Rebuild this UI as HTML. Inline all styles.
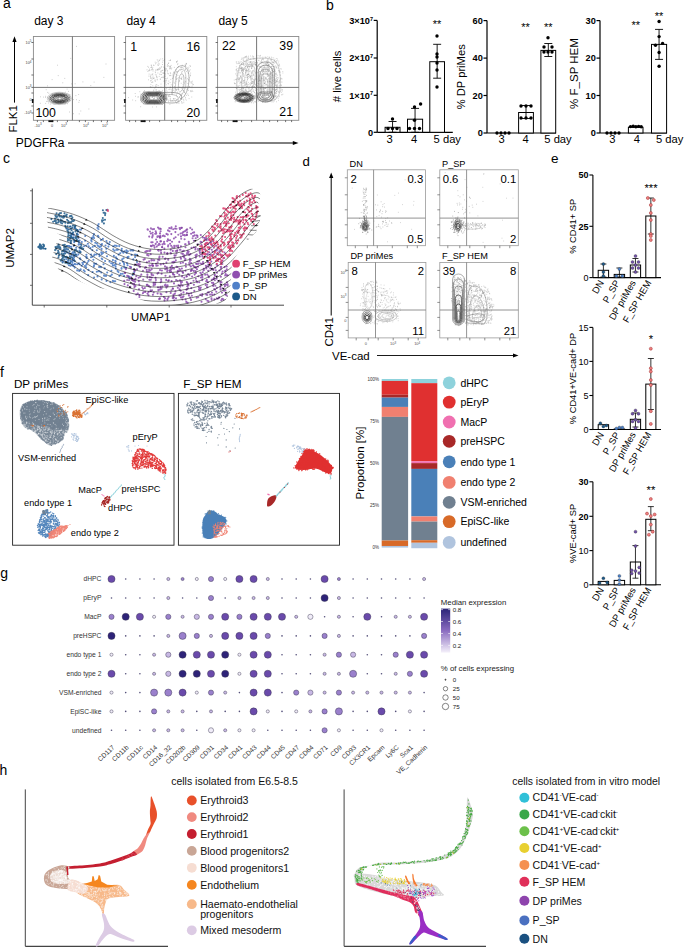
<!DOCTYPE html>
<html><head><meta charset="utf-8"><style>
html,body{margin:0;padding:0;background:#fff;}
svg{display:block;font-family:"Liberation Sans",sans-serif;}
</style></head><body>
<svg width="685" height="947" viewBox="0 0 685 947" font-family="Liberation Sans, sans-serif">
<rect width="685" height="947" fill="#fff"/>
<text x="3" y="8" font-size="14" text-anchor="start" fill="#000">a</text>
<text x="34.199999999999996" y="24.5" font-size="12" text-anchor="start" fill="#000">day 3</text>
<clipPath id="ca0"><rect x="33.4" y="36.5" width="81.2" height="83.8"/></clipPath>
<text x="126.39999999999999" y="24.5" font-size="12" text-anchor="start" fill="#000">day 4</text>
<clipPath id="ca1"><rect x="125.6" y="36.5" width="81.2" height="83.8"/></clipPath>
<text x="218.4" y="24.5" font-size="12" text-anchor="start" fill="#000">day 5</text>
<clipPath id="ca2"><rect x="217.6" y="36.5" width="81.2" height="83.8"/></clipPath>
<g clip-path="url(#ca0)">
<path d="M57.7 100.3h0M57.9 97.4h0M53.0 97.8h0M67.3 100.0h0M66.8 99.4h0M62.3 99.1h0M47.8 101.5h0M63.0 100.2h0M47.7 92.4h0M53.3 96.9h0M61.6 98.3h0M63.1 96.3h0M61.7 99.9h0M54.9 104.5h0M63.4 102.7h0M55.2 95.9h0M57.1 98.1h0M63.9 99.4h0M56.4 95.2h0M55.9 102.8h0M53.8 99.4h0M62.5 93.3h0M59.8 103.1h0M45.4 97.4h0M58.8 95.6h0M63.0 98.3h0M49.2 101.4h0M64.2 101.8h0M69.6 99.8h0M60.3 94.0h0M63.8 96.4h0M56.3 94.1h0M52.7 96.6h0M68.5 91.4h0M49.3 99.3h0M69.6 100.5h0M46.2 89.7h0M62.0 95.9h0M51.7 101.9h0M67.2 99.1h0M61.2 100.0h0M70.7 100.7h0M63.1 100.4h0M48.5 103.0h0M66.2 100.4h0M45.7 96.3h0M65.4 92.2h0M58.2 102.1h0M50.3 104.1h0M63.4 98.0h0M61.8 100.8h0M60.3 102.5h0M54.9 97.0h0M66.8 98.6h0M53.3 101.8h0M69.8 96.9h0M49.8 98.0h0M58.5 97.5h0M69.3 94.9h0M68.3 94.1h0M54.0 100.7h0M67.4 101.5h0M61.9 99.0h0M60.6 100.5h0M58.3 99.5h0M63.5 98.5h0M64.8 100.5h0M73.6 99.6h0M56.5 97.2h0M59.4 101.7h0M57.1 99.9h0M72.4 89.5h0M51.6 99.4h0M62.3 99.3h0M56.5 100.8h0M61.5 96.7h0M76.5 99.7h0M55.6 98.2h0M57.9 98.3h0M40.4 96.8h0M66.6 94.4h0M59.0 101.8h0M65.5 103.7h0M47.6 97.3h0M57.1 100.7h0M67.1 89.1h0M67.1 93.4h0M64.3 93.3h0M60.7 102.7h0M58.5 99.2h0M65.1 99.0h0M58.9 103.9h0M66.8 97.5h0M78.7 94.5h0M65.9 97.6h0M60.4 101.0h0M61.1 100.7h0M48.8 93.2h0M63.8 95.1h0M52.3 93.4h0M68.4 101.1h0M69.8 95.2h0M59.5 94.5h0M64.9 104.1h0M53.3 104.0h0M66.4 97.9h0M45.7 103.4h0M58.8 96.4h0M62.3 99.9h0M70.0 94.9h0M67.5 103.7h0M69.7 97.9h0M54.3 102.1h0M60.3 98.9h0M69.5 97.6h0M43.4 97.1h0M46.5 101.4h0M61.7 96.4h0M59.4 101.4h0M60.1 103.1h0" stroke="#888" stroke-width="0.6" stroke-linecap="round" opacity="0.8" fill="none"/>
<path d="M58.2 75.6h0M49.2 111.4h0M64.8 78.4h0M80.8 111.0h0M69.4 112.0h0M75.1 83.8h0M76.6 46.4h0M70.8 58.4h0M40.3 103.3h0M52.1 79.6h0M90.8 85.6h0M62.8 82.8h0M78.9 102.3h0M47.4 85.9h0M57.4 65.2h0M94.1 82.1h0M79.3 100.5h0M103.9 77.4h0M82.9 81.9h0M75.9 95.6h0M71.7 83.9h0M73.5 113.7h0M88.9 109.0h0M106.0 64.0h0M79.2 113.9h0" stroke="#999" stroke-width="0.6" stroke-linecap="round" opacity="1.0" fill="none"/>
<ellipse cx="59.3" cy="98.4" rx="12" ry="6.2" fill="none" stroke="#aaa" stroke-width="0.6"/>
<ellipse cx="59.37" cy="98.4" rx="10.6" ry="5.3" fill="none" stroke="#666" stroke-width="0.7"/>
<ellipse cx="59.44" cy="98.4" rx="9.2" ry="4.5" fill="none" stroke="#333" stroke-width="0.8"/>
<ellipse cx="59.51" cy="98.4" rx="7.8" ry="3.8" fill="none" stroke="#222" stroke-width="0.8"/>
<ellipse cx="59.58" cy="98.4" rx="6.4" ry="3.1" fill="none" stroke="#222" stroke-width="0.8"/>
<ellipse cx="59.65" cy="98.4" rx="5" ry="2.4" fill="none" stroke="#333" stroke-width="0.8"/>
<ellipse cx="59.724999999999994" cy="98.4" rx="3.5" ry="1.7" fill="none" stroke="#555" stroke-width="0.7"/>
<ellipse cx="59.8" cy="98.4" rx="2" ry="1" fill="none" stroke="#777" stroke-width="0.6"/>
</g>
<g clip-path="url(#ca1)">
<path d="M186.3 64.3h0M151.8 78.3h0M149.5 69.1h0M183.6 99.3h0M153.4 90.9h0M177.7 64.6h0M165.1 80.4h0M153.8 77.9h0M170.7 73.6h0M155.4 72.7h0M172.6 78.3h0M175.9 81.6h0M183.8 102.7h0M151.0 70.2h0M159.0 64.0h0M166.3 99.9h0M185.3 69.9h0M173.4 90.2h0M179.0 77.6h0M176.5 94.9h0M167.8 73.6h0M172.5 100.6h0M158.9 63.9h0M171.3 69.0h0M151.3 65.4h0M148.4 67.3h0M161.0 72.0h0M182.5 71.3h0M170.0 66.2h0M162.7 58.8h0M181.2 83.3h0M155.1 79.8h0M185.3 77.9h0M169.8 96.4h0M164.9 81.3h0M179.0 103.2h0M162.4 96.3h0M179.9 87.3h0M165.4 74.0h0M158.3 65.5h0M187.8 88.8h0M159.5 69.1h0M160.1 79.1h0M153.6 78.5h0M192.7 83.2h0M160.9 74.4h0M168.8 81.1h0M155.6 81.2h0M150.3 76.4h0M160.6 68.7h0M174.1 82.3h0M182.0 88.2h0M180.4 98.4h0M164.7 73.0h0M180.8 87.6h0M188.8 86.9h0M181.2 95.4h0M152.7 82.1h0M170.2 96.4h0M184.6 96.0h0M174.0 99.1h0M178.8 89.9h0M152.4 74.6h0M172.8 86.9h0M176.1 89.3h0M184.3 92.4h0M170.1 82.6h0M177.6 61.0h0M181.4 69.6h0M149.6 70.2h0M181.0 67.4h0M181.5 102.9h0M169.7 75.6h0M169.0 89.5h0M182.8 86.4h0M176.9 61.6h0M153.1 69.7h0M181.7 72.0h0M148.9 70.4h0M178.3 89.8h0M178.4 71.4h0M170.8 79.4h0M168.4 63.5h0M188.9 67.2h0M167.6 70.4h0M156.1 84.7h0M152.8 82.1h0M185.4 81.4h0M188.6 90.4h0M167.6 71.9h0M152.8 73.8h0M161.2 96.7h0M186.3 63.5h0M190.5 90.8h0M189.3 71.3h0M163.9 76.1h0M163.3 77.7h0M159.2 60.2h0M158.0 70.2h0M170.5 66.7h0M188.4 95.4h0M176.3 100.0h0M191.2 83.3h0M181.2 78.7h0M182.1 87.6h0M159.7 60.3h0M168.7 73.8h0M160.3 92.0h0M177.5 71.8h0M172.8 76.1h0M154.0 65.4h0M169.9 68.1h0M167.6 64.4h0M155.2 62.2h0M162.4 62.2h0M157.5 69.9h0M173.3 98.8h0M182.0 77.0h0M165.9 82.1h0M164.1 73.6h0M149.0 70.8h0M170.2 87.0h0M187.4 67.9h0M159.0 69.4h0M165.2 78.5h0M191.8 97.0h0M189.0 79.8h0M164.8 100.6h0M185.6 97.4h0M151.2 65.1h0M171.1 89.4h0M191.2 91.2h0M177.1 93.2h0M168.0 83.4h0M177.0 72.0h0M152.1 69.6h0M176.5 90.1h0M171.2 84.8h0M164.6 68.3h0M160.5 79.2h0M192.0 87.7h0M188.4 79.9h0M157.3 69.4h0M192.1 90.4h0M160.8 59.0h0M169.9 89.0h0M166.2 69.8h0M178.0 100.6h0M162.2 77.3h0M178.8 67.1h0M184.3 92.0h0M170.2 67.4h0M185.4 68.6h0M156.6 93.0h0M169.8 66.6h0M156.7 77.2h0M177.9 101.6h0M153.0 76.1h0M148.9 76.1h0M189.1 98.6h0M190.7 73.1h0M177.9 75.4h0M163.9 73.3h0M159.4 74.2h0M163.1 95.8h0M185.5 77.9h0M148.4 79.8h0M163.9 100.3h0M155.3 74.8h0M165.7 95.3h0M190.2 69.8h0M181.9 99.3h0M162.3 70.5h0M192.0 86.4h0M158.6 91.0h0M161.2 70.7h0M190.0 87.2h0M157.2 79.9h0M164.6 69.5h0M166.6 80.7h0M190.5 66.4h0M184.5 92.0h0M185.5 93.5h0M175.1 73.1h0M161.3 74.6h0M155.5 92.6h0M157.9 61.0h0M158.7 61.9h0M150.6 80.9h0M180.1 78.6h0M157.2 77.2h0M175.8 89.0h0M181.9 97.0h0M177.9 63.6h0M186.4 71.5h0M173.2 75.2h0M181.4 67.2h0M157.9 69.3h0M173.8 73.0h0M170.4 68.6h0M184.8 88.1h0M168.8 95.7h0M186.3 100.1h0M147.9 71.5h0M151.7 66.7h0M192.7 84.8h0M190.6 75.1h0M187.6 78.7h0M158.5 93.8h0M174.6 86.5h0M156.4 75.0h0M152.8 67.4h0M158.2 85.6h0M177.3 67.4h0M178.6 66.5h0M161.0 67.4h0M184.2 83.2h0M165.0 83.3h0M176.7 62.2h0M153.9 90.0h0M165.7 71.0h0M161.0 84.1h0M163.1 77.2h0M163.5 67.1h0M180.9 67.4h0M166.3 95.7h0M165.5 98.6h0M168.1 65.5h0M176.8 99.9h0M150.3 86.6h0M163.8 81.2h0M153.0 71.0h0M171.0 100.6h0M151.2 80.6h0M155.5 63.8h0M169.2 60.5h0M190.5 75.8h0M189.4 86.5h0M185.6 65.4h0M183.7 68.2h0M165.4 96.9h0M185.8 66.4h0M156.5 76.4h0M170.9 75.6h0M151.9 69.4h0M180.8 99.3h0M186.2 63.4h0M174.8 83.3h0M176.1 72.1h0M166.2 84.8h0M166.4 88.3h0M167.4 78.2h0M169.5 68.8h0M182.7 93.9h0M168.0 66.3h0M168.7 62.9h0M152.2 77.8h0M150.4 78.3h0M170.5 59.9h0M176.5 61.8h0M181.2 93.8h0M170.6 60.5h0M170.2 75.4h0M181.1 95.5h0M190.0 65.6h0M183.8 100.8h0M149.1 74.1h0M182.3 65.3h0M189.0 70.6h0M185.2 64.6h0M170.1 100.3h0M156.0 70.1h0M170.3 72.7h0M147.8 66.4h0M178.6 99.2h0M151.5 82.4h0M176.5 74.5h0M187.9 83.5h0M173.8 98.6h0M176.2 76.1h0M184.3 70.2h0M193.5 84.6h0M163.3 93.2h0M167.2 66.1h0M185.4 69.7h0M176.7 103.3h0M174.1 88.5h0M175.6 77.9h0M170.6 99.2h0M152.3 68.5h0M151.1 74.4h0M156.8 84.8h0M174.3 67.4h0M175.9 79.8h0M157.7 64.9h0M150.6 87.4h0M187.8 94.0h0M165.3 70.2h0M173.0 74.1h0M177.0 78.4h0M191.0 91.7h0M165.5 68.9h0M155.6 86.0h0M170.3 87.5h0M185.0 66.0h0M160.9 71.8h0M183.6 90.9h0M181.8 79.4h0M181.6 78.8h0M156.8 62.8h0M157.2 59.8h0M162.1 92.5h0M179.4 96.9h0M180.2 70.2h0M172.6 78.1h0M183.8 82.1h0M158.7 87.5h0M158.5 68.9h0M181.7 101.5h0M181.8 73.0h0M188.2 73.1h0M176.3 89.9h0M177.9 103.0h0M168.5 96.6h0M179.5 97.4h0M167.0 91.3h0M173.4 72.2h0M156.2 86.6h0M162.6 64.5h0M179.2 87.2h0M179.5 91.9h0M163.4 95.6h0M185.3 99.0h0M151.1 67.5h0M186.7 95.4h0M176.4 96.0h0M176.3 71.2h0M182.4 67.4h0M161.3 77.5h0M147.0 69.8h0M159.6 90.9h0M163.7 72.8h0M192.3 81.2h0M186.9 86.4h0M166.9 93.6h0M162.6 90.4h0M171.8 68.0h0M185.4 65.8h0M182.6 103.0h0M169.6 94.7h0M154.9 80.8h0M162.7 96.3h0M159.6 67.9h0M179.6 80.9h0M151.3 87.3h0M179.5 94.2h0M176.1 74.4h0M165.3 76.2h0M155.9 70.1h0M189.3 81.1h0M164.2 98.7h0M157.2 79.2h0M171.5 92.7h0M182.1 87.7h0M162.7 73.0h0M177.8 92.1h0M154.1 78.2h0M183.1 84.6h0M152.1 79.3h0M188.5 68.9h0M155.2 71.9h0M179.8 96.8h0M153.4 65.2h0M157.9 73.0h0M171.1 65.4h0M161.7 66.7h0M192.8 91.5h0M150.9 75.7h0M181.2 78.0h0M155.4 87.3h0M151.1 67.5h0M164.6 59.6h0M165.2 94.4h0M179.3 81.0h0M176.4 79.3h0M152.8 85.8h0M165.4 92.1h0M189.6 77.8h0M173.6 92.5h0M166.2 68.5h0M180.7 98.5h0M183.2 90.2h0M186.9 89.3h0M176.8 78.9h0M161.0 86.9h0M150.7 77.3h0M183.6 90.8h0M176.2 69.5h0M166.3 78.9h0M175.8 76.8h0M178.4 100.8h0M154.8 88.1h0M183.4 75.9h0M191.1 81.9h0M150.9 84.4h0M172.0 91.0h0M170.6 87.4h0M185.8 82.0h0M156.1 89.5h0M164.8 93.1h0M163.1 60.6h0M159.2 76.4h0M166.2 90.1h0M162.9 70.2h0M156.8 92.1h0M191.1 82.2h0M156.5 94.9h0M164.8 67.8h0M184.9 87.2h0M168.5 83.9h0" stroke="#888" stroke-width="0.6" stroke-linecap="round" opacity="0.8" fill="none"/>
<path d="M156.5 106.9h0M145.2 102.0h0M159.9 92.1h0M145.6 98.6h0M148.6 97.5h0M157.2 95.2h0M157.2 95.8h0M148.1 99.9h0M147.8 99.0h0M167.4 98.1h0M151.7 100.6h0M149.7 101.8h0M141.5 100.2h0M148.4 95.2h0M168.9 95.0h0M168.8 100.3h0M166.1 94.6h0M163.8 103.1h0M152.0 97.5h0M175.1 98.6h0M149.2 95.8h0M157.0 99.2h0M154.6 104.0h0M150.0 99.7h0M166.1 94.5h0M162.3 104.4h0M140.8 94.2h0M143.7 91.5h0M157.1 91.5h0M157.5 103.1h0M138.5 96.9h0M135.7 100.7h0M146.4 97.1h0M153.5 99.9h0M149.9 98.1h0M148.1 98.4h0M142.4 98.2h0M135.6 96.3h0M170.2 98.3h0M141.7 98.9h0M144.2 92.2h0M146.4 100.6h0M156.5 97.7h0M144.7 94.2h0M165.1 98.9h0M144.4 90.6h0M140.7 106.7h0M142.7 97.7h0M154.9 97.4h0M150.5 93.2h0M143.5 103.9h0M146.2 101.0h0M137.8 97.0h0M155.3 101.6h0M142.9 100.1h0M156.5 95.4h0M157.3 94.9h0M145.8 97.9h0M128.6 97.6h0M144.0 92.9h0M149.2 100.7h0M149.4 102.4h0M142.6 93.4h0M167.0 99.4h0M161.5 95.1h0M160.2 98.9h0M158.8 98.1h0M163.9 95.7h0M144.3 92.8h0M163.4 95.4h0M143.6 94.7h0M149.0 93.6h0M150.4 95.8h0M148.0 94.6h0M153.3 96.4h0M154.0 98.9h0M156.1 90.3h0M148.2 95.2h0M160.0 92.5h0M146.6 97.0h0M150.0 101.5h0M149.0 101.4h0M139.8 91.7h0M164.0 99.5h0M157.4 98.4h0M157.4 93.7h0M161.5 96.1h0M161.9 98.3h0M135.2 93.5h0M163.1 97.5h0M149.4 98.8h0M149.2 96.1h0M153.9 98.5h0M166.7 98.2h0M169.9 104.3h0M168.4 101.7h0M154.2 98.5h0M151.7 95.4h0M152.4 95.8h0M167.8 99.9h0M149.0 91.3h0M152.5 96.5h0M143.2 94.0h0M132.7 100.0h0M152.4 107.0h0M152.7 97.5h0M166.0 98.5h0M154.5 96.7h0M147.6 103.2h0M162.0 104.0h0M149.9 98.1h0M145.1 101.4h0M140.5 100.0h0M162.9 102.9h0M144.5 101.8h0M146.6 95.4h0M141.1 102.0h0M167.8 95.9h0M146.2 96.8h0M175.6 101.5h0" stroke="#777" stroke-width="0.6" stroke-linecap="round" opacity="0.7" fill="none"/>
<rect x="140.5" y="91.7" width="26.0" height="12.6" rx="5.984999999999999" fill="none" stroke="#777" stroke-width="0.6"/>
<rect x="141.9" y="92.5" width="23.19999999999999" height="11.0" rx="5.225" fill="none" stroke="#444" stroke-width="0.7"/>
<rect x="143.3" y="93.3" width="20.399999999999977" height="9.4" rx="4.465" fill="none" stroke="#222" stroke-width="0.8"/>
<rect x="144.7" y="94.1" width="17.600000000000023" height="7.8" rx="3.7049999999999996" fill="none" stroke="#222" stroke-width="0.8"/>
<rect x="146.1" y="94.8" width="14.800000000000011" height="6.4" rx="3.04" fill="none" stroke="#333" stroke-width="0.8"/>
<rect x="147.5" y="95.5" width="12.0" height="5.0" rx="2.375" fill="none" stroke="#444" stroke-width="0.7"/>
<rect x="149.0" y="96.2" width="9.0" height="3.6" rx="1.71" fill="none" stroke="#666" stroke-width="0.6"/>
<path d="M160 93 C170 92 178 92 181 95 C183 99 180 103 172 103 C166 103 161 102 158 101" fill="none" stroke="#777" stroke-width="0.6"/>
<path d="M160 95 C168 94 176 94 178 97 C179 100 176 101 170 101" fill="none" stroke="#999" stroke-width="0.6"/>
<path d="M172 95 C173 85 172 72 178 67 C184 63 189 68 189 78 C189 88 186 96 181 99" fill="none" stroke="#888" stroke-width="0.6"/>
<path d="M175 93 C176 84 175 74 179 70 C184 67 186 72 186 80 C186 88 184 93 180 96" fill="none" stroke="#aaa" stroke-width="0.6"/>
<path d="M178 90 C179 84 178 77 181 74 C184 73 184 78 184 83 C184 88 182 91 180 92" fill="none" stroke="#999" stroke-width="0.6"/>
</g>
<g clip-path="url(#ca2)">
<path d="M268.5 94.7h0M250.3 84.1h0M281.9 94.9h0M263.5 69.8h0M255.0 97.6h0M252.5 87.9h0M263.5 98.0h0M273.6 68.6h0M254.7 83.2h0M274.0 97.6h0M236.1 95.0h0M273.8 96.6h0M262.0 68.1h0M275.7 93.7h0M267.5 98.9h0M251.0 59.1h0M261.1 93.3h0M243.8 91.0h0M279.7 66.2h0M263.7 87.5h0M256.8 64.9h0M246.5 91.1h0M272.8 77.1h0M238.3 93.7h0M271.8 66.2h0M262.4 98.1h0M277.4 80.0h0M257.4 83.3h0M243.3 64.2h0M242.9 88.7h0M251.8 82.1h0M253.7 79.8h0M282.9 73.0h0M239.2 85.4h0M272.6 62.5h0M263.3 71.6h0M259.5 56.0h0M276.4 78.3h0M261.8 67.6h0M272.2 75.4h0M280.4 91.8h0M274.1 101.2h0M246.4 56.8h0M243.8 63.7h0M261.3 96.8h0M256.5 100.5h0M263.3 74.1h0M239.9 101.0h0M246.6 82.1h0M265.4 100.9h0M266.8 73.9h0M256.0 62.7h0M244.9 56.9h0M246.5 71.9h0M278.2 98.4h0M272.5 89.1h0M265.7 102.3h0M236.7 62.0h0M271.0 100.1h0M267.2 69.3h0M263.0 91.4h0M239.2 70.5h0M246.6 61.0h0M257.6 63.1h0M245.7 61.9h0M269.1 64.4h0M244.8 99.8h0M276.5 97.7h0M240.8 76.5h0M238.8 99.6h0M275.3 85.2h0M256.2 71.3h0M274.3 77.9h0M264.8 61.9h0M244.9 57.7h0M269.0 81.6h0M241.1 96.8h0M247.1 74.8h0M241.6 68.0h0M275.1 71.1h0M242.2 78.6h0M249.6 98.4h0M236.8 98.0h0M266.7 65.1h0M257.4 68.7h0M246.6 64.7h0M251.8 102.6h0M238.8 68.9h0M269.6 69.1h0M273.5 71.4h0M274.8 80.3h0M243.1 75.9h0M278.7 65.5h0M262.0 61.6h0M242.8 92.0h0M268.9 64.4h0M263.8 78.8h0M247.4 64.9h0M264.0 89.0h0M273.8 83.0h0M243.9 58.2h0M269.9 74.6h0M269.4 57.7h0M273.7 71.1h0M275.3 96.5h0M258.2 55.7h0M278.6 77.9h0M276.7 67.8h0M243.1 94.9h0M252.0 62.8h0M252.2 83.6h0M234.2 80.0h0M255.8 79.8h0M239.9 89.3h0M274.0 96.5h0M249.7 89.1h0M252.7 91.1h0M237.0 96.9h0M280.7 78.8h0M259.2 80.5h0M260.3 56.0h0M242.9 59.9h0M246.3 94.2h0M268.2 64.4h0M234.9 83.8h0M262.2 80.1h0M268.4 59.9h0M276.6 89.4h0M258.2 79.0h0M247.7 60.9h0M253.9 61.6h0M263.0 96.3h0M241.2 82.5h0M270.6 62.9h0M274.5 100.0h0M253.0 75.2h0M275.1 80.2h0M253.4 100.2h0M272.1 71.3h0M245.8 71.1h0M255.3 102.1h0M273.4 98.8h0M273.9 95.7h0M236.6 79.8h0M246.2 75.3h0M265.0 72.5h0M260.0 58.3h0M255.2 79.2h0M281.5 92.3h0M279.9 85.4h0M273.7 97.4h0M265.4 67.8h0M267.2 68.1h0M260.6 99.4h0M264.4 67.0h0M259.5 75.8h0M280.6 68.8h0M249.0 86.1h0M239.9 83.5h0M280.8 79.7h0M247.2 77.4h0M260.2 62.1h0M240.1 61.3h0M248.4 74.5h0M248.1 66.7h0M238.3 81.2h0M275.1 84.3h0M261.9 86.2h0M243.9 89.1h0M256.6 81.3h0M264.0 77.5h0M249.2 66.6h0M244.9 79.6h0M252.8 83.1h0M276.2 66.4h0M261.3 78.6h0M248.0 102.4h0M248.5 92.1h0M241.8 58.2h0M276.7 76.1h0M237.0 73.6h0M255.6 90.3h0M239.4 65.8h0M281.0 90.5h0M241.6 71.2h0M251.3 87.4h0M264.2 95.8h0M274.2 79.9h0M270.2 90.7h0M271.2 77.8h0M272.5 89.0h0M278.8 61.1h0M271.5 83.1h0M258.4 101.2h0M262.0 75.1h0M272.4 96.9h0M263.8 73.2h0M256.2 77.0h0M269.4 69.1h0M253.1 81.7h0M252.8 70.5h0M272.6 95.8h0M258.5 76.3h0M243.0 69.6h0M241.1 82.6h0M262.5 59.2h0M279.1 70.5h0M275.3 95.2h0M254.9 98.7h0M261.7 78.9h0M279.1 92.1h0M259.4 79.8h0M267.6 73.7h0M251.5 83.5h0M251.2 100.5h0M267.1 80.2h0M238.8 73.0h0M253.6 81.9h0M262.1 97.2h0M281.3 78.4h0M255.6 85.0h0M282.8 71.5h0M260.0 94.2h0M242.4 70.3h0M281.9 94.6h0M259.1 60.3h0M277.8 88.1h0M277.5 75.2h0M241.7 68.9h0M259.1 79.2h0M243.2 63.8h0M264.9 84.0h0M251.3 102.7h0M265.2 57.0h0M254.2 92.8h0M249.0 88.2h0M275.3 83.1h0M266.7 64.4h0M258.4 81.6h0M247.0 86.0h0M262.1 74.7h0M240.0 62.5h0M271.2 60.1h0M238.9 63.2h0M259.6 94.5h0M264.0 93.7h0M271.8 70.5h0M269.1 72.0h0M242.3 67.8h0M238.9 98.4h0M262.5 71.7h0M256.0 73.5h0M236.7 97.7h0M262.6 101.1h0M255.5 84.8h0M246.2 57.1h0M279.6 96.0h0M249.4 98.1h0M274.0 69.6h0M263.5 101.1h0M258.3 100.6h0M245.9 73.7h0M269.2 65.6h0M249.1 97.0h0M257.7 93.1h0M245.9 63.3h0M251.6 64.0h0M281.6 69.0h0M261.5 60.5h0M260.2 73.5h0M253.8 58.1h0M240.0 94.6h0M251.2 66.8h0M243.4 68.6h0M245.6 56.7h0M266.5 71.4h0M241.6 88.9h0M238.5 67.9h0M274.9 61.1h0M255.7 95.1h0M273.4 62.6h0M251.3 89.7h0M252.5 101.0h0M244.2 100.6h0M258.7 65.9h0M256.2 61.3h0M268.6 67.5h0M278.1 83.2h0M252.0 66.8h0M263.8 65.2h0M276.7 60.9h0M259.1 81.0h0M247.3 92.0h0M252.9 86.6h0M261.8 69.9h0M253.1 59.1h0M242.7 95.8h0M249.7 86.8h0M239.3 82.0h0M251.7 79.0h0M248.6 58.2h0M249.3 65.9h0M240.2 89.4h0M247.8 74.4h0M278.5 92.2h0M277.3 96.3h0M240.5 68.3h0M235.4 87.6h0M266.5 71.9h0M254.2 86.6h0M268.3 66.9h0M275.5 71.9h0M264.8 63.7h0M239.6 98.8h0M270.0 89.2h0M241.9 64.5h0M248.9 73.3h0M235.9 69.9h0M265.3 63.6h0M275.1 82.4h0M269.1 67.2h0M255.3 87.8h0M274.9 92.3h0M248.0 57.1h0M275.9 84.2h0M236.3 66.7h0M239.4 93.0h0M244.3 98.9h0M270.7 59.1h0M268.0 73.9h0M270.6 94.8h0M247.8 59.3h0M280.4 75.4h0M279.6 88.2h0M270.2 94.8h0M264.8 76.7h0M236.7 88.5h0M255.0 79.6h0M271.3 57.1h0M268.4 93.7h0M246.8 81.2h0M281.5 85.6h0M260.7 67.0h0M236.9 72.2h0M254.2 64.7h0M249.2 61.6h0M268.6 87.2h0M245.7 66.6h0M259.3 76.4h0M279.9 71.9h0M248.7 97.5h0M241.0 82.0h0M250.3 94.1h0M260.9 91.5h0M242.3 87.0h0M263.3 77.1h0M271.5 94.9h0M239.6 68.9h0M251.7 64.9h0M237.0 68.5h0M243.7 88.7h0M256.0 60.4h0M249.9 77.5h0M251.8 63.1h0M282.6 91.0h0M238.1 89.4h0M282.0 82.1h0M239.3 78.5h0M255.3 64.1h0M260.6 55.4h0M279.1 85.9h0M264.8 99.9h0M266.0 67.1h0M246.1 61.7h0M235.4 92.2h0M275.1 69.2h0M243.1 85.6h0M275.4 99.5h0M242.3 92.7h0M274.7 90.6h0M250.0 63.9h0M274.4 70.4h0M252.1 81.5h0M252.1 94.9h0M245.7 57.0h0M261.8 85.2h0M274.2 88.9h0M278.4 100.4h0M258.2 79.0h0M241.7 69.4h0M262.5 58.9h0M267.7 62.9h0M255.7 101.6h0M255.5 64.2h0M275.2 96.1h0M272.6 75.4h0M247.9 86.8h0M259.2 75.2h0M250.6 76.1h0M266.6 94.7h0M278.3 62.9h0M248.5 76.3h0M261.6 71.7h0M243.6 59.1h0M249.9 77.1h0M276.4 101.8h0M281.1 84.8h0M273.7 57.9h0M267.1 84.2h0M248.6 82.4h0M280.7 78.1h0M265.7 69.4h0M250.8 97.5h0M267.3 76.5h0M238.2 86.7h0M252.2 82.9h0M254.4 80.4h0M261.7 74.0h0M239.6 63.7h0M277.6 81.3h0M239.5 96.4h0M246.4 59.6h0M260.0 67.1h0M258.0 81.6h0M245.1 82.5h0M239.5 79.6h0M262.8 58.9h0M254.0 58.5h0M255.5 96.4h0M261.0 89.3h0M271.1 60.5h0M282.5 89.6h0M239.0 94.9h0M253.2 63.2h0M281.0 82.0h0M272.0 61.6h0M272.0 57.8h0M245.6 72.9h0M234.7 83.5h0M244.4 69.4h0M268.7 75.4h0M277.5 84.8h0M276.7 82.0h0M279.0 96.8h0M242.2 90.8h0M250.7 91.7h0M267.3 94.6h0M240.0 72.9h0M270.1 100.5h0M269.4 57.1h0M263.6 59.8h0M260.9 93.5h0M239.5 99.4h0M267.1 67.2h0M243.5 76.4h0M275.1 82.9h0M239.4 93.4h0M243.1 81.6h0M248.2 88.0h0M252.7 61.9h0M276.9 80.8h0M267.8 93.8h0M250.8 62.2h0M258.6 96.9h0M242.9 94.3h0M267.3 73.8h0M257.3 62.6h0M275.4 73.9h0M276.8 84.3h0M237.7 70.8h0M244.6 97.9h0M262.9 57.1h0M242.3 72.3h0M256.9 82.7h0M253.0 72.0h0M234.3 82.8h0M250.4 56.0h0M256.5 102.3h0M236.2 62.0h0M266.9 68.1h0M247.4 79.0h0M246.8 82.3h0M259.9 100.9h0M261.5 92.0h0M276.7 92.2h0M265.0 85.5h0M251.8 68.5h0M273.0 96.9h0M280.0 87.7h0M248.9 91.6h0M270.2 79.4h0M265.1 71.8h0M261.0 74.5h0M237.0 71.2h0M249.8 102.4h0M257.6 72.6h0M245.9 66.3h0M251.1 61.5h0M256.2 76.4h0M261.9 69.5h0M242.3 58.2h0M248.8 69.8h0M269.6 81.5h0M279.9 71.3h0M279.1 83.0h0M237.9 63.6h0M262.4 102.4h0M251.5 92.2h0M255.0 96.7h0M237.3 78.3h0M278.1 68.2h0M246.6 56.1h0M242.1 67.9h0M268.5 65.5h0M253.6 64.6h0M263.5 96.5h0M265.8 64.4h0M270.0 101.2h0M263.5 58.8h0M273.7 97.0h0M250.7 61.6h0M243.2 80.8h0M276.9 85.7h0M279.2 65.2h0M250.0 91.0h0M265.8 74.5h0M267.3 71.2h0M236.8 74.9h0M236.2 85.1h0M250.4 78.7h0M263.3 67.3h0M256.7 55.7h0M279.3 82.1h0M264.1 89.8h0M250.1 59.5h0M241.7 61.8h0M271.6 59.3h0M273.9 75.3h0M260.4 83.2h0M261.2 86.6h0M263.5 70.9h0M270.3 67.4h0M268.9 91.6h0M272.0 69.8h0M271.9 101.9h0M256.2 68.4h0M259.6 100.2h0M257.3 86.5h0M271.9 72.4h0M271.1 59.3h0M236.9 79.1h0M261.2 63.7h0M280.0 72.5h0M241.3 63.5h0M270.1 99.2h0M272.1 66.6h0M282.1 78.9h0M265.2 71.5h0M273.2 77.1h0M249.9 98.4h0M239.3 90.2h0M237.2 86.0h0M253.7 96.5h0M236.9 82.1h0M254.1 99.1h0M280.3 85.1h0M245.0 67.1h0M246.9 75.8h0M245.3 64.8h0M271.2 85.9h0M248.6 102.7h0M244.6 82.3h0M241.7 96.4h0M276.6 67.8h0M270.8 94.5h0M247.8 70.9h0M257.8 97.8h0M241.9 87.8h0M263.3 76.7h0M262.4 97.4h0M244.3 97.4h0M251.7 92.4h0M276.3 63.8h0M248.6 56.2h0M241.4 90.3h0M238.8 63.1h0M267.5 59.3h0M250.6 99.1h0M269.1 97.3h0M245.5 93.0h0M267.8 56.8h0M258.7 66.1h0M255.1 60.0h0M249.5 97.2h0M239.9 78.4h0M240.7 75.6h0M242.8 87.9h0M241.2 90.4h0M258.5 60.4h0M251.3 78.8h0M279.0 71.8h0M244.5 101.4h0M277.3 90.1h0M247.4 63.5h0M247.0 58.3h0M236.1 79.4h0M254.0 81.7h0M267.7 86.3h0M260.7 81.3h0M267.8 102.2h0M276.8 89.5h0M253.6 70.3h0M254.5 101.7h0M253.0 73.5h0M254.1 61.9h0M263.8 99.5h0M246.5 84.3h0M252.5 66.6h0M243.7 60.6h0M275.3 92.6h0M268.0 70.6h0M265.7 81.3h0M249.5 101.6h0M275.8 79.5h0M245.5 85.2h0M270.4 73.2h0M268.9 73.9h0M259.8 84.4h0M267.2 70.5h0M264.8 81.1h0M244.9 84.4h0M247.0 98.6h0M257.2 89.6h0M259.6 77.9h0M244.8 61.8h0M279.4 80.4h0M259.7 80.3h0M273.9 66.5h0M242.4 94.5h0M256.6 85.7h0M274.5 97.9h0M252.7 94.9h0M274.1 60.9h0M241.5 67.1h0M239.0 72.1h0M273.4 80.0h0M256.2 59.2h0M253.4 102.9h0M268.1 76.6h0M257.4 93.3h0M271.2 62.2h0M267.3 72.6h0M259.5 66.4h0M252.2 71.3h0M252.7 55.9h0M243.8 82.4h0M236.8 63.6h0M269.2 68.2h0M249.9 66.6h0M274.9 59.4h0M265.2 96.2h0M243.9 75.3h0M272.8 84.7h0M252.2 57.1h0M255.7 72.6h0M268.9 69.2h0M254.0 86.1h0M273.7 71.9h0M252.9 82.8h0M279.3 64.2h0M281.6 89.2h0M252.2 86.9h0M250.1 58.4h0M271.0 73.2h0M259.8 78.8h0M278.2 91.3h0M235.3 83.5h0M256.7 77.2h0M275.1 74.9h0M257.2 97.7h0M255.6 78.6h0M259.1 94.6h0M266.8 90.5h0M253.7 56.9h0M267.3 81.6h0M271.7 92.0h0M239.8 65.6h0M237.8 94.2h0M270.9 82.1h0M236.7 87.7h0M268.8 78.2h0M236.7 88.2h0M254.5 83.0h0M282.9 94.2h0M276.7 62.0h0M250.4 79.9h0M247.5 67.6h0M249.3 67.2h0M276.1 81.7h0M259.0 75.2h0M236.5 69.6h0M276.5 93.5h0M276.0 67.3h0M243.9 57.5h0M260.3 72.9h0M256.7 78.5h0M262.6 72.6h0M273.3 64.6h0M279.0 81.7h0M236.5 70.1h0M260.1 74.6h0M261.7 70.5h0M247.4 93.2h0M248.3 89.1h0M273.3 83.4h0M256.3 99.9h0M255.8 97.1h0M236.8 75.8h0M265.3 57.4h0M276.3 58.5h0M263.2 63.6h0M279.2 81.9h0M273.2 78.9h0M267.0 87.4h0M248.4 65.1h0M275.1 62.0h0M279.0 64.9h0M272.4 100.6h0M254.3 86.6h0M246.6 98.5h0M267.6 62.4h0M236.8 88.4h0M236.0 95.1h0M248.4 66.2h0M262.5 70.3h0M261.5 62.4h0M278.7 70.6h0M275.2 62.3h0M273.2 102.0h0M253.2 56.6h0M252.6 85.8h0M244.9 81.2h0M238.6 77.3h0M269.7 75.6h0M267.3 60.5h0M274.6 60.9h0M280.0 80.3h0M248.2 71.7h0M270.8 78.8h0M257.8 96.5h0M263.3 81.0h0M238.3 61.7h0M247.3 97.9h0M275.4 65.9h0M263.3 101.4h0M250.9 100.3h0M266.2 57.4h0M250.3 76.6h0M246.1 90.6h0M242.8 92.8h0M248.6 58.3h0M261.4 59.6h0M261.0 92.8h0M263.2 77.1h0M235.7 79.6h0M238.8 86.0h0M240.5 82.7h0M251.3 73.0h0M266.5 62.9h0M242.3 100.2h0M250.2 95.4h0M276.8 78.1h0M241.3 59.5h0M277.1 60.6h0M258.3 80.7h0M239.8 77.5h0M242.0 80.7h0M258.8 72.6h0M243.7 74.4h0M244.0 61.1h0M245.8 96.8h0M258.6 97.7h0M257.9 93.0h0M262.0 88.1h0M245.2 91.0h0M241.5 67.7h0M235.5 73.9h0M259.4 69.0h0M277.6 59.0h0M262.3 66.2h0M263.2 92.6h0M268.8 58.0h0M246.0 83.8h0M264.3 88.2h0M273.9 71.4h0M273.7 77.2h0M280.1 74.8h0M253.9 59.2h0M246.0 90.2h0M267.3 62.3h0" stroke="#999" stroke-width="0.6" stroke-linecap="round" opacity="0.8" fill="none"/>
<path d="M251.8 65.6h0M245.9 68.8h0M251.2 99.0h0M257.2 79.9h0M269.2 96.3h0M268.1 85.5h0M246.0 85.0h0M271.8 91.5h0M241.7 88.7h0M252.0 66.5h0M276.6 86.9h0M267.8 65.4h0M271.1 97.5h0M274.2 89.8h0M271.3 92.1h0M261.6 77.4h0M271.0 91.4h0M272.8 72.0h0M276.4 81.3h0M276.7 91.5h0M248.1 93.5h0M247.3 67.9h0M256.3 69.5h0M257.7 96.3h0M265.4 88.4h0M253.7 91.4h0M269.7 87.3h0M275.7 93.0h0M254.2 63.5h0M264.1 93.5h0M251.6 83.8h0M271.5 91.7h0M238.2 79.6h0M270.5 76.7h0M262.2 78.3h0M251.4 68.5h0M252.1 93.8h0M262.8 71.7h0M241.5 70.8h0M266.0 77.7h0M264.4 92.3h0M242.8 87.3h0M239.7 92.9h0M245.4 70.9h0M276.3 74.5h0M247.0 95.6h0M262.4 95.8h0M253.8 80.0h0M276.2 80.3h0M271.2 66.5h0M245.0 97.8h0M256.2 92.4h0M248.0 74.1h0M242.0 82.1h0M272.5 80.6h0M253.1 97.1h0M273.8 86.7h0M241.0 85.0h0M255.8 98.3h0M252.5 86.4h0M263.3 75.0h0M258.9 87.1h0M274.3 79.9h0M252.5 99.0h0M240.3 93.4h0M265.3 82.3h0M255.9 90.0h0M273.6 89.2h0M268.0 61.4h0M251.0 65.5h0M276.1 95.7h0M243.8 83.5h0M261.1 61.9h0M253.7 89.9h0M263.7 71.2h0M268.5 71.6h0M259.8 76.8h0M277.1 86.0h0M270.2 87.1h0M253.2 98.5h0M266.4 87.6h0M249.1 66.5h0M261.0 93.0h0M269.7 73.9h0M243.6 80.6h0M273.1 66.5h0M267.5 66.8h0M250.5 62.1h0M249.9 75.3h0M245.5 72.4h0M250.8 77.5h0M242.3 70.4h0M253.8 75.4h0M246.2 96.4h0M256.0 93.5h0M263.5 91.1h0M250.6 66.1h0M268.3 78.8h0M260.3 86.8h0M268.1 71.0h0M252.5 96.7h0M259.2 71.5h0M263.2 70.4h0M268.9 61.7h0M271.1 82.7h0M252.1 97.6h0M248.6 69.7h0M240.8 81.9h0M268.1 87.1h0M254.5 92.3h0M242.5 72.3h0M263.8 98.7h0M263.4 87.7h0M269.0 75.8h0M275.6 89.7h0M251.7 75.7h0M270.2 74.0h0M245.4 94.9h0M259.3 80.8h0M264.8 96.1h0M243.3 73.5h0M240.6 76.5h0M258.1 94.1h0M264.7 83.1h0M254.1 82.9h0M249.0 93.8h0M269.5 93.5h0M244.0 86.9h0M268.2 80.0h0M273.9 96.0h0M267.7 92.8h0M264.0 95.1h0M243.3 88.2h0M266.2 84.5h0M249.0 62.7h0M262.1 93.0h0M248.9 68.5h0M247.0 63.8h0M265.0 99.0h0M270.1 74.4h0M266.0 62.9h0M271.5 73.0h0M243.6 71.0h0M240.4 77.8h0M260.2 92.3h0M239.6 93.1h0M242.4 69.0h0M263.2 73.6h0M251.2 82.7h0M246.7 91.7h0M246.4 93.6h0M270.3 81.5h0M239.2 91.1h0M239.1 80.2h0M255.0 62.5h0M263.2 89.0h0M261.4 76.0h0M258.5 83.6h0M247.1 94.7h0M276.5 73.2h0M257.1 65.3h0M256.2 87.3h0M266.3 78.2h0M251.7 67.6h0M254.1 71.3h0M245.8 89.4h0M258.6 77.5h0M245.9 88.1h0M245.9 70.6h0M260.4 88.0h0M276.9 89.9h0M275.9 96.8h0M266.9 88.8h0M240.5 68.2h0M266.9 85.2h0M248.6 74.2h0M244.5 85.3h0M239.8 67.0h0M252.2 96.0h0M270.2 78.2h0M242.1 64.3h0M244.2 91.1h0M256.9 99.6h0M274.5 91.8h0M257.0 92.9h0M243.1 64.4h0M260.5 80.3h0M246.4 70.1h0M266.4 97.8h0M277.2 77.5h0M267.3 75.4h0M270.5 93.7h0M246.6 83.4h0M271.2 91.4h0M256.5 61.7h0M273.6 81.4h0M240.8 72.9h0M263.0 95.4h0M257.4 85.6h0M246.2 69.7h0M274.2 75.3h0M242.2 83.6h0M243.0 68.0h0M256.3 83.4h0M263.5 88.3h0M255.6 62.7h0M267.0 62.2h0M256.8 76.0h0M264.9 88.5h0M247.6 86.0h0M265.7 78.9h0M243.7 96.4h0M262.0 62.5h0M247.5 99.5h0M247.1 75.7h0M269.5 93.0h0M263.4 89.7h0M247.6 97.2h0M246.8 86.9h0M275.2 85.5h0M274.8 70.5h0M268.3 64.2h0M276.9 88.4h0M245.5 92.3h0M244.5 80.5h0M242.2 91.5h0M273.6 96.7h0M260.2 92.9h0M258.1 84.8h0M261.8 92.0h0M259.8 71.6h0M271.2 92.5h0M256.3 64.9h0M264.0 68.3h0M255.2 64.4h0M277.1 81.8h0M252.1 63.8h0M267.2 94.0h0M271.9 64.1h0M252.7 72.1h0M268.5 65.9h0M262.3 99.1h0M241.0 64.5h0M265.7 84.0h0M258.8 78.2h0M254.3 84.4h0M263.9 96.7h0M267.3 91.9h0M274.5 93.5h0M266.7 61.2h0M265.2 94.0h0M255.2 95.1h0M245.2 97.7h0M255.7 88.3h0M248.1 72.0h0M251.9 73.0h0M241.8 77.7h0M277.2 86.2h0M275.3 90.5h0M271.5 99.8h0M268.1 71.0h0M248.0 76.5h0M273.5 96.8h0M251.1 90.8h0M269.0 95.6h0M269.8 81.3h0M242.2 93.0h0M250.5 85.1h0M252.7 81.5h0M259.2 86.0h0M259.5 97.5h0M254.3 96.6h0M265.6 98.7h0M241.6 68.5h0M249.5 96.3h0M266.6 99.6h0M245.1 77.5h0M265.5 87.6h0M267.8 90.1h0M247.9 70.3h0M239.1 87.6h0M246.4 70.4h0M276.6 85.7h0M261.6 86.2h0M261.9 87.8h0M250.2 62.6h0M252.5 65.7h0M242.5 79.7h0M276.8 87.5h0M248.9 90.8h0M245.1 64.0h0M250.1 76.4h0M265.6 77.8h0M267.1 63.8h0M275.3 73.7h0M271.2 69.1h0M272.2 92.1h0M264.8 71.1h0M274.2 66.3h0M264.4 83.5h0M264.4 67.2h0M243.7 63.9h0M264.1 82.8h0M246.9 62.6h0M243.2 98.5h0M252.5 88.9h0M243.5 91.5h0M248.1 74.6h0M258.9 64.5h0M247.9 91.8h0M249.4 75.2h0M268.6 69.0h0M245.8 68.8h0M253.4 74.6h0M263.7 78.9h0M272.8 62.0h0M264.5 93.5h0M255.5 64.6h0M256.4 88.5h0M241.7 64.7h0M257.2 67.0h0M247.2 77.6h0M252.4 78.8h0M275.5 82.2h0M240.9 68.9h0M267.8 82.5h0M272.8 98.5h0M272.3 64.4h0M275.7 81.0h0M247.6 66.8h0M272.6 68.5h0M241.3 70.6h0M275.0 78.4h0M267.3 63.0h0M256.1 72.7h0M246.2 86.5h0M252.4 64.8h0M277.4 79.3h0M264.1 80.6h0M239.0 78.8h0M267.6 81.5h0M247.4 80.0h0M262.2 86.0h0M243.8 92.1h0M275.8 89.6h0M272.3 74.7h0M274.1 67.3h0M247.1 83.9h0M274.1 63.3h0M255.6 65.6h0M245.7 90.0h0M261.3 97.6h0M254.1 87.2h0M247.3 79.1h0M258.5 97.9h0M257.7 99.7h0M262.8 68.7h0M271.4 68.1h0M247.1 98.4h0M250.9 76.3h0M251.7 86.7h0M238.9 75.0h0M244.5 93.1h0M248.3 78.2h0M260.5 88.5h0M243.5 69.6h0M242.8 98.4h0M244.0 65.5h0M258.9 83.3h0M273.5 62.3h0M247.4 66.7h0M261.4 78.1h0M254.4 95.5h0M264.5 94.4h0M275.7 76.3h0M240.1 96.6h0M249.6 71.6h0M254.8 81.2h0M272.0 92.3h0M264.1 80.5h0M242.7 69.7h0M264.3 83.5h0M270.0 96.0h0M241.0 95.9h0M260.8 67.3h0M265.7 70.2h0M247.5 74.7h0M259.0 87.1h0M240.9 89.7h0M263.0 78.9h0M264.9 92.0h0M238.4 79.0h0M265.1 88.4h0M263.9 67.2h0M276.3 91.4h0M247.3 77.2h0M254.4 98.5h0M274.0 69.3h0M267.4 74.4h0M264.5 90.7h0" stroke="#777" stroke-width="0.6" stroke-linecap="round" opacity="0.7" fill="none"/>
<path d="M238 98 C236 88 236 70 242 63 C250 57 266 57 274 60 C280 64 281 78 280 90 C279 99 274 102 262 102" fill="none" stroke="#aaa" stroke-width="0.6"/>
<path d="M242 90 C241 80 242 70 246 66 C250 63 254 64 255 70 C256 78 254 86 251 90 C249 92 245 93 242 90 Z" fill="none" stroke="#aaa" stroke-width="0.6"/>
<path d="M245 84 C244 78 245 72 248 70 C251 69 252 73 252 78 C252 83 249 86 245 84 Z" fill="none" stroke="#bbb" stroke-width="0.5"/>
<rect x="256.5" y="62.0" width="18" height="40" rx="8.181818181818182" fill="none" stroke="#888" stroke-width="0.7"/>
<rect x="258.25" y="65.25" width="14.5" height="35" rx="6.59090909090909" fill="none" stroke="#777" stroke-width="0.7"/>
<rect x="260.0" y="69.15" width="11" height="29" rx="5.0" fill="none" stroke="#888" stroke-width="0.7"/>
<rect x="261.5" y="73.7" width="8" height="22" rx="3.6363636363636362" fill="none" stroke="#999" stroke-width="0.6"/>
<rect x="263.0" y="78.9" width="5" height="14" rx="2.2727272727272725" fill="none" stroke="#aaa" stroke-width="0.6"/>
<rect x="257.5" y="92.0" width="16" height="9" rx="4.5" fill="none" stroke="#666" stroke-width="0.7"/>
<rect x="259.5" y="93.5" width="12" height="6" rx="3.0" fill="none" stroke="#777" stroke-width="0.6"/>
<rect x="262.0" y="94.75" width="7" height="3.5" rx="1.75" fill="none" stroke="#888" stroke-width="0.6"/>
<path d="M246.5 98.7h0M244.9 99.3h0M246.6 97.8h0M239.7 98.8h0M249.8 98.9h0M250.1 96.4h0M239.2 100.3h0M241.1 98.0h0M243.1 97.5h0M242.7 96.3h0M235.2 101.8h0M245.0 93.2h0M239.5 95.0h0M240.4 91.7h0M246.8 101.2h0M242.8 99.2h0M246.9 94.7h0M250.0 93.7h0M241.2 96.7h0M250.2 97.8h0M243.4 95.7h0M244.4 97.6h0M247.6 100.6h0M247.6 97.5h0M243.3 101.1h0M245.0 97.5h0M252.8 101.0h0M246.8 97.3h0M240.9 99.9h0M241.8 99.7h0M240.2 97.7h0M246.0 97.8h0M245.1 98.4h0M238.5 95.0h0M243.3 101.6h0M243.4 95.4h0M240.8 97.6h0M249.8 96.2h0M246.7 97.9h0M242.3 95.4h0M243.3 95.9h0M246.6 93.5h0M249.5 99.2h0M246.8 100.9h0M246.9 93.7h0M244.3 98.5h0M240.7 95.0h0M246.1 98.6h0M241.9 97.0h0M241.5 96.2h0M243.7 99.9h0M236.1 96.7h0M251.9 98.2h0M244.8 99.4h0M239.1 94.8h0M235.9 94.2h0M245.2 99.4h0M242.0 96.0h0M246.0 98.9h0M245.3 93.2h0M241.3 91.8h0M245.2 95.6h0M240.8 100.9h0M250.4 98.6h0M245.3 97.9h0M241.1 97.4h0M253.3 95.5h0M240.8 97.9h0M248.3 99.4h0M239.3 97.2h0" stroke="#666" stroke-width="0.6" stroke-linecap="round" opacity="0.8" fill="none"/>
<ellipse cx="244" cy="97.6" rx="10" ry="5" fill="none" stroke="#666" stroke-width="0.7"/>
<ellipse cx="244" cy="97.6" rx="8.8" ry="4.3" fill="none" stroke="#333" stroke-width="0.8"/>
<ellipse cx="244" cy="97.6" rx="7.6" ry="3.7" fill="none" stroke="#222" stroke-width="0.8"/>
<ellipse cx="244" cy="97.6" rx="6.4" ry="3.1" fill="none" stroke="#222" stroke-width="0.8"/>
<ellipse cx="244" cy="97.6" rx="5.2" ry="2.5" fill="none" stroke="#333" stroke-width="0.8"/>
<ellipse cx="244" cy="97.6" rx="3.9" ry="1.9" fill="none" stroke="#555" stroke-width="0.7"/>
</g>
<rect x="33.4" y="36.5" width="81.2" height="83.8" fill="none" stroke="#8a8a8a" stroke-width="0.9"/>
<line x1="72.4" y1="36.5" x2="72.4" y2="120.3" stroke="#666" stroke-width="0.9"/>
<line x1="33.4" y1="87.4" x2="114.6" y2="87.4" stroke="#666" stroke-width="0.9"/>
<line x1="31.4" y1="42.5" x2="33.4" y2="42.5" stroke="#333" stroke-width="0.7"/>
<line x1="31.4" y1="59" x2="33.4" y2="59" stroke="#333" stroke-width="0.7"/>
<line x1="31.4" y1="75" x2="33.4" y2="75" stroke="#333" stroke-width="0.7"/>
<line x1="31.4" y1="87.4" x2="33.4" y2="87.4" stroke="#333" stroke-width="0.7"/>
<line x1="31.4" y1="93" x2="33.4" y2="93" stroke="#333" stroke-width="0.7"/>
<line x1="31.4" y1="100" x2="33.4" y2="100" stroke="#333" stroke-width="0.7"/>
<line x1="31.4" y1="106" x2="33.4" y2="106" stroke="#333" stroke-width="0.7"/>
<line x1="31.4" y1="113" x2="33.4" y2="113" stroke="#333" stroke-width="0.7"/>
<rect x="31.9" y="99" width="1.5" height="4" fill="#111"/>
<line x1="37.4" y1="120.3" x2="37.4" y2="122.1" stroke="#333" stroke-width="0.7"/>
<line x1="43.4" y1="120.3" x2="43.4" y2="122.1" stroke="#333" stroke-width="0.7"/>
<line x1="52.4" y1="120.3" x2="52.4" y2="122.1" stroke="#333" stroke-width="0.7"/>
<line x1="57.4" y1="120.3" x2="57.4" y2="122.1" stroke="#333" stroke-width="0.7"/>
<line x1="67.4" y1="120.3" x2="67.4" y2="122.1" stroke="#333" stroke-width="0.7"/>
<line x1="79.4" y1="120.3" x2="79.4" y2="122.1" stroke="#333" stroke-width="0.7"/>
<line x1="85.4" y1="120.3" x2="85.4" y2="122.1" stroke="#333" stroke-width="0.7"/>
<line x1="93.4" y1="120.3" x2="93.4" y2="122.1" stroke="#333" stroke-width="0.7"/>
<line x1="101.4" y1="120.3" x2="101.4" y2="122.1" stroke="#333" stroke-width="0.7"/>
<line x1="107.4" y1="120.3" x2="107.4" y2="122.1" stroke="#333" stroke-width="0.7"/>
<rect x="48.4" y="120.3" width="5" height="1.8" fill="#111"/>
<rect x="125.6" y="36.5" width="81.2" height="83.8" fill="none" stroke="#8a8a8a" stroke-width="0.9"/>
<line x1="164.7" y1="36.5" x2="164.7" y2="120.3" stroke="#666" stroke-width="0.9"/>
<line x1="125.6" y1="87.4" x2="206.8" y2="87.4" stroke="#666" stroke-width="0.9"/>
<line x1="123.6" y1="42.5" x2="125.6" y2="42.5" stroke="#333" stroke-width="0.7"/>
<line x1="123.6" y1="59" x2="125.6" y2="59" stroke="#333" stroke-width="0.7"/>
<line x1="123.6" y1="75" x2="125.6" y2="75" stroke="#333" stroke-width="0.7"/>
<line x1="123.6" y1="87.4" x2="125.6" y2="87.4" stroke="#333" stroke-width="0.7"/>
<line x1="123.6" y1="93" x2="125.6" y2="93" stroke="#333" stroke-width="0.7"/>
<line x1="123.6" y1="100" x2="125.6" y2="100" stroke="#333" stroke-width="0.7"/>
<line x1="123.6" y1="106" x2="125.6" y2="106" stroke="#333" stroke-width="0.7"/>
<line x1="123.6" y1="113" x2="125.6" y2="113" stroke="#333" stroke-width="0.7"/>
<rect x="124.1" y="99" width="1.5" height="4" fill="#111"/>
<line x1="129.6" y1="120.3" x2="129.6" y2="122.1" stroke="#333" stroke-width="0.7"/>
<line x1="135.6" y1="120.3" x2="135.6" y2="122.1" stroke="#333" stroke-width="0.7"/>
<line x1="144.6" y1="120.3" x2="144.6" y2="122.1" stroke="#333" stroke-width="0.7"/>
<line x1="149.6" y1="120.3" x2="149.6" y2="122.1" stroke="#333" stroke-width="0.7"/>
<line x1="159.6" y1="120.3" x2="159.6" y2="122.1" stroke="#333" stroke-width="0.7"/>
<line x1="171.6" y1="120.3" x2="171.6" y2="122.1" stroke="#333" stroke-width="0.7"/>
<line x1="177.6" y1="120.3" x2="177.6" y2="122.1" stroke="#333" stroke-width="0.7"/>
<line x1="185.6" y1="120.3" x2="185.6" y2="122.1" stroke="#333" stroke-width="0.7"/>
<line x1="193.6" y1="120.3" x2="193.6" y2="122.1" stroke="#333" stroke-width="0.7"/>
<line x1="199.6" y1="120.3" x2="199.6" y2="122.1" stroke="#333" stroke-width="0.7"/>
<rect x="140.6" y="120.3" width="5" height="1.8" fill="#111"/>
<rect x="217.6" y="36.5" width="81.2" height="83.8" fill="none" stroke="#8a8a8a" stroke-width="0.9"/>
<line x1="256.6" y1="36.5" x2="256.6" y2="120.3" stroke="#666" stroke-width="0.9"/>
<line x1="217.6" y1="87.4" x2="298.8" y2="87.4" stroke="#666" stroke-width="0.9"/>
<line x1="215.6" y1="42.5" x2="217.6" y2="42.5" stroke="#333" stroke-width="0.7"/>
<line x1="215.6" y1="59" x2="217.6" y2="59" stroke="#333" stroke-width="0.7"/>
<line x1="215.6" y1="75" x2="217.6" y2="75" stroke="#333" stroke-width="0.7"/>
<line x1="215.6" y1="87.4" x2="217.6" y2="87.4" stroke="#333" stroke-width="0.7"/>
<line x1="215.6" y1="93" x2="217.6" y2="93" stroke="#333" stroke-width="0.7"/>
<line x1="215.6" y1="100" x2="217.6" y2="100" stroke="#333" stroke-width="0.7"/>
<line x1="215.6" y1="106" x2="217.6" y2="106" stroke="#333" stroke-width="0.7"/>
<line x1="215.6" y1="113" x2="217.6" y2="113" stroke="#333" stroke-width="0.7"/>
<rect x="216.1" y="99" width="1.5" height="4" fill="#111"/>
<line x1="221.6" y1="120.3" x2="221.6" y2="122.1" stroke="#333" stroke-width="0.7"/>
<line x1="227.6" y1="120.3" x2="227.6" y2="122.1" stroke="#333" stroke-width="0.7"/>
<line x1="236.6" y1="120.3" x2="236.6" y2="122.1" stroke="#333" stroke-width="0.7"/>
<line x1="241.6" y1="120.3" x2="241.6" y2="122.1" stroke="#333" stroke-width="0.7"/>
<line x1="251.6" y1="120.3" x2="251.6" y2="122.1" stroke="#333" stroke-width="0.7"/>
<line x1="263.6" y1="120.3" x2="263.6" y2="122.1" stroke="#333" stroke-width="0.7"/>
<line x1="269.6" y1="120.3" x2="269.6" y2="122.1" stroke="#333" stroke-width="0.7"/>
<line x1="277.6" y1="120.3" x2="277.6" y2="122.1" stroke="#333" stroke-width="0.7"/>
<line x1="285.6" y1="120.3" x2="285.6" y2="122.1" stroke="#333" stroke-width="0.7"/>
<line x1="291.6" y1="120.3" x2="291.6" y2="122.1" stroke="#333" stroke-width="0.7"/>
<rect x="232.6" y="120.3" width="5" height="1.8" fill="#111"/>
<text x="31.5" y="43.8" font-size="3.8" text-anchor="end" fill="#444">10<tspan dy="-1.5" font-size="3">5</tspan></text>
<text x="31.5" y="64.3" font-size="3.8" text-anchor="end" fill="#444">10<tspan dy="-1.5" font-size="3">4</tspan></text>
<text x="31.5" y="88.7" font-size="3.8" text-anchor="end" fill="#444">10<tspan dy="-1.5" font-size="3">3</tspan></text>
<text x="31.5" y="101.3" font-size="3.8" text-anchor="end" fill="#444">0</text>
<text x="31.5" y="114.3" font-size="3.8" text-anchor="end" fill="#444">-10<tspan dy="-1.5" font-size="3">3</tspan></text>
<text x="38" y="126.5" font-size="3.8" text-anchor="middle" fill="#444">-10<tspan dy="-1.5" font-size="3">3</tspan></text>
<text x="52" y="126.5" font-size="3.8" text-anchor="middle" fill="#444">0</text>
<text x="64" y="126.5" font-size="3.8" text-anchor="middle" fill="#444">10<tspan dy="-1.5" font-size="3">3</tspan></text>
<text x="86" y="126.5" font-size="3.8" text-anchor="middle" fill="#444">10<tspan dy="-1.5" font-size="3">4</tspan></text>
<text x="105" y="126.5" font-size="3.8" text-anchor="middle" fill="#444">10<tspan dy="-1.5" font-size="3">5</tspan></text>
<text x="35.4" y="116.9" font-size="12.3" text-anchor="start" fill="#000">100</text>
<text x="130.2" y="50.8" font-size="12.3" text-anchor="start" fill="#000">1</text>
<text x="200.2" y="50.8" font-size="12.3" text-anchor="end" fill="#000">16</text>
<text x="200.2" y="116.7" font-size="12.3" text-anchor="end" fill="#000">20</text>
<text x="222" y="50.3" font-size="12.3" text-anchor="start" fill="#000">22</text>
<text x="293" y="50.3" font-size="12.3" text-anchor="end" fill="#000">39</text>
<text x="293" y="115.5" font-size="12.3" text-anchor="end" fill="#000">21</text>
<text x="16.6" y="132.6" font-size="11.5" text-anchor="start" fill="#000" transform="rotate(-90 16.6 132.6)">FLK1</text>
<line x1="14.5" y1="102.6" x2="14.5" y2="40" stroke="#000" stroke-width="1"/>
<path d="M14.5 36.3 L12.4 42 L16.6 42 Z" fill="#000"/>
<text x="15.8" y="147.1" font-size="12" text-anchor="start" fill="#000">PDGFRa</text>
<line x1="68" y1="143" x2="294" y2="143" stroke="#000" stroke-width="1"/>
<path d="M298.5 143 L292.8 140.9 L292.8 145.1 Z" fill="#000"/>
<text x="326" y="10.3" font-size="14" text-anchor="start" fill="#000">b</text>
<line x1="377.2" y1="20.4" x2="377.2" y2="132.3" stroke="#000" stroke-width="1.2"/>
<line x1="377.2" y1="132.3" x2="452.8" y2="132.3" stroke="#000" stroke-width="1.2"/>
<line x1="373.7" y1="20.4" x2="377.2" y2="20.4" stroke="#000" stroke-width="1.2"/>
<text x="373.0" y="23.7" font-size="9.2" text-anchor="end" fill="#000" font-weight="bold">3×10<tspan dy="-3.2" font-size="5.5">7</tspan></text>
<line x1="373.7" y1="58" x2="377.2" y2="58" stroke="#000" stroke-width="1.2"/>
<text x="373.0" y="61.3" font-size="9.2" text-anchor="end" fill="#000" font-weight="bold">2×10<tspan dy="-3.2" font-size="5.5">7</tspan></text>
<line x1="373.7" y1="95.3" x2="377.2" y2="95.3" stroke="#000" stroke-width="1.2"/>
<text x="373.0" y="98.6" font-size="9.2" text-anchor="end" fill="#000" font-weight="bold">1×10<tspan dy="-3.2" font-size="5.5">7</tspan></text>
<line x1="373.7" y1="132.3" x2="377.2" y2="132.3" stroke="#000" stroke-width="1.2"/>
<text x="373.0" y="135.60000000000002" font-size="9.2" text-anchor="end" fill="#000" font-weight="bold">0</text>
<rect x="385.1" y="127.3" width="14.899999999999977" height="5.000000000000014" fill="#fff" stroke="#000" stroke-width="1"/>
<line x1="392.55" y1="121.5" x2="392.55" y2="132.3" stroke="#000" stroke-width="0.9"/>
<line x1="388.55" y1="121.5" x2="396.55" y2="121.5" stroke="#000" stroke-width="0.9"/>
<line x1="388.55" y1="132.3" x2="396.55" y2="132.3" stroke="#000" stroke-width="0.9"/>
<circle cx="388.0" cy="128.5" r="1.7" fill="#000" stroke="none" stroke-width="0.5"/>
<circle cx="392.5" cy="128.5" r="1.7" fill="#000" stroke="none" stroke-width="0.5"/>
<circle cx="397.0" cy="128.5" r="1.7" fill="#000" stroke="none" stroke-width="0.5"/>
<circle cx="392.5" cy="119.0" r="1.7" fill="#000" stroke="none" stroke-width="0.5"/>
<rect x="407.5" y="119.2" width="15.100000000000023" height="13.100000000000009" fill="#fff" stroke="#000" stroke-width="1"/>
<line x1="415.05" y1="108.4" x2="415.05" y2="132.3" stroke="#000" stroke-width="0.9"/>
<line x1="411.05" y1="108.4" x2="419.05" y2="108.4" stroke="#000" stroke-width="0.9"/>
<line x1="411.05" y1="132.3" x2="419.05" y2="132.3" stroke="#000" stroke-width="0.9"/>
<circle cx="409.5" cy="128.5" r="1.7" fill="#000" stroke="none" stroke-width="0.5"/>
<circle cx="414.5" cy="128.5" r="1.7" fill="#000" stroke="none" stroke-width="0.5"/>
<circle cx="419.5" cy="128.5" r="1.7" fill="#000" stroke="none" stroke-width="0.5"/>
<circle cx="414.5" cy="120.3" r="1.7" fill="#000" stroke="none" stroke-width="0.5"/>
<circle cx="414.5" cy="107.0" r="1.7" fill="#000" stroke="none" stroke-width="0.5"/>
<circle cx="420.6" cy="104.0" r="1.7" fill="#000" stroke="none" stroke-width="0.5"/>
<rect x="429.8" y="61.7" width="14.699999999999989" height="70.60000000000001" fill="#fff" stroke="#000" stroke-width="1"/>
<line x1="437.15" y1="44.3" x2="437.15" y2="78.2" stroke="#000" stroke-width="0.9"/>
<line x1="433.15" y1="44.3" x2="441.15" y2="44.3" stroke="#000" stroke-width="0.9"/>
<line x1="433.15" y1="78.2" x2="441.15" y2="78.2" stroke="#000" stroke-width="0.9"/>
<circle cx="437.0" cy="36.0" r="1.7" fill="#000" stroke="none" stroke-width="0.5"/>
<circle cx="437.0" cy="54.0" r="1.7" fill="#000" stroke="none" stroke-width="0.5"/>
<circle cx="437.0" cy="57.0" r="1.7" fill="#000" stroke="none" stroke-width="0.5"/>
<circle cx="437.0" cy="63.0" r="1.7" fill="#000" stroke="none" stroke-width="0.5"/>
<circle cx="437.0" cy="70.0" r="1.7" fill="#000" stroke="none" stroke-width="0.5"/>
<circle cx="437.0" cy="87.0" r="1.7" fill="#000" stroke="none" stroke-width="0.5"/>
<text x="341.5" y="76.35000000000001" font-size="11.2" text-anchor="middle" fill="#000" transform="rotate(-90 341.5 76.35000000000001)"># live cells</text>
<text x="437" y="28" font-size="11" text-anchor="middle" fill="#000">**</text>
<text x="389.5" y="143.3" font-size="11.2" text-anchor="middle" fill="#000">3</text>
<text x="414" y="143.3" font-size="11.2" text-anchor="middle" fill="#000">4</text>
<text x="433.6" y="143.3" font-size="11.2" text-anchor="start" fill="#000">5 day</text>
<line x1="487" y1="20.6" x2="487" y2="133" stroke="#000" stroke-width="1.2"/>
<line x1="487" y1="133" x2="556" y2="133" stroke="#000" stroke-width="1.2"/>
<line x1="483.5" y1="20.6" x2="487" y2="20.6" stroke="#000" stroke-width="1.2"/>
<text x="482.8" y="23.900000000000002" font-size="9.2" text-anchor="end" fill="#000" font-weight="bold">60</text>
<line x1="483.5" y1="58.1" x2="487" y2="58.1" stroke="#000" stroke-width="1.2"/>
<text x="482.8" y="61.4" font-size="9.2" text-anchor="end" fill="#000" font-weight="bold">40</text>
<line x1="483.5" y1="95.5" x2="487" y2="95.5" stroke="#000" stroke-width="1.2"/>
<text x="482.8" y="98.8" font-size="9.2" text-anchor="end" fill="#000" font-weight="bold">20</text>
<line x1="483.5" y1="133" x2="487" y2="133" stroke="#000" stroke-width="1.2"/>
<text x="482.8" y="136.3" font-size="9.2" text-anchor="end" fill="#000" font-weight="bold">0</text>
<rect x="493" y="133" width="15" height="0" fill="#fff" stroke="#000" stroke-width="1"/>
<circle cx="497.0" cy="133.0" r="1.7" fill="#000" stroke="none" stroke-width="0.5"/>
<circle cx="501.0" cy="133.0" r="1.7" fill="#000" stroke="none" stroke-width="0.5"/>
<circle cx="505.0" cy="133.0" r="1.7" fill="#000" stroke="none" stroke-width="0.5"/>
<circle cx="509.0" cy="133.0" r="1.7" fill="#000" stroke="none" stroke-width="0.5"/>
<rect x="518.6" y="112.5" width="14.799999999999955" height="20.5" fill="#fff" stroke="#000" stroke-width="1"/>
<line x1="526.0" y1="105.5" x2="526.0" y2="118.5" stroke="#000" stroke-width="0.9"/>
<line x1="522.0" y1="105.5" x2="530.0" y2="105.5" stroke="#000" stroke-width="0.9"/>
<line x1="522.0" y1="118.5" x2="530.0" y2="118.5" stroke="#000" stroke-width="0.9"/>
<circle cx="521.0" cy="106.0" r="1.7" fill="#000" stroke="none" stroke-width="0.5"/>
<circle cx="526.0" cy="106.0" r="1.7" fill="#000" stroke="none" stroke-width="0.5"/>
<circle cx="531.0" cy="106.0" r="1.7" fill="#000" stroke="none" stroke-width="0.5"/>
<circle cx="521.0" cy="118.0" r="1.7" fill="#000" stroke="none" stroke-width="0.5"/>
<circle cx="526.0" cy="118.0" r="1.7" fill="#000" stroke="none" stroke-width="0.5"/>
<circle cx="531.0" cy="118.0" r="1.7" fill="#000" stroke="none" stroke-width="0.5"/>
<rect x="540.9" y="50.4" width="14.800000000000068" height="82.6" fill="#fff" stroke="#000" stroke-width="1"/>
<line x1="548.3" y1="43.5" x2="548.3" y2="56.5" stroke="#000" stroke-width="0.9"/>
<line x1="544.3" y1="43.5" x2="552.3" y2="43.5" stroke="#000" stroke-width="0.9"/>
<line x1="544.3" y1="56.5" x2="552.3" y2="56.5" stroke="#000" stroke-width="0.9"/>
<circle cx="548.0" cy="37.8" r="1.7" fill="#000" stroke="none" stroke-width="0.5"/>
<circle cx="544.0" cy="47.0" r="1.7" fill="#000" stroke="none" stroke-width="0.5"/>
<circle cx="552.0" cy="47.0" r="1.7" fill="#000" stroke="none" stroke-width="0.5"/>
<circle cx="544.0" cy="52.0" r="1.7" fill="#000" stroke="none" stroke-width="0.5"/>
<circle cx="548.0" cy="52.0" r="1.7" fill="#000" stroke="none" stroke-width="0.5"/>
<circle cx="552.0" cy="52.0" r="1.7" fill="#000" stroke="none" stroke-width="0.5"/>
<text x="465" y="76.8" font-size="11.2" text-anchor="middle" fill="#000" transform="rotate(-90 465 76.8)">% DP priMes</text>
<text x="525.5" y="31" font-size="11" text-anchor="middle" fill="#000">**</text>
<text x="548.3" y="31" font-size="11" text-anchor="middle" fill="#000">**</text>
<text x="501.5" y="143.3" font-size="11.2" text-anchor="middle" fill="#000">3</text>
<text x="525.5" y="143.3" font-size="11.2" text-anchor="middle" fill="#000">4</text>
<text x="544.3" y="143.3" font-size="11.2" text-anchor="start" fill="#000">5 day</text>
<line x1="600" y1="20.6" x2="600" y2="133" stroke="#000" stroke-width="1.2"/>
<line x1="600" y1="133" x2="667" y2="133" stroke="#000" stroke-width="1.2"/>
<line x1="596.5" y1="20.6" x2="600" y2="20.6" stroke="#000" stroke-width="1.2"/>
<text x="595.8" y="23.900000000000002" font-size="9.2" text-anchor="end" fill="#000" font-weight="bold">30</text>
<line x1="596.5" y1="58.1" x2="600" y2="58.1" stroke="#000" stroke-width="1.2"/>
<text x="595.8" y="61.4" font-size="9.2" text-anchor="end" fill="#000" font-weight="bold">20</text>
<line x1="596.5" y1="95.5" x2="600" y2="95.5" stroke="#000" stroke-width="1.2"/>
<text x="595.8" y="98.8" font-size="9.2" text-anchor="end" fill="#000" font-weight="bold">10</text>
<line x1="596.5" y1="133" x2="600" y2="133" stroke="#000" stroke-width="1.2"/>
<text x="595.8" y="136.3" font-size="9.2" text-anchor="end" fill="#000" font-weight="bold">0</text>
<rect x="605" y="133" width="15" height="0" fill="#fff" stroke="#000" stroke-width="1"/>
<circle cx="607.0" cy="133.0" r="1.7" fill="#000" stroke="none" stroke-width="0.5"/>
<circle cx="611.0" cy="133.0" r="1.7" fill="#000" stroke="none" stroke-width="0.5"/>
<circle cx="615.0" cy="133.0" r="1.7" fill="#000" stroke="none" stroke-width="0.5"/>
<circle cx="619.0" cy="133.0" r="1.7" fill="#000" stroke="none" stroke-width="0.5"/>
<rect x="628.4" y="127.3" width="14.600000000000023" height="5.700000000000003" fill="#fff" stroke="#000" stroke-width="1"/>
<circle cx="630.5" cy="126.6" r="1.7" fill="#000" stroke="none" stroke-width="0.5"/>
<circle cx="633.2" cy="126.3" r="1.7" fill="#000" stroke="none" stroke-width="0.5"/>
<circle cx="635.9" cy="126.7" r="1.7" fill="#000" stroke="none" stroke-width="0.5"/>
<circle cx="638.6" cy="126.4" r="1.7" fill="#000" stroke="none" stroke-width="0.5"/>
<circle cx="641.2" cy="126.7" r="1.7" fill="#000" stroke="none" stroke-width="0.5"/>
<rect x="651.5" y="44.4" width="15.100000000000023" height="88.6" fill="#fff" stroke="#000" stroke-width="1"/>
<line x1="659.05" y1="29.4" x2="659.05" y2="59.4" stroke="#000" stroke-width="0.9"/>
<line x1="655.05" y1="29.4" x2="663.05" y2="29.4" stroke="#000" stroke-width="0.9"/>
<line x1="655.05" y1="59.4" x2="663.05" y2="59.4" stroke="#000" stroke-width="0.9"/>
<circle cx="659.1" cy="21.5" r="1.7" fill="#000" stroke="none" stroke-width="0.5"/>
<circle cx="659.1" cy="36.6" r="1.7" fill="#000" stroke="none" stroke-width="0.5"/>
<circle cx="655.5" cy="45.3" r="1.7" fill="#000" stroke="none" stroke-width="0.5"/>
<circle cx="662.6" cy="43.4" r="1.7" fill="#000" stroke="none" stroke-width="0.5"/>
<circle cx="659.1" cy="52.5" r="1.7" fill="#000" stroke="none" stroke-width="0.5"/>
<circle cx="659.1" cy="66.3" r="1.7" fill="#000" stroke="none" stroke-width="0.5"/>
<text x="578" y="73.5" font-size="11.5" text-anchor="middle" fill="#000" transform="rotate(-90 578 73.5)">% F_SP HEM</text>
<text x="635.7" y="29" font-size="11" text-anchor="middle" fill="#000">**</text>
<text x="659" y="19.5" font-size="11" text-anchor="middle" fill="#000">**</text>
<text x="612.3" y="143.3" font-size="11.2" text-anchor="middle" fill="#000">3</text>
<text x="636.9" y="143.3" font-size="11.2" text-anchor="middle" fill="#000">4</text>
<text x="656" y="143.3" font-size="11.2" text-anchor="start" fill="#000">5 day</text>
<text x="3" y="163.3" font-size="14" text-anchor="start" fill="#000">c</text>
<line x1="32.3" y1="188.5" x2="32.3" y2="305.2" stroke="#333" stroke-width="0.9"/>
<line x1="32.3" y1="305.2" x2="284" y2="305.2" stroke="#333" stroke-width="0.9"/>
<line x1="30" y1="190.8" x2="32.3" y2="190.8" stroke="#333" stroke-width="0.7"/>
<line x1="30" y1="223.3" x2="32.3" y2="223.3" stroke="#333" stroke-width="0.7"/>
<line x1="30" y1="254.4" x2="32.3" y2="254.4" stroke="#333" stroke-width="0.7"/>
<line x1="30" y1="285.3" x2="32.3" y2="285.3" stroke="#333" stroke-width="0.7"/>
<line x1="44.2" y1="305.2" x2="44.2" y2="307.5" stroke="#333" stroke-width="0.7"/>
<line x1="106.8" y1="305.2" x2="106.8" y2="307.5" stroke="#333" stroke-width="0.7"/>
<line x1="169.2" y1="305.2" x2="169.2" y2="307.5" stroke="#333" stroke-width="0.7"/>
<line x1="231" y1="305.2" x2="231" y2="307.5" stroke="#333" stroke-width="0.7"/>
<text x="13.9" y="248" font-size="11.5" text-anchor="middle" fill="#000" transform="rotate(-90 13.9 248)">UMAP2</text>
<text x="131" y="321" font-size="11.4" text-anchor="start" fill="#000">UMAP1</text>
<clipPath id="cclip"><path d="M46 208 L75 208 L100 224 L120 236 L140 246 L145 224 L165 220 L195 222 L203 228 L218 206 L232 193 L248 188 L258 190 L263 200 L262 214 L256 232 L244 244 L232 262 L230 292 L224 303 L190 306 L150 303 L120 292 L90 286 L60 272 L52 258 L56 244 L62 236 L48 228 Z"/></clipPath>
<path d="M40.1 244.8h0M40.6 245.8h0M41.9 247.1h0M39.3 246.6h0M39.9 245.6h0M39.7 247.9h0M39.9 244.2h0M39.3 247.6h0M43.9 245.1h0M39.9 246.1h0M38.3 247.0h0M40.4 246.9h0M44.0 246.1h0M41.7 247.6h0M39.5 245.7h0M42.9 247.5h0M40.7 245.0h0M41.9 247.2h0M43.9 248.5h0M41.8 246.9h0M40.6 245.8h0M41.0 246.8h0M41.5 248.0h0M41.0 245.8h0M41.8 248.6h0M39.2 247.1h0M41.4 247.2h0M41.3 246.4h0M40.3 248.8h0M43.2 244.6h0" stroke="#1d5a8a" stroke-width="2.1" stroke-linecap="round" opacity="0.9" fill="none"/>
<path d="M45.5 248.8h0" stroke="#1d5a8a" stroke-width="2.1" stroke-linecap="round" opacity="1.0" fill="none"/>
<path d="M62.1 223.5h0M65.3 215.5h0M61.9 220.6h0M53.1 221.8h0M58.8 215.0h0M56.8 217.6h0M71.4 215.9h0M54.7 220.9h0M58.9 214.3h0M60.8 221.9h0M71.6 218.9h0M65.4 222.8h0M71.3 221.8h0M57.0 216.4h0M59.7 216.2h0M59.8 213.3h0M56.1 222.9h0M60.6 219.6h0M72.2 221.1h0M56.5 223.0h0M68.3 221.1h0M66.6 216.6h0M63.7 216.0h0M70.6 216.1h0M71.2 222.2h0M73.5 220.9h0M67.1 219.8h0M63.9 217.5h0M58.8 221.4h0M69.7 222.4h0M55.7 216.1h0M56.6 213.2h0M61.8 216.8h0M58.1 219.6h0M72.4 217.6h0M72.5 220.8h0M58.1 222.5h0M64.5 213.3h0M64.9 222.0h0M63.2 217.8h0M60.7 222.6h0M66.8 214.5h0M59.4 216.4h0M74.0 220.4h0M51.4 219.1h0M61.1 220.6h0M61.0 213.1h0M63.3 221.8h0M69.8 216.3h0M55.9 220.9h0M61.1 216.6h0M67.9 223.2h0M55.4 215.6h0M58.6 220.8h0M55.1 218.6h0" stroke="#1d5a8a" stroke-width="2.1" stroke-linecap="round" opacity="0.85" fill="none"/>
<path d="M65.5 257.0h0M74.1 254.6h0M71.0 261.2h0M62.6 262.4h0M65.6 261.9h0M65.7 262.6h0M66.8 246.0h0M68.3 259.9h0M63.9 255.6h0M60.4 248.8h0M63.8 253.8h0M64.8 244.9h0M55.1 250.1h0M70.1 258.7h0M60.0 248.4h0M65.9 246.7h0M67.7 262.0h0M59.2 255.3h0M70.1 258.7h0M70.0 257.9h0M60.7 260.6h0M74.8 252.3h0M71.7 257.2h0M58.0 252.7h0M62.1 259.1h0M60.1 247.2h0M58.4 251.6h0M68.0 249.4h0M58.4 247.6h0M56.8 247.1h0M61.6 253.6h0M58.9 253.1h0M65.2 262.8h0M64.9 247.2h0M67.4 246.0h0M58.6 244.5h0M69.7 263.3h0M63.5 250.4h0M63.9 250.4h0M69.5 251.2h0M72.8 258.3h0M62.4 256.2h0M74.3 251.4h0M64.1 249.3h0M66.6 256.9h0M70.4 262.9h0M58.1 250.7h0M72.9 259.6h0M67.4 257.2h0M66.5 251.5h0M58.8 245.4h0M73.8 259.8h0M55.6 249.8h0M65.1 253.4h0M62.6 261.8h0M62.3 254.2h0M74.5 256.4h0M65.0 250.0h0M63.1 255.8h0M71.5 248.5h0M62.8 251.1h0M62.6 262.2h0M66.3 248.8h0M62.0 260.3h0M58.4 257.5h0M55.5 247.1h0M58.1 247.8h0M56.2 248.5h0M70.4 258.1h0M66.6 262.4h0M64.1 247.1h0M70.7 261.0h0M63.1 245.0h0M73.3 258.8h0M67.5 263.5h0M69.9 256.2h0M57.4 246.4h0M58.8 255.8h0M69.1 263.4h0M64.1 251.2h0M60.3 247.9h0M69.8 246.7h0M58.8 246.2h0M62.4 258.5h0M56.2 254.1h0M64.2 259.6h0M67.1 252.5h0M73.5 255.6h0M62.1 251.3h0M74.8 261.0h0M74.2 254.8h0M58.0 246.7h0M63.0 257.5h0M71.5 253.8h0M63.7 257.1h0" stroke="#1d5a8a" stroke-width="2.1" stroke-linecap="round" opacity="0.85" fill="none"/>
<path d="M105.0 219.8h0M103.9 223.4h0M105.3 213.4h0M103.6 212.7h0M103.2 220.2h0M102.8 218.0h0M102.1 221.8h0M104.4 212.8h0M107.5 209.8h0M102.0 220.3h0M105.1 215.1h0M107.5 209.9h0M106.4 210.1h0M102.9 210.3h0" stroke="#1d5a8a" stroke-width="2.1" stroke-linecap="round" opacity="0.85" fill="none"/>
<path d="M107.5 210.0h0M108.0 211.0h0" stroke="#e04070" stroke-width="1.8" stroke-linecap="round" opacity="1.0" fill="none"/>
<path d="M98.7 224.0h0M97.9 225.3h0M98.5 226.6h0M97.5 227.9h0M98.5 229.2h0" stroke="#5080c8" stroke-width="2.1" stroke-linecap="round" opacity="0.8" fill="none"/>
<path d="M101.0 267.3h0M78.9 263.3h0M84.0 246.2h0M107.2 272.5h0M121.9 251.4h0M73.4 264.8h0M104.7 268.4h0M72.4 262.2h0M91.7 238.9h0M129.3 277.6h0M64.7 251.9h0M99.1 267.1h0M71.5 235.2h0M101.5 244.2h0M99.4 271.2h0M110.4 282.3h0M122.9 261.8h0M104.1 275.3h0M134.2 272.3h0M115.9 268.7h0M80.3 251.8h0M116.0 257.2h0M94.0 234.1h0M72.8 252.2h0M101.0 240.1h0M91.0 257.2h0M122.2 259.4h0M92.4 256.8h0M78.2 231.4h0M84.5 261.8h0M106.5 280.9h0M116.2 245.7h0M137.0 262.0h0M104.9 275.8h0M114.9 245.6h0M109.8 242.0h0M78.3 254.4h0M114.9 265.1h0M115.6 266.8h0M86.7 258.1h0M133.3 259.4h0M78.0 234.8h0M131.6 254.9h0M94.0 265.8h0M73.7 245.9h0M114.3 281.2h0M111.2 263.2h0M74.7 267.6h0M105.5 245.5h0M73.2 233.5h0M73.8 259.3h0M101.7 258.5h0M106.3 248.8h0M66.6 249.4h0M80.7 269.4h0M81.1 229.6h0M99.7 247.3h0M88.5 269.9h0M79.6 264.2h0M127.9 251.2h0M101.7 279.4h0M67.5 228.9h0M113.3 249.4h0M86.4 254.7h0M74.2 242.3h0M117.8 249.7h0M75.1 226.7h0M102.0 244.1h0M118.6 254.6h0M75.3 264.2h0M96.2 263.7h0M93.5 235.9h0M68.9 265.2h0M83.0 264.2h0M79.6 248.0h0M116.4 249.8h0M74.3 228.2h0M101.7 253.3h0M77.3 264.2h0M101.2 272.5h0M126.3 252.4h0M73.2 253.0h0M72.0 265.1h0M117.1 258.7h0M118.5 272.1h0M70.9 243.3h0M66.2 259.0h0M116.9 246.0h0M119.4 275.9h0M130.9 267.0h0M71.1 246.8h0M124.1 275.9h0M112.9 280.9h0M103.0 253.0h0M88.7 246.4h0M102.3 259.3h0M79.6 240.6h0M101.7 254.2h0M95.1 263.8h0M76.6 255.9h0M83.8 270.2h0M117.6 270.9h0M102.9 238.9h0M135.1 254.6h0M91.6 241.4h0M93.8 266.5h0M126.7 253.0h0M97.7 245.5h0M86.2 245.6h0M121.6 268.0h0M78.4 238.0h0M124.0 263.3h0M115.4 262.1h0M103.5 264.2h0M80.1 244.2h0M120.2 253.3h0M91.2 240.2h0M100.5 266.7h0M132.7 274.9h0M130.5 250.4h0M95.3 242.8h0M74.5 240.9h0M88.2 275.1h0M77.2 270.4h0M133.3 250.4h0M93.4 259.7h0M92.8 246.8h0M115.7 261.5h0M115.3 260.7h0M85.2 236.0h0M129.6 278.6h0M80.4 259.2h0M107.4 243.3h0M112.9 260.1h0M78.8 242.7h0M94.9 245.8h0M108.4 246.6h0M123.3 252.7h0M92.0 237.7h0M111.4 270.7h0M128.5 256.9h0M92.6 272.0h0M121.5 250.4h0M98.5 236.8h0M69.2 246.1h0M96.2 254.5h0M84.9 266.1h0M75.4 254.6h0M101.0 246.3h0M88.5 260.9h0M106.5 241.0h0M113.9 255.9h0M87.9 243.7h0M90.5 248.1h0M74.8 263.7h0M114.5 250.8h0M94.1 238.0h0M124.4 251.4h0M115.9 264.5h0M101.3 252.3h0M77.6 234.4h0M113.0 265.6h0M82.4 262.7h0M72.8 260.8h0M75.6 254.6h0M86.8 257.0h0M72.6 253.0h0M86.4 264.7h0M105.1 261.0h0M123.6 258.3h0M79.6 250.6h0M127.6 258.0h0M127.0 263.2h0M70.4 260.7h0M132.3 250.4h0M127.6 265.3h0M104.1 275.7h0M67.7 261.4h0M71.5 233.6h0M85.1 240.7h0M96.8 271.7h0M126.0 267.9h0M80.0 229.5h0M135.1 257.1h0M110.4 275.7h0M73.3 266.0h0M98.7 271.2h0M98.0 235.8h0M120.8 273.9h0M81.6 265.7h0M93.3 237.4h0M91.1 254.6h0M121.5 268.7h0M78.6 244.8h0M119.8 263.5h0M94.1 255.5h0M99.3 254.4h0M83.8 262.1h0M100.1 246.6h0M127.6 257.1h0M109.5 261.6h0M124.1 264.7h0M126.4 250.2h0M115.2 281.2h0M76.9 230.0h0M94.5 254.6h0M73.8 237.3h0M73.8 235.0h0M99.5 256.3h0M96.7 254.2h0M107.0 256.3h0M79.2 270.9h0M86.2 267.6h0M80.0 258.4h0M113.2 246.3h0M112.8 265.5h0M74.1 257.0h0M128.3 276.2h0M68.8 253.4h0M81.8 242.0h0M98.5 246.3h0M124.3 267.4h0M71.0 237.4h0M70.5 265.8h0M121.8 248.7h0M136.9 254.7h0M96.8 250.2h0M122.7 273.8h0M94.1 277.5h0M94.2 263.7h0M106.2 251.7h0M106.0 275.9h0M68.3 246.1h0M63.0 261.6h0M111.9 274.6h0M85.7 266.8h0M112.8 263.4h0M96.9 243.5h0M109.2 244.2h0M72.1 264.2h0M84.7 271.4h0M86.2 256.8h0M119.2 246.1h0M76.2 247.7h0M101.6 248.9h0M71.7 255.4h0M92.3 250.1h0M87.4 262.8h0M70.7 226.5h0M97.5 276.4h0" stroke="#5080c8" stroke-width="2.1" stroke-linecap="round" opacity="0.9" fill="none"/>
<path d="M76.2 229.5h0M70.8 242.8h0M73.0 232.3h0M73.4 238.2h0M70.0 226.5h0M66.4 228.4h0M65.3 225.8h0M70.7 229.0h0M67.9 240.8h0M70.5 236.0h0M73.4 238.4h0M68.4 233.9h0M68.5 235.7h0M68.8 229.5h0M74.3 225.7h0M76.8 233.9h0M67.7 226.3h0M72.1 234.1h0M75.5 231.5h0M70.6 241.9h0M77.0 236.2h0M74.4 240.2h0M72.9 225.6h0M68.1 236.3h0M75.4 225.9h0M74.6 226.1h0M71.6 237.0h0M70.3 232.5h0M70.0 237.9h0M75.8 237.0h0M70.4 235.4h0M72.2 227.8h0M71.4 240.8h0M67.9 238.9h0M68.3 239.7h0M71.6 230.2h0M69.9 240.0h0M74.7 227.4h0M67.4 230.7h0M65.6 227.1h0M75.5 228.5h0M77.6 230.6h0M77.6 230.1h0M68.3 231.9h0M77.8 231.5h0" stroke="#1d5a8a" stroke-width="2.1" stroke-linecap="round" opacity="0.85" fill="none"/>
<path d="M74.7 241.1h0M72.3 238.0h0M80.5 247.6h0M78.0 240.9h0M80.5 252.2h0M80.3 247.0h0M78.5 241.3h0M76.8 239.8h0M80.5 247.5h0M81.4 248.6h0M81.7 247.3h0M75.9 254.6h0M76.5 238.0h0M76.0 250.1h0M83.2 248.9h0M81.3 244.9h0M77.5 251.2h0M75.8 238.2h0M79.4 252.2h0M75.0 249.7h0" stroke="#1d5a8a" stroke-width="2.1" stroke-linecap="round" opacity="0.85" fill="none"/>
<path d="M138.3 264.0h0M159.1 299.1h0M207.3 274.6h0M171.5 227.4h0M174.5 257.7h0M224.2 257.9h0M213.2 286.0h0M185.6 244.3h0M156.0 263.8h0M165.5 275.7h0M177.1 250.9h0M187.7 302.7h0M145.3 251.8h0M211.8 279.7h0M225.4 290.4h0M185.5 270.7h0M151.5 273.8h0M130.9 267.8h0M163.4 263.9h0M166.5 233.9h0M200.8 287.6h0M186.8 234.9h0M186.9 293.1h0M227.6 284.4h0M193.8 247.3h0M220.6 289.6h0M184.6 255.2h0M155.1 284.6h0M188.7 251.5h0M181.0 297.5h0M183.5 296.3h0M182.0 282.0h0M225.7 274.0h0M174.2 274.8h0M180.0 280.3h0M157.6 293.5h0M130.3 286.9h0M127.2 275.9h0M208.0 244.3h0M164.0 243.4h0M198.0 266.7h0M187.6 251.1h0M185.6 299.5h0M205.8 299.3h0M150.0 265.7h0M164.5 252.6h0M208.4 239.5h0M182.6 285.6h0M152.4 264.0h0M212.3 256.6h0M181.5 297.5h0M155.9 280.0h0M184.9 235.4h0M208.2 265.1h0M139.0 289.2h0M210.2 242.7h0M222.7 288.4h0M215.1 289.6h0M134.2 285.0h0M205.2 274.8h0M158.4 290.2h0M220.7 250.1h0M195.8 278.7h0M213.1 269.6h0M152.9 245.4h0M181.0 236.4h0M214.3 294.5h0M149.4 279.7h0M194.7 235.4h0M205.7 285.0h0M156.2 233.6h0M153.6 285.4h0M173.0 288.8h0M160.6 293.7h0M194.1 232.4h0M149.9 277.1h0M215.7 257.5h0M171.2 228.4h0M159.8 244.6h0M206.8 281.0h0M206.4 266.9h0M197.4 235.8h0M164.4 248.6h0M153.6 282.9h0M146.5 251.1h0M153.7 292.5h0M191.0 263.0h0M163.9 297.0h0M222.6 260.6h0M183.5 292.4h0M150.9 245.9h0M134.8 264.7h0M204.7 238.1h0M174.5 255.4h0M212.1 294.7h0M163.5 235.5h0M190.8 283.0h0M220.9 276.8h0M156.3 265.7h0M154.2 260.3h0M173.2 296.2h0M219.1 297.3h0M174.2 300.3h0M191.2 293.2h0M210.0 254.8h0M211.0 242.5h0M203.0 262.1h0M167.2 241.1h0M208.0 282.3h0M147.2 254.9h0M167.5 270.4h0M217.5 298.8h0M190.5 254.1h0M178.5 270.9h0M167.4 253.0h0M167.9 239.2h0M222.6 271.5h0M181.0 258.8h0M150.3 250.3h0M175.8 260.4h0M226.8 269.4h0M206.2 294.5h0M148.8 286.1h0M170.4 267.4h0M180.0 229.3h0M131.0 277.4h0M196.4 255.3h0M220.5 289.1h0M155.7 231.2h0M182.1 276.4h0M147.6 229.4h0M175.1 228.6h0M201.4 274.2h0M153.3 260.3h0M143.1 288.8h0M171.6 281.1h0M160.5 288.1h0M186.6 276.4h0M165.2 269.3h0M194.6 267.0h0M191.1 233.7h0M159.1 243.8h0M170.7 292.9h0M206.2 281.3h0M155.7 243.9h0M198.0 249.0h0M199.9 252.9h0M203.9 270.1h0M164.8 285.3h0M157.1 242.0h0M206.3 268.4h0M203.3 263.7h0M127.8 285.4h0M146.9 262.3h0M193.9 284.8h0M190.8 260.1h0M200.9 277.5h0M145.6 267.2h0M186.8 282.1h0M160.0 233.4h0M160.6 282.2h0M184.6 239.3h0M200.8 235.0h0M202.9 237.4h0M178.1 246.8h0M216.8 298.3h0M153.8 283.7h0M197.0 269.2h0M158.7 250.7h0M144.8 259.1h0M211.8 249.8h0M152.6 242.3h0M150.3 270.5h0M170.8 249.5h0M179.2 285.6h0M200.0 252.5h0M220.4 286.9h0M183.0 262.6h0M158.6 236.3h0M217.0 272.8h0M197.6 244.3h0M180.2 290.2h0M160.8 264.4h0M193.9 240.8h0M189.8 258.7h0M152.8 235.1h0M139.6 266.7h0M142.3 287.2h0M134.1 274.0h0M146.8 284.9h0M173.4 297.8h0M159.5 256.6h0M224.5 252.5h0M225.5 294.6h0M145.0 268.0h0M213.1 285.6h0M202.7 272.3h0M134.7 286.3h0M199.9 250.4h0M195.9 257.6h0M222.0 255.6h0M208.3 262.3h0M209.3 249.2h0M181.2 227.9h0M175.4 232.1h0M214.2 278.2h0M223.4 299.7h0M132.7 280.2h0M200.4 272.7h0M170.0 271.8h0M209.5 247.2h0M152.4 229.2h0M201.7 242.2h0M139.4 295.1h0M193.8 270.9h0M168.0 230.4h0M224.1 290.8h0M197.0 264.0h0M175.6 237.2h0M177.8 287.8h0M137.8 293.5h0M168.1 246.5h0M149.1 261.4h0M192.0 269.9h0M217.5 265.4h0M158.5 250.1h0M174.9 293.7h0M197.2 282.2h0M203.6 249.2h0M200.6 241.9h0M182.3 271.8h0M205.4 238.9h0M160.1 289.5h0M208.5 301.3h0M135.2 281.7h0M202.3 275.9h0M205.9 265.7h0M183.0 296.9h0M192.1 276.5h0M185.8 264.0h0M203.5 270.1h0M168.2 259.3h0M182.9 253.9h0M165.1 258.9h0M199.8 256.4h0M171.1 271.6h0M162.5 244.4h0M172.8 250.9h0M211.8 244.6h0M150.8 279.8h0M207.7 262.2h0M164.7 244.0h0M207.8 292.5h0M186.3 301.9h0M199.1 261.4h0M208.9 277.3h0M173.7 294.7h0M221.9 273.5h0M134.5 271.3h0M168.2 245.2h0M221.5 282.2h0M160.0 270.1h0M158.1 259.8h0M209.4 240.0h0M199.6 251.5h0M223.2 299.3h0M158.4 272.7h0M189.4 275.1h0M160.0 228.6h0M137.0 269.2h0M188.9 295.4h0M178.1 245.6h0M185.5 247.2h0M206.1 238.0h0M151.5 259.8h0M146.4 251.6h0M165.5 284.5h0M166.4 262.6h0M165.6 285.6h0M218.8 258.8h0M226.7 266.5h0M195.6 255.4h0M152.5 236.4h0M217.0 253.7h0M197.4 261.5h0M179.3 241.9h0M195.6 267.8h0M124.2 280.7h0M169.5 231.3h0M151.3 242.3h0M210.4 268.4h0M158.3 245.1h0M154.6 247.6h0M160.4 286.9h0M206.8 279.8h0M216.9 276.4h0M179.5 289.3h0M185.5 259.1h0M203.1 252.3h0M150.9 291.3h0M136.3 276.3h0M161.4 294.4h0M155.2 233.8h0M144.9 288.0h0M226.8 275.5h0M195.6 247.7h0M152.6 232.7h0M188.3 252.9h0M143.6 259.6h0M141.3 274.5h0M193.0 265.3h0M142.9 293.3h0M149.4 265.6h0M174.0 268.6h0M200.3 294.8h0M173.2 229.2h0M157.4 237.0h0M187.2 286.2h0M213.4 279.1h0M135.4 278.9h0M207.4 257.5h0M140.3 276.7h0M157.5 236.3h0M181.9 268.5h0M166.4 287.6h0M222.0 292.6h0M220.7 284.9h0M180.3 286.6h0M184.1 235.1h0M150.8 233.5h0M215.9 250.8h0M166.8 267.4h0M134.6 280.3h0M207.5 287.3h0M216.5 250.4h0M139.3 284.6h0M196.8 254.6h0M160.0 237.8h0M211.3 261.5h0M209.3 252.2h0M157.7 265.5h0M202.3 294.0h0M161.1 279.4h0M166.4 292.3h0M203.8 268.8h0M162.1 247.1h0M216.9 287.7h0M156.0 232.5h0M179.5 268.7h0M180.6 257.6h0M182.5 232.9h0M138.6 277.8h0M191.3 288.1h0M196.7 297.7h0M148.9 286.0h0M140.0 266.9h0M204.9 238.0h0M179.4 295.4h0M202.5 256.6h0M174.3 247.4h0M224.9 286.3h0M195.4 249.4h0M200.8 263.5h0M207.8 254.0h0M216.6 278.7h0M171.3 269.3h0M208.5 266.7h0M218.2 281.0h0M175.4 291.4h0M199.0 289.4h0M192.1 229.5h0M183.8 250.8h0M151.4 260.5h0M212.0 269.0h0M170.7 249.7h0M187.3 252.7h0M200.3 289.6h0M160.3 235.7h0M211.6 299.8h0M129.9 266.7h0M155.6 277.9h0M182.9 272.0h0M155.5 282.6h0M196.4 281.0h0M173.5 261.7h0M154.0 229.1h0M172.9 273.4h0M143.5 292.2h0M216.3 291.7h0M209.7 263.6h0M201.5 301.8h0M161.1 252.9h0M186.8 234.6h0M212.6 252.0h0M219.4 251.4h0M156.1 239.5h0M225.4 271.4h0M181.0 282.4h0M151.7 269.2h0M161.9 270.5h0M222.1 298.9h0M216.1 245.8h0M167.7 298.7h0M150.7 254.3h0M185.1 244.2h0M198.4 276.2h0M131.5 279.6h0M160.6 237.1h0M208.0 261.3h0M207.4 300.7h0M221.3 267.0h0M152.9 265.9h0M227.0 282.2h0M194.3 290.9h0M166.9 269.0h0M213.1 241.3h0M180.4 270.3h0M139.4 297.0h0M170.1 240.3h0M167.2 271.5h0M133.7 280.9h0M208.8 292.3h0M124.5 284.1h0M186.9 254.1h0M148.9 271.3h0M131.9 279.5h0M158.1 250.3h0M173.9 238.5h0M166.2 279.9h0M158.0 287.3h0M189.9 260.9h0M202.4 277.6h0M162.9 235.9h0M188.2 284.4h0M173.6 262.4h0M196.0 272.9h0M168.4 240.3h0M172.7 268.3h0M182.5 251.3h0M147.4 274.5h0M201.5 245.1h0M165.1 298.3h0M169.8 276.2h0M174.0 283.4h0M190.2 297.6h0M169.3 228.1h0M179.2 274.7h0M145.2 291.9h0M167.4 299.9h0M161.6 273.7h0M180.9 246.3h0M150.2 250.7h0M216.6 264.5h0M188.0 288.3h0M135.5 286.0h0M165.0 266.4h0M168.2 259.8h0M220.4 282.7h0M197.5 236.9h0M194.7 274.6h0M156.8 246.6h0M220.7 267.0h0M160.6 231.2h0M226.7 295.5h0M167.8 234.6h0M200.2 288.3h0M206.9 287.0h0M133.7 290.9h0M211.1 265.7h0M148.6 292.0h0M167.6 285.4h0M208.2 270.7h0M227.6 285.6h0M221.3 300.2h0M132.6 283.8h0M147.8 251.0h0M176.1 280.0h0M178.6 285.1h0M159.3 257.8h0M202.2 280.1h0M217.2 249.8h0M213.1 282.8h0M184.2 257.4h0M183.5 231.9h0M199.3 282.3h0M188.7 241.9h0M199.8 289.6h0M189.0 243.5h0M183.3 256.4h0M152.2 237.4h0M214.8 274.7h0M151.7 265.2h0M180.7 263.1h0M219.5 270.5h0M190.9 271.1h0M206.5 254.2h0M193.1 236.1h0M164.1 241.8h0M149.6 251.0h0M167.5 253.7h0M158.0 227.5h0M211.9 282.8h0M175.8 226.2h0M148.5 295.3h0M172.0 241.8h0M210.1 294.6h0M136.8 264.6h0M182.9 235.0h0M157.5 273.6h0M194.7 274.4h0M189.1 255.1h0M211.9 292.6h0M204.8 239.2h0M160.4 241.4h0M214.3 289.1h0M211.4 255.4h0M184.3 277.8h0M148.5 255.4h0M134.5 287.3h0M153.2 275.3h0M190.9 266.4h0M213.6 283.9h0M146.0 267.2h0M160.8 294.3h0M192.9 232.8h0M147.0 271.6h0M179.6 228.1h0M133.9 269.6h0M187.1 232.2h0M205.1 244.5h0M185.9 266.8h0M159.7 298.9h0M165.5 258.6h0M180.7 290.7h0M227.7 285.3h0M180.6 281.2h0M191.0 299.9h0M225.9 284.5h0M146.7 269.8h0M170.1 243.8h0M206.1 243.0h0M198.5 263.7h0M168.8 280.4h0M151.7 277.5h0M176.0 298.4h0M170.9 253.5h0M179.9 249.7h0M170.6 252.8h0M176.5 266.8h0M164.8 236.3h0M125.9 269.1h0M160.9 250.6h0M202.0 264.0h0M162.7 256.8h0M164.5 300.4h0M170.1 270.3h0M225.2 275.4h0M186.4 289.8h0M159.1 228.8h0M224.6 267.1h0M185.1 231.1h0M202.2 254.8h0M191.5 247.8h0M220.4 254.4h0M152.9 294.8h0M167.5 286.3h0M198.8 287.1h0M136.3 294.5h0M161.5 288.7h0M173.5 294.6h0M174.2 245.9h0M139.8 264.2h0M215.8 270.2h0M174.4 262.1h0M220.8 281.7h0M177.4 272.9h0M214.4 299.4h0M186.4 229.9h0M149.2 236.6h0M177.8 270.9h0M172.3 262.2h0M138.8 281.3h0M180.4 249.8h0M211.5 298.3h0M171.2 245.8h0M202.1 295.7h0M138.6 265.0h0M225.6 294.4h0M171.3 234.1h0M171.9 265.9h0M206.5 240.3h0M125.2 273.0h0M134.0 283.8h0M168.5 297.3h0M147.5 293.6h0M147.9 229.7h0M161.3 281.2h0M180.6 233.5h0M184.9 260.3h0M158.4 289.9h0" stroke="#9050b0" stroke-width="2.1" stroke-linecap="round" opacity="0.88" fill="none"/>
<path d="M196.6 235.3h0M151.7 275.0h0M207.2 284.7h0M186.9 235.1h0M188.1 274.1h0M151.5 246.3h0M207.3 295.0h0M183.0 272.9h0M124.6 272.7h0M188.4 285.4h0M178.3 234.8h0M147.4 276.3h0M150.3 287.3h0M181.4 253.5h0M225.2 270.7h0M149.1 269.5h0M213.8 254.4h0M169.6 270.5h0M227.7 275.2h0M143.0 270.8h0M157.7 262.4h0M177.3 250.2h0M186.9 289.2h0M173.1 274.5h0M154.3 245.7h0M177.6 267.0h0M147.5 284.9h0M176.5 253.4h0M150.6 290.4h0M218.7 298.2h0M150.0 231.5h0M190.3 227.9h0M213.9 278.3h0M159.4 260.0h0M195.7 238.3h0M162.3 286.6h0M195.5 271.1h0M150.9 228.4h0M191.2 270.1h0M221.0 268.7h0M220.4 262.1h0M178.3 247.7h0M172.7 298.1h0M161.1 241.2h0M189.5 265.2h0M173.9 297.4h0M127.2 280.0h0M186.7 276.2h0M176.5 228.8h0M171.4 290.3h0M187.2 229.4h0M181.2 238.7h0M198.2 297.2h0M214.8 275.7h0M172.7 288.4h0M159.8 237.1h0M214.9 280.3h0M182.5 299.5h0M188.9 293.5h0M135.0 270.3h0M139.7 261.7h0M128.9 276.6h0M191.9 295.7h0M215.2 267.8h0M222.3 263.9h0M132.5 280.2h0M180.6 295.5h0M175.7 251.1h0M193.5 280.7h0M172.3 247.2h0M168.1 281.0h0M174.8 276.7h0M205.0 249.5h0M215.3 285.8h0M129.0 280.2h0M189.2 263.1h0M193.8 266.2h0M143.2 279.6h0M213.4 269.8h0M177.7 280.7h0M175.7 255.6h0M182.0 227.7h0M160.9 229.0h0M192.6 238.2h0M213.8 247.8h0M208.5 276.1h0M187.5 283.1h0M152.1 290.2h0M181.0 284.3h0M212.2 245.6h0M167.1 253.8h0M196.0 263.7h0M181.3 293.7h0M196.1 267.2h0M176.2 245.9h0M147.4 277.6h0M159.8 298.2h0M153.0 265.6h0M224.5 284.7h0M162.2 247.3h0" stroke="#7a3a9a" stroke-width="2.1" stroke-linecap="round" opacity="0.7" fill="none"/>
<path d="M255.0 195.9h0M238.1 220.8h0M225.1 237.0h0M252.8 216.2h0M238.2 240.5h0M253.0 218.9h0M211.5 239.0h0M243.6 203.7h0M239.5 205.2h0M220.0 216.1h0M222.9 255.3h0M231.4 238.7h0M226.0 226.1h0M256.5 212.5h0M231.0 227.4h0M229.9 251.1h0M255.2 202.2h0M252.2 195.3h0M238.3 202.8h0M215.4 223.2h0M244.6 224.2h0M224.7 221.8h0M230.7 212.8h0M256.2 206.1h0M220.7 245.4h0M221.5 260.6h0M217.7 224.0h0M218.7 231.5h0M216.6 241.6h0M224.3 244.4h0M217.2 225.8h0M232.9 245.2h0M238.5 223.8h0M210.8 241.0h0M220.1 259.2h0M240.2 234.8h0M214.8 252.0h0M239.9 223.7h0M235.9 240.6h0M221.5 262.0h0M222.0 239.3h0M205.2 249.3h0M251.0 219.6h0M221.9 230.0h0M207.6 242.8h0M236.3 237.9h0M225.7 223.4h0M208.6 232.6h0M251.7 213.8h0M234.0 212.5h0M249.0 207.5h0M238.2 233.1h0M228.7 230.7h0M248.3 207.0h0M247.3 209.2h0M204.8 244.4h0M223.1 233.2h0M224.8 229.4h0M234.2 217.7h0M222.3 236.6h0M232.6 206.8h0M202.0 246.4h0M209.6 233.8h0M209.7 240.4h0M238.9 230.6h0M228.8 255.5h0M202.5 253.8h0M228.1 208.0h0M234.3 208.2h0M241.4 204.9h0M240.7 237.7h0M217.4 242.5h0M223.4 258.2h0M235.4 211.4h0M256.0 217.0h0M226.8 221.2h0M249.7 198.5h0M252.0 208.7h0M207.9 247.8h0M240.0 222.4h0M235.2 232.9h0M231.8 226.2h0M224.3 243.1h0M206.6 243.2h0M232.0 218.2h0M251.1 205.6h0M228.3 255.5h0M230.3 245.8h0M226.5 214.4h0M251.2 221.0h0M224.8 208.5h0M228.5 244.3h0M221.3 241.0h0M256.8 213.3h0M230.2 204.9h0M218.1 258.9h0M226.2 209.3h0M235.3 200.3h0M230.7 239.9h0M218.3 247.1h0M235.8 205.5h0M210.9 244.1h0M247.8 196.6h0M224.6 212.9h0M227.6 256.6h0M233.0 247.1h0M245.1 212.5h0M236.5 219.8h0M228.0 231.3h0M239.4 204.5h0M249.5 203.9h0M218.5 254.8h0M256.4 206.9h0M202.1 248.4h0M209.5 247.7h0M227.8 217.6h0M243.6 228.5h0M210.1 259.9h0M231.1 204.6h0M211.6 237.4h0M219.1 248.8h0M205.2 254.7h0M230.0 238.8h0M214.1 243.5h0M224.0 245.4h0M234.5 202.4h0M217.7 247.6h0M232.2 244.9h0M219.4 227.3h0M228.1 247.4h0M215.3 235.6h0M213.7 258.2h0M221.5 257.1h0M243.4 211.9h0M229.2 241.6h0M217.1 259.3h0M236.7 197.4h0M218.0 244.6h0M204.2 253.9h0M214.7 251.3h0M240.5 226.5h0M233.8 246.4h0M239.6 221.6h0M229.4 229.6h0M230.1 234.4h0M212.1 226.6h0M248.6 194.4h0M251.2 211.0h0M255.0 219.5h0M232.1 242.4h0M248.6 210.5h0M211.3 244.6h0M218.8 231.0h0M204.5 253.6h0M240.7 217.2h0M243.7 233.7h0M207.9 257.8h0M207.6 247.4h0M246.9 215.3h0M236.4 220.6h0M257.6 211.2h0M256.4 214.9h0M224.9 215.4h0M240.7 205.5h0M229.9 254.9h0M206.3 236.3h0M239.7 196.6h0M228.2 211.9h0M235.9 221.4h0M226.9 231.8h0M214.7 229.2h0M227.9 242.4h0M202.5 251.5h0M217.7 252.7h0M256.3 208.4h0M238.1 202.8h0M213.7 227.3h0M212.5 256.5h0M237.2 243.1h0M236.7 196.5h0M230.4 235.7h0M229.0 247.9h0M231.5 212.6h0M230.5 207.8h0M212.3 229.6h0M234.4 234.9h0M227.1 229.7h0M230.4 250.0h0M240.1 200.8h0M220.9 228.3h0M243.3 219.5h0M209.4 238.6h0M247.6 222.7h0M220.7 226.3h0M238.5 222.4h0M214.6 242.8h0M251.8 213.7h0M215.6 243.5h0M238.5 232.6h0M208.5 235.8h0M244.2 205.3h0M232.5 198.0h0M216.9 263.8h0M222.5 251.6h0M205.8 250.4h0M232.1 251.1h0M205.8 245.5h0M229.9 248.5h0M212.5 255.0h0M241.5 203.5h0M242.8 194.9h0M227.5 211.0h0M240.3 206.6h0M221.3 230.4h0M238.3 230.2h0M245.4 228.3h0M224.4 216.8h0M223.3 208.4h0M218.4 247.3h0M249.9 201.3h0M230.4 247.1h0M246.1 220.7h0M209.9 263.1h0M235.9 240.3h0M233.7 221.9h0M244.4 201.9h0M235.2 206.0h0M205.4 244.2h0M215.0 228.0h0M253.7 198.6h0M245.7 193.0h0M236.9 231.5h0M246.9 200.6h0M224.7 244.3h0M207.8 251.8h0M231.0 230.9h0M239.9 222.0h0M221.1 264.3h0M241.7 236.7h0M215.1 224.3h0M231.1 220.0h0M233.3 198.7h0M223.5 229.4h0M243.4 220.2h0M242.0 206.8h0M220.8 246.6h0M226.4 255.3h0M202.1 249.8h0M230.9 236.9h0M240.6 205.3h0M214.9 252.7h0M226.0 223.0h0M210.2 258.6h0M221.4 256.8h0M226.5 210.0h0M233.3 215.1h0M248.9 195.2h0M237.6 217.1h0M224.8 232.1h0M221.1 262.8h0M233.3 206.6h0M246.6 227.9h0M236.8 243.4h0M232.4 201.7h0M235.8 208.9h0M212.8 239.1h0M242.2 235.1h0M228.7 223.2h0M230.9 216.8h0M246.9 228.4h0M229.5 254.4h0M244.4 230.4h0M209.9 256.9h0M246.7 216.9h0M250.0 199.6h0M214.3 246.4h0M233.9 201.7h0M257.7 207.3h0M237.1 236.0h0M230.6 249.3h0M231.2 215.3h0M208.2 247.3h0M225.5 254.1h0M234.2 236.1h0M254.4 196.7h0M235.2 208.5h0M204.6 247.0h0M233.0 211.6h0M215.5 256.8h0M248.2 224.3h0M226.6 224.0h0M221.1 249.6h0M252.2 214.1h0M242.0 207.9h0M245.8 216.4h0M218.9 248.3h0M249.8 202.4h0M253.8 224.1h0M216.2 220.0h0M231.2 231.0h0M241.0 221.3h0M250.6 193.3h0M232.7 230.7h0M213.4 230.9h0M204.1 240.5h0M230.0 231.8h0M254.0 200.6h0M248.5 215.6h0M223.1 230.8h0M246.2 196.3h0M231.8 234.0h0M242.4 217.3h0M222.5 242.4h0M253.3 219.3h0M231.0 227.8h0M249.5 212.0h0M216.9 221.0h0M238.5 203.4h0M243.1 222.5h0M233.7 198.7h0M238.3 204.9h0M228.6 212.0h0M233.3 242.9h0M230.6 247.5h0M236.7 198.2h0M238.7 227.8h0M220.7 254.9h0M213.6 240.1h0M226.3 225.6h0M229.4 219.6h0M213.6 243.2h0M237.0 196.0h0M216.0 260.9h0M234.1 219.6h0M216.8 241.9h0M252.2 197.3h0M225.5 218.9h0M237.9 201.8h0M252.2 202.4h0M209.8 258.7h0M201.3 246.5h0M246.9 215.8h0M200.2 246.2h0M221.6 216.3h0M226.1 215.0h0M227.7 255.3h0M223.6 223.2h0M231.1 218.3h0M218.1 261.0h0M239.7 228.1h0M205.4 253.5h0M244.9 227.4h0M229.2 227.2h0M228.6 246.5h0M243.4 216.8h0M245.8 219.8h0M239.7 219.9h0M245.9 220.2h0M220.7 224.1h0M203.8 258.0h0" stroke="#e04070" stroke-width="2.1" stroke-linecap="round" opacity="0.9" fill="none"/>
<g clip-path="url(#cclip)">
<path d="M48.0 208.0C50.3 208.5 57.0 209.7 62.0 211.0C67.0 212.3 72.5 213.8 78.0 216.0C83.5 218.2 89.3 220.8 95.0 224.0C100.7 227.2 106.2 231.7 112.0 235.0C117.8 238.3 123.7 241.7 130.0 244.0C136.3 246.3 143.3 248.2 150.0 249.0C156.7 249.8 163.7 249.7 170.0 249.0C176.3 248.3 182.5 247.2 188.0 245.0C193.5 242.8 198.3 239.8 203.0 236.0C207.7 232.2 211.8 226.8 216.0 222.0C220.2 217.2 224.2 211.3 228.0 207.0C231.8 202.7 235.5 198.8 239.0 196.0C242.5 193.2 246.0 191.3 249.0 190.0C252.0 188.7 254.7 188.0 257.0 188.0C259.3 188.0 262.0 189.7 263.0 190.0" fill="none" stroke="#000" stroke-width="0.55" opacity="0.9"/>
<path d="M47.0 212.6C49.3 213.1 55.9 214.2 60.8 215.5C65.7 216.8 71.0 218.3 76.3 220.4C81.6 222.5 87.1 225.0 92.7 228.1C98.3 231.2 103.7 235.7 109.7 239.1C115.6 242.5 121.8 246.0 128.4 248.4C135.0 250.8 142.4 252.8 149.4 253.7C156.4 254.5 163.8 254.4 170.5 253.7C177.2 253.0 183.8 251.7 189.7 249.4C195.6 247.0 201.0 243.7 206.0 239.6C211.0 235.6 215.3 230.0 219.6 225.1C223.8 220.1 227.8 214.4 231.5 210.1C235.3 205.9 238.7 202.3 242.0 199.7C245.2 197.0 248.4 195.5 250.9 194.3C253.4 193.1 255.2 192.7 257.0 192.7C258.8 192.7 260.8 194.2 261.5 194.5" fill="none" stroke="#000" stroke-width="0.55" opacity="0.9"/>
<path d="M46.0 217.2C48.3 217.7 54.8 218.8 59.6 220.1C64.3 221.3 69.4 222.7 74.6 224.7C79.7 226.8 85.0 229.1 90.4 232.2C95.9 235.3 101.3 239.7 107.3 243.2C113.4 246.6 119.8 250.3 126.8 252.8C133.7 255.3 141.5 257.4 148.8 258.3C156.2 259.2 163.9 259.1 171.0 258.3C178.1 257.6 185.1 256.3 191.4 253.7C197.8 251.2 203.7 247.5 209.0 243.3C214.2 239.0 218.8 233.1 223.1 228.1C227.5 223.1 231.4 217.4 235.0 213.2C238.7 209.1 242.0 205.7 244.9 203.3C247.9 200.9 250.8 199.6 252.8 198.6C254.8 197.6 255.8 197.3 257.0 197.4C258.2 197.5 259.5 198.7 260.0 198.9" fill="none" stroke="#000" stroke-width="0.55" opacity="0.9"/>
<path d="M45.0 221.8C47.3 222.3 53.7 223.4 58.4 224.6C63.0 225.8 67.9 227.2 72.8 229.1C77.8 231.1 82.8 233.3 88.1 236.3C93.5 239.3 98.8 243.8 105.0 247.2C111.2 250.7 117.9 254.6 125.1 257.2C132.3 259.9 140.5 262.0 148.3 263.0C156.0 264.0 164.0 263.8 171.5 263.0C179.0 262.2 186.4 260.8 193.2 258.1C199.9 255.4 206.4 251.4 211.9 246.9C217.5 242.4 222.2 236.3 226.7 231.2C231.1 226.1 235.0 220.4 238.6 216.3C242.1 212.3 245.2 209.2 247.9 207.0C250.6 204.7 253.2 203.7 254.7 202.9C256.2 202.1 256.4 202.0 257.0 202.1C257.6 202.2 258.3 203.2 258.5 203.4" fill="none" stroke="#000" stroke-width="0.55" opacity="0.9"/>
<path d="M44.1 226.4C46.2 226.8 52.6 228.0 57.2 229.2C61.7 230.4 66.3 231.6 71.1 233.5C75.9 235.4 80.6 237.4 85.8 240.4C91.1 243.4 96.4 247.8 102.7 251.3C109.0 254.9 116.0 258.9 123.5 261.6C131.0 264.4 139.6 266.6 147.7 267.7C155.7 268.7 164.1 268.6 172.0 267.7C179.8 266.8 187.7 265.4 194.9 262.5C202.1 259.6 209.0 255.2 214.9 250.5C220.8 245.8 225.7 239.5 230.2 234.3C234.8 229.1 238.6 223.4 242.1 219.5C245.5 215.5 248.4 212.7 250.8 210.6C253.3 208.6 255.6 207.8 256.6 207.2C257.7 206.5 256.9 206.7 257.0 206.8C257.1 206.9 257.0 207.7 257.1 207.8" fill="none" stroke="#000" stroke-width="0.55" opacity="0.9"/>
<path d="M43.1 231.0C45.2 231.4 51.6 232.6 55.9 233.7C60.3 234.9 64.8 236.1 69.4 237.9C74.0 239.7 78.4 241.6 83.5 244.5C88.7 247.4 94.0 251.8 100.3 255.4C106.7 259.0 114.1 263.2 121.9 266.1C129.7 268.9 138.7 271.3 147.1 272.3C155.5 273.4 164.2 273.3 172.5 272.4C180.7 271.5 189.0 269.9 196.6 266.9C204.2 263.8 211.7 259.1 217.9 254.2C224.1 249.2 229.2 242.6 233.8 237.3C238.4 232.1 242.3 226.4 245.6 222.6C248.9 218.7 251.6 216.1 253.8 214.3C255.9 212.4 258.0 211.9 258.5 211.5C259.1 211.0 257.5 211.4 257.0 211.5C256.5 211.6 255.8 212.2 255.6 212.3" fill="none" stroke="#000" stroke-width="0.55" opacity="0.9"/>
<path d="M42.1 235.6C44.2 236.0 50.5 237.1 54.7 238.2C59.0 239.4 63.2 240.5 67.7 242.2C72.1 244.0 76.2 245.7 81.2 248.6C86.3 251.5 91.5 255.8 98.0 259.5C104.5 263.1 112.2 267.5 120.3 270.5C128.3 273.4 137.7 275.9 146.5 277.0C155.3 278.1 164.3 278.0 173.0 277.0C181.6 276.1 190.3 274.4 198.3 271.2C206.3 268.0 214.4 262.9 220.9 257.8C227.4 252.7 232.7 245.8 237.4 240.4C242.1 235.1 245.9 229.4 249.1 225.7C252.4 221.9 254.9 219.6 256.7 217.9C258.6 216.3 260.4 216.1 260.5 215.8C260.5 215.5 258.1 216.0 257.0 216.2C255.9 216.4 254.6 216.7 254.1 216.8" fill="none" stroke="#000" stroke-width="0.55" opacity="0.9"/>
<path d="M41.1 240.2C43.2 240.6 49.4 241.7 53.5 242.8C57.7 243.9 61.7 245.0 65.9 246.6C70.2 248.3 74.0 249.9 79.0 252.7C83.9 255.5 89.1 259.9 95.7 263.6C102.3 267.3 110.3 271.9 118.6 274.9C127.0 277.9 136.8 280.5 145.9 281.6C155.1 282.8 164.4 282.7 173.4 281.7C182.5 280.7 191.7 279.0 200.1 275.6C208.5 272.2 217.1 266.8 223.9 261.4C230.7 256.1 236.1 248.9 240.9 243.5C245.7 238.0 249.5 232.5 252.6 228.8C255.8 225.1 258.1 223.0 259.7 221.6C261.3 220.1 262.8 220.2 262.4 220.1C261.9 220.0 258.6 220.7 257.0 220.9C255.4 221.1 253.3 221.2 252.6 221.2" fill="none" stroke="#000" stroke-width="0.55" opacity="0.9"/>
<path d="M40.1 244.8C42.2 245.2 48.3 246.3 52.3 247.3C56.3 248.4 60.2 249.4 64.2 251.0C68.3 252.6 71.8 254.0 76.7 256.8C81.5 259.6 86.6 263.9 93.3 267.6C100.1 271.4 108.3 276.2 117.0 279.3C125.7 282.4 135.8 285.1 145.3 286.3C154.8 287.5 164.5 287.4 173.9 286.4C183.3 285.3 193.0 283.5 201.8 280.0C210.6 276.4 219.7 270.6 226.9 265.1C234.0 259.5 239.6 252.1 244.5 246.6C249.4 241.0 253.1 235.5 256.2 231.9C259.2 228.4 261.3 226.5 262.7 225.2C264.0 224.0 265.2 224.3 264.3 224.4C263.3 224.4 259.2 225.4 257.0 225.6C254.8 225.8 252.1 225.7 251.1 225.7" fill="none" stroke="#000" stroke-width="0.55" opacity="0.9"/>
<path d="M39.1 249.4C41.1 249.8 47.2 250.9 51.1 251.9C55.0 252.9 58.6 253.8 62.5 255.4C66.4 256.9 69.6 258.2 74.4 260.9C79.1 263.7 84.2 267.9 91.0 271.7C97.8 275.5 106.4 280.5 115.4 283.7C124.3 286.9 134.9 289.7 144.8 291.0C154.6 292.2 164.6 292.2 174.4 291.1C184.2 290.0 194.3 288.1 203.5 284.4C212.7 280.6 222.4 274.5 229.8 268.7C237.3 262.9 243.1 255.2 248.0 249.6C253.0 244.0 256.8 238.5 259.7 235.0C262.6 231.6 264.5 229.9 265.6 228.9C266.7 227.8 267.6 228.4 266.2 228.7C264.7 228.9 259.8 230.1 257.0 230.3C254.2 230.5 250.9 230.2 249.6 230.1" fill="none" stroke="#000" stroke-width="0.55" opacity="0.9"/>
<path d="M38.2 254.0C40.1 254.4 46.1 255.5 49.9 256.4C53.7 257.4 57.1 258.3 60.8 259.7C64.5 261.2 67.4 262.3 72.1 265.0C76.7 267.7 81.7 272.0 88.7 275.8C95.6 279.7 104.5 284.8 113.8 288.1C123.0 291.4 134.0 294.4 144.2 295.6C154.4 296.9 164.7 296.9 174.9 295.7C185.1 294.6 195.6 292.6 205.2 288.7C214.9 284.8 225.1 278.3 232.8 272.3C240.6 266.3 246.5 258.4 251.6 252.7C256.7 247.0 260.4 241.5 263.2 238.1C266.0 234.8 267.8 233.4 268.6 232.5C269.4 231.7 270.0 232.5 268.1 232.9C266.2 233.4 260.3 234.7 257.0 235.0C253.7 235.3 249.6 234.7 248.1 234.6" fill="none" stroke="#000" stroke-width="0.55" opacity="0.9"/>
<path d="M37.2 258.6C39.1 259.0 45.0 260.0 48.7 261.0C52.3 261.9 55.5 262.7 59.1 264.1C62.6 265.5 65.2 266.5 69.8 269.1C74.3 271.8 79.3 276.0 86.3 279.9C93.4 283.8 102.6 289.1 112.1 292.5C121.7 295.9 133.0 299.0 143.6 300.3C154.1 301.6 164.9 301.6 175.4 300.4C186.0 299.2 196.9 297.2 206.9 293.1C217.0 289.0 227.8 282.2 235.8 275.9C243.9 269.7 250.0 261.5 255.2 255.8C260.3 250.0 264.0 244.5 266.7 241.3C269.5 238.0 271.0 236.9 271.5 236.2C272.1 235.5 272.4 236.7 270.0 237.2C267.6 237.8 260.9 239.4 257.0 239.7C253.1 240.0 248.4 239.2 246.7 239.0" fill="none" stroke="#000" stroke-width="0.55" opacity="0.9"/>
<path d="M36.2 263.1C38.1 263.5 43.9 264.6 47.5 265.5C51.0 266.4 54.0 267.2 57.3 268.5C60.7 269.8 63.0 270.7 67.5 273.2C71.9 275.8 76.8 280.0 84.0 284.0C91.2 287.9 100.7 293.4 110.5 296.9C120.3 300.4 132.1 303.6 143.0 305.0C153.9 306.3 165.0 306.3 175.9 305.1C186.8 303.8 198.2 301.7 208.7 297.5C219.2 293.2 230.5 286.0 238.8 279.6C247.1 273.1 253.5 264.7 258.7 258.8C264.0 253.0 267.6 247.5 270.2 244.4C272.9 241.2 274.2 240.3 274.5 239.8C274.8 239.4 274.8 240.8 271.9 241.5C269.0 242.3 261.5 244.1 257.0 244.4C252.5 244.7 247.1 243.7 245.2 243.5" fill="none" stroke="#000" stroke-width="0.55" opacity="0.9"/>
<path d="M35.2 267.7C37.0 268.1 42.9 269.2 46.3 270.0C49.7 270.9 52.4 271.6 55.6 272.8C58.8 274.1 60.8 274.8 65.2 277.3C69.5 279.9 74.4 284.1 81.7 288.0C89.0 292.0 98.8 297.7 108.9 301.3C119.0 304.9 131.2 308.2 142.4 309.6C153.7 311.0 165.1 311.1 176.4 309.8C187.7 308.5 199.5 306.3 210.4 301.8C221.3 297.4 233.1 289.9 241.8 283.2C250.4 276.6 256.9 267.8 262.3 261.9C267.6 255.9 271.2 250.6 273.8 247.5C276.3 244.4 277.4 243.8 277.4 243.5C277.5 243.2 277.2 244.9 273.8 245.8C270.4 246.8 262.0 248.7 257.0 249.1C252.0 249.5 245.9 248.2 243.7 248.0" fill="none" stroke="#000" stroke-width="0.55" opacity="0.9"/>
<path d="M34.2 272.3C36.0 272.7 41.8 273.8 45.0 274.6C48.3 275.4 50.9 276.1 53.9 277.2C56.9 278.4 58.7 279.0 62.9 281.4C67.1 283.9 72.0 288.1 79.4 292.1C86.7 296.2 96.8 302.0 107.3 305.7C117.7 309.4 130.2 312.8 141.8 314.3C153.4 315.7 165.2 315.8 176.9 314.4C188.6 313.1 200.8 310.8 212.1 306.2C223.4 301.6 235.8 293.7 244.8 286.8C253.7 280.0 260.4 271.0 265.8 265.0C271.3 258.9 274.9 253.6 277.3 250.6C279.7 247.6 280.7 247.2 280.4 247.1C280.1 247.1 279.6 249.0 275.7 250.1C271.8 251.2 262.6 253.4 257.0 253.8C251.4 254.2 244.7 252.7 242.2 252.4" fill="none" stroke="#000" stroke-width="0.55" opacity="0.9"/>
<path d="M33.2 276.9C35.0 277.3 40.7 278.3 43.8 279.1C47.0 279.9 49.4 280.5 52.2 281.6C55.0 282.7 56.5 283.1 60.6 285.5C64.8 288.0 69.5 292.1 77.0 296.2C84.5 300.3 94.9 306.4 105.6 310.2C116.3 313.9 129.3 317.5 141.3 319.0C153.2 320.4 165.3 320.5 177.4 319.1C189.5 317.7 202.1 315.4 213.8 310.6C225.6 305.8 238.5 297.6 247.7 290.5C257.0 283.4 263.9 274.2 269.4 268.0C274.9 261.9 278.5 256.6 280.8 253.7C283.1 250.8 283.9 250.7 283.4 250.8C282.8 250.9 282.0 253.1 277.6 254.4C273.2 255.7 263.2 258.1 257.0 258.5C250.8 258.9 243.4 257.2 240.7 256.9" fill="none" stroke="#000" stroke-width="0.55" opacity="0.9"/>
<path d="M32.2 281.5C34.0 281.9 39.6 282.9 42.6 283.7C45.7 284.4 47.8 285.0 50.4 286.0C53.1 287.0 54.3 287.3 58.3 289.6C62.4 292.0 67.1 296.1 74.7 300.3C82.3 304.4 93.0 310.7 104.0 314.6C115.0 318.5 128.4 322.1 140.7 323.6C153.0 325.2 165.4 325.2 177.9 323.8C190.4 322.3 203.4 319.9 215.6 315.0C227.7 310.0 241.2 301.4 250.7 294.1C260.3 286.8 267.4 277.3 273.0 271.1C278.6 264.9 282.1 259.6 284.3 256.8C286.6 254.1 287.1 254.1 286.3 254.4C285.5 254.8 284.4 257.3 279.5 258.7C274.7 260.2 263.7 262.8 257.0 263.2C250.3 263.6 242.2 261.7 239.2 261.3" fill="none" stroke="#000" stroke-width="0.55" opacity="0.9"/>
<path d="M31.3 286.1C33.0 286.5 38.5 287.5 41.4 288.2C44.3 288.9 46.3 289.4 48.7 290.3C51.1 291.3 52.1 291.4 56.0 293.7C60.0 296.1 64.6 300.2 72.4 304.4C80.1 308.6 91.1 315.0 102.4 319.0C113.7 323.0 127.4 326.7 140.1 328.3C152.8 329.9 165.5 330.0 178.4 328.5C191.2 327.0 204.7 324.5 217.3 319.3C229.8 314.2 243.8 305.3 253.7 297.7C263.6 290.2 270.8 280.5 276.5 274.2C282.2 267.9 285.7 262.6 287.8 259.9C290.0 257.3 290.3 257.6 289.3 258.1C288.2 258.6 286.8 261.4 281.5 263.0C276.1 264.6 264.3 267.4 257.0 267.9C249.7 268.4 240.9 266.1 237.7 265.8" fill="none" stroke="#000" stroke-width="0.55" opacity="0.9"/>
<path d="M87.9 220.0L85.5 219.0L85.5 221.0Z" fill="#111" transform="rotate(25 86.5 220.0)"/>
<path d="M141.4 246.5L139.0 245.5L139.0 247.5Z" fill="#111" transform="rotate(14 140.0 246.5)"/>
<path d="M196.9 240.5L194.5 239.5L194.5 241.5Z" fill="#111" transform="rotate(-31 195.5 240.5)"/>
<path d="M234.9 201.5L232.5 200.5L232.5 202.5Z" fill="#111" transform="rotate(-45 233.5 201.5)"/>
<path d="M85.9 224.2L83.5 223.2L83.5 225.2Z" fill="#111" transform="rotate(25 84.5 224.2)"/>
<path d="M140.3 251.0L137.9 250.0L137.9 252.0Z" fill="#111" transform="rotate(14 138.9 251.0)"/>
<path d="M199.3 244.5L196.9 243.5L196.9 245.5Z" fill="#111" transform="rotate(-31 197.9 244.5)"/>
<path d="M238.1 204.9L235.7 203.9L235.7 205.9Z" fill="#111" transform="rotate(-45 236.7 204.9)"/>
<path d="M83.9 228.5L81.5 227.5L81.5 229.5Z" fill="#111" transform="rotate(25 82.5 228.5)"/>
<path d="M139.2 255.6L136.8 254.6L136.8 256.6Z" fill="#111" transform="rotate(14 137.8 255.6)"/>
<path d="M201.6 248.5L199.2 247.5L199.2 249.5Z" fill="#111" transform="rotate(-31 200.2 248.5)"/>
<path d="M241.4 208.3L239.0 207.3L239.0 209.3Z" fill="#111" transform="rotate(-45 240.0 208.3)"/>
<path d="M81.9 232.7L79.5 231.7L79.5 233.7Z" fill="#111" transform="rotate(25 80.5 232.7)"/>
<path d="M138.1 260.1L135.7 259.1L135.7 261.1Z" fill="#111" transform="rotate(14 136.7 260.1)"/>
<path d="M204.0 252.5L201.6 251.5L201.6 253.5Z" fill="#111" transform="rotate(-31 202.6 252.5)"/>
<path d="M244.6 211.7L242.2 210.7L242.2 212.7Z" fill="#111" transform="rotate(-45 243.2 211.7)"/>
<path d="M79.9 237.0L77.5 236.0L77.5 238.0Z" fill="#111" transform="rotate(25 78.5 237.0)"/>
<path d="M137.0 264.6L134.6 263.6L134.6 265.6Z" fill="#111" transform="rotate(14 135.6 264.6)"/>
<path d="M206.3 256.5L203.9 255.5L203.9 257.5Z" fill="#111" transform="rotate(-31 204.9 256.5)"/>
<path d="M247.9 215.0L245.5 214.0L245.5 216.0Z" fill="#111" transform="rotate(-45 246.5 215.0)"/>
<path d="M77.9 241.2L75.5 240.2L75.5 242.2Z" fill="#111" transform="rotate(25 76.5 241.2)"/>
<path d="M135.9 269.2L133.5 268.2L133.5 270.2Z" fill="#111" transform="rotate(14 134.5 269.2)"/>
<path d="M208.7 260.5L206.3 259.5L206.3 261.5Z" fill="#111" transform="rotate(-31 207.3 260.5)"/>
<path d="M251.1 218.4L248.7 217.4L248.7 219.4Z" fill="#111" transform="rotate(-45 249.7 218.4)"/>
<path d="M75.9 245.4L73.5 244.4L73.5 246.4Z" fill="#111" transform="rotate(25 74.5 245.4)"/>
<path d="M134.8 273.7L132.4 272.7L132.4 274.7Z" fill="#111" transform="rotate(14 133.4 273.7)"/>
<path d="M211.0 264.5L208.6 263.5L208.6 265.5Z" fill="#111" transform="rotate(-31 209.6 264.5)"/>
<path d="M254.3 221.8L251.9 220.8L251.9 222.8Z" fill="#111" transform="rotate(-46 252.9 221.8)"/>
<path d="M73.8 249.7L71.4 248.7L71.4 250.7Z" fill="#111" transform="rotate(25 72.4 249.7)"/>
<path d="M133.7 278.3L131.3 277.3L131.3 279.3Z" fill="#111" transform="rotate(14 132.3 278.3)"/>
<path d="M213.4 268.5L211.0 267.5L211.0 269.5Z" fill="#111" transform="rotate(-31 212.0 268.5)"/>
<path d="M257.6 225.2L255.2 224.2L255.2 226.2Z" fill="#111" transform="rotate(-46 256.2 225.2)"/>
<path d="M71.8 253.9L69.4 252.9L69.4 254.9Z" fill="#111" transform="rotate(25 70.4 253.9)"/>
<path d="M132.6 282.8L130.2 281.8L130.2 283.8Z" fill="#111" transform="rotate(14 131.2 282.8)"/>
<path d="M215.7 272.5L213.3 271.5L213.3 273.5Z" fill="#111" transform="rotate(-31 214.3 272.5)"/>
<path d="M260.8 228.6L258.4 227.6L258.4 229.6Z" fill="#111" transform="rotate(-46 259.4 228.6)"/>
<path d="M69.8 258.1L67.4 257.1L67.4 259.1Z" fill="#111" transform="rotate(25 68.4 258.1)"/>
<path d="M131.5 287.3L129.1 286.3L129.1 288.3Z" fill="#111" transform="rotate(14 130.1 287.3)"/>
<path d="M218.1 276.5L215.7 275.5L215.7 277.5Z" fill="#111" transform="rotate(-31 216.7 276.5)"/>
<path d="M264.0 232.0L261.6 231.0L261.6 233.0Z" fill="#111" transform="rotate(-46 262.6 232.0)"/>
<path d="M67.8 262.4L65.4 261.4L65.4 263.4Z" fill="#111" transform="rotate(25 66.4 262.4)"/>
<path d="M130.4 291.9L128.0 290.9L128.0 292.9Z" fill="#111" transform="rotate(14 129.0 291.9)"/>
<path d="M220.4 280.5L218.0 279.5L218.0 281.5Z" fill="#111" transform="rotate(-31 219.0 280.5)"/>
<path d="M267.3 235.3L264.9 234.3L264.9 236.3Z" fill="#111" transform="rotate(-46 265.9 235.3)"/>
<path d="M65.8 266.6L63.4 265.6L63.4 267.6Z" fill="#111" transform="rotate(25 64.4 266.6)"/>
<path d="M129.3 296.4L126.9 295.4L126.9 297.4Z" fill="#111" transform="rotate(14 127.9 296.4)"/>
<path d="M222.8 284.5L220.4 283.5L220.4 285.5Z" fill="#111" transform="rotate(-31 221.4 284.5)"/>
<path d="M270.5 238.7L268.1 237.7L268.1 239.7Z" fill="#111" transform="rotate(-47 269.1 238.7)"/>
<path d="M63.8 270.9L61.4 269.9L61.4 271.9Z" fill="#111" transform="rotate(25 62.4 270.9)"/>
<path d="M128.2 300.9L125.8 299.9L125.8 301.9Z" fill="#111" transform="rotate(14 126.8 300.9)"/>
<path d="M225.1 288.5L222.7 287.5L222.7 289.5Z" fill="#111" transform="rotate(-31 223.7 288.5)"/>
<path d="M273.8 242.1L271.4 241.1L271.4 243.1Z" fill="#111" transform="rotate(-47 272.4 242.1)"/>
<path d="M61.8 275.1L59.4 274.1L59.4 276.1Z" fill="#111" transform="rotate(25 60.4 275.1)"/>
<path d="M127.0 305.5L124.6 304.5L124.6 306.5Z" fill="#111" transform="rotate(14 125.6 305.5)"/>
<path d="M227.5 292.5L225.1 291.5L225.1 293.5Z" fill="#111" transform="rotate(-31 226.1 292.5)"/>
<path d="M277.0 245.5L274.6 244.5L274.6 246.5Z" fill="#111" transform="rotate(-47 275.6 245.5)"/>
<path d="M59.8 279.3L57.4 278.3L57.4 280.3Z" fill="#111" transform="rotate(25 58.4 279.3)"/>
<path d="M125.9 310.0L123.5 309.0L123.5 311.0Z" fill="#111" transform="rotate(14 124.5 310.0)"/>
<path d="M229.8 296.5L227.4 295.5L227.4 297.5Z" fill="#111" transform="rotate(-31 228.4 296.5)"/>
<path d="M280.2 248.9L277.8 247.9L277.8 249.9Z" fill="#111" transform="rotate(-48 278.8 248.9)"/>
<path d="M57.8 283.6L55.4 282.6L55.4 284.6Z" fill="#111" transform="rotate(25 56.4 283.6)"/>
<path d="M124.8 314.6L122.4 313.6L122.4 315.6Z" fill="#111" transform="rotate(14 123.4 314.6)"/>
<path d="M232.2 300.5L229.8 299.5L229.8 301.5Z" fill="#111" transform="rotate(-31 230.8 300.5)"/>
<path d="M283.5 252.3L281.1 251.3L281.1 253.3Z" fill="#111" transform="rotate(-49 282.1 252.3)"/>
<path d="M55.8 287.8L53.4 286.8L53.4 288.8Z" fill="#111" transform="rotate(25 54.4 287.8)"/>
<path d="M123.7 319.1L121.3 318.1L121.3 320.1Z" fill="#111" transform="rotate(14 122.3 319.1)"/>
<path d="M234.5 304.5L232.1 303.5L232.1 305.5Z" fill="#111" transform="rotate(-31 233.1 304.5)"/>
<path d="M286.7 255.6L284.3 254.6L284.3 256.6Z" fill="#111" transform="rotate(-50 285.3 255.6)"/>
<path d="M53.8 292.0L51.4 291.0L51.4 293.0Z" fill="#111" transform="rotate(25 52.4 292.0)"/>
<path d="M122.6 323.6L120.2 322.6L120.2 324.6Z" fill="#111" transform="rotate(14 121.2 323.6)"/>
<path d="M236.9 308.5L234.5 307.5L234.5 309.5Z" fill="#111" transform="rotate(-31 235.5 308.5)"/>
<path d="M290.0 259.0L287.6 258.0L287.6 260.0Z" fill="#111" transform="rotate(-52 288.6 259.0)"/>
</g>
<circle cx="236.1" cy="263.7" r="3.9" fill="#e04070" stroke="none" stroke-width="0.5"/>
<text x="242.8" y="267.2" font-size="9.6" text-anchor="start" fill="#000">F_SP HEM</text>
<circle cx="236.1" cy="274.6" r="3.9" fill="#9050b0" stroke="none" stroke-width="0.5"/>
<text x="242.8" y="278.1" font-size="9.6" text-anchor="start" fill="#000">DP priMes</text>
<circle cx="236.1" cy="285.7" r="3.9" fill="#5080c8" stroke="none" stroke-width="0.5"/>
<text x="242.8" y="289.2" font-size="9.6" text-anchor="start" fill="#000">P_SP</text>
<circle cx="236.1" cy="296.4" r="3.9" fill="#1d5a8a" stroke="none" stroke-width="0.5"/>
<text x="242.8" y="299.9" font-size="9.6" text-anchor="start" fill="#000">DN</text>
<text x="302.6" y="166" font-size="13.2" text-anchor="start" fill="#000">d</text>
<text x="349.5" y="166.5" font-size="9.2" text-anchor="start" fill="#000">DN</text>
<g clip-path="url(#clip347169)">
<path d="M361.2 212.6h0M363.2 212.4h0M365.0 192.0h0M363.7 217.1h0M366.4 195.4h0M363.7 205.0h0M363.9 204.6h0M364.9 203.6h0M366.7 221.2h0M364.8 218.9h0M365.9 201.0h0M366.9 208.3h0M363.2 198.2h0M364.2 211.0h0M363.6 204.8h0M366.5 209.9h0M366.0 188.2h0M365.0 218.5h0M363.3 216.2h0M364.7 218.3h0M362.3 201.3h0M367.3 212.7h0M365.6 202.3h0M364.0 200.5h0M364.3 216.8h0M366.0 190.1h0M367.1 207.0h0M364.9 209.8h0M364.4 217.7h0M366.9 201.0h0M364.2 196.5h0M365.0 217.0h0M364.2 209.8h0M364.0 194.3h0M366.1 207.6h0M365.0 194.3h0M364.0 196.9h0M364.7 213.2h0M363.7 213.5h0M366.5 200.8h0M367.3 206.8h0M365.5 207.7h0M364.4 218.8h0M363.6 188.3h0M366.6 201.8h0M364.7 218.8h0M366.3 188.3h0M364.0 209.2h0M363.7 216.2h0M365.8 192.5h0M365.6 196.5h0M364.1 189.3h0M365.7 206.0h0M365.6 220.0h0M365.5 200.7h0M365.9 209.8h0M363.9 193.1h0M366.4 189.5h0M363.3 192.6h0M364.1 189.6h0M364.8 219.5h0M364.6 211.5h0M365.7 189.9h0M366.0 191.0h0M363.5 218.9h0M367.0 213.6h0M364.0 205.4h0M363.8 210.3h0M363.8 216.5h0M365.0 198.2h0" stroke="#777" stroke-width="0.6" stroke-linecap="round" opacity="0.8" fill="none"/>
<path d="M362.2 228.9h0M367.0 225.3h0M363.0 227.4h0M365.5 229.2h0M365.3 223.8h0M363.2 226.4h0M361.7 223.2h0M366.9 228.7h0M366.2 230.7h0M364.3 223.8h0M365.2 229.0h0M362.8 232.5h0M367.7 221.6h0M363.1 228.4h0M365.7 229.7h0M365.9 225.5h0M363.9 227.4h0M366.0 223.5h0M364.3 226.1h0M364.0 222.1h0M366.1 220.7h0M364.9 223.3h0M365.0 230.7h0M369.9 228.5h0M364.5 222.0h0M364.4 227.1h0M361.4 224.0h0M365.7 227.1h0M364.0 222.4h0M365.6 222.5h0M369.4 225.2h0M363.8 229.9h0M362.9 224.0h0M366.4 221.0h0M365.7 223.6h0M362.2 225.9h0M364.7 225.7h0M365.9 222.5h0M367.3 231.8h0M361.6 224.0h0M364.8 221.1h0M365.6 225.4h0M364.3 227.8h0M364.0 224.1h0M366.2 226.3h0M366.3 229.9h0M362.6 227.1h0M367.7 226.3h0M365.0 227.5h0M366.2 226.7h0M363.9 227.2h0M363.7 226.5h0M364.6 218.9h0M364.6 227.2h0M365.9 225.7h0M362.8 221.2h0M360.4 226.8h0M367.1 230.5h0M368.9 221.9h0M366.4 223.0h0M360.7 225.5h0M363.8 227.8h0M366.5 226.5h0M368.2 232.2h0M364.3 229.0h0M368.3 225.1h0M364.0 226.7h0M363.8 228.2h0M367.2 224.8h0M366.7 225.5h0M369.5 228.2h0M368.5 228.8h0M363.5 224.4h0M366.2 222.8h0M367.8 225.5h0M369.8 223.2h0M362.6 229.8h0M364.6 220.9h0M368.3 226.8h0M365.1 223.7h0M365.7 226.7h0M364.0 225.5h0M366.3 223.0h0M368.6 225.8h0M363.7 227.0h0M362.3 228.1h0M368.0 220.4h0M364.8 226.7h0M363.3 221.4h0M362.6 221.0h0M366.2 221.5h0M365.5 224.4h0M368.1 224.3h0M366.1 227.2h0M363.8 223.7h0M366.6 224.9h0M362.4 226.4h0M366.7 224.9h0M367.7 222.5h0M360.2 222.4h0M367.7 222.1h0M364.4 225.7h0M365.6 231.0h0M367.3 229.4h0M363.8 228.8h0M366.9 220.0h0M365.0 222.2h0M358.8 223.7h0M367.7 223.9h0M369.2 229.6h0M366.1 226.5h0M364.2 224.1h0M365.1 220.7h0M367.4 232.6h0M368.2 225.9h0M368.9 225.3h0M361.0 227.1h0M368.1 224.0h0M366.8 227.7h0M364.4 222.8h0M366.2 229.3h0M366.6 229.1h0M367.9 229.3h0M366.2 234.0h0M367.4 229.1h0M364.1 224.2h0M363.1 222.8h0M363.9 224.5h0M360.9 227.0h0M363.8 224.2h0M362.7 232.2h0M367.4 227.3h0M362.7 225.7h0M366.0 226.0h0M366.3 222.8h0M364.4 229.7h0M365.9 226.5h0M366.8 220.8h0M365.6 228.9h0M366.7 227.4h0M361.4 225.2h0M360.7 225.7h0M367.8 226.0h0M366.1 226.5h0M364.5 224.4h0M365.6 225.3h0M371.8 230.0h0M362.7 228.5h0M364.1 225.0h0M363.9 228.9h0M364.7 219.9h0M364.5 223.9h0M360.2 227.9h0M365.9 228.9h0M359.6 218.4h0M368.3 226.9h0M362.4 227.0h0M365.5 224.7h0M363.4 224.2h0M365.1 220.5h0" stroke="#555" stroke-width="0.6" stroke-linecap="round" opacity="0.8" fill="none"/>
<path d="M382.9 204.6h0M389.5 221.0h0M385.7 222.4h0M388.1 224.2h0M380.1 227.1h0M381.0 228.7h0M391.8 223.5h0M382.0 213.7h0M386.2 224.2h0M382.9 227.0h0M379.1 215.6h0M377.8 205.1h0M385.8 218.6h0M382.5 223.9h0M385.4 220.5h0M376.6 209.9h0M375.4 204.8h0M386.3 211.3h0M387.8 226.1h0M380.3 209.8h0M384.9 225.4h0M376.9 226.7h0M387.7 217.8h0M382.7 211.4h0M382.7 221.5h0M383.4 221.4h0M378.7 224.4h0M382.7 206.7h0M391.7 222.5h0M379.9 212.1h0M382.9 221.3h0M380.4 210.7h0M384.6 207.1h0M383.2 222.4h0M381.6 217.1h0M379.4 211.6h0M385.6 210.9h0M378.5 226.2h0M376.2 227.2h0M376.8 216.6h0M385.4 212.3h0M386.9 226.5h0M381.1 201.8h0M378.8 226.4h0M386.4 222.6h0" stroke="#999" stroke-width="0.6" stroke-linecap="round" opacity="1.0" fill="none"/>
<ellipse cx="365" cy="226" rx="3.2" ry="5.2" fill="none" stroke="#888" stroke-width="0.6"/>
<ellipse cx="365" cy="226.5" rx="2.4" ry="3.8" fill="none" stroke="#555" stroke-width="0.7"/>
<ellipse cx="365" cy="227" rx="1.5" ry="2.4" fill="none" stroke="#444" stroke-width="0.7"/>
<ellipse cx="365.5" cy="218" rx="1.2" ry="3" fill="none" stroke="#666" stroke-width="0.5"/>
<path d="M377.3 195.0h0M398.3 212.3h0M413.9 183.4h0M374.0 221.1h0M413.5 205.1h0M405.1 179.8h0M394.8 195.4h0M398.5 193.1h0M363.1 191.1h0M400.6 222.6h0M413.9 201.4h0M354.6 229.4h0M367.9 223.0h0M384.2 203.5h0M352.2 188.1h0M402.4 204.6h0M411.7 229.3h0M387.4 241.8h0" stroke="#aaa" stroke-width="0.6" stroke-linecap="round" opacity="1.0" fill="none"/>
</g>
<clipPath id="clip347169"><rect x="347.3" y="169.8" width="78.1" height="75.9"/></clipPath>
<rect x="347.3" y="169.8" width="78.1" height="75.9" fill="none" stroke="#999" stroke-width="0.8"/>
<line x1="373.6" y1="169.8" x2="373.6" y2="245.70000000000002" stroke="#777" stroke-width="0.8"/>
<line x1="347.3" y1="218.1" x2="425.4" y2="218.1" stroke="#777" stroke-width="0.8"/>
<line x1="344.8" y1="177.8" x2="347.3" y2="177.8" stroke="#444" stroke-width="0.6"/>
<line x1="344.8" y1="194.8" x2="347.3" y2="194.8" stroke="#444" stroke-width="0.6"/>
<line x1="344.8" y1="209.8" x2="347.3" y2="209.8" stroke="#444" stroke-width="0.6"/>
<line x1="344.8" y1="224.8" x2="347.3" y2="224.8" stroke="#444" stroke-width="0.6"/>
<line x1="344.8" y1="237.8" x2="347.3" y2="237.8" stroke="#444" stroke-width="0.6"/>
<line x1="355.3" y1="245.70000000000002" x2="355.3" y2="248.20000000000002" stroke="#444" stroke-width="0.6"/>
<line x1="367.3" y1="245.70000000000002" x2="367.3" y2="248.20000000000002" stroke="#444" stroke-width="0.6"/>
<line x1="377.3" y1="245.70000000000002" x2="377.3" y2="248.20000000000002" stroke="#444" stroke-width="0.6"/>
<line x1="392.3" y1="245.70000000000002" x2="392.3" y2="248.20000000000002" stroke="#444" stroke-width="0.6"/>
<line x1="407.3" y1="245.70000000000002" x2="407.3" y2="248.20000000000002" stroke="#444" stroke-width="0.6"/>
<line x1="417.3" y1="245.70000000000002" x2="417.3" y2="248.20000000000002" stroke="#444" stroke-width="0.6"/>
<text x="350.6" y="182.8" font-size="11.3" text-anchor="start" fill="#000">2</text>
<text x="423.3" y="182.8" font-size="11.3" text-anchor="end" fill="#000">0.3</text>
<text x="423.3" y="243" font-size="11.3" text-anchor="end" fill="#000">0.5</text>
<text x="442.0" y="166.5" font-size="9.2" text-anchor="start" fill="#000">P_SP</text>
<g clip-path="url(#clip439169)">
<path d="M460.8 225.1h0M457.1 224.7h0M459.1 223.3h0M456.1 223.5h0M455.7 228.0h0M457.6 227.4h0M456.0 220.1h0M464.6 230.2h0M459.6 226.8h0M457.5 228.7h0M452.0 225.5h0M460.9 228.1h0M456.5 222.8h0M456.1 228.4h0M461.7 220.5h0M456.9 225.2h0M454.8 230.7h0M455.4 226.6h0M457.5 224.1h0M455.5 220.1h0M460.2 227.7h0M459.3 222.5h0M455.5 224.3h0M455.4 223.7h0M454.4 232.5h0M454.4 211.4h0M456.4 228.9h0M454.3 231.0h0M455.2 229.5h0M459.6 229.5h0M457.2 233.8h0M453.4 232.4h0M455.7 223.5h0M451.9 222.1h0M456.2 218.0h0M454.4 222.7h0M461.4 230.8h0M455.4 220.5h0M456.4 231.4h0M455.6 224.4h0M462.8 224.6h0M455.7 218.1h0M457.1 221.3h0M463.8 222.6h0M456.6 221.2h0M457.1 225.0h0M462.0 220.2h0M455.4 222.5h0M458.2 224.2h0M456.3 226.8h0M456.0 222.7h0M453.3 219.7h0M456.8 226.1h0M463.3 225.6h0M455.0 225.9h0M459.3 225.3h0M464.0 225.0h0M460.4 226.0h0M454.4 225.9h0M458.7 230.7h0M452.8 216.1h0M460.0 226.9h0M459.8 227.0h0M458.2 226.0h0M458.8 222.0h0M457.8 217.7h0M458.2 224.1h0M453.3 221.0h0M455.4 221.0h0M453.4 228.4h0M455.5 224.2h0M454.8 225.1h0M459.6 230.5h0M460.1 220.0h0M460.8 225.3h0M458.2 222.9h0M453.8 224.8h0M455.5 224.2h0M462.3 225.7h0M459.9 229.7h0M453.6 224.0h0M463.8 232.0h0M457.9 216.9h0M459.8 230.9h0M454.9 229.3h0M457.1 221.1h0M460.8 223.6h0M453.7 226.3h0M461.5 231.9h0M455.1 232.3h0M458.9 226.6h0M456.2 223.4h0M456.3 226.0h0M457.3 218.5h0M457.4 223.0h0M461.5 226.5h0M461.9 228.1h0M451.8 222.3h0M459.7 219.7h0M459.6 220.8h0M457.7 226.4h0M456.8 219.3h0M455.7 221.5h0M452.0 227.5h0M456.9 226.5h0M462.5 223.0h0M464.5 217.9h0M456.5 225.9h0M454.8 225.2h0M454.3 229.6h0M458.0 235.6h0M458.5 228.2h0M459.0 222.4h0M457.6 221.8h0M455.3 227.4h0M458.1 232.4h0M463.9 221.7h0M458.3 225.8h0M453.7 227.4h0M451.2 222.0h0M462.2 224.5h0M457.8 229.0h0M460.6 226.6h0M458.0 221.5h0M459.4 229.6h0M461.2 221.5h0M460.3 227.7h0M458.7 232.2h0M455.4 227.1h0M459.7 222.7h0M450.6 228.6h0M456.8 229.7h0M456.5 222.1h0M456.0 222.0h0M459.7 220.5h0M457.5 219.8h0M457.1 221.2h0M459.6 228.0h0M457.8 225.6h0M458.4 220.2h0M453.7 225.8h0M459.3 225.8h0M457.8 223.9h0M460.3 221.5h0M463.4 223.4h0M455.8 227.0h0M453.6 227.8h0M453.7 226.5h0M462.6 224.6h0M453.4 224.4h0M454.3 225.2h0M452.3 229.5h0M461.6 224.6h0M456.8 224.3h0M452.1 221.3h0M458.2 231.9h0M457.9 231.3h0M457.2 230.3h0M458.1 224.0h0M459.8 220.9h0M458.1 228.4h0M453.7 222.8h0M458.5 226.4h0M458.5 230.6h0M454.1 228.9h0M457.6 221.2h0M456.7 223.8h0M454.9 221.3h0M458.4 230.9h0M462.8 233.2h0" stroke="#555" stroke-width="0.6" stroke-linecap="round" opacity="0.8" fill="none"/>
<path d="M475.7 229.4h0M478.7 223.7h0M480.3 226.9h0M471.5 227.5h0M481.0 227.4h0M467.5 229.7h0M484.7 225.5h0M470.6 223.5h0M468.1 225.9h0M465.6 223.9h0M477.3 225.3h0M479.8 224.1h0M474.0 223.7h0M462.4 228.9h0M471.2 224.4h0M485.4 225.0h0M475.5 223.1h0M472.3 229.0h0M482.6 228.5h0M484.9 223.8h0M463.3 223.0h0M478.3 226.4h0M471.2 227.7h0M467.5 226.9h0M472.4 223.1h0M481.4 223.5h0M482.0 228.1h0M472.9 225.6h0M467.1 223.1h0M479.4 225.0h0M476.1 224.9h0M468.7 223.3h0M481.1 225.5h0M465.8 229.0h0M465.9 223.8h0M465.9 226.5h0M485.1 227.6h0M482.8 225.4h0M472.9 222.8h0M468.6 229.0h0M469.1 229.2h0M465.5 225.4h0M482.8 224.5h0M475.3 226.4h0M467.3 224.1h0M477.8 223.4h0M481.7 229.0h0M472.5 223.0h0M476.3 224.4h0M464.6 227.7h0M476.0 224.2h0M468.2 227.8h0M484.9 224.8h0M476.6 223.8h0M473.6 226.6h0M469.6 226.8h0M465.0 225.3h0M465.7 226.4h0M476.8 227.0h0M484.1 226.9h0M481.3 222.9h0M476.8 228.6h0M475.8 225.5h0M466.0 225.8h0M479.8 228.4h0M484.3 226.1h0M485.6 225.0h0M462.5 225.4h0M475.5 228.2h0M480.1 223.5h0" stroke="#888" stroke-width="0.6" stroke-linecap="round" opacity="0.8" fill="none"/>
<path d="M476.4 204.2h0M459.3 203.0h0M459.6 204.9h0M472.2 205.1h0M457.1 203.4h0M464.4 199.9h0M465.5 212.1h0M462.8 207.3h0M469.6 197.1h0M463.2 194.8h0M472.8 207.3h0M470.3 198.4h0M469.2 206.4h0M458.1 195.6h0M466.2 210.8h0M463.4 213.9h0M458.2 212.6h0M457.4 205.0h0M462.6 209.3h0M465.4 209.3h0M469.8 212.9h0M466.4 201.2h0M460.0 196.9h0M469.7 197.5h0M464.8 212.7h0" stroke="#999" stroke-width="0.6" stroke-linecap="round" opacity="1.0" fill="none"/>
<ellipse cx="458" cy="225" rx="3.8" ry="6" fill="none" stroke="#888" stroke-width="0.6"/>
<ellipse cx="458" cy="225.5" rx="2.8" ry="4.4" fill="none" stroke="#555" stroke-width="0.7"/>
<ellipse cx="458" cy="226" rx="1.8" ry="2.8" fill="none" stroke="#333" stroke-width="0.7"/>
<ellipse cx="472" cy="227" rx="9" ry="2.2" fill="none" stroke="#aaa" stroke-width="0.5"/>
<path d="M502.4 220.2h0M465.0 179.6h0M457.8 190.7h0M458.4 212.5h0M467.0 187.3h0M506.4 198.2h0M445.2 172.7h0M483.6 174.1h0M484.0 173.8h0M477.9 215.9h0M482.8 187.3h0M503.7 241.0h0M502.0 238.2h0M513.0 198.1h0M483.0 201.4h0M500.1 183.9h0M460.9 204.0h0M483.1 242.4h0" stroke="#aaa" stroke-width="0.6" stroke-linecap="round" opacity="1.0" fill="none"/>
</g>
<clipPath id="clip439169"><rect x="439.8" y="169.8" width="78.5" height="75.9"/></clipPath>
<rect x="439.8" y="169.8" width="78.5" height="75.9" fill="none" stroke="#999" stroke-width="0.8"/>
<line x1="466.6" y1="169.8" x2="466.6" y2="245.70000000000002" stroke="#777" stroke-width="0.8"/>
<line x1="439.8" y1="218.1" x2="518.3" y2="218.1" stroke="#777" stroke-width="0.8"/>
<line x1="437.3" y1="177.8" x2="439.8" y2="177.8" stroke="#444" stroke-width="0.6"/>
<line x1="437.3" y1="194.8" x2="439.8" y2="194.8" stroke="#444" stroke-width="0.6"/>
<line x1="437.3" y1="209.8" x2="439.8" y2="209.8" stroke="#444" stroke-width="0.6"/>
<line x1="437.3" y1="224.8" x2="439.8" y2="224.8" stroke="#444" stroke-width="0.6"/>
<line x1="437.3" y1="237.8" x2="439.8" y2="237.8" stroke="#444" stroke-width="0.6"/>
<line x1="447.8" y1="245.70000000000002" x2="447.8" y2="248.20000000000002" stroke="#444" stroke-width="0.6"/>
<line x1="459.8" y1="245.70000000000002" x2="459.8" y2="248.20000000000002" stroke="#444" stroke-width="0.6"/>
<line x1="469.8" y1="245.70000000000002" x2="469.8" y2="248.20000000000002" stroke="#444" stroke-width="0.6"/>
<line x1="484.8" y1="245.70000000000002" x2="484.8" y2="248.20000000000002" stroke="#444" stroke-width="0.6"/>
<line x1="499.8" y1="245.70000000000002" x2="499.8" y2="248.20000000000002" stroke="#444" stroke-width="0.6"/>
<line x1="509.8" y1="245.70000000000002" x2="509.8" y2="248.20000000000002" stroke="#444" stroke-width="0.6"/>
<text x="442.7" y="182.8" font-size="11.3" text-anchor="start" fill="#000">0.6</text>
<text x="516.3" y="182.8" font-size="11.3" text-anchor="end" fill="#000">0.1</text>
<text x="516.3" y="243" font-size="11.3" text-anchor="end" fill="#000">2</text>
<text x="350.4" y="259.09999999999997" font-size="9.2" text-anchor="start" fill="#000">DP priMes</text>
<g clip-path="url(#clip348262)">
<path d="M376.3 319.5h0M364.0 303.3h0M385.2 317.8h0M373.7 307.3h0M383.7 295.2h0M387.3 312.9h0M388.6 310.4h0M376.2 312.2h0M374.8 290.5h0M364.2 304.9h0M367.1 292.7h0M372.5 296.7h0M377.5 323.9h0M382.1 304.7h0M376.8 304.6h0M394.2 303.5h0M381.5 295.8h0M367.8 289.6h0M363.8 292.8h0M361.7 298.7h0M384.1 285.2h0M391.7 300.3h0M386.2 299.4h0M393.4 310.6h0M365.1 304.7h0M371.1 313.6h0M375.6 290.1h0M365.0 291.3h0M377.2 299.5h0M388.6 315.2h0M363.5 289.7h0M386.1 320.2h0M364.2 292.1h0M397.4 306.4h0M376.8 283.2h0M362.4 289.8h0M381.1 316.8h0M377.4 307.4h0M390.9 310.5h0M378.2 295.2h0M386.3 300.7h0M399.0 303.8h0M384.6 310.0h0M380.3 302.2h0M387.9 307.0h0M394.2 304.9h0M372.8 288.0h0M377.5 299.2h0M378.2 291.5h0M380.2 305.8h0M364.3 309.6h0M389.8 288.8h0M370.4 281.7h0M379.8 310.4h0M377.3 306.5h0M362.3 302.8h0M398.8 311.8h0M378.7 291.7h0M365.5 309.1h0M392.1 297.7h0M363.6 292.5h0M389.7 314.7h0M376.8 319.9h0M376.4 281.1h0M368.6 320.1h0M372.0 297.8h0M398.7 303.9h0M371.1 281.4h0M384.0 322.0h0M390.2 318.6h0M396.7 309.9h0M362.4 294.0h0M384.4 298.7h0M369.1 283.0h0M396.4 310.0h0M372.6 301.2h0M386.4 290.5h0M398.0 316.0h0M381.3 294.5h0M374.8 322.9h0M398.1 302.0h0M387.7 320.9h0M378.1 321.3h0M393.5 292.8h0M375.1 311.1h0M366.9 291.5h0M368.1 284.8h0M394.5 302.7h0M391.3 310.9h0M378.5 303.4h0M365.4 290.9h0M374.4 296.1h0M387.7 290.9h0M370.0 319.4h0M392.8 321.9h0M380.5 317.5h0M380.3 306.5h0M391.1 310.0h0M378.8 305.7h0M382.2 295.6h0M363.6 313.4h0M392.4 299.6h0M392.3 317.2h0M389.0 316.4h0M392.7 313.2h0M364.1 306.4h0M363.7 312.9h0M374.2 296.9h0M371.5 316.4h0M386.9 293.4h0M393.7 307.2h0M392.2 307.7h0M379.5 306.6h0M383.8 292.8h0M372.9 315.9h0M388.8 302.7h0M376.6 311.7h0M387.3 322.4h0M391.4 297.3h0M371.7 282.0h0M392.8 299.3h0M376.6 282.4h0M380.8 320.4h0M371.6 313.5h0M391.9 309.7h0M385.0 291.2h0M388.3 306.3h0M400.6 303.2h0M374.9 320.8h0M386.2 295.4h0M367.9 319.8h0M379.5 316.1h0M369.0 301.2h0M370.0 316.1h0M385.1 297.7h0M376.1 289.5h0M368.8 311.1h0M373.1 284.7h0M376.2 300.4h0M376.9 323.7h0M390.3 300.6h0M376.7 290.1h0M366.4 301.3h0M380.0 287.8h0M385.3 295.5h0M388.0 315.2h0M377.0 297.2h0M363.3 289.5h0M386.1 316.3h0M365.8 323.9h0M382.6 310.3h0M373.8 296.5h0M390.3 301.8h0M378.4 305.3h0M364.9 301.2h0M372.4 287.5h0M382.0 311.6h0M382.1 302.5h0M388.1 299.0h0M360.3 305.6h0M389.2 297.2h0M376.8 295.4h0M370.2 315.6h0M383.7 300.7h0M365.5 313.0h0M398.2 320.7h0M371.0 284.9h0M363.7 319.1h0M381.6 300.3h0M369.5 311.8h0M376.2 300.9h0M373.1 290.2h0M372.7 292.3h0M367.9 319.3h0M375.9 305.2h0M394.1 310.5h0M366.6 322.9h0M373.8 317.4h0M375.9 311.4h0M382.9 322.7h0M393.2 317.6h0M381.0 299.8h0M363.0 308.6h0M370.3 314.7h0M372.9 322.5h0M371.6 293.0h0M378.9 319.9h0M394.0 297.3h0M362.7 296.7h0M367.8 282.5h0M363.6 283.6h0M372.0 306.0h0M387.6 292.9h0M381.6 295.0h0M383.3 288.5h0M378.7 291.9h0M386.9 315.1h0M379.1 304.7h0M374.8 293.0h0M362.3 313.6h0M373.6 306.9h0M371.2 312.3h0M380.8 294.0h0M364.1 320.8h0M363.5 297.9h0M384.6 307.2h0M363.7 302.8h0M391.5 315.5h0M390.9 310.6h0M365.4 298.4h0M383.7 292.0h0M366.8 322.9h0M386.0 313.0h0M385.5 305.4h0M375.9 289.9h0M385.1 297.7h0M371.3 321.3h0M390.3 299.3h0M375.7 313.0h0M366.2 312.5h0M369.5 316.3h0M366.7 321.1h0M393.6 306.1h0M370.4 311.0h0M377.4 286.4h0M395.7 312.3h0M370.2 299.2h0M388.7 296.7h0M370.8 303.7h0M370.6 301.7h0M365.8 289.3h0M365.7 302.5h0M375.4 320.4h0M397.8 303.1h0M381.6 288.2h0M380.5 314.2h0M382.4 320.7h0M365.6 313.2h0M385.2 319.7h0M374.1 300.8h0M375.6 318.1h0M387.2 302.0h0M377.4 290.7h0M376.2 286.2h0M395.3 315.9h0M400.6 310.3h0M366.8 299.0h0M374.4 286.7h0M367.2 292.4h0M396.4 299.4h0M367.3 284.6h0M382.0 295.7h0M381.0 284.9h0M374.9 302.7h0M363.5 302.6h0M395.3 306.5h0M365.4 308.4h0M363.5 286.4h0M360.4 303.9h0M367.5 292.5h0M365.1 320.3h0M366.1 310.3h0M393.9 300.2h0M384.5 295.0h0M394.4 310.9h0M363.3 311.7h0M365.9 301.6h0M367.7 301.8h0M387.5 313.0h0M373.7 282.5h0M378.9 321.2h0M383.2 307.9h0M392.2 308.7h0M391.0 316.3h0M366.0 291.9h0M389.9 306.1h0M396.2 314.8h0M373.9 287.7h0M380.8 292.4h0M376.8 309.4h0M386.6 307.8h0M389.6 320.8h0M385.7 309.1h0M397.3 313.6h0M395.6 297.4h0M368.8 299.9h0M395.3 314.0h0M365.5 289.1h0M368.7 313.5h0M370.5 320.0h0M377.3 288.7h0M377.4 286.3h0M377.5 297.0h0M361.6 290.0h0M377.7 319.3h0M398.1 318.6h0M390.5 305.5h0M381.5 312.2h0M367.6 320.4h0M391.7 299.9h0M376.4 306.0h0M395.6 309.6h0M387.9 320.0h0M397.1 311.4h0M395.3 308.5h0M383.2 288.7h0M372.8 290.8h0M374.3 323.8h0M365.3 306.2h0M371.5 314.0h0M362.8 310.5h0M370.8 323.1h0M373.8 310.1h0M386.6 321.1h0M391.2 297.1h0M368.4 320.1h0M387.9 295.7h0M363.0 309.2h0M362.5 290.8h0M362.0 287.7h0M391.4 292.0h0M393.6 313.1h0M387.0 307.2h0M365.9 317.3h0M398.8 303.9h0M367.9 283.9h0M370.7 323.7h0M373.3 292.6h0M393.2 315.1h0M372.9 281.3h0M397.8 316.4h0M400.1 308.8h0M397.4 306.9h0M369.0 315.7h0M362.9 306.2h0M365.8 315.3h0M379.0 315.2h0M368.1 296.4h0M393.3 295.0h0M386.3 291.5h0M390.4 292.8h0M377.7 312.5h0M367.3 289.5h0M392.2 310.3h0M390.1 316.3h0M369.8 302.3h0M385.2 291.7h0M378.6 310.8h0M369.3 309.9h0M376.8 282.2h0M364.4 309.4h0M394.5 310.6h0M396.2 310.0h0M392.7 317.7h0M385.0 303.9h0M366.8 290.6h0M363.6 285.0h0M376.5 293.2h0M383.6 317.3h0M371.3 320.2h0M384.8 288.9h0M362.7 289.9h0M396.3 318.9h0M396.0 296.9h0M374.5 311.5h0M382.3 294.8h0M366.3 285.2h0M389.9 320.8h0M361.6 290.0h0M382.0 292.0h0M380.5 302.6h0M371.1 285.3h0M377.6 316.5h0M365.8 304.2h0M394.0 305.7h0M374.6 321.8h0M372.6 301.8h0M378.9 317.8h0M386.0 304.8h0M381.6 320.1h0" stroke="#888" stroke-width="0.6" stroke-linecap="round" opacity="0.7" fill="none"/>
<ellipse cx="367" cy="317" rx="5" ry="6.5" fill="none" stroke="#777" stroke-width="0.6"/>
<ellipse cx="367" cy="317" rx="3.8" ry="5" fill="none" stroke="#555" stroke-width="0.7"/>
<ellipse cx="367" cy="317.3" rx="2.7" ry="3.6" fill="none" stroke="#333" stroke-width="0.8"/>
<ellipse cx="367" cy="317.5" rx="1.6" ry="2.2" fill="none" stroke="#222" stroke-width="0.8"/>
<ellipse cx="368.5" cy="296" rx="4.5" ry="13" fill="none" stroke="#bbb" stroke-width="0.5"/>
<ellipse cx="369" cy="300" rx="3" ry="8" fill="none" stroke="#ccc" stroke-width="0.5"/>
<ellipse cx="386" cy="316" rx="11" ry="5.5" fill="none" stroke="#aaa" stroke-width="0.6"/>
<ellipse cx="386" cy="316" rx="8" ry="4" fill="none" stroke="#999" stroke-width="0.6"/>
<ellipse cx="387" cy="316" rx="5" ry="2.5" fill="none" stroke="#aaa" stroke-width="0.5"/>
</g>
<clipPath id="clip348262"><rect x="348.2" y="262.4" width="77.7" height="75.5"/></clipPath>
<rect x="348.2" y="262.4" width="77.7" height="75.5" fill="none" stroke="#999" stroke-width="0.8"/>
<line x1="375.5" y1="262.4" x2="375.5" y2="337.9" stroke="#777" stroke-width="0.8"/>
<line x1="348.2" y1="310" x2="425.9" y2="310" stroke="#777" stroke-width="0.8"/>
<line x1="345.7" y1="270.4" x2="348.2" y2="270.4" stroke="#444" stroke-width="0.6"/>
<line x1="345.7" y1="287.4" x2="348.2" y2="287.4" stroke="#444" stroke-width="0.6"/>
<line x1="345.7" y1="302.4" x2="348.2" y2="302.4" stroke="#444" stroke-width="0.6"/>
<line x1="345.7" y1="317.4" x2="348.2" y2="317.4" stroke="#444" stroke-width="0.6"/>
<line x1="345.7" y1="330.4" x2="348.2" y2="330.4" stroke="#444" stroke-width="0.6"/>
<line x1="356.2" y1="337.9" x2="356.2" y2="340.4" stroke="#444" stroke-width="0.6"/>
<line x1="368.2" y1="337.9" x2="368.2" y2="340.4" stroke="#444" stroke-width="0.6"/>
<line x1="378.2" y1="337.9" x2="378.2" y2="340.4" stroke="#444" stroke-width="0.6"/>
<line x1="393.2" y1="337.9" x2="393.2" y2="340.4" stroke="#444" stroke-width="0.6"/>
<line x1="408.2" y1="337.9" x2="408.2" y2="340.4" stroke="#444" stroke-width="0.6"/>
<line x1="418.2" y1="337.9" x2="418.2" y2="340.4" stroke="#444" stroke-width="0.6"/>
<text x="351.4" y="275.3" font-size="11.3" text-anchor="start" fill="#000">8</text>
<text x="424" y="275.3" font-size="11.3" text-anchor="end" fill="#000">2</text>
<text x="424" y="335" font-size="11.3" text-anchor="end" fill="#000">11</text>
<text x="442.0" y="259.09999999999997" font-size="9.2" text-anchor="start" fill="#000">F_SP HEM</text>
<g clip-path="url(#clip439262)">
<path d="M466.2 281.7h0M458.6 287.4h0M455.1 324.8h0M474.9 315.7h0M470.5 301.6h0M460.7 320.4h0M469.1 295.7h0M482.9 319.3h0M469.2 317.1h0M469.3 285.3h0M471.6 290.6h0M462.1 314.4h0M466.0 306.9h0M464.0 280.8h0M484.6 314.5h0M481.3 306.1h0M458.5 300.6h0M486.8 315.0h0M476.4 307.2h0M458.3 277.8h0M461.9 295.4h0M481.1 310.5h0M488.3 322.4h0M462.7 287.7h0M456.3 291.8h0M455.4 324.0h0M475.7 300.0h0M461.5 314.3h0M459.8 288.8h0M456.9 302.3h0M463.2 304.1h0M481.7 286.5h0M456.7 301.3h0M468.2 297.8h0M466.8 283.4h0M456.3 312.1h0M478.3 310.1h0M478.5 301.2h0M459.5 321.6h0M473.9 298.4h0M462.2 294.2h0M476.8 288.9h0M461.1 290.5h0M468.0 307.8h0M468.5 318.9h0M457.7 318.6h0M469.8 315.4h0M468.0 288.1h0M489.5 307.5h0M482.1 301.6h0M481.6 323.8h0M482.9 324.4h0M466.0 290.2h0M489.0 317.5h0M489.2 297.2h0M468.8 323.3h0M459.7 283.5h0M458.4 290.4h0M469.0 294.5h0M465.7 300.9h0M453.3 299.6h0M489.9 308.3h0M491.7 318.9h0M453.6 304.4h0M487.2 291.9h0M456.7 313.7h0M474.2 298.9h0M456.5 303.2h0M475.7 311.2h0M486.7 291.4h0M468.9 292.5h0M485.7 297.5h0M454.1 299.2h0M453.2 294.4h0M456.9 321.0h0M474.3 323.7h0M480.7 294.8h0M453.2 282.5h0M485.1 308.8h0M463.8 283.3h0M478.5 322.4h0M474.0 285.6h0M458.8 311.3h0M461.2 282.3h0M460.0 286.5h0M469.0 287.1h0M479.5 287.2h0M462.5 296.4h0M458.3 277.6h0M471.6 320.3h0M477.4 290.6h0M468.3 296.8h0M457.7 282.3h0M459.9 291.9h0M455.4 306.4h0M459.6 301.0h0M480.8 300.4h0M482.9 314.8h0M470.2 285.8h0M452.8 310.3h0M466.8 289.8h0M454.6 284.2h0M489.3 299.1h0M487.4 318.1h0M461.7 286.5h0M476.7 322.8h0M471.0 296.7h0M492.2 319.0h0M490.9 311.1h0M460.6 277.5h0M474.3 320.0h0M458.7 288.9h0M466.2 299.6h0M486.4 316.0h0M489.6 293.5h0M461.0 301.2h0M491.2 306.3h0M472.8 321.8h0M475.5 315.5h0M485.7 297.6h0M480.6 310.3h0M469.9 301.5h0M485.8 320.0h0M480.1 303.1h0M471.1 288.1h0M485.5 311.2h0M457.1 305.2h0M484.3 292.5h0M454.4 304.9h0M477.4 296.9h0M462.6 292.7h0M461.0 316.5h0M467.4 311.4h0M474.6 286.7h0M463.0 309.2h0M488.1 321.8h0M457.6 288.2h0M455.3 284.7h0M467.6 311.6h0M490.4 305.1h0M457.3 294.2h0M457.2 289.3h0M475.7 300.6h0M458.4 289.1h0M489.5 307.2h0M476.9 291.4h0M463.9 313.8h0M492.1 307.4h0M453.1 276.7h0M469.1 308.2h0M480.0 289.7h0M480.3 321.6h0M471.1 295.2h0M480.5 319.5h0M480.5 322.3h0M484.6 323.8h0M461.8 309.3h0M460.0 281.0h0M465.7 323.2h0M463.7 290.8h0M483.6 293.0h0M465.4 287.3h0M487.9 297.8h0M487.6 299.9h0M467.0 292.3h0M453.0 298.2h0M470.0 317.5h0M457.6 278.3h0M459.8 279.3h0M482.8 311.3h0M481.2 315.5h0M458.7 279.0h0M454.0 284.5h0M469.8 282.6h0M454.9 299.7h0M474.3 318.2h0M454.1 303.2h0M458.1 291.9h0M492.7 308.1h0M479.7 305.9h0M459.7 309.9h0M487.1 292.5h0M459.7 308.4h0M459.5 300.5h0M459.8 300.8h0M469.4 285.3h0M458.2 305.0h0M491.7 299.0h0M475.0 310.7h0M465.3 284.0h0M490.4 305.9h0M456.7 281.2h0M466.6 296.2h0M479.3 322.8h0M469.5 304.5h0M468.7 294.5h0M462.0 311.9h0M485.4 310.0h0M470.0 296.0h0M459.1 287.4h0M493.9 305.0h0M468.4 302.3h0M472.2 290.0h0M469.0 296.9h0M489.6 320.4h0M463.4 298.2h0M460.5 323.6h0M456.9 299.6h0M451.5 298.5h0M457.5 300.5h0M471.4 290.5h0M453.3 291.5h0M466.0 280.3h0M476.8 286.2h0M473.9 311.2h0M451.6 300.4h0M478.4 320.6h0M480.7 317.7h0M479.5 286.4h0M486.0 313.5h0M471.9 322.2h0M466.4 302.7h0M460.4 296.8h0M456.2 322.5h0M472.8 318.6h0M462.7 298.6h0M461.6 305.1h0M481.4 304.2h0M476.1 290.8h0M458.2 309.0h0M461.6 323.1h0M470.6 304.1h0M478.8 306.5h0M488.8 320.8h0M464.6 320.5h0M464.6 309.9h0M457.8 307.5h0M479.6 294.8h0M483.1 308.1h0M451.7 298.5h0M455.3 307.4h0M491.2 304.3h0M477.6 288.4h0M457.6 291.6h0M452.5 285.3h0M472.3 294.9h0M459.9 301.7h0M480.5 291.0h0M459.9 281.4h0M466.6 294.3h0M485.3 287.2h0M465.6 313.0h0M464.6 289.5h0M470.8 285.7h0M484.8 320.1h0M481.6 295.4h0M487.1 322.8h0M458.9 309.1h0M458.4 325.3h0M485.2 295.9h0M482.9 290.0h0M453.7 301.2h0M454.2 298.3h0M487.7 304.4h0M462.4 285.8h0M475.0 301.0h0M471.0 297.8h0M467.2 284.5h0M467.5 302.7h0M459.3 291.3h0M473.7 322.9h0M471.8 292.7h0M452.5 301.4h0M465.8 280.9h0M471.4 306.4h0M466.1 312.5h0M453.1 301.8h0M477.0 303.4h0M460.9 292.6h0M481.9 295.2h0M473.7 286.7h0M478.0 299.4h0M491.5 310.8h0M471.1 288.6h0M481.3 296.4h0M464.9 281.0h0M477.0 311.2h0M459.8 307.5h0M456.6 320.2h0M490.9 307.2h0M462.2 303.7h0M483.9 292.6h0M478.9 305.7h0M490.1 314.6h0M479.8 302.8h0M489.3 305.7h0M480.6 290.8h0M455.6 303.4h0M460.6 324.5h0M460.5 320.7h0M465.3 284.8h0M475.8 291.4h0M493.7 306.5h0M455.3 290.8h0M455.8 300.2h0M473.7 291.1h0M479.9 297.7h0M486.3 309.6h0M462.1 317.3h0M452.3 287.0h0M474.0 317.9h0M481.1 315.5h0M467.5 320.4h0M484.0 300.4h0M463.1 283.1h0M454.3 302.6h0M473.6 284.6h0M464.0 309.1h0M457.5 301.7h0M456.8 320.0h0M460.1 322.5h0M463.1 309.8h0M457.0 280.4h0M466.0 322.8h0M484.9 291.6h0M474.4 294.9h0M478.5 306.7h0M456.5 299.3h0M489.6 303.5h0M478.4 298.4h0M460.4 284.5h0M454.9 277.8h0M481.0 317.4h0M460.0 318.3h0M467.4 318.6h0M461.2 290.2h0M473.6 286.4h0M462.1 312.1h0M479.1 292.9h0M471.2 304.9h0M476.5 321.8h0M475.4 324.0h0M471.5 297.8h0M452.2 291.5h0M469.9 280.9h0M462.5 320.1h0M476.3 299.8h0M453.3 290.2h0M474.0 296.7h0M477.4 306.2h0M459.2 303.9h0M491.2 320.4h0M477.5 301.6h0M483.2 298.1h0M481.4 294.0h0M474.9 312.4h0M476.2 305.7h0M467.5 292.9h0M479.2 297.7h0M470.0 294.3h0M463.5 306.9h0M478.9 302.1h0M478.4 308.8h0M466.6 301.6h0M478.1 322.3h0M479.3 308.3h0M466.1 315.5h0M456.6 320.1h0M472.1 298.1h0M480.8 302.7h0M453.7 305.3h0M460.7 286.6h0M463.6 293.6h0M460.7 287.9h0M456.8 324.8h0M482.6 293.3h0M455.7 324.8h0M488.4 303.1h0M475.8 287.2h0M489.0 292.0h0M485.7 311.4h0M491.1 304.3h0M466.5 288.4h0M461.1 280.3h0M463.9 291.2h0M472.6 300.9h0M457.8 310.4h0M459.9 312.9h0M458.3 319.8h0M464.4 279.8h0M457.5 285.4h0M456.7 291.0h0M467.9 313.4h0M454.2 279.5h0M488.4 291.7h0M458.5 284.4h0M468.1 311.3h0M470.9 285.4h0M464.5 292.3h0M461.8 315.5h0M454.9 294.7h0M492.4 306.4h0M479.0 284.8h0M459.7 318.0h0M454.3 305.4h0M455.1 317.9h0M487.3 289.6h0M457.2 301.2h0M467.3 283.4h0M454.5 302.3h0M463.9 321.5h0M489.9 312.0h0M473.0 308.0h0M465.3 298.9h0M474.6 296.5h0M470.1 318.5h0M487.9 290.6h0M454.2 286.4h0M472.5 314.0h0M482.6 321.7h0M484.5 290.2h0M453.4 299.6h0M465.2 319.4h0M489.9 302.4h0M484.3 312.1h0M473.4 297.5h0M492.0 315.7h0M457.4 314.2h0M474.7 291.4h0M456.5 304.6h0M459.3 303.2h0M471.9 292.1h0M456.1 288.6h0M491.5 317.8h0M491.9 300.4h0M469.4 304.7h0M480.8 307.3h0M459.8 298.6h0M469.2 284.1h0M481.4 324.5h0M474.3 295.4h0M473.1 282.4h0M482.8 310.2h0M455.5 294.3h0M456.3 310.7h0M453.8 317.6h0M459.3 302.0h0M481.6 322.9h0M481.8 296.9h0M458.2 298.6h0M481.1 302.7h0M488.9 299.2h0M461.7 318.4h0M455.7 310.1h0M458.2 318.4h0M457.8 321.8h0M457.3 322.3h0M453.3 308.6h0M474.0 305.4h0M485.8 287.8h0M471.3 286.1h0M488.8 303.6h0M483.2 311.8h0M458.2 317.3h0M454.0 280.2h0M460.4 314.0h0M484.0 310.4h0M466.9 322.8h0M457.5 286.6h0M470.0 288.3h0M482.6 317.6h0M483.0 291.5h0M475.9 291.1h0M474.6 302.1h0M457.6 318.1h0M485.9 314.7h0M454.9 286.9h0M483.2 316.2h0M477.6 322.6h0M469.3 286.6h0M471.4 290.4h0M467.4 314.9h0M464.9 311.4h0M473.0 319.2h0M478.8 318.4h0M452.7 296.7h0M459.5 313.6h0M463.6 308.9h0M477.4 291.8h0M461.9 307.9h0M478.2 285.9h0M490.9 323.3h0M475.5 302.0h0M474.0 323.1h0M459.7 302.4h0M469.2 316.3h0M490.7 306.6h0M454.5 302.3h0M456.5 302.4h0M486.2 309.3h0M471.1 283.1h0M491.0 319.4h0M480.1 295.5h0M468.1 294.3h0M462.8 282.2h0M479.0 301.4h0M469.5 313.3h0M472.6 283.3h0M462.5 303.5h0M479.7 307.3h0M483.1 293.2h0M484.0 304.7h0M461.9 281.4h0M477.9 318.2h0M491.9 316.6h0M486.4 305.1h0M461.6 290.1h0M488.0 288.9h0M471.8 303.0h0M459.6 315.6h0M458.0 325.3h0M458.1 315.8h0M476.2 319.5h0M484.1 311.5h0M463.6 298.7h0M473.6 303.3h0M487.7 301.7h0M455.2 300.6h0M459.1 297.0h0M481.9 313.4h0M457.9 289.7h0M492.6 307.0h0M459.0 306.1h0M461.7 278.8h0M457.0 309.6h0M453.5 275.8h0M457.5 277.4h0M468.5 291.4h0M459.3 316.6h0M455.5 307.2h0M457.2 308.3h0M456.6 285.0h0M470.4 308.7h0M456.0 309.1h0M480.4 304.8h0M467.6 316.8h0M453.7 302.9h0M474.4 321.8h0M484.5 287.2h0M467.5 305.4h0M457.0 282.8h0M457.0 303.7h0M491.6 314.2h0M476.4 289.5h0M480.0 316.1h0M459.9 286.7h0M468.7 305.5h0M489.3 305.1h0M462.5 312.0h0M457.5 280.5h0M475.9 298.7h0M474.8 284.6h0M460.0 304.8h0M468.4 300.5h0M490.3 298.8h0M459.5 284.6h0M467.5 283.1h0M464.1 278.6h0M466.9 315.0h0M474.5 320.6h0M477.5 307.8h0M469.4 317.6h0M470.3 282.1h0M460.6 315.7h0M453.5 284.2h0M478.0 309.8h0M471.0 308.3h0M469.1 305.1h0M452.7 296.0h0M492.9 304.3h0M465.7 306.8h0M468.9 316.9h0M479.7 290.2h0M466.2 316.0h0M466.6 321.6h0M471.9 319.2h0M456.5 295.6h0M489.3 299.8h0M471.0 324.5h0M467.6 290.6h0M456.9 321.9h0M485.5 301.9h0M482.4 317.6h0M478.9 319.5h0M471.4 296.8h0M478.7 284.7h0M460.7 309.7h0M479.6 300.7h0M452.6 283.2h0M464.1 310.3h0M456.7 294.0h0M477.7 313.5h0M459.2 303.5h0M477.1 303.2h0M476.7 294.5h0M461.2 309.0h0M488.6 309.8h0M479.3 323.8h0M461.9 304.3h0M486.6 308.3h0M467.9 325.1h0M470.5 302.7h0M476.7 318.3h0M470.6 320.8h0M481.3 295.5h0M477.4 290.3h0M453.2 299.7h0M453.0 290.2h0M459.5 283.5h0M466.2 298.0h0M457.1 316.1h0M457.8 302.5h0M462.7 308.0h0M456.0 300.2h0M459.3 278.7h0M486.9 309.2h0M461.4 320.9h0M458.4 299.9h0M482.4 305.7h0M453.8 277.4h0M458.9 323.2h0M453.1 307.4h0M459.5 320.5h0M490.5 314.9h0M484.4 314.7h0M486.8 294.4h0M480.9 297.7h0M470.5 311.1h0M476.2 306.5h0M462.1 310.9h0M490.4 307.1h0M483.6 307.4h0M457.3 288.0h0M476.0 313.5h0M469.0 310.4h0M465.4 291.1h0M458.3 296.1h0M482.4 292.7h0M467.3 316.7h0M479.7 297.5h0M479.4 309.7h0M465.1 284.9h0M479.1 304.0h0M453.0 283.3h0M473.6 295.2h0M463.7 313.3h0M461.0 286.3h0M465.1 287.0h0M457.9 288.0h0M472.5 316.4h0M484.0 307.5h0M461.9 290.5h0M485.2 323.2h0M490.4 318.3h0M487.4 299.1h0M453.4 287.0h0M457.0 280.9h0M456.8 291.3h0M453.2 290.1h0M472.9 318.4h0M489.3 315.6h0M455.4 324.0h0M475.8 307.4h0M481.3 311.4h0M475.7 290.7h0M465.8 319.3h0M481.1 311.7h0M475.4 323.6h0M471.5 308.1h0M453.4 290.4h0M463.9 296.9h0M461.8 304.8h0M452.0 291.8h0M485.8 312.3h0M467.1 283.5h0M483.3 319.3h0M454.5 296.3h0M474.5 310.4h0M459.7 316.9h0M477.2 315.7h0M491.8 309.9h0M479.8 290.2h0M462.7 294.1h0M485.9 305.4h0M463.0 321.0h0M473.2 324.9h0M479.1 312.5h0M471.6 309.4h0M468.4 301.7h0M458.6 293.8h0M468.8 312.9h0M457.8 285.1h0M478.7 299.1h0M470.0 317.4h0M483.5 293.0h0M473.2 295.2h0M460.8 319.5h0M459.3 289.6h0M475.0 310.6h0M478.9 290.8h0M485.2 294.2h0M463.5 285.6h0M472.2 282.6h0M465.0 280.4h0M459.2 301.9h0M465.1 280.5h0M468.8 289.9h0M453.5 290.1h0M470.0 310.1h0M462.1 294.3h0M489.7 307.4h0M470.2 285.8h0M484.8 322.5h0M461.3 318.4h0M467.1 299.4h0M452.1 287.4h0M461.3 285.3h0M486.5 323.5h0M464.7 315.9h0M464.0 304.6h0M459.4 321.4h0M473.2 305.1h0M485.1 301.7h0M472.1 311.3h0M471.4 304.4h0M463.9 282.8h0M460.6 324.5h0M459.1 304.7h0M483.1 323.6h0M467.4 307.1h0M480.5 315.6h0M481.8 316.8h0M465.5 315.6h0M476.7 324.0h0M464.9 306.6h0M488.0 313.8h0M457.7 291.2h0M459.3 289.2h0M474.6 311.6h0M454.7 318.7h0M476.4 321.9h0M466.6 286.2h0M470.4 289.6h0M488.0 320.7h0M488.6 323.2h0M482.6 293.5h0M478.1 314.1h0M465.6 299.2h0M454.8 283.0h0M485.2 290.7h0M481.2 296.9h0M481.6 289.6h0M454.7 309.0h0M462.0 285.4h0M470.9 300.3h0M489.3 310.5h0M469.7 297.5h0M463.8 305.8h0M491.4 305.7h0M460.0 324.3h0M483.8 286.1h0M486.5 311.6h0M484.4 303.8h0M473.3 314.5h0M457.0 297.3h0M474.3 282.7h0M459.7 306.1h0M458.5 282.8h0M460.5 322.8h0M475.6 296.0h0M452.3 287.8h0M466.0 323.4h0M457.0 281.7h0M471.3 291.0h0M464.7 304.7h0M452.9 294.0h0M487.7 297.1h0M453.6 287.7h0M460.8 292.9h0M464.7 309.2h0M457.3 316.9h0M488.6 315.2h0M458.6 310.3h0M454.2 309.4h0M460.5 317.8h0M487.3 298.8h0M482.2 323.2h0M489.4 308.0h0M477.5 293.2h0M455.0 309.1h0M469.3 285.6h0M474.2 300.0h0M458.9 325.7h0M483.6 320.5h0M463.9 321.5h0M490.1 323.0h0M458.7 282.9h0M454.6 279.6h0M471.0 293.1h0M482.0 323.9h0M463.8 295.6h0M482.9 290.6h0M460.6 299.0h0M457.3 303.4h0M467.9 324.6h0M485.8 317.1h0M467.4 308.9h0M455.9 292.8h0M458.5 300.2h0M468.4 306.6h0M476.5 288.3h0M488.8 298.0h0M484.4 311.8h0M476.3 314.4h0M486.0 310.4h0M483.2 315.8h0M459.6 319.8h0M478.5 323.2h0M474.9 319.1h0M453.4 283.4h0M474.8 309.0h0M481.4 305.2h0M461.2 291.7h0M461.4 302.2h0M462.9 302.7h0M463.1 281.1h0M481.0 288.3h0M462.3 311.6h0M489.8 293.9h0M482.5 291.9h0M452.6 275.2h0M474.3 306.9h0M463.3 296.1h0M468.6 293.5h0M459.1 302.8h0M471.4 286.1h0M480.0 295.7h0M476.0 295.8h0M465.2 318.2h0M463.7 315.3h0M469.2 280.9h0M475.7 289.3h0M459.7 325.5h0M491.3 299.1h0M485.7 309.2h0M464.0 281.6h0M476.0 284.7h0M483.5 305.3h0M460.5 314.6h0M451.8 298.6h0M466.2 321.8h0M473.5 324.0h0M458.0 294.5h0M460.6 297.2h0M490.9 319.1h0M491.3 317.0h0M474.5 310.8h0M456.3 307.8h0M466.2 292.1h0M464.5 279.1h0M485.9 314.0h0M451.4 301.2h0M452.0 302.8h0M458.2 324.0h0M464.7 301.7h0M462.3 321.1h0M460.7 313.1h0M467.0 318.9h0M465.1 281.4h0M457.6 301.7h0M475.7 285.9h0M458.7 301.6h0M470.1 299.6h0M485.2 310.8h0M457.6 291.9h0M464.2 322.1h0M468.7 311.4h0M454.7 277.1h0M460.7 307.7h0M470.2 319.5h0M486.4 308.9h0M468.2 282.4h0M477.3 300.8h0M455.0 279.1h0M471.0 306.9h0M468.5 299.1h0M478.3 310.6h0M481.4 296.2h0M458.4 319.4h0M452.7 285.5h0" stroke="#888" stroke-width="0.6" stroke-linecap="round" opacity="0.7" fill="none"/>
<rect x="452.5" y="274" width="12" height="51" rx="6.0" fill="none" stroke="#888" stroke-width="0.7"/>
<rect x="453.5" y="279" width="10" height="45" rx="5.0" fill="none" stroke="#777" stroke-width="0.7"/>
<rect x="454.5" y="286" width="8" height="37" rx="4.0" fill="none" stroke="#666" stroke-width="0.7"/>
<rect x="455.4" y="295" width="6.2" height="27.5" rx="3.1" fill="none" stroke="#444" stroke-width="0.8"/>
<rect x="456.3" y="304" width="4.4" height="17.5" rx="2.2" fill="none" stroke="#333" stroke-width="0.8"/>
<rect x="457.1" y="311" width="2.8" height="9.5" rx="1.4" fill="none" stroke="#444" stroke-width="0.7"/>
<path d="M467 323 C466 310 466 298 470 288 C476 282 484 290 486 300 C488 310 488 320 484 324 Z" fill="none" stroke="#888" stroke-width="0.6"/>
<path d="M469 320 C469 310 470 300 474 296 C479 294 483 302 484 310 C485 318 482 322 478 322 Z" fill="none" stroke="#999" stroke-width="0.6"/>
<path d="M472 318 C473 311 475 306 478 305 C481 306 482 312 481 317 Z" fill="none" stroke="#aaa" stroke-width="0.6"/>
<path d="M467 316 C472 314 480 313 484 315 C486 318 484 321 478 322 C472 322 468 321 467 319" fill="none" stroke="#777" stroke-width="0.6"/>
</g>
<clipPath id="clip439262"><rect x="439.8" y="262.4" width="78.5" height="75.5"/></clipPath>
<rect x="439.8" y="262.4" width="78.5" height="75.5" fill="none" stroke="#999" stroke-width="0.8"/>
<line x1="466.6" y1="262.4" x2="466.6" y2="337.9" stroke="#777" stroke-width="0.8"/>
<line x1="439.8" y1="310" x2="518.3" y2="310" stroke="#777" stroke-width="0.8"/>
<line x1="437.3" y1="270.4" x2="439.8" y2="270.4" stroke="#444" stroke-width="0.6"/>
<line x1="437.3" y1="287.4" x2="439.8" y2="287.4" stroke="#444" stroke-width="0.6"/>
<line x1="437.3" y1="302.4" x2="439.8" y2="302.4" stroke="#444" stroke-width="0.6"/>
<line x1="437.3" y1="317.4" x2="439.8" y2="317.4" stroke="#444" stroke-width="0.6"/>
<line x1="437.3" y1="330.4" x2="439.8" y2="330.4" stroke="#444" stroke-width="0.6"/>
<line x1="447.8" y1="337.9" x2="447.8" y2="340.4" stroke="#444" stroke-width="0.6"/>
<line x1="459.8" y1="337.9" x2="459.8" y2="340.4" stroke="#444" stroke-width="0.6"/>
<line x1="469.8" y1="337.9" x2="469.8" y2="340.4" stroke="#444" stroke-width="0.6"/>
<line x1="484.8" y1="337.9" x2="484.8" y2="340.4" stroke="#444" stroke-width="0.6"/>
<line x1="499.8" y1="337.9" x2="499.8" y2="340.4" stroke="#444" stroke-width="0.6"/>
<line x1="509.8" y1="337.9" x2="509.8" y2="340.4" stroke="#444" stroke-width="0.6"/>
<text x="442.7" y="275.3" font-size="11.3" text-anchor="start" fill="#000">39</text>
<text x="516.3" y="275.3" font-size="11.3" text-anchor="end" fill="#000">8</text>
<text x="516.3" y="335" font-size="11.3" text-anchor="end" fill="#000">21</text>
<text x="346.5" y="273.5" font-size="4" text-anchor="end" fill="#555">10<tspan dy="-1.5" font-size="3">4</tspan></text>
<text x="346.5" y="297.5" font-size="4" text-anchor="end" fill="#555">10<tspan dy="-1.5" font-size="3">3</tspan></text>
<text x="346.5" y="322" font-size="4" text-anchor="end" fill="#555">0</text>
<text x="365.8" y="345" font-size="4" text-anchor="middle" fill="#555">0</text>
<text x="393" y="345" font-size="4" text-anchor="middle" fill="#555">10<tspan dy="-1.5" font-size="3">3</tspan></text>
<text x="417.2" y="345" font-size="4" text-anchor="middle" fill="#555">10<tspan dy="-1.5" font-size="3">4</tspan></text>
<text x="332.9" y="346.5" font-size="11.5" text-anchor="start" fill="#000" transform="rotate(-90 332.9 346.5)">CD41</text>
<line x1="331.2" y1="315.5" x2="331.2" y2="177" stroke="#000" stroke-width="1"/>
<path d="M331.2 172.5 L329.1 178 L333.3 178 Z" fill="#000"/>
<text x="332" y="359.5" font-size="11.5" text-anchor="start" fill="#000">VE-cad</text>
<line x1="377" y1="355.5" x2="514" y2="355.5" stroke="#000" stroke-width="0.9"/>
<path d="M518.5 355.5 L513 353.4 L513 357.6 Z" fill="#000"/>
<text x="551" y="163" font-size="13.5" text-anchor="start" fill="#000">e</text>
<line x1="592.9" y1="175" x2="592.9" y2="277.6" stroke="#000" stroke-width="1.1"/>
<line x1="592.9" y1="277.6" x2="661" y2="277.6" stroke="#000" stroke-width="1.1"/>
<line x1="589.4" y1="175" x2="592.9" y2="175" stroke="#000" stroke-width="1.1"/>
<text x="588.4" y="178.2" font-size="9" text-anchor="end" fill="#000" font-weight="bold">50</text>
<line x1="589.4" y1="226.3" x2="592.9" y2="226.3" stroke="#000" stroke-width="1.1"/>
<text x="588.4" y="229.5" font-size="9" text-anchor="end" fill="#000" font-weight="bold">25</text>
<line x1="589.4" y1="277.6" x2="592.9" y2="277.6" stroke="#000" stroke-width="1.1"/>
<text x="588.4" y="280.8" font-size="9" text-anchor="end" fill="#000">0</text>
<rect x="598.2" y="270.3" width="10.399999999999977" height="7.300000000000011" fill="#fff" stroke="#000" stroke-width="1"/>
<line x1="603.4000000000001" y1="264" x2="603.4000000000001" y2="277" stroke="#000" stroke-width="0.8"/>
<line x1="600.4000000000001" y1="264" x2="606.4000000000001" y2="264" stroke="#000" stroke-width="0.8"/>
<line x1="600.4000000000001" y1="277" x2="606.4000000000001" y2="277" stroke="#000" stroke-width="0.8"/>
<circle cx="603.4" cy="264.0" r="1.5" fill="#1d5a8a" stroke="#222" stroke-width="0.3"/>
<circle cx="603.4" cy="272.0" r="1.5" fill="#1d5a8a" stroke="#222" stroke-width="0.3"/>
<circle cx="603.4" cy="276.0" r="1.5" fill="#1d5a8a" stroke="#222" stroke-width="0.3"/>
<rect x="614.2" y="274.4" width="10.399999999999977" height="3.2000000000000455" fill="#fff" stroke="#000" stroke-width="1"/>
<line x1="619.4000000000001" y1="268" x2="619.4000000000001" y2="277" stroke="#000" stroke-width="0.8"/>
<line x1="616.4000000000001" y1="268" x2="622.4000000000001" y2="268" stroke="#000" stroke-width="0.8"/>
<line x1="616.4000000000001" y1="277" x2="622.4000000000001" y2="277" stroke="#000" stroke-width="0.8"/>
<circle cx="616.4" cy="276.0" r="1.5" fill="#4a80c8" stroke="#222" stroke-width="0.3"/>
<circle cx="619.4" cy="269.0" r="1.5" fill="#4a80c8" stroke="#222" stroke-width="0.3"/>
<circle cx="622.4" cy="276.0" r="1.5" fill="#4a80c8" stroke="#222" stroke-width="0.3"/>
<rect x="630.3" y="265" width="10.300000000000068" height="12.600000000000023" fill="#fff" stroke="#000" stroke-width="1"/>
<line x1="635.45" y1="258.5" x2="635.45" y2="272" stroke="#000" stroke-width="0.8"/>
<line x1="632.45" y1="258.5" x2="638.45" y2="258.5" stroke="#000" stroke-width="0.8"/>
<line x1="632.45" y1="272" x2="638.45" y2="272" stroke="#000" stroke-width="0.8"/>
<circle cx="632.5" cy="262.0" r="1.5" fill="#7050a8" stroke="#222" stroke-width="0.3"/>
<circle cx="635.5" cy="256.0" r="1.5" fill="#7050a8" stroke="#222" stroke-width="0.3"/>
<circle cx="638.5" cy="262.0" r="1.5" fill="#7050a8" stroke="#222" stroke-width="0.3"/>
<circle cx="632.5" cy="268.0" r="1.5" fill="#7050a8" stroke="#222" stroke-width="0.3"/>
<circle cx="638.5" cy="268.0" r="1.5" fill="#7050a8" stroke="#222" stroke-width="0.3"/>
<circle cx="635.5" cy="272.0" r="1.5" fill="#7050a8" stroke="#222" stroke-width="0.3"/>
<circle cx="635.5" cy="265.0" r="1.5" fill="#7050a8" stroke="#222" stroke-width="0.3"/>
<rect x="645.8" y="216" width="10.100000000000023" height="61.60000000000002" fill="#fff" stroke="#000" stroke-width="1"/>
<line x1="650.8499999999999" y1="198" x2="650.8499999999999" y2="234" stroke="#000" stroke-width="0.8"/>
<line x1="647.8499999999999" y1="198" x2="653.8499999999999" y2="198" stroke="#000" stroke-width="0.8"/>
<line x1="647.8499999999999" y1="234" x2="653.8499999999999" y2="234" stroke="#000" stroke-width="0.8"/>
<circle cx="647.8" cy="198.0" r="1.5" fill="#f08080" stroke="#a03030" stroke-width="0.5"/>
<circle cx="653.8" cy="200.0" r="1.5" fill="#f08080" stroke="#a03030" stroke-width="0.5"/>
<circle cx="650.8" cy="205.0" r="1.5" fill="#f08080" stroke="#a03030" stroke-width="0.5"/>
<circle cx="650.8" cy="213.0" r="1.5" fill="#f08080" stroke="#a03030" stroke-width="0.5"/>
<circle cx="650.8" cy="220.0" r="1.5" fill="#f08080" stroke="#a03030" stroke-width="0.5"/>
<circle cx="650.8" cy="234.0" r="1.5" fill="#f08080" stroke="#a03030" stroke-width="0.5"/>
<circle cx="650.8" cy="240.0" r="1.5" fill="#f08080" stroke="#a03030" stroke-width="0.5"/>
<circle cx="650.8" cy="236.0" r="1.5" fill="#f08080" stroke="#a03030" stroke-width="0.5"/>
<text x="576" y="226.3" font-size="9.3" text-anchor="middle" fill="#000" transform="rotate(-90 576 226.3)">% CD41+ SP</text>
<text x="651" y="191.7" font-size="11.3" text-anchor="middle" fill="#000">***</text>
<text x="604.2" y="282.6" font-size="9.5" text-anchor="end" fill="#000" transform="rotate(-60 604.2 282.6)">DN</text>
<text x="620.2" y="282.6" font-size="9.5" text-anchor="end" fill="#000" transform="rotate(-60 620.2 282.6)">P_SP</text>
<text x="636.25" y="282.6" font-size="9.5" text-anchor="end" fill="#000" transform="rotate(-60 636.25 282.6)">DP priMes</text>
<text x="651.6499999999999" y="282.6" font-size="9.5" text-anchor="end" fill="#000" transform="rotate(-60 651.6499999999999 282.6)">F_SP HEM</text>
<line x1="592.9" y1="327.4" x2="592.9" y2="429.5" stroke="#000" stroke-width="1.1"/>
<line x1="592.9" y1="429.5" x2="661" y2="429.5" stroke="#000" stroke-width="1.1"/>
<line x1="589.4" y1="327.4" x2="592.9" y2="327.4" stroke="#000" stroke-width="1.1"/>
<text x="588.4" y="330.59999999999997" font-size="9" text-anchor="end" fill="#000">15</text>
<line x1="589.4" y1="361.4" x2="592.9" y2="361.4" stroke="#000" stroke-width="1.1"/>
<text x="588.4" y="364.59999999999997" font-size="9" text-anchor="end" fill="#000">10</text>
<line x1="589.4" y1="395.5" x2="592.9" y2="395.5" stroke="#000" stroke-width="1.1"/>
<text x="588.4" y="398.7" font-size="9" text-anchor="end" fill="#000">5</text>
<line x1="589.4" y1="429.5" x2="592.9" y2="429.5" stroke="#000" stroke-width="1.1"/>
<text x="588.4" y="432.7" font-size="9" text-anchor="end" fill="#000">0</text>
<rect x="598.2" y="424.7" width="10.399999999999977" height="4.800000000000011" fill="#fff" stroke="#000" stroke-width="1"/>
<circle cx="600.4" cy="423.2" r="1.5" fill="#1d5a8a" stroke="#222" stroke-width="0.3"/>
<circle cx="603.4" cy="426.5" r="1.5" fill="#1d5a8a" stroke="#222" stroke-width="0.3"/>
<circle cx="606.4" cy="425.5" r="1.5" fill="#1d5a8a" stroke="#222" stroke-width="0.3"/>
<rect x="614.2" y="429" width="10.399999999999977" height="0.5" fill="#fff" stroke="#000" stroke-width="1"/>
<circle cx="616.4" cy="428.5" r="1.5" fill="#4a80c8" stroke="#222" stroke-width="0.3"/>
<circle cx="619.4" cy="427.5" r="1.5" fill="#4a80c8" stroke="#222" stroke-width="0.3"/>
<circle cx="622.4" cy="427.5" r="1.5" fill="#4a80c8" stroke="#222" stroke-width="0.3"/>
<rect x="630.3" y="419.3" width="10.300000000000068" height="10.199999999999989" fill="#fff" stroke="#000" stroke-width="1"/>
<line x1="635.45" y1="413" x2="635.45" y2="427" stroke="#000" stroke-width="0.8"/>
<line x1="632.45" y1="413" x2="638.45" y2="413" stroke="#000" stroke-width="0.8"/>
<line x1="632.45" y1="427" x2="638.45" y2="427" stroke="#000" stroke-width="0.8"/>
<circle cx="635.5" cy="410.4" r="1.5" fill="#7050a8" stroke="#222" stroke-width="0.3"/>
<circle cx="632.5" cy="413.7" r="1.5" fill="#7050a8" stroke="#222" stroke-width="0.3"/>
<circle cx="638.5" cy="413.7" r="1.5" fill="#7050a8" stroke="#222" stroke-width="0.3"/>
<circle cx="635.5" cy="419.7" r="1.5" fill="#7050a8" stroke="#222" stroke-width="0.3"/>
<circle cx="632.5" cy="421.4" r="1.5" fill="#7050a8" stroke="#222" stroke-width="0.3"/>
<circle cx="638.5" cy="421.4" r="1.5" fill="#7050a8" stroke="#222" stroke-width="0.3"/>
<circle cx="635.5" cy="428.1" r="1.5" fill="#7050a8" stroke="#222" stroke-width="0.3"/>
<rect x="645.8" y="384.1" width="10.100000000000023" height="45.39999999999998" fill="#fff" stroke="#000" stroke-width="1"/>
<line x1="650.8499999999999" y1="358.5" x2="650.8499999999999" y2="409.5" stroke="#000" stroke-width="0.8"/>
<line x1="647.8499999999999" y1="358.5" x2="653.8499999999999" y2="358.5" stroke="#000" stroke-width="0.8"/>
<line x1="647.8499999999999" y1="409.5" x2="653.8499999999999" y2="409.5" stroke="#000" stroke-width="0.8"/>
<circle cx="650.8" cy="348.7" r="1.5" fill="#f08080" stroke="#a03030" stroke-width="0.5"/>
<circle cx="650.8" cy="368.2" r="1.5" fill="#f08080" stroke="#a03030" stroke-width="0.5"/>
<circle cx="650.8" cy="371.5" r="1.5" fill="#f08080" stroke="#a03030" stroke-width="0.5"/>
<circle cx="650.8" cy="380.0" r="1.5" fill="#f08080" stroke="#a03030" stroke-width="0.5"/>
<circle cx="650.8" cy="385.0" r="1.5" fill="#f08080" stroke="#a03030" stroke-width="0.5"/>
<circle cx="650.8" cy="411.2" r="1.5" fill="#f08080" stroke="#a03030" stroke-width="0.5"/>
<circle cx="650.8" cy="423.9" r="1.5" fill="#f08080" stroke="#a03030" stroke-width="0.5"/>
<text x="576" y="378.45" font-size="9.3" text-anchor="middle" fill="#000" transform="rotate(-90 576 378.45)">% CD41+VE-cad+ DP</text>
<text x="651" y="342.8" font-size="11.3" text-anchor="middle" fill="#000">*</text>
<text x="604.2" y="434.5" font-size="9.5" text-anchor="end" fill="#000" transform="rotate(-60 604.2 434.5)">DN</text>
<text x="620.2" y="434.5" font-size="9.5" text-anchor="end" fill="#000" transform="rotate(-60 620.2 434.5)">P_SP</text>
<text x="636.25" y="434.5" font-size="9.5" text-anchor="end" fill="#000" transform="rotate(-60 636.25 434.5)">DP priMes</text>
<text x="651.6499999999999" y="434.5" font-size="9.5" text-anchor="end" fill="#000" transform="rotate(-60 651.6499999999999 434.5)">F_SP HEM</text>
<line x1="592.9" y1="481.8" x2="592.9" y2="584.8" stroke="#000" stroke-width="1.1"/>
<line x1="592.9" y1="584.8" x2="661" y2="584.8" stroke="#000" stroke-width="1.1"/>
<line x1="589.4" y1="481.8" x2="592.9" y2="481.8" stroke="#000" stroke-width="1.1"/>
<text x="588.4" y="485.0" font-size="9" text-anchor="end" fill="#000" font-weight="bold">30</text>
<line x1="589.4" y1="516.3" x2="592.9" y2="516.3" stroke="#000" stroke-width="1.1"/>
<text x="588.4" y="519.5" font-size="9" text-anchor="end" fill="#000" font-weight="bold">20</text>
<line x1="589.4" y1="550.6" x2="592.9" y2="550.6" stroke="#000" stroke-width="1.1"/>
<text x="588.4" y="553.8000000000001" font-size="9" text-anchor="end" fill="#000">10</text>
<line x1="589.4" y1="584.8" x2="592.9" y2="584.8" stroke="#000" stroke-width="1.1"/>
<text x="588.4" y="588.0" font-size="9" text-anchor="end" fill="#000">0</text>
<rect x="598.2" y="581.4" width="10.399999999999977" height="3.3999999999999773" fill="#fff" stroke="#000" stroke-width="1"/>
<circle cx="603.4" cy="578.2" r="1.5" fill="#1d5a8a" stroke="#222" stroke-width="0.3"/>
<circle cx="599.6" cy="582.9" r="1.5" fill="#1d5a8a" stroke="#222" stroke-width="0.3"/>
<circle cx="607.2" cy="582.4" r="1.5" fill="#1d5a8a" stroke="#222" stroke-width="0.3"/>
<rect x="614.2" y="580.4" width="10.399999999999977" height="4.399999999999977" fill="#fff" stroke="#000" stroke-width="1"/>
<circle cx="619.4" cy="575.9" r="1.5" fill="#4a80c8" stroke="#222" stroke-width="0.3"/>
<circle cx="619.4" cy="580.1" r="1.5" fill="#4a80c8" stroke="#222" stroke-width="0.3"/>
<circle cx="619.4" cy="583.9" r="1.5" fill="#4a80c8" stroke="#222" stroke-width="0.3"/>
<rect x="630.3" y="562" width="10.300000000000068" height="22.799999999999955" fill="#fff" stroke="#000" stroke-width="1"/>
<line x1="635.45" y1="545.6" x2="635.45" y2="578.2" stroke="#000" stroke-width="0.8"/>
<line x1="632.45" y1="545.6" x2="638.45" y2="545.6" stroke="#000" stroke-width="0.8"/>
<line x1="632.45" y1="578.2" x2="638.45" y2="578.2" stroke="#000" stroke-width="0.8"/>
<circle cx="635.5" cy="531.7" r="1.5" fill="#7050a8" stroke="#222" stroke-width="0.3"/>
<circle cx="635.5" cy="546.1" r="1.5" fill="#7050a8" stroke="#222" stroke-width="0.3"/>
<circle cx="631.7" cy="570.2" r="1.5" fill="#7050a8" stroke="#222" stroke-width="0.3"/>
<circle cx="635.5" cy="571.0" r="1.5" fill="#7050a8" stroke="#222" stroke-width="0.3"/>
<circle cx="639.2" cy="567.4" r="1.5" fill="#7050a8" stroke="#222" stroke-width="0.3"/>
<circle cx="639.2" cy="573.1" r="1.5" fill="#7050a8" stroke="#222" stroke-width="0.3"/>
<circle cx="631.7" cy="573.5" r="1.5" fill="#7050a8" stroke="#222" stroke-width="0.3"/>
<rect x="645.8" y="519.3" width="10.100000000000023" height="65.5" fill="#fff" stroke="#000" stroke-width="1"/>
<line x1="650.8499999999999" y1="506.6" x2="650.8499999999999" y2="530.7" stroke="#000" stroke-width="0.8"/>
<line x1="647.8499999999999" y1="506.6" x2="653.8499999999999" y2="506.6" stroke="#000" stroke-width="0.8"/>
<line x1="647.8499999999999" y1="530.7" x2="653.8499999999999" y2="530.7" stroke="#000" stroke-width="0.8"/>
<circle cx="650.8" cy="499.0" r="1.5" fill="#f08080" stroke="#a03030" stroke-width="0.5"/>
<circle cx="647.0" cy="513.6" r="1.5" fill="#f08080" stroke="#a03030" stroke-width="0.5"/>
<circle cx="650.8" cy="516.1" r="1.5" fill="#f08080" stroke="#a03030" stroke-width="0.5"/>
<circle cx="654.6" cy="514.5" r="1.5" fill="#f08080" stroke="#a03030" stroke-width="0.5"/>
<circle cx="650.8" cy="524.6" r="1.5" fill="#f08080" stroke="#a03030" stroke-width="0.5"/>
<circle cx="652.7" cy="531.7" r="1.5" fill="#f08080" stroke="#a03030" stroke-width="0.5"/>
<circle cx="648.9" cy="534.7" r="1.5" fill="#f08080" stroke="#a03030" stroke-width="0.5"/>
<text x="576" y="533.3" font-size="9.3" text-anchor="middle" fill="#000" transform="rotate(-90 576 533.3)">%VE-cad+ SP</text>
<text x="651" y="493.8" font-size="11.3" text-anchor="middle" fill="#000">**</text>
<text x="604.2" y="589.8" font-size="9.5" text-anchor="end" fill="#000" transform="rotate(-60 604.2 589.8)">DN</text>
<text x="620.2" y="589.8" font-size="9.5" text-anchor="end" fill="#000" transform="rotate(-60 620.2 589.8)">P_SP</text>
<text x="636.25" y="589.8" font-size="9.5" text-anchor="end" fill="#000" transform="rotate(-60 636.25 589.8)">DP priMes</text>
<text x="651.6499999999999" y="589.8" font-size="9.5" text-anchor="end" fill="#000" transform="rotate(-60 651.6499999999999 589.8)">F_SP HEM</text>
<text x="0" y="376.7" font-size="14" text-anchor="start" fill="#000">f</text>
<text x="13.9" y="388.1" font-size="11.7" text-anchor="start" fill="#000">DP priMes</text>
<path d="M23.0 405.0C24.3 403.5 26.5 402.5 29.0 401.8C31.5 401.1 34.8 400.7 38.0 400.6C41.2 400.5 45.2 400.9 48.0 401.4C50.8 401.9 53.0 402.7 55.0 403.6C57.0 404.5 58.4 405.6 60.0 407.0C61.6 408.4 63.4 410.2 64.5 412.0C65.6 413.8 66.2 416.0 66.5 418.0C66.8 420.0 67.0 422.2 66.5 424.0C66.0 425.8 65.2 428.0 63.5 429.0C61.8 430.0 58.8 430.2 56.0 430.0C53.2 429.8 49.8 428.8 47.0 428.0C44.2 427.2 41.7 426.2 39.0 425.5C36.3 424.8 33.3 424.2 31.0 423.5C28.7 422.8 26.6 422.1 25.0 421.0C23.4 419.9 22.2 418.7 21.5 417.0C20.8 415.3 20.8 413.0 21.0 411.0C21.2 409.0 21.7 406.5 23.0 405.0 Z" fill="#708090" opacity="0.95"/>
<path d="M22.3 404.6C23.8 402.8 26.1 402.1 28.7 401.4C31.3 400.6 34.5 400.2 37.7 400.1C40.9 400.0 45.0 400.5 48.0 401.0C51.0 401.5 53.6 402.3 55.7 403.3C57.8 404.3 59.1 405.6 60.8 407.1C62.5 408.6 64.7 410.4 66.0 412.3C67.3 414.2 68.0 416.6 68.5 418.7C69.0 420.8 69.2 423.2 69.2 425.1C69.2 427.0 69.2 428.8 68.5 430.3C67.8 431.8 65.5 432.6 64.7 434.1C63.9 435.6 64.5 437.7 63.4 439.2C62.3 440.7 60.4 442.0 58.2 443.1C56.1 444.2 52.9 445.9 50.5 445.7C48.1 445.5 46.2 443.5 44.1 441.8C42.0 440.1 39.8 437.3 37.7 435.4C35.6 433.5 33.5 431.6 31.3 430.3C29.1 429.0 26.5 429.2 24.8 427.7C23.1 426.2 21.9 423.9 21.0 421.3C20.1 418.7 19.5 415.1 19.7 412.3C19.9 409.5 20.8 406.4 22.3 404.6 Z" fill="#708090" opacity="0.45"/>
<path d="M29.1 427.2h0M50.5 404.7h0M45.2 426.3h0M53.7 403.5h0M55.7 412.4h0M38.7 405.8h0M61.4 428.3h0M59.9 423.6h0M25.2 418.4h0M23.6 404.6h0M39.0 402.0h0M21.3 416.7h0M65.3 417.7h0M52.9 436.3h0M37.2 400.2h0M38.2 431.7h0M67.4 420.2h0M40.0 417.5h0M35.2 406.8h0M57.8 439.8h0M46.7 443.1h0M31.0 409.0h0M38.7 420.7h0M56.9 413.2h0M30.9 413.0h0M39.3 429.9h0M23.7 409.0h0M42.3 432.9h0M60.7 421.1h0M38.4 435.5h0M51.4 445.4h0M43.8 439.7h0M51.4 425.8h0M33.6 422.3h0M60.3 408.6h0M37.0 421.2h0M55.1 423.9h0M61.7 431.7h0M38.7 423.9h0M34.7 408.3h0M31.8 411.5h0M59.8 431.4h0M31.8 419.3h0M48.0 407.2h0M62.6 410.2h0M36.7 428.1h0M34.7 409.8h0M51.0 418.6h0M43.0 439.8h0M56.6 435.4h0M62.7 424.7h0M59.0 410.3h0M47.9 420.1h0M56.3 418.3h0M54.1 416.6h0M55.1 412.1h0M44.5 408.7h0M36.7 419.2h0M24.1 414.3h0M37.1 415.0h0M44.8 441.1h0M61.8 413.6h0M26.4 404.1h0M63.5 434.7h0M56.3 441.5h0M39.6 407.9h0M24.2 418.3h0M41.4 403.8h0M30.3 425.3h0M51.9 443.1h0M35.6 410.7h0M22.7 408.7h0M25.4 424.6h0M43.7 404.1h0M31.3 415.9h0M41.4 419.9h0M33.7 407.2h0M38.5 431.4h0M29.9 405.2h0M59.2 424.2h0M31.3 422.1h0M46.5 409.0h0M55.5 406.0h0M65.2 431.7h0M41.6 408.7h0M52.3 408.8h0M42.5 407.0h0M49.3 423.5h0M50.3 430.0h0M49.5 413.1h0M30.2 427.8h0M43.9 413.6h0M48.8 402.2h0M44.3 435.8h0M29.6 422.0h0M49.8 444.1h0M25.0 406.0h0M43.7 436.3h0M21.1 417.4h0M54.9 419.3h0M28.6 403.3h0M57.4 423.4h0M46.3 431.3h0M57.5 418.4h0M42.5 424.4h0M34.7 414.7h0M27.0 413.2h0M61.7 432.9h0M34.8 414.6h0M32.9 427.6h0M42.8 405.8h0M63.1 428.5h0M62.4 422.3h0M44.3 431.8h0M29.7 427.2h0M44.5 413.7h0M44.3 408.2h0M51.5 405.3h0M41.8 402.6h0M46.4 404.5h0M59.6 413.7h0M66.9 415.1h0M43.3 412.3h0M49.0 410.3h0M32.8 403.8h0M31.5 410.1h0M27.6 419.1h0M41.9 427.2h0M47.0 431.2h0M50.1 421.6h0M47.5 442.5h0M64.3 415.2h0M33.5 419.1h0M67.0 421.4h0M37.6 401.2h0M40.4 436.3h0M56.0 422.8h0M59.5 434.0h0M53.9 406.3h0M35.9 420.8h0M32.2 405.0h0M27.2 421.0h0M40.3 412.8h0M32.1 414.5h0M49.3 432.7h0M41.0 432.7h0M48.1 437.1h0M55.8 435.0h0M20.9 416.1h0M36.7 407.0h0M54.2 408.5h0M37.7 420.1h0M51.1 423.7h0M52.6 436.2h0M67.6 428.4h0M40.8 422.7h0M46.7 431.9h0M60.2 431.9h0M63.6 420.8h0M54.2 440.5h0M43.8 437.5h0M33.5 407.4h0M61.9 425.3h0M67.3 427.4h0M32.5 405.6h0M64.2 411.6h0M27.9 424.2h0M55.2 426.3h0M53.1 414.9h0M65.4 422.7h0M53.6 432.1h0M31.7 413.9h0M44.4 404.5h0M40.9 406.5h0M36.3 415.8h0M21.2 409.3h0M63.9 418.6h0M66.5 414.1h0M45.4 424.1h0M39.6 436.4h0M44.8 416.0h0M57.0 423.2h0M39.7 432.9h0M27.5 421.8h0M58.6 418.2h0M58.6 424.8h0M52.1 411.0h0M57.9 429.7h0M39.6 435.6h0M55.7 413.3h0M33.2 416.2h0M58.2 429.2h0M38.7 431.2h0M59.9 409.0h0M62.5 423.9h0M51.2 439.3h0M30.3 421.4h0M39.1 424.8h0M41.9 423.1h0M55.3 413.0h0M23.8 421.2h0M26.1 421.0h0M28.0 420.4h0M30.1 420.3h0M49.6 430.8h0M38.1 403.9h0M41.0 428.5h0M37.6 433.3h0M22.8 419.2h0M46.0 417.6h0M28.9 426.9h0M25.6 407.7h0M53.0 429.6h0M64.9 426.7h0M56.3 421.6h0M59.1 440.0h0M41.1 406.3h0M61.4 411.4h0M64.3 417.6h0M47.3 420.4h0M57.4 416.3h0M45.1 410.6h0M36.4 405.1h0M32.6 412.8h0M53.8 406.7h0M51.5 404.0h0M62.5 434.7h0M49.9 444.0h0M46.1 406.4h0M42.7 425.3h0M23.2 404.5h0M49.0 408.4h0M30.8 414.8h0M31.9 413.6h0M30.8 415.8h0M49.0 425.8h0M55.8 412.9h0M35.2 409.7h0M49.4 432.8h0M54.3 439.5h0M57.8 421.6h0M51.7 405.5h0M40.7 406.0h0M34.6 402.5h0M46.4 404.3h0M34.2 426.5h0M62.5 429.1h0M31.8 408.6h0M24.0 410.5h0M62.4 410.3h0M57.8 405.9h0M44.5 426.3h0M47.3 439.4h0M61.9 423.9h0M41.0 412.0h0M58.0 434.9h0M60.5 422.6h0M47.0 401.8h0M50.5 406.2h0M53.9 410.3h0M45.3 438.8h0M34.3 401.8h0M33.5 416.8h0M49.3 403.1h0M40.1 409.2h0M65.5 421.6h0M60.8 411.6h0M49.5 434.1h0M36.6 412.3h0M40.0 409.2h0M35.6 414.7h0M25.9 427.1h0M27.4 410.0h0M54.8 409.8h0M50.9 425.4h0M64.5 430.7h0M51.8 442.8h0M42.3 404.9h0M43.0 440.1h0M29.6 426.2h0M23.4 413.7h0M41.5 409.0h0M53.7 434.7h0M60.9 425.0h0M57.0 436.4h0M55.7 414.6h0M48.2 437.7h0M31.9 416.5h0M25.4 420.4h0M29.0 405.4h0M63.7 415.1h0M48.8 422.2h0M51.8 437.1h0M29.1 424.7h0M33.0 408.6h0M65.9 419.8h0M28.3 408.2h0M34.9 417.0h0M63.5 424.1h0M44.0 428.7h0M28.5 417.0h0M41.5 403.1h0M34.8 426.2h0M49.5 412.2h0M66.1 414.6h0M57.8 438.9h0M33.3 417.2h0M41.4 426.2h0M28.9 410.2h0M20.8 418.4h0M25.5 410.7h0M31.0 423.2h0M48.3 402.0h0M46.7 436.7h0M31.5 428.9h0M55.6 425.7h0M37.4 423.4h0M52.7 420.0h0M56.2 434.3h0M56.9 419.9h0M26.9 408.0h0M34.4 425.7h0M22.6 414.3h0M27.0 424.5h0M22.8 416.4h0M56.7 438.1h0M63.2 425.8h0M36.0 408.9h0M53.8 402.8h0M51.8 410.6h0M29.0 428.2h0M39.0 402.7h0M38.9 435.7h0M36.6 427.5h0M31.8 406.2h0M52.3 420.2h0M54.0 438.2h0M25.2 408.1h0M43.2 412.8h0M26.1 406.5h0M21.8 419.6h0M51.7 415.8h0M22.3 406.9h0M43.4 416.1h0M58.8 426.8h0M40.3 425.5h0M44.5 426.0h0M45.4 410.9h0M48.7 435.6h0M44.4 414.9h0M46.6 431.6h0M40.0 419.2h0M45.4 434.7h0M28.2 408.5h0M43.9 400.8h0M41.2 405.9h0M29.5 416.8h0M64.0 428.0h0M33.6 429.2h0M41.5 432.1h0M38.5 420.4h0M60.3 420.0h0M46.6 434.7h0M62.7 426.7h0M45.8 404.7h0M38.3 408.8h0M57.9 430.7h0M26.4 426.5h0M63.0 438.8h0M38.3 416.8h0M46.0 419.2h0M37.6 412.0h0M49.4 418.3h0M28.8 403.9h0M59.6 420.8h0M39.7 406.5h0M59.2 434.7h0M63.9 416.5h0M50.5 418.1h0M54.6 408.6h0M43.5 435.2h0M36.9 405.8h0M53.2 431.4h0M49.8 441.5h0M38.1 423.4h0M42.1 439.1h0M36.0 411.1h0M56.5 408.6h0M54.0 428.2h0M62.7 415.2h0M60.4 439.1h0M62.1 433.5h0M55.6 437.5h0M63.2 414.8h0M36.1 403.1h0M59.7 419.6h0M66.1 413.0h0M29.6 422.3h0M43.4 422.3h0M55.3 408.5h0M59.1 414.9h0M56.3 433.3h0M59.0 419.4h0M36.9 423.9h0M61.7 408.0h0M54.4 421.8h0M65.4 419.0h0M42.5 411.5h0M30.0 414.4h0M30.3 428.6h0M47.9 433.7h0M45.8 428.2h0M45.9 421.9h0M36.6 414.2h0M36.1 423.3h0M41.7 425.1h0M35.4 427.9h0M48.5 420.7h0M42.4 410.9h0M59.6 422.0h0M36.8 414.1h0M66.5 415.4h0M48.3 419.1h0M52.5 425.5h0M46.0 404.9h0M35.8 402.3h0M27.6 415.2h0M51.7 432.2h0M47.3 402.2h0M52.7 416.3h0M49.7 408.1h0M39.4 411.2h0M53.3 443.3h0M37.9 423.1h0M51.2 434.9h0M37.4 412.3h0M52.1 414.3h0M44.3 428.8h0M37.0 409.9h0M28.3 410.9h0M58.3 431.6h0M62.5 437.3h0M26.7 418.0h0M57.5 424.3h0M46.3 413.4h0M48.8 402.2h0M55.5 443.7h0M42.3 421.2h0M48.7 417.4h0M43.8 431.6h0M56.6 414.1h0M60.0 423.2h0M63.8 435.6h0M53.0 411.9h0M24.1 405.4h0M54.4 443.2h0M38.6 416.7h0M62.3 436.2h0M67.0 418.9h0M59.2 409.6h0M46.5 434.4h0M55.3 431.8h0M47.7 428.4h0M57.3 411.5h0M65.7 419.1h0M62.3 410.7h0M38.2 409.8h0M27.3 423.7h0M43.6 404.9h0M65.1 429.1h0M45.3 412.6h0M40.7 423.0h0M65.4 418.3h0M54.8 405.6h0M33.2 404.0h0M59.0 422.9h0M25.2 423.8h0M64.2 433.0h0M66.7 426.9h0M41.7 400.9h0M57.6 414.9h0M27.4 412.6h0M31.0 425.5h0M20.5 410.6h0M50.6 420.5h0M23.8 417.7h0M31.6 429.3h0M53.1 419.1h0M25.1 411.1h0M33.2 415.8h0M36.6 429.0h0M34.7 421.4h0M52.0 412.6h0M41.1 438.7h0M49.1 430.9h0M39.3 406.8h0M64.2 426.8h0M63.0 430.1h0M36.5 432.5h0M33.1 423.1h0M50.7 435.5h0M46.6 428.7h0M24.4 424.1h0M58.9 417.6h0M41.2 428.6h0M61.4 431.4h0M37.0 402.6h0M53.2 410.3h0M54.6 429.9h0M43.6 415.6h0M36.6 411.8h0M60.9 420.9h0M46.9 405.5h0M47.2 429.0h0M25.8 415.5h0M32.9 425.3h0M64.2 420.2h0M38.2 428.5h0M34.8 411.3h0M64.9 429.4h0M44.4 421.1h0M59.1 433.8h0M33.6 414.3h0M40.0 402.6h0M40.5 405.3h0M52.7 415.3h0M35.8 410.0h0M32.1 410.6h0M63.6 420.8h0M46.7 414.7h0M66.9 427.4h0M56.4 409.8h0M58.0 435.9h0M48.4 409.1h0M52.0 426.5h0M27.2 402.7h0M45.7 441.9h0M35.9 429.2h0M63.6 413.8h0M55.3 433.8h0M22.0 413.2h0M56.2 410.5h0M52.3 423.4h0M47.8 419.1h0M47.7 425.6h0M35.5 416.8h0M27.8 428.9h0M60.3 410.5h0M48.8 417.9h0M28.7 403.0h0M26.3 413.0h0M44.9 409.1h0M48.4 421.7h0M51.4 443.5h0M50.6 426.2h0M21.5 414.1h0M40.9 402.2h0M25.2 425.7h0M31.5 424.1h0M39.1 412.2h0M42.3 412.8h0M66.5 421.1h0M58.1 442.2h0M45.4 434.2h0M58.9 437.3h0M49.7 440.9h0M56.6 417.5h0M65.6 417.3h0M54.1 415.5h0M33.3 413.3h0M53.7 421.2h0M30.7 406.8h0M59.8 408.8h0M28.2 424.3h0M22.4 418.6h0M47.1 422.6h0M42.9 400.9h0M58.6 438.7h0M51.6 440.1h0M32.6 419.8h0M25.1 421.6h0M42.5 414.5h0M30.2 419.7h0M34.0 422.4h0M48.0 418.6h0M49.1 419.0h0M44.3 422.3h0M48.6 434.7h0M34.7 407.5h0M35.3 406.4h0M57.6 441.9h0M51.5 410.1h0M48.1 406.7h0M58.5 442.5h0M36.9 424.6h0M51.3 407.0h0M67.5 421.8h0M38.7 430.4h0M59.9 438.0h0M21.0 414.3h0M22.3 423.4h0M39.9 437.0h0M25.6 403.8h0M44.5 423.0h0M28.6 411.3h0M41.2 437.5h0M52.6 410.9h0M38.9 435.1h0M47.2 405.0h0M37.5 401.2h0M42.3 410.7h0M34.6 415.6h0M24.1 406.1h0M40.9 419.9h0M33.0 406.1h0M46.8 438.1h0M59.6 427.0h0M38.9 423.7h0M64.5 422.1h0M47.6 422.7h0M50.7 434.2h0M25.5 410.6h0M39.3 409.6h0M45.6 414.5h0M42.2 438.5h0M24.9 415.5h0M41.8 427.7h0M22.2 420.2h0M38.9 432.2h0M36.0 423.5h0M43.0 415.8h0M50.1 406.2h0M29.3 414.7h0M21.4 415.7h0M33.7 415.0h0M61.2 425.6h0M55.7 437.4h0M54.0 425.9h0M50.1 421.3h0M41.0 421.8h0M49.8 438.7h0M36.3 425.5h0M39.0 407.9h0M41.2 413.7h0M51.7 416.6h0M59.4 436.4h0M39.3 431.2h0M30.1 412.3h0M66.5 425.3h0M54.9 416.6h0M56.6 442.9h0M27.2 418.9h0M60.2 440.5h0M24.9 421.0h0M29.3 418.8h0M52.9 430.9h0M34.9 415.3h0M40.5 411.7h0M61.5 436.3h0M52.6 429.7h0M34.2 412.8h0M66.2 423.4h0M25.9 425.0h0M31.2 429.6h0M50.8 438.2h0M53.1 433.4h0M62.7 438.3h0M30.2 428.1h0M46.7 419.4h0M44.4 409.6h0M40.4 427.2h0M57.0 432.3h0M24.8 409.7h0M43.6 435.3h0M31.1 413.9h0M61.8 409.0h0M61.3 425.2h0M46.5 405.8h0M38.2 422.2h0M27.4 426.7h0M56.7 437.8h0M46.3 410.2h0M55.5 419.6h0M31.2 429.1h0M61.7 433.7h0M42.6 413.4h0M46.1 430.6h0M34.9 413.1h0M40.6 413.1h0M29.2 410.3h0M44.0 440.3h0M52.6 441.0h0M63.5 434.4h0M51.0 416.5h0M28.0 412.6h0M51.7 406.2h0M27.2 426.4h0M41.5 433.3h0M48.9 433.5h0M58.1 417.4h0M65.7 428.9h0M45.1 402.0h0M43.7 417.4h0M41.3 415.8h0M61.7 416.9h0M24.5 411.6h0M61.1 423.7h0M68.4 419.1h0M26.6 414.8h0M54.9 414.8h0M51.8 438.7h0M42.4 429.6h0M41.6 424.2h0M42.3 418.8h0M48.1 418.1h0M34.4 419.1h0M58.4 407.2h0M43.1 410.7h0M54.9 410.9h0M56.1 423.0h0M24.4 404.8h0M21.9 413.1h0M63.7 425.2h0M52.7 428.4h0M59.9 417.0h0M51.8 410.0h0M30.9 412.3h0M39.7 413.6h0M49.3 401.9h0M35.3 427.7h0M59.0 436.0h0M41.0 428.5h0M52.7 436.2h0M25.0 419.0h0M57.3 407.3h0M26.3 425.7h0M55.0 414.6h0M21.3 413.4h0M23.8 416.0h0M47.0 429.5h0M51.0 435.9h0M66.5 415.7h0M32.5 424.2h0M22.4 420.5h0M60.4 409.0h0M27.5 416.3h0M37.1 415.3h0M35.7 403.3h0M51.5 422.5h0M50.0 414.9h0M47.2 417.6h0M61.9 420.0h0M40.4 426.0h0M22.5 422.7h0M58.9 405.7h0M46.6 418.6h0M39.9 410.4h0M40.0 402.4h0M23.0 410.8h0M21.0 411.0h0M29.5 416.3h0M54.6 437.5h0M47.4 434.8h0M37.8 406.1h0M53.7 416.7h0M41.2 407.2h0M26.6 417.0h0M35.4 408.7h0M54.2 419.7h0M68.6 425.0h0M54.1 405.6h0M32.9 403.6h0M58.9 429.4h0M37.0 425.9h0M44.5 412.0h0M55.3 443.8h0M27.8 420.0h0M49.1 431.3h0M58.0 415.1h0M56.9 416.5h0M58.2 423.2h0M48.1 440.9h0M28.5 422.8h0M36.8 402.9h0M58.3 409.1h0M27.9 406.3h0M58.2 432.2h0M36.0 422.4h0M37.4 422.6h0M21.6 413.2h0M54.4 428.4h0M42.7 428.4h0M54.1 426.3h0M58.6 413.8h0M31.1 421.1h0M58.7 422.8h0M48.0 413.1h0M46.5 434.9h0M36.0 408.0h0M21.0 413.9h0M30.5 421.7h0M58.6 425.7h0M48.8 410.3h0M46.1 434.3h0M36.1 401.0h0M67.7 423.1h0M67.5 427.9h0M36.6 408.2h0M34.6 419.4h0M24.3 421.6h0M43.0 409.4h0M62.9 437.6h0M34.7 410.7h0M30.2 403.5h0M53.3 404.0h0M42.6 422.0h0M27.8 406.1h0M35.1 418.3h0M66.9 415.0h0M42.8 406.9h0M22.7 413.3h0M54.1 427.8h0M54.6 439.5h0M53.9 404.2h0M63.1 430.1h0M44.1 433.3h0M42.4 439.2h0M50.1 423.9h0M38.1 407.2h0M67.3 426.7h0M64.9 422.1h0M60.7 439.5h0M32.9 417.6h0M25.3 423.2h0M62.4 413.6h0M63.3 412.2h0M42.9 430.3h0M37.3 417.9h0M57.3 436.4h0M58.8 412.3h0M62.4 434.9h0M49.0 415.4h0M56.3 419.2h0M57.4 426.9h0M37.4 414.5h0M44.6 406.3h0M32.5 429.2h0M45.8 414.7h0M28.4 412.7h0M39.3 406.3h0M66.7 432.1h0M67.5 429.3h0M40.0 407.8h0M52.0 444.1h0M41.6 431.3h0M62.0 439.8h0M47.2 440.0h0M41.2 409.9h0M60.6 436.3h0M51.2 421.6h0M52.6 430.6h0M59.0 439.0h0M62.5 412.0h0M46.1 442.5h0M29.3 422.7h0M62.3 420.0h0M59.0 407.0h0M59.6 437.0h0M34.5 430.3h0M60.9 422.6h0M53.7 420.9h0M48.5 413.1h0M47.1 414.8h0M34.3 415.5h0M45.3 407.3h0M42.0 416.1h0M38.9 416.8h0M66.5 417.5h0M37.0 431.0h0M66.4 424.4h0M51.7 405.0h0M35.2 420.8h0M52.0 417.5h0M56.2 438.3h0M32.0 424.1h0M24.7 414.7h0M48.3 437.9h0M52.4 437.6h0M23.0 423.7h0M53.3 410.6h0M39.0 410.0h0M58.0 415.6h0M62.3 412.8h0M61.9 416.2h0M48.9 414.5h0M50.4 402.8h0M37.7 416.2h0M49.0 436.7h0M39.4 409.8h0M36.3 417.2h0M43.8 422.4h0M58.9 436.2h0M39.5 435.2h0M49.2 401.7h0M60.7 440.4h0M51.4 423.2h0M48.5 402.6h0M45.3 409.3h0M42.8 427.5h0M30.6 403.1h0M44.2 431.1h0M45.7 437.3h0M36.3 420.6h0M48.3 410.1h0M67.4 417.7h0M44.5 423.9h0M24.8 411.9h0M52.2 442.3h0M22.8 415.4h0M44.9 418.8h0M32.8 407.9h0M35.1 402.7h0M33.6 403.0h0M63.2 429.5h0M44.3 414.8h0M53.3 415.7h0M61.2 438.7h0M31.3 423.7h0M31.4 401.9h0M50.4 433.6h0M43.9 432.2h0M40.9 424.1h0M51.9 436.3h0M66.3 429.2h0M60.5 407.5h0M22.9 421.0h0M31.7 425.0h0M67.0 418.6h0M59.6 428.2h0M30.9 423.8h0M26.0 414.2h0M23.4 408.3h0M63.5 423.3h0M62.5 421.1h0M34.9 422.4h0M21.5 409.1h0M30.6 423.3h0M38.9 405.6h0M49.9 440.3h0M46.7 415.5h0M44.4 411.3h0M21.8 414.0h0M38.6 435.5h0M25.6 414.4h0M27.9 425.8h0M44.7 433.6h0M45.7 413.2h0M66.6 422.2h0M27.8 424.9h0M45.1 404.5h0M55.2 416.5h0M51.6 411.9h0M55.7 436.3h0M46.1 442.0h0M39.9 417.3h0M57.5 435.3h0M41.0 420.4h0M49.7 402.6h0M45.5 438.7h0M26.0 403.7h0M44.3 427.9h0M38.4 419.1h0M35.5 412.2h0M64.6 428.2h0M47.2 404.1h0M31.0 413.4h0M31.4 407.8h0M62.8 430.9h0M41.7 411.2h0M67.0 415.7h0M56.2 429.3h0M40.3 411.9h0M30.9 401.7h0M55.8 415.9h0M60.4 414.3h0M32.1 412.1h0M59.9 421.9h0M53.1 431.0h0M59.3 424.8h0M48.6 431.5h0M53.7 438.9h0M60.6 411.7h0M56.6 416.1h0M57.0 425.5h0M48.1 404.4h0M28.7 405.9h0M64.7 416.1h0M42.2 426.3h0M54.1 404.0h0M36.0 429.2h0M47.4 422.0h0M45.3 437.2h0M39.8 435.0h0M48.8 440.4h0M24.9 413.6h0M46.6 420.9h0M28.8 407.2h0M47.5 419.1h0M47.8 419.9h0M44.1 403.4h0M68.4 426.8h0M55.6 441.1h0M30.8 407.9h0M29.4 418.0h0M60.8 427.1h0M55.4 422.8h0M47.0 418.2h0M24.1 412.5h0M58.2 423.1h0M37.9 432.5h0M31.1 409.1h0M54.3 421.0h0M30.9 427.3h0M30.8 424.1h0M56.6 419.3h0M28.7 409.7h0M23.4 413.9h0M25.7 422.0h0M59.1 416.3h0M46.3 404.0h0M24.0 416.9h0M31.4 409.7h0M30.4 410.1h0M51.9 411.0h0M55.6 441.0h0M45.6 403.7h0M67.2 419.2h0M58.2 430.6h0M31.2 402.5h0M36.1 412.4h0M45.6 416.2h0M39.5 414.4h0M26.5 412.8h0M52.7 412.9h0M42.4 413.6h0M52.1 440.6h0M60.1 409.7h0M30.2 402.3h0M39.1 435.0h0M57.1 405.2h0M53.6 419.3h0M26.3 407.8h0M37.0 422.5h0M52.0 439.7h0M53.9 425.4h0M45.9 428.0h0M46.6 419.7h0M62.6 410.7h0M36.9 411.6h0M52.1 436.7h0M24.7 417.7h0M53.4 433.8h0M57.8 407.6h0M55.4 420.7h0M49.8 407.8h0M36.9 416.9h0M40.2 416.9h0M46.0 433.3h0M21.2 410.7h0M23.8 422.6h0M51.7 435.9h0M55.6 407.5h0M29.3 428.8h0M51.6 417.9h0M53.4 420.7h0M35.2 414.4h0M40.9 405.0h0M55.0 407.8h0M48.4 442.4h0M60.0 437.4h0M33.3 431.0h0M44.4 413.2h0M64.6 413.8h0M55.8 436.0h0M63.2 420.8h0M41.0 436.2h0M44.2 411.2h0M50.1 420.1h0M57.4 439.8h0M47.0 420.5h0M22.0 413.2h0M30.3 408.2h0M62.5 412.3h0M53.7 430.4h0M51.1 403.6h0M39.0 413.8h0M44.2 401.7h0M54.9 435.3h0M53.9 442.9h0M62.3 421.2h0M67.0 424.9h0M47.6 426.3h0M28.9 418.0h0M44.6 436.0h0M47.5 415.9h0M28.5 416.0h0M68.2 421.4h0M66.2 427.6h0M31.8 409.8h0M59.6 412.2h0M65.7 419.7h0M56.3 430.7h0M24.4 419.8h0M37.1 428.6h0M42.1 414.6h0M43.6 424.9h0M21.7 414.7h0M32.2 412.7h0M37.4 412.7h0M37.9 431.3h0M23.6 413.5h0M55.6 429.9h0M34.8 413.0h0M55.1 417.3h0M59.6 441.5h0M31.2 425.9h0M64.0 429.1h0M63.1 415.6h0M33.8 424.8h0M37.5 424.0h0M32.2 409.6h0M49.8 405.2h0M31.1 404.2h0M53.8 407.3h0M45.5 421.4h0M35.9 423.7h0M58.1 416.5h0M26.5 408.5h0M54.4 421.9h0M55.0 417.9h0M35.6 410.2h0M41.9 419.5h0M39.4 416.6h0M26.0 406.8h0M28.8 403.4h0M46.8 429.6h0M61.8 412.0h0M59.5 434.2h0M22.6 409.1h0M31.7 407.5h0M50.8 419.7h0M33.8 412.5h0M44.5 418.6h0M59.0 408.9h0M62.6 426.9h0M68.4 420.3h0M58.0 438.1h0M34.4 420.8h0M25.4 418.0h0M48.1 414.1h0M50.1 430.3h0M27.9 403.3h0M21.6 409.4h0M44.4 417.2h0M53.6 406.2h0M45.3 419.4h0M32.1 401.2h0M54.2 441.2h0M36.9 413.6h0M59.6 425.3h0M49.0 432.5h0M45.5 437.5h0M47.2 433.8h0M64.5 422.3h0M53.9 424.3h0M33.7 407.7h0M29.2 413.1h0M31.9 427.7h0M54.8 411.8h0M60.6 420.7h0M44.3 416.7h0M42.3 401.6h0M34.0 416.1h0M39.5 429.7h0M34.5 405.9h0M46.4 430.3h0M55.8 426.2h0M53.4 408.9h0M28.8 420.0h0M61.3 410.3h0M58.2 437.8h0M56.1 405.0h0M30.6 401.1h0M48.6 431.9h0M60.5 432.7h0M49.2 416.5h0M65.6 412.3h0M42.1 405.2h0M48.2 431.4h0M45.2 417.2h0M50.3 439.4h0M52.4 434.8h0M48.7 425.1h0M51.0 425.4h0M50.0 435.9h0M41.2 433.6h0M59.9 415.7h0M34.9 424.3h0M43.5 418.4h0M34.6 400.6h0M65.8 416.0h0M65.0 428.7h0M25.1 408.2h0M38.2 409.1h0M44.0 407.0h0M45.2 431.1h0M61.1 419.9h0M30.2 401.8h0M48.9 424.2h0M54.1 410.8h0M33.3 408.7h0M61.5 426.3h0M33.3 416.5h0M32.3 401.1h0M60.8 435.1h0M35.3 415.8h0M65.8 412.1h0M54.4 441.9h0M26.8 408.1h0M54.2 415.8h0M42.3 439.2h0M27.6 410.4h0M50.2 410.8h0M42.1 410.1h0M51.1 429.9h0M66.1 413.8h0M58.6 414.2h0M54.7 418.8h0M36.8 408.5h0M54.7 442.0h0M36.3 403.9h0M49.1 438.3h0M51.8 418.9h0M43.8 411.1h0M65.3 428.0h0M54.7 414.9h0M51.6 441.2h0M28.3 402.2h0M20.8 418.6h0M56.3 411.1h0M37.0 431.5h0M23.2 422.9h0M38.8 406.8h0M60.0 426.7h0M50.3 444.3h0M41.7 437.0h0M43.6 414.9h0M65.2 431.9h0M55.8 441.4h0M65.7 416.9h0M28.3 417.4h0M25.1 420.9h0M49.6 417.0h0M54.8 412.2h0M46.3 415.0h0M34.7 422.6h0M62.1 426.8h0M42.5 428.7h0M65.8 417.2h0M28.9 424.7h0M26.4 411.2h0M52.3 420.6h0M51.2 425.6h0M51.8 430.1h0M44.2 426.0h0M35.8 427.0h0M48.6 442.2h0M42.6 418.7h0M57.2 412.0h0M50.1 407.0h0M46.4 424.1h0M53.2 405.6h0M65.6 427.0h0M55.7 437.4h0M54.3 405.2h0M49.7 413.7h0M55.5 418.4h0M27.5 411.7h0M63.4 428.7h0M39.0 401.9h0M55.2 424.5h0M30.4 424.5h0M61.6 433.5h0M64.4 429.3h0M25.2 422.7h0M47.1 424.6h0M33.9 410.2h0M34.7 411.3h0M39.1 425.5h0M52.3 439.7h0" stroke="#708090" stroke-width="1.44" stroke-linecap="round" opacity="0.9" fill="none"/>
<path d="M59.4 410.1h0M49.9 437.7h0M25.7 424.8h0M65.8 418.8h0M51.4 435.1h0M37.7 405.0h0M65.6 422.1h0M47.1 406.6h0M46.2 420.2h0M52.0 404.3h0M33.9 424.8h0M58.0 430.3h0M39.3 429.1h0M37.5 411.8h0M44.9 422.9h0M26.3 427.9h0M61.4 408.2h0M50.2 424.6h0M52.6 430.8h0M57.9 412.5h0M41.5 427.1h0M55.0 418.7h0M37.2 428.6h0M24.3 424.7h0M39.5 431.3h0M35.9 402.7h0M54.2 414.7h0M66.7 423.0h0M26.6 403.0h0M47.3 419.9h0M44.8 426.6h0M44.9 417.9h0M62.6 424.2h0M27.0 406.7h0M60.3 410.6h0M49.2 416.1h0M34.8 416.8h0M50.4 416.5h0M36.3 416.5h0M57.4 434.8h0M38.5 433.3h0M45.0 432.3h0M29.5 429.4h0M38.8 433.4h0M26.8 422.9h0M46.2 402.7h0M68.0 422.6h0M48.8 420.1h0M53.3 422.8h0M57.5 441.9h0M55.1 424.4h0M61.2 415.2h0M63.5 425.6h0M45.9 428.1h0M39.0 419.5h0M59.5 416.2h0M54.4 433.5h0M53.7 408.0h0M41.8 427.6h0M24.8 408.9h0M58.9 407.3h0M46.2 413.9h0M54.0 419.6h0M33.2 424.3h0M46.2 432.8h0M65.4 432.4h0M50.3 435.2h0M25.3 426.1h0M32.7 422.9h0M23.9 413.1h0M45.3 437.2h0M50.5 437.0h0M39.0 405.6h0M34.9 430.9h0M47.6 405.3h0M66.3 420.4h0M45.4 440.9h0M56.3 430.8h0M46.6 437.4h0M35.8 402.5h0M59.8 431.1h0M42.6 421.0h0M23.6 406.9h0M59.6 432.3h0M47.9 424.3h0M53.8 435.8h0M26.5 418.8h0M43.0 401.1h0M47.8 407.6h0M44.4 435.1h0M56.7 416.7h0M43.0 428.1h0M36.5 406.8h0M40.0 410.1h0M44.7 411.5h0M55.6 439.2h0M53.2 413.1h0M62.1 414.2h0M39.2 411.9h0M43.9 438.0h0M34.8 410.7h0M42.5 418.8h0M36.1 408.2h0M26.9 409.4h0M61.0 430.4h0M47.5 403.4h0M37.5 429.7h0M32.1 429.4h0M46.1 426.9h0M22.3 410.7h0M33.7 423.7h0M35.1 417.2h0M44.3 425.8h0M37.4 415.9h0M48.0 428.6h0M56.3 428.8h0M25.7 416.3h0M51.3 432.6h0M64.6 433.4h0M49.3 427.9h0" stroke="#fff" stroke-width="0.8" stroke-linecap="round" opacity="0.8" fill="none"/>
<path d="M33.2 417.5h0M37.6 410.4h0M44.4 402.6h0M58.7 408.5h0M59.8 407.5h0M44.4 420.9h0M48.1 427.2h0M54.4 414.7h0M38.8 412.3h0M41.7 424.9h0M22.3 409.5h0M52.8 403.8h0M57.4 411.0h0M56.1 425.8h0M35.8 417.2h0M56.3 428.3h0M47.1 426.9h0M61.5 429.1h0M30.3 414.0h0M49.0 418.6h0M25.7 417.5h0M62.9 416.5h0M29.2 409.7h0M62.4 412.9h0M24.8 409.0h0M47.0 405.4h0M43.4 414.8h0M51.2 408.8h0M29.6 414.3h0M29.3 417.1h0M29.4 416.2h0M33.7 404.7h0M27.2 417.0h0M44.6 418.8h0M51.9 402.8h0M32.8 405.6h0M50.2 409.7h0M43.3 404.3h0M26.8 421.7h0M56.8 405.2h0M34.5 407.9h0M32.6 418.2h0M58.1 428.7h0M50.5 404.5h0M34.1 404.4h0M63.4 418.4h0M53.5 423.2h0M55.2 429.1h0M29.3 411.3h0M42.5 418.6h0M43.8 408.0h0M35.3 420.4h0M25.0 413.1h0M44.6 406.7h0M26.1 418.6h0M61.9 412.7h0M62.7 410.1h0M51.9 426.1h0M29.1 422.1h0M33.8 412.3h0M34.1 412.3h0M59.5 412.6h0M47.2 417.9h0M56.9 413.8h0M58.0 415.8h0M39.8 408.7h0M59.5 418.2h0M30.5 417.6h0M48.3 402.0h0M44.8 418.2h0" stroke="#fff" stroke-width="0.7" stroke-linecap="round" opacity="0.6" fill="none"/>
<path d="M76.3 414.3h0M75.7 413.3h0M77.2 411.8h0M76.6 412.1h0M73.9 416.1h0M81.6 415.3h0M81.8 416.2h0M79.4 413.5h0M79.9 417.5h0M79.0 410.2h0M81.7 416.8h0M76.8 410.2h0M79.6 410.7h0M73.5 411.4h0M81.9 415.5h0M79.6 413.3h0M74.5 411.3h0M75.3 414.3h0M73.1 414.4h0M77.5 412.2h0M73.2 413.0h0M81.2 415.8h0M79.7 412.2h0M74.2 416.1h0M73.3 413.5h0M76.1 411.3h0M72.9 412.2h0M78.3 413.9h0M80.8 415.0h0M75.5 412.6h0M73.9 412.0h0M77.6 412.9h0M75.4 416.2h0M79.9 417.4h0M78.0 414.5h0M78.5 417.4h0M75.8 416.8h0M77.6 416.1h0M80.5 412.1h0M78.5 413.5h0M74.1 412.9h0M73.7 415.4h0M77.3 414.8h0M73.7 414.0h0M77.0 414.5h0M77.3 414.3h0M72.9 412.6h0M80.1 416.6h0M74.6 412.9h0M76.4 414.1h0M74.5 412.5h0M79.7 415.4h0M80.6 415.5h0M75.8 410.8h0M72.6 415.2h0M80.6 415.5h0M78.6 413.1h0M72.9 413.4h0M73.6 412.1h0M80.3 414.6h0M81.6 416.8h0M79.8 417.5h0M74.0 415.9h0M78.9 414.3h0M73.6 413.8h0M81.7 415.6h0M82.0 416.2h0M73.1 413.0h0M81.1 415.7h0M77.4 413.5h0M76.4 412.8h0M76.1 413.6h0M78.5 411.0h0M74.1 414.9h0M78.3 413.8h0M77.8 412.6h0M77.9 412.2h0M78.6 412.2h0M76.8 410.1h0M75.9 413.5h0M78.7 416.1h0M72.9 412.4h0M74.9 413.5h0M81.7 417.4h0M79.9 417.5h0M77.6 414.8h0M73.8 415.7h0M75.1 414.3h0M74.8 414.0h0M76.5 417.0h0M77.8 416.1h0M75.1 413.9h0M77.8 412.3h0M76.7 409.9h0M74.0 412.4h0M79.4 414.5h0M79.7 410.5h0M73.8 411.1h0M78.1 413.5h0M81.4 416.8h0M78.4 413.4h0M77.0 417.9h0M73.5 413.7h0M80.3 415.3h0M73.4 416.4h0M82.0 415.9h0M79.6 415.4h0M80.4 414.1h0M79.1 416.0h0M76.0 416.0h0" stroke="#d86a28" stroke-width="1.4" stroke-linecap="round" opacity="0.95" fill="none"/>
<path d="M82.0 413.9h0M83.0 413.0h0M84.0 412.4h0M85.0 411.5h0M86.0 410.6h0M87.0 409.1h0M88.0 408.8h0M89.0 408.0h0M90.0 407.1h0M91.0 406.0h0M91.5 405.4h0M92.0 404.8h0M92.5 404.2h0M93.0 403.6h0M93.5 403.0h0" stroke="#d86a28" stroke-width="1.2" stroke-linecap="round" opacity="1.0" fill="none"/>
<path d="M63.6 411.1h0M58.9 415.9h0M67.7 407.1h0M63.9 413.0h0M61.7 407.5h0M60.2 405.9h0M65.6 410.2h0M68.0 406.6h0M67.8 411.8h0M62.6 405.3h0M56.8 410.0h0M57.5 411.6h0M58.8 415.1h0M63.8 404.6h0M66.3 412.2h0M58.6 408.5h0M64.1 414.7h0M60.8 413.7h0" stroke="#d86a28" stroke-width="1.1" stroke-linecap="round" opacity="1.0" fill="none"/>
<path d="M33.4 425.5h0M31.2 425.2h0M32.8 426.4h0M32.3 425.6h0M44.3 425.5h0M44.3 425.5h0M43.2 425.7h0M44.2 426.2h0" stroke="#d86a28" stroke-width="1.0" stroke-linecap="round" opacity="1.0" fill="none"/>
<path d="M73.8 436.9h0M71.5 433.9h0M78.2 439.4h0M75.2 438.2h0M76.0 433.9h0M71.5 436.8h0M74.5 435.8h0M73.9 435.0h0M77.4 437.1h0M76.5 438.0h0M77.1 440.4h0M75.3 440.4h0M76.4 436.4h0M77.5 441.2h0M72.8 435.2h0M77.6 439.8h0M78.8 438.4h0M74.0 433.8h0M74.5 433.8h0M77.0 436.2h0M78.2 439.9h0M76.5 439.2h0M73.2 438.0h0M72.5 434.0h0M76.8 437.0h0M73.5 440.0h0M76.1 439.1h0M74.6 433.6h0M76.9 439.8h0M75.8 435.2h0M76.6 441.4h0M78.0 436.5h0M73.1 439.4h0M78.4 437.9h0M73.5 435.6h0" stroke="#b0c4de" stroke-width="1.2" stroke-linecap="round" opacity="1.0" fill="none"/>
<path d="M84.6 414.2h0M87.9 413.8h0M87.8 412.9h0M84.5 413.0h0M87.3 413.1h0M85.4 415.0h0M86.4 413.4h0M87.5 412.5h0M84.8 414.2h0M86.0 414.4h0" stroke="#b0c4de" stroke-width="1.1" stroke-linecap="round" opacity="1.0" fill="none"/>
<path d="M63.7 444.4h0M63.1 445.4h0M62.2 446.4h0M62.2 447.4h0M61.4 448.4h0M60.8 449.4h0M60.5 450.4h0M60.2 451.4h0M59.8 452.4h0" stroke="#8fa0b8" stroke-width="1.0" stroke-linecap="round" opacity="1.0" fill="none"/>
<path d="M135.3 464.6h0M159.5 463.9h0M163.0 473.2h0M138.7 456.5h0M137.3 455.0h0M134.6 463.4h0M160.4 470.6h0M140.1 464.0h0M148.0 451.6h0M165.8 470.7h0M148.5 456.7h0M165.5 467.8h0M136.3 465.0h0M134.2 461.0h0M134.6 459.9h0M159.2 470.0h0M149.9 463.2h0M150.1 465.6h0M139.1 454.3h0M148.4 465.5h0M137.9 450.7h0M140.5 457.4h0M138.1 468.7h0M156.0 466.3h0M139.9 448.8h0M165.9 469.9h0M151.9 462.3h0M152.7 455.8h0M142.1 456.1h0M151.4 464.4h0M152.3 468.4h0M148.4 456.0h0M156.1 457.7h0M147.9 458.9h0M158.4 462.3h0M133.0 457.2h0M156.7 466.9h0M150.6 466.0h0M161.7 463.2h0M144.4 453.7h0M133.1 458.3h0M145.5 466.3h0M132.6 465.8h0M146.7 468.0h0M137.9 465.1h0M141.9 450.4h0M159.5 463.1h0M160.2 460.4h0M145.4 457.2h0M157.9 469.0h0M143.1 461.3h0M152.0 465.6h0M160.2 464.5h0M140.0 468.2h0M158.3 469.8h0M134.7 458.7h0M143.3 460.2h0M137.2 460.1h0M142.6 465.5h0M152.9 462.8h0M141.1 457.5h0M141.3 460.5h0M135.2 463.0h0M164.1 465.0h0M138.1 449.3h0M140.9 462.0h0M135.3 457.7h0M164.9 468.0h0M141.1 464.5h0M156.8 464.4h0M151.0 465.1h0M148.3 453.5h0M143.8 466.9h0M133.4 458.5h0M164.6 466.9h0M149.4 459.9h0M133.6 467.7h0M143.1 450.3h0M147.6 466.2h0M150.2 458.5h0M155.7 459.1h0M165.0 470.2h0M146.7 457.1h0M136.4 452.9h0M144.8 465.9h0M162.9 466.1h0M164.9 472.6h0M132.7 463.5h0M141.1 465.8h0M156.7 460.7h0M158.2 469.9h0M165.7 469.5h0M151.9 463.7h0M134.6 462.8h0M141.6 454.4h0M152.6 457.1h0M143.6 451.2h0M142.4 458.3h0M133.9 457.4h0M150.2 461.6h0M161.8 462.2h0M154.6 465.5h0M144.2 459.7h0M138.6 451.3h0M145.5 459.0h0M155.1 468.4h0M135.4 467.7h0M152.5 457.7h0M137.1 453.5h0M147.8 456.6h0M135.1 457.1h0M158.8 463.3h0M136.9 463.7h0M165.7 473.0h0M136.0 466.3h0M142.6 464.6h0M142.3 449.9h0M154.6 465.6h0M143.0 455.4h0M136.7 451.2h0M161.5 464.0h0M142.5 456.8h0M141.5 450.9h0M161.2 464.0h0M149.7 459.7h0M145.0 451.2h0M151.7 458.0h0M154.5 460.3h0M135.1 467.4h0M141.2 451.1h0M164.3 466.8h0M142.5 453.8h0M156.3 467.7h0M141.5 449.4h0M143.5 462.4h0M141.9 468.1h0M147.7 454.0h0M139.3 452.9h0M151.5 454.6h0M135.1 461.3h0M137.7 465.8h0M148.9 454.1h0M158.9 468.5h0M140.2 454.1h0M141.3 461.5h0M151.9 463.4h0M146.3 456.8h0M139.4 460.6h0M143.0 464.2h0M136.5 458.3h0M165.1 473.2h0M161.3 468.1h0M155.1 468.3h0M163.5 464.7h0M145.3 466.6h0M151.8 462.4h0M159.2 463.0h0M133.2 464.1h0M151.3 466.5h0M135.2 456.3h0M143.6 460.3h0M143.2 465.0h0M162.5 470.4h0M145.8 454.8h0M159.9 460.9h0M153.5 461.1h0M145.9 451.4h0M145.8 456.7h0M156.8 458.3h0M133.1 458.4h0M132.2 463.4h0M163.9 465.4h0M150.7 463.0h0M147.5 462.2h0M162.7 466.5h0M149.4 455.9h0M145.2 464.0h0M160.6 466.9h0M135.1 463.4h0M152.6 454.2h0M151.7 454.5h0M149.7 453.2h0M163.6 472.0h0M149.1 452.8h0M150.4 453.6h0M163.6 470.0h0M153.7 455.0h0M135.5 452.8h0M141.0 449.1h0M158.6 468.0h0M163.5 463.3h0M136.8 467.6h0M158.8 465.7h0M135.5 469.0h0M146.3 458.0h0M154.7 467.7h0M138.4 462.9h0M139.9 457.0h0M147.3 452.6h0M157.1 459.1h0M136.0 458.7h0M135.5 464.4h0M133.1 461.3h0M163.4 465.9h0M145.2 456.6h0M133.0 467.1h0M150.6 466.7h0M134.6 458.2h0M146.4 461.9h0M148.7 466.9h0M146.9 460.5h0M137.5 458.8h0M139.3 459.4h0M154.1 460.7h0M139.2 467.7h0M137.5 462.7h0M132.5 461.5h0M137.8 467.6h0M133.9 461.7h0M145.9 457.9h0M148.1 457.0h0M155.9 465.5h0M141.7 465.2h0M160.3 468.4h0M162.7 472.1h0M135.5 461.1h0M136.6 456.0h0M165.0 469.5h0M144.4 456.0h0M137.9 469.3h0M142.4 458.8h0M161.3 463.6h0M132.6 464.3h0M134.6 461.2h0M139.8 468.3h0M151.1 460.0h0M145.8 466.3h0M133.9 465.1h0M144.7 450.9h0M135.7 458.6h0M136.4 461.8h0M137.6 449.5h0M151.0 458.9h0M155.0 456.3h0M141.1 464.7h0M144.2 451.8h0M135.9 460.8h0M141.6 460.6h0M164.1 464.4h0M139.7 466.3h0M148.0 453.7h0M155.0 459.5h0M137.8 462.8h0M145.8 463.0h0M165.5 473.1h0M137.4 449.8h0M145.3 454.3h0M143.3 457.2h0M137.1 463.6h0M147.6 455.9h0M161.4 461.4h0M141.9 456.5h0M162.7 470.6h0M163.7 472.1h0M139.8 449.2h0M155.2 463.4h0M142.9 454.7h0M156.7 468.2h0M136.3 456.8h0M142.5 455.6h0M133.7 459.5h0M165.2 473.4h0M155.8 468.4h0M153.0 458.9h0M132.3 460.8h0M145.1 461.5h0M135.8 464.1h0M147.5 460.5h0M163.3 466.9h0M154.8 461.2h0M144.6 456.7h0M145.4 461.4h0M158.8 461.9h0M138.4 460.8h0M151.6 462.8h0M153.7 465.6h0M142.3 455.3h0M151.4 453.6h0M135.0 456.6h0M155.8 466.1h0M136.8 457.4h0M160.1 469.2h0M155.5 457.0h0M155.3 468.6h0M149.0 462.2h0M138.2 450.3h0M165.9 469.1h0M150.2 463.4h0M152.6 457.2h0M137.1 454.0h0M155.7 466.6h0M148.4 467.7h0M149.8 453.7h0M142.0 456.4h0M144.0 452.3h0M138.0 451.4h0M146.7 452.0h0M147.9 451.8h0M132.8 461.4h0M159.9 467.9h0M136.2 456.2h0M151.0 467.1h0M140.1 466.2h0M138.0 460.9h0M139.1 451.1h0M134.7 460.6h0M158.6 467.8h0M142.2 456.7h0M150.2 462.2h0M159.3 467.3h0M134.2 462.6h0M137.5 451.0h0M149.2 461.0h0M146.7 467.0h0M150.8 459.2h0M151.0 466.4h0M148.8 464.0h0M138.0 457.1h0M164.2 465.0h0M137.3 464.1h0M140.5 449.3h0M156.8 468.0h0M139.6 467.0h0M144.8 451.7h0M157.1 465.6h0M148.0 463.9h0M164.0 471.9h0M158.5 462.0h0M141.1 460.3h0M147.2 459.2h0M156.9 461.4h0M162.9 469.7h0M161.2 468.8h0M155.1 459.6h0M143.7 464.5h0M155.8 463.7h0M162.7 471.9h0M133.5 458.0h0M132.5 464.1h0M160.5 461.2h0M161.0 463.4h0M132.5 465.8h0M141.6 463.0h0M157.2 461.5h0M144.6 459.9h0M150.2 464.1h0M137.1 466.4h0M144.5 450.6h0M143.4 461.2h0M159.2 470.8h0M136.0 455.9h0M134.5 461.6h0M140.9 455.6h0M138.4 461.8h0M146.1 463.0h0M142.7 453.1h0M135.9 460.6h0M161.7 462.8h0M149.4 456.7h0M142.3 449.3h0M164.7 465.8h0M141.4 459.6h0M135.4 454.3h0M143.4 449.4h0M161.1 461.2h0M143.6 464.4h0M147.1 456.5h0M144.7 459.7h0M141.9 457.8h0M159.4 470.5h0M153.9 465.3h0M143.6 456.9h0M149.6 456.5h0M142.7 462.9h0M160.9 469.0h0M134.6 454.9h0M166.1 469.3h0M138.1 458.8h0M154.3 459.3h0M164.9 471.4h0M135.5 456.5h0M137.5 455.6h0M136.5 465.6h0M159.7 469.0h0M158.0 464.5h0M156.2 463.1h0M140.6 458.3h0M133.2 459.5h0M150.9 466.1h0M149.9 453.9h0M155.0 461.3h0M143.3 449.9h0M160.3 463.8h0M160.0 466.1h0M137.6 467.2h0M159.6 459.6h0M134.5 461.4h0M133.7 457.8h0M163.6 470.4h0M157.4 458.5h0M136.4 461.7h0M134.2 468.1h0M142.3 462.0h0M144.7 466.2h0M136.6 460.3h0M152.1 455.1h0M141.3 459.0h0M146.1 464.2h0M137.2 463.9h0M159.7 468.0h0M162.6 465.1h0M152.3 457.7h0M148.2 456.8h0M145.2 461.1h0M152.7 466.6h0M143.5 451.6h0M160.8 471.9h0M149.1 463.0h0M140.8 463.2h0M152.2 459.8h0M134.4 460.5h0M142.4 452.0h0M162.0 465.2h0M136.1 457.1h0M138.8 454.1h0M132.6 463.0h0M135.7 460.3h0M162.1 462.5h0M152.8 464.8h0M144.4 463.6h0M144.9 467.3h0M144.4 450.0h0M146.7 467.2h0M138.3 459.0h0M145.9 463.3h0M136.1 465.8h0M150.9 454.9h0M139.9 456.5h0M158.0 462.0h0M136.3 464.9h0M140.7 458.3h0M148.3 454.5h0M135.0 461.8h0M154.3 455.4h0M164.9 472.5h0M147.2 464.2h0M159.4 471.1h0M148.4 456.9h0M137.9 455.9h0M154.6 458.2h0M152.8 460.4h0M148.8 464.7h0M153.0 454.9h0M138.5 465.1h0M145.8 456.0h0M143.4 454.1h0M132.6 461.5h0M156.4 462.4h0M157.8 458.9h0M152.8 465.8h0M146.4 454.0h0M157.4 460.4h0M149.5 457.1h0M150.3 464.0h0M160.2 466.4h0M158.0 468.2h0M147.0 455.3h0M154.8 468.4h0M156.6 462.1h0M147.8 462.7h0" stroke="#e03030" stroke-width="1.4" stroke-linecap="round" opacity="0.95" fill="none"/>
<path d="M164.2 474.0h0M165.1 474.9h0M165.1 475.8h0M164.6 476.7h0M163.8 477.6h0M164.2 478.5h0M164.8 479.4h0" stroke="#8ed2dc" stroke-width="1.2" stroke-linecap="round" opacity="1.0" fill="none"/>
<path d="M129.1 450.7h0M129.3 451.3h0M128.9 450.9h0M128.6 445.5h0M131.6 450.9h0M128.2 449.0h0M127.1 447.2h0M126.8 446.6h0M128.9 450.1h0M128.8 445.8h0M127.9 446.1h0M128.7 447.2h0" stroke="#b0c4de" stroke-width="1.1" stroke-linecap="round" opacity="1.0" fill="none"/>
<path d="M135.0 446.0h0M147.0 446.0h0M138.5 445.5h0" stroke="#b0c4de" stroke-width="1.1" stroke-linecap="round" opacity="1.0" fill="none"/>
<path d="M109.1 497.4h0M106.0 500.4h0M109.1 500.3h0M105.4 500.1h0M105.2 503.9h0M104.7 501.7h0M105.3 503.4h0M104.4 506.2h0M105.6 504.4h0M108.4 502.9h0M106.9 502.5h0M102.1 502.8h0M108.6 501.3h0M107.2 499.0h0M107.0 499.2h0M103.5 503.8h0M109.8 497.4h0M105.4 503.3h0M109.9 499.1h0M107.4 496.6h0M109.1 498.1h0M107.8 502.4h0M104.1 500.5h0M103.2 503.1h0M107.5 496.9h0M108.6 497.1h0M102.0 503.1h0M105.2 503.5h0M104.7 498.8h0M108.4 499.7h0M104.0 504.2h0M104.1 503.0h0M103.7 501.2h0M102.7 501.4h0M103.4 500.8h0M109.8 497.0h0M106.3 497.4h0M105.9 500.8h0M104.5 502.7h0M104.6 503.5h0M106.4 502.6h0M108.6 499.3h0M103.4 503.7h0M101.6 505.0h0M106.9 497.1h0M108.3 500.4h0M107.0 499.2h0M107.6 501.4h0M109.6 497.6h0M108.0 500.6h0M105.3 497.7h0M101.7 504.8h0M108.7 501.2h0M105.0 506.6h0M108.8 501.9h0M106.8 497.0h0M107.6 499.1h0M109.1 496.9h0M106.4 499.4h0M105.0 501.3h0M102.8 501.8h0M107.0 501.7h0M109.9 500.0h0M103.9 504.9h0M105.8 498.3h0M102.5 502.8h0M102.8 503.1h0M107.5 503.0h0M104.3 502.4h0M107.3 496.5h0" stroke="#a82828" stroke-width="1.4" stroke-linecap="round" opacity="1.0" fill="none"/>
<path d="M110.5 497.4h0M110.8 496.7h0M111.6 496.1h0M111.8 495.4h0M112.7 494.8h0M113.5 494.1h0M113.9 493.4h0M114.3 492.8h0M115.3 492.1h0M115.5 491.5h0M116.1 490.8h0M116.8 490.1h0M117.3 489.5h0M118.2 488.8h0M118.6 488.2h0M119.0 487.5h0M119.7 486.8h0M120.6 486.2h0M121.2 485.5h0M121.3 484.9h0" stroke="#8ed2dc" stroke-width="1.1" stroke-linecap="round" opacity="1.0" fill="none"/>
<path d="M102.0 494.5h0M103.0 495.3h0M104.0 496.0h0" stroke="#f070b0" stroke-width="1.2" stroke-linecap="round" opacity="1.0" fill="none"/>
<path d="M37.6 525.5h0M43.1 534.5h0M48.6 513.0h0M46.5 510.2h0M39.2 529.1h0M50.4 525.1h0M44.4 520.7h0M47.0 536.2h0M50.0 535.1h0M50.2 519.4h0M40.6 524.5h0M45.7 529.2h0M50.3 531.6h0M41.9 534.0h0M45.4 513.5h0M47.6 515.1h0M47.8 536.2h0M46.4 515.6h0M54.1 519.8h0M50.9 533.0h0M43.4 516.1h0M40.1 528.8h0M53.5 526.7h0M37.5 525.5h0M52.7 518.6h0M43.9 512.4h0M44.5 524.5h0M53.7 513.8h0M47.9 512.6h0M40.4 527.4h0M45.5 536.5h0M51.4 529.7h0M56.8 524.1h0M46.7 528.5h0M39.8 532.2h0M51.7 514.9h0M42.1 519.3h0M55.3 527.3h0M54.5 525.0h0M49.2 527.5h0M48.6 519.7h0M46.4 521.8h0M44.0 511.5h0M47.0 525.9h0M47.7 530.7h0M42.8 525.5h0M45.6 510.3h0M39.8 520.3h0M55.6 523.6h0M44.3 521.7h0M47.7 514.3h0M42.8 514.5h0M40.3 526.4h0M50.6 527.0h0M48.2 534.2h0M48.2 535.5h0M47.5 523.4h0M47.7 509.9h0M47.1 516.2h0M46.9 510.9h0M46.8 520.5h0M56.0 519.0h0M54.4 526.7h0M51.2 532.7h0M43.9 510.7h0M44.2 536.0h0M46.6 521.4h0M43.7 532.6h0M49.2 523.7h0M55.8 524.8h0M53.7 513.6h0M51.2 521.4h0M45.6 513.2h0M49.9 528.2h0M38.3 523.7h0M40.8 519.0h0M39.8 519.8h0M49.2 537.1h0M41.1 531.7h0M46.9 524.5h0M41.8 514.2h0M45.1 524.7h0M43.7 524.8h0M57.9 523.2h0M46.3 529.5h0M57.9 519.4h0M45.5 518.0h0M55.5 528.1h0M40.9 518.5h0M50.7 533.8h0M51.4 529.0h0M44.5 534.5h0M51.5 527.2h0M44.0 526.3h0M44.8 521.2h0M59.0 522.5h0M41.8 521.6h0M42.7 530.3h0M42.3 530.3h0M48.1 521.7h0M51.0 515.7h0M44.8 513.8h0M40.1 525.0h0M56.4 521.3h0M49.7 527.2h0M50.6 526.9h0M44.6 514.2h0M47.9 517.0h0M48.9 517.2h0M46.6 512.3h0M50.1 518.7h0M47.0 536.4h0M42.5 533.8h0M47.5 519.7h0M46.4 524.6h0M44.8 527.4h0M47.1 526.6h0M40.9 524.7h0M43.2 520.6h0M50.0 521.0h0M43.1 525.4h0M44.8 530.5h0M49.2 534.2h0M50.3 521.9h0M44.8 532.3h0M56.0 523.9h0M53.4 531.4h0M38.7 526.8h0M45.7 525.0h0M56.7 518.0h0M49.0 531.6h0M49.7 525.9h0M39.4 522.2h0M55.2 520.0h0M41.6 531.8h0M53.1 531.0h0M52.3 519.4h0M45.1 536.2h0M43.0 521.7h0M51.2 515.5h0M55.8 521.5h0M46.4 521.8h0M41.1 519.4h0M54.0 519.6h0M45.6 522.0h0M58.2 526.8h0M51.1 530.4h0M51.2 525.9h0M53.5 526.7h0M56.3 524.7h0M44.9 514.7h0M44.3 520.8h0M44.9 525.5h0M51.4 519.5h0M48.2 529.8h0M39.0 529.9h0M45.2 511.8h0M45.8 533.8h0M42.5 529.0h0M45.5 535.9h0M37.8 527.2h0M44.1 530.8h0M49.7 521.9h0M52.3 528.2h0M44.7 526.7h0M47.3 527.7h0M43.7 526.3h0M57.4 522.2h0M56.0 526.3h0M45.0 520.9h0M38.5 532.7h0M49.3 535.1h0M39.7 522.8h0M49.8 535.1h0M55.3 515.6h0M47.5 520.5h0M47.4 511.9h0M58.1 525.8h0M41.0 518.3h0M51.4 533.2h0M45.5 534.2h0M55.4 523.5h0M51.4 522.0h0M39.6 526.9h0M48.4 516.8h0M46.5 527.5h0M43.7 519.7h0M38.2 530.5h0M48.1 521.0h0M45.8 527.7h0M50.7 511.9h0M47.8 536.5h0M44.7 527.5h0M49.2 518.6h0M44.1 522.6h0M52.4 526.2h0M39.6 530.7h0M47.9 511.9h0M46.1 536.9h0M44.3 513.2h0M43.6 513.6h0M43.4 530.1h0M52.0 518.6h0M48.6 532.8h0M40.4 517.7h0M47.2 519.0h0M56.3 528.1h0M49.7 528.9h0M44.0 530.1h0M48.2 527.0h0M47.9 528.9h0M39.3 524.4h0M46.9 535.3h0M43.9 518.4h0M41.0 532.8h0M53.7 516.2h0M53.5 516.9h0M57.6 521.8h0M57.7 524.7h0M40.3 532.1h0M46.8 525.6h0M48.4 525.4h0M58.5 525.1h0M46.2 512.7h0M41.2 515.4h0M48.1 527.2h0M39.9 524.8h0M48.3 524.1h0M47.2 510.0h0M52.6 516.0h0M39.0 526.6h0M42.3 525.3h0M53.6 520.3h0M48.5 531.4h0M45.3 530.9h0M40.6 524.2h0M39.3 525.8h0M41.4 524.6h0M53.5 529.9h0M47.1 528.6h0M49.7 521.4h0M45.2 523.3h0M51.4 519.5h0M48.4 525.5h0M56.2 517.8h0M54.2 521.4h0M47.7 512.4h0M51.6 530.8h0M42.4 531.9h0M53.8 523.1h0M49.7 512.7h0M40.2 520.9h0M49.3 521.7h0M54.0 528.8h0M45.2 526.9h0M42.6 536.1h0M46.3 527.5h0M54.2 530.7h0M44.0 525.0h0M44.7 517.5h0M41.9 523.2h0M40.0 533.7h0M44.0 524.7h0M48.6 534.1h0M46.8 528.2h0M59.4 522.5h0M39.3 530.1h0M43.6 528.5h0M43.9 524.6h0M43.5 526.7h0M42.6 532.3h0M45.4 522.0h0M39.1 524.7h0M41.0 534.7h0M41.2 516.4h0M42.0 530.5h0M49.1 518.6h0M50.5 526.4h0M50.0 517.0h0M55.4 516.4h0M41.5 517.3h0M54.1 517.9h0M46.8 534.9h0M43.2 535.1h0M46.5 523.0h0M39.5 521.3h0M47.7 517.2h0M46.6 523.3h0M51.2 534.2h0M54.4 526.7h0M44.5 512.7h0M42.3 525.5h0M47.2 518.9h0M40.3 531.0h0M43.5 511.7h0M46.4 519.1h0M48.6 517.7h0M56.3 523.6h0M46.3 524.0h0M59.5 522.9h0M51.2 533.2h0M53.2 519.7h0M49.4 532.4h0M50.6 526.0h0M47.4 509.7h0M53.5 515.5h0M38.6 524.4h0M49.7 534.2h0M43.0 530.8h0M41.3 524.2h0M45.9 535.1h0M38.8 529.2h0M54.3 521.6h0M43.8 525.2h0M50.0 516.4h0M41.8 532.5h0M49.1 536.9h0M45.1 520.4h0M53.3 523.2h0M45.4 537.3h0M49.6 529.7h0M48.9 535.1h0M43.2 527.2h0M52.8 532.2h0M53.4 524.1h0M42.1 515.9h0M52.0 533.5h0M42.4 528.6h0M43.8 510.7h0M41.2 521.1h0M41.3 529.8h0M45.0 523.7h0M39.4 521.6h0M45.6 519.9h0M46.9 520.0h0M45.1 529.6h0M50.7 535.4h0M51.0 516.7h0M42.7 528.0h0M52.0 515.5h0M52.1 517.7h0M51.3 525.9h0M56.2 520.5h0M46.9 534.4h0M57.4 525.4h0M47.4 521.1h0M39.6 522.0h0M46.8 510.0h0M50.3 520.5h0M58.1 520.5h0M43.7 514.4h0M59.4 524.8h0M42.8 535.0h0M50.7 520.5h0M50.0 531.7h0M49.2 535.1h0M45.8 524.6h0M48.3 533.8h0M50.6 523.1h0M45.9 537.6h0M47.7 510.5h0M54.2 520.0h0M52.5 513.1h0M41.0 519.5h0M43.0 524.3h0M53.7 526.7h0M47.3 534.3h0M45.5 514.4h0M57.0 524.0h0M39.4 529.5h0M39.0 533.2h0M47.2 526.3h0M54.9 528.5h0M42.3 531.9h0M40.9 525.8h0M42.7 522.9h0M51.3 514.6h0M47.0 535.7h0M44.5 517.6h0M53.5 521.1h0" stroke="#4a80b8" stroke-width="1.4" stroke-linecap="round" opacity="0.95" fill="none"/>
<path d="M53.5 530.5h0M59.0 527.4h0M59.4 529.6h0M58.0 527.2h0M54.9 533.8h0M59.6 527.4h0M60.0 531.4h0M54.8 532.1h0M51.5 538.1h0M57.8 528.4h0M51.9 537.2h0M61.8 532.6h0M60.3 528.8h0M53.2 531.8h0M51.6 535.6h0M59.5 531.4h0M53.3 537.6h0M61.4 531.0h0M62.8 528.1h0M64.1 527.1h0M64.9 530.3h0M56.0 532.3h0M54.7 530.5h0M51.2 535.3h0M55.2 536.5h0M63.4 531.4h0M57.5 533.5h0M60.3 533.4h0M63.6 526.4h0M64.5 526.2h0M51.7 534.2h0M52.5 532.6h0M51.8 534.3h0M53.2 537.7h0M52.3 532.1h0M51.5 534.3h0M50.3 536.8h0M56.6 528.5h0M61.2 526.6h0M61.6 530.3h0M65.0 530.0h0M50.7 535.8h0M60.4 526.1h0M58.5 527.5h0M53.8 536.1h0M65.4 527.1h0M54.8 535.8h0M62.8 527.7h0M54.6 530.6h0M54.7 532.0h0M63.0 527.6h0M61.2 526.1h0M54.7 532.4h0M59.2 528.2h0M58.1 528.9h0M57.2 529.1h0M59.5 533.4h0M57.2 531.4h0M50.5 537.8h0M63.7 530.7h0M66.6 526.0h0M50.7 534.4h0M57.1 530.9h0M57.8 527.9h0M53.9 531.2h0M62.0 529.2h0M57.6 535.1h0M61.7 532.5h0M61.9 529.9h0M58.9 528.5h0M61.5 532.8h0M61.2 527.2h0M55.8 530.5h0M61.5 527.5h0M57.6 533.0h0M61.5 528.9h0M57.4 533.6h0M58.0 530.6h0M65.9 525.7h0M57.9 530.5h0M59.5 533.3h0M51.3 532.6h0M48.7 533.4h0M49.4 535.0h0M54.8 536.7h0M53.3 537.3h0M58.5 529.3h0M54.6 530.1h0M52.7 532.0h0M57.6 530.7h0M54.2 536.6h0M63.7 529.9h0M50.4 532.1h0M51.4 536.2h0M58.7 530.9h0M63.2 528.6h0M59.7 532.4h0M63.6 530.9h0M57.0 531.0h0M54.3 535.7h0M54.0 534.6h0M60.3 528.7h0M66.8 525.8h0M57.2 535.0h0M64.3 530.8h0M50.4 532.7h0M66.3 528.0h0M64.8 529.0h0M51.6 537.3h0M49.0 537.7h0M58.0 532.4h0M50.2 536.0h0M56.6 528.6h0M64.5 527.3h0M59.6 527.3h0M54.9 532.4h0M56.2 533.9h0M62.1 529.5h0M52.0 534.4h0M51.6 531.3h0M66.9 527.0h0M55.9 533.7h0M56.5 529.0h0M56.0 530.2h0M55.5 532.7h0M55.5 533.9h0M54.5 534.3h0M52.6 532.0h0M56.6 528.4h0M52.2 534.2h0M59.8 526.3h0M67.1 526.1h0M60.0 527.1h0M60.3 533.7h0M62.5 526.2h0M55.0 531.5h0M64.7 529.3h0M65.2 528.8h0M61.7 530.3h0M61.5 526.1h0M54.6 537.0h0M58.8 531.2h0M64.0 530.0h0M54.7 532.4h0M64.3 527.6h0M55.0 530.3h0M61.6 531.4h0M60.5 531.8h0M60.4 529.8h0M56.5 536.5h0M52.6 531.1h0M65.6 528.6h0M61.6 531.0h0M61.2 531.8h0M52.5 530.9h0M53.9 531.3h0M49.9 533.3h0M58.6 532.9h0M59.0 534.3h0M55.7 529.6h0M54.0 530.4h0M49.7 538.3h0M59.5 530.9h0M53.0 530.7h0M49.5 534.8h0M49.9 534.6h0M55.2 532.9h0M64.3 527.5h0M61.3 527.6h0M56.0 536.4h0M59.5 529.5h0M61.0 528.9h0M51.9 535.5h0M58.4 530.0h0M54.6 536.2h0M64.9 529.9h0M55.4 530.3h0M53.1 533.4h0M65.6 526.7h0M57.2 536.0h0M54.8 529.6h0M66.1 526.4h0M52.5 536.1h0M60.3 530.4h0M56.7 529.1h0M61.7 532.6h0M52.5 532.9h0M56.2 536.2h0M49.2 534.4h0M49.7 536.0h0M60.1 529.7h0M65.7 528.8h0M67.3 527.3h0M64.6 528.0h0M60.0 533.3h0M50.8 537.4h0M51.9 533.0h0M52.3 537.3h0M61.6 528.9h0M65.2 526.1h0M59.3 531.0h0M52.9 537.7h0M49.2 537.3h0M56.7 529.3h0M62.3 530.0h0M51.3 533.1h0M50.4 535.6h0M53.8 534.7h0M55.5 530.5h0M51.0 536.0h0M57.2 528.1h0M51.2 536.2h0M64.9 526.7h0M59.9 526.8h0M58.8 528.3h0M53.8 533.3h0M53.2 534.3h0M63.8 530.3h0M53.8 537.6h0M61.8 527.5h0M54.6 529.4h0M50.8 531.9h0M65.6 527.7h0M53.6 532.0h0M55.8 533.5h0M66.5 528.6h0M54.2 532.1h0M58.6 530.5h0M49.4 538.4h0M54.8 530.7h0M57.2 535.7h0M49.2 536.8h0M53.6 531.4h0M49.8 537.0h0M65.9 526.3h0M60.8 528.4h0M57.5 532.8h0M60.3 529.1h0M56.3 530.4h0M59.5 534.2h0" stroke="#f08070" stroke-width="1.44" stroke-linecap="round" opacity="0.95" fill="none"/>
<path d="M42.9 511.4h0M42.6 511.2h0M43.9 512.1h0M47.7 513.2h0M46.2 511.9h0M44.9 512.1h0M47.1 513.3h0M44.2 511.7h0M42.7 512.3h0M43.8 513.0h0M44.6 510.9h0M46.2 511.1h0M44.4 513.3h0M42.8 513.4h0M44.8 513.8h0M43.4 510.5h0M43.2 510.7h0M43.3 512.2h0M46.9 510.3h0M45.0 513.9h0M45.3 513.9h0M44.0 513.7h0M44.4 513.5h0M44.8 513.4h0M47.0 509.6h0" stroke="#708090" stroke-width="1.2" stroke-linecap="round" opacity="1.0" fill="none"/>
<path d="M68.0 525.5h0M70.0 524.5h0" stroke="#f08070" stroke-width="1.0" stroke-linecap="round" opacity="1.0" fill="none"/>
<text x="85.4" y="402.5" font-size="9.2" text-anchor="start" fill="#000">EpiSC-like</text>
<text x="17.9" y="460.5" font-size="9.2" text-anchor="start" fill="#000">VSM-enriched</text>
<text x="132.6" y="440.2" font-size="9.2" text-anchor="start" fill="#000">pEryP</text>
<text x="78.3" y="493" font-size="9.2" text-anchor="start" fill="#000">MacP</text>
<text x="121.6" y="491.8" font-size="9.2" text-anchor="start" fill="#000">preHSPC</text>
<text x="108.1" y="510.8" font-size="9.2" text-anchor="start" fill="#000">dHPC</text>
<text x="24.1" y="505.5" font-size="9.2" text-anchor="start" fill="#000">endo type 1</text>
<text x="70.8" y="535.6" font-size="9.2" text-anchor="start" fill="#000">endo type 2</text>
<rect x="12.6" y="393.4" width="161.4" height="151.8" fill="none" stroke="#222" stroke-width="0.9"/>
<text x="183.2" y="388.1" font-size="11.7" text-anchor="start" fill="#000">F_SP HEM</text>
<path d="M227.2 412.3h0M204.7 406.7h0M199.2 407.4h0M209.9 418.7h0M197.6 415.7h0M226.8 412.1h0M227.3 411.9h0M205.3 414.0h0M228.6 403.9h0M214.7 409.1h0M198.7 409.5h0M210.0 401.7h0M218.5 411.0h0M216.9 404.5h0M187.7 410.3h0M197.0 412.7h0M191.1 403.5h0M228.6 411.1h0M217.3 407.6h0M190.2 412.2h0M201.1 403.8h0M220.2 407.0h0M230.3 410.4h0M205.1 415.7h0M212.5 406.5h0M230.0 405.8h0M222.9 403.6h0M194.7 404.8h0M200.3 406.2h0M224.9 412.1h0M194.0 414.9h0M215.7 411.7h0M199.2 416.2h0M212.0 407.8h0M204.9 400.5h0M208.9 409.0h0M203.5 403.8h0M213.0 408.6h0M196.4 404.3h0M219.1 403.5h0M217.5 407.2h0M191.3 404.1h0M219.4 406.2h0M212.1 401.6h0M229.7 408.7h0M223.0 404.2h0M229.3 404.4h0M217.7 417.0h0M215.3 402.1h0M226.1 414.9h0M217.5 411.8h0M189.1 405.7h0M201.7 404.4h0M223.0 402.4h0M198.5 403.3h0M221.6 405.7h0M199.9 403.1h0M214.1 402.1h0M206.0 412.1h0M188.7 408.3h0M218.6 410.8h0M230.6 408.1h0M226.7 405.0h0M205.9 411.4h0M225.1 416.7h0M203.1 417.8h0M203.2 404.4h0M197.8 416.0h0M212.3 407.3h0M195.2 405.1h0M197.9 409.3h0M189.1 410.2h0M213.7 414.2h0M211.4 414.5h0M194.3 415.8h0M196.3 406.6h0M214.0 402.0h0M223.7 415.4h0M219.1 406.3h0M194.9 403.6h0M196.9 412.0h0M197.4 410.7h0M221.5 416.8h0M220.5 406.2h0M219.6 418.0h0M216.3 401.6h0M210.8 409.0h0M187.3 405.5h0M225.4 409.0h0M208.1 410.2h0M194.9 412.4h0M193.2 410.2h0M208.4 413.2h0M218.7 417.5h0M227.1 416.0h0M193.3 408.4h0M218.5 408.0h0M194.3 404.4h0M196.7 407.7h0M220.5 411.5h0M204.8 407.2h0M207.5 406.6h0M226.9 407.5h0M220.5 410.5h0M206.5 411.2h0M222.1 409.0h0M216.7 405.4h0M217.3 404.4h0M199.5 417.7h0M218.1 412.2h0M200.2 410.9h0M200.1 404.2h0M215.8 402.5h0M187.9 412.6h0M202.8 406.5h0M215.3 416.7h0M216.3 402.4h0M221.2 410.4h0M202.6 401.6h0M200.3 408.8h0M206.9 406.6h0M220.2 417.7h0M212.8 408.7h0M223.0 411.7h0M214.5 404.8h0M211.9 413.2h0M192.3 411.2h0M214.0 410.8h0M218.3 417.6h0M224.4 403.0h0M219.2 413.6h0M210.5 408.6h0M203.8 407.2h0M205.0 403.8h0M223.4 411.1h0M230.7 409.7h0M191.1 410.1h0M215.1 417.3h0M205.6 414.5h0M198.0 406.8h0M205.0 411.3h0M198.6 403.1h0M187.8 403.2h0M226.1 416.2h0M200.6 408.6h0M204.9 410.7h0M197.4 400.8h0M211.9 418.3h0M224.3 411.7h0M192.0 407.9h0M209.0 418.8h0M214.8 413.6h0M208.0 414.1h0M229.6 412.8h0M205.2 416.2h0M187.0 404.6h0M214.5 415.7h0M199.2 413.2h0M227.8 415.1h0M209.8 415.2h0M226.3 408.7h0M197.3 406.5h0M203.4 418.2h0M194.8 403.3h0M203.6 408.1h0M221.2 405.0h0M217.8 400.9h0M202.4 406.0h0M193.1 410.0h0M202.4 405.5h0M199.2 414.7h0M203.8 413.0h0M218.4 415.5h0M224.2 413.0h0M209.9 406.4h0M191.3 402.0h0M204.7 416.9h0M229.1 413.0h0M229.0 404.5h0M211.6 406.4h0M211.6 416.8h0M193.9 409.8h0M190.2 402.3h0M202.3 409.6h0M200.0 406.8h0M207.6 402.9h0M220.4 413.9h0M196.1 415.2h0M193.5 402.9h0M194.3 407.9h0M229.0 405.3h0M206.5 410.2h0M225.3 403.9h0M201.8 402.7h0M209.4 406.8h0M213.2 406.8h0M202.8 413.1h0M193.8 408.1h0M205.3 408.9h0M217.8 413.9h0M224.9 403.9h0M218.3 406.3h0M212.2 400.3h0M225.6 407.2h0M216.3 410.6h0M213.1 405.1h0M218.9 403.9h0M227.0 409.0h0M209.4 401.7h0M211.1 402.6h0M191.3 411.9h0M228.0 413.3h0M189.3 410.2h0M229.1 403.9h0M221.9 411.4h0M202.5 402.2h0M227.1 414.0h0M205.4 416.5h0M210.7 413.0h0M199.0 407.0h0M204.0 408.9h0M216.8 405.1h0M213.2 409.0h0M197.0 415.4h0M192.4 411.0h0M198.5 414.7h0M198.5 412.4h0M205.9 411.5h0M211.4 408.5h0M219.9 415.3h0M209.7 414.5h0M220.1 413.4h0M202.0 410.0h0M212.2 401.9h0M210.2 408.4h0M208.7 416.1h0M219.0 411.4h0M208.3 412.9h0M216.1 404.8h0M206.5 403.1h0M229.1 408.3h0M212.4 416.8h0M206.1 407.8h0M189.0 409.0h0M203.2 410.5h0M218.0 410.3h0M198.7 416.6h0M220.2 403.9h0M226.0 408.0h0M190.7 411.0h0M211.5 411.4h0M217.4 406.0h0M192.5 411.1h0M194.6 406.6h0M202.3 409.9h0M192.7 412.1h0M214.9 404.9h0M231.6 408.8h0M205.6 410.8h0M221.5 415.7h0M218.7 417.4h0M212.0 406.1h0M202.1 412.3h0M219.3 412.0h0M189.8 405.3h0M205.0 414.3h0M213.6 413.6h0M229.6 412.8h0M221.0 405.3h0M219.6 416.5h0M217.9 405.5h0M228.8 407.3h0M213.0 407.0h0M207.8 415.9h0M213.7 417.0h0M196.7 415.2h0M217.3 412.2h0M203.3 408.9h0M187.9 403.6h0M229.7 405.6h0M229.2 403.8h0M219.5 408.4h0M214.2 409.1h0M199.9 412.3h0M193.6 405.2h0M190.2 412.3h0M217.4 414.4h0M222.8 411.7h0M195.3 415.6h0M221.4 406.6h0M203.8 406.0h0M219.1 401.7h0M222.2 409.4h0M206.6 408.3h0M204.1 406.8h0M208.1 402.1h0M198.8 410.4h0M207.1 400.8h0M208.4 408.7h0M201.5 401.1h0M207.1 416.8h0M196.4 400.9h0M195.3 408.3h0M212.9 408.4h0M221.8 412.6h0M226.6 404.1h0M195.1 413.7h0M221.2 404.6h0M208.6 411.3h0M217.3 411.4h0M217.0 403.9h0M208.0 408.9h0M191.1 403.5h0M216.0 408.7h0M207.1 417.8h0M226.7 410.6h0M214.5 415.1h0M208.1 401.7h0M199.9 403.7h0M225.7 412.0h0M192.6 407.3h0M199.3 402.7h0M192.3 414.3h0M207.7 405.4h0M222.9 408.6h0M216.0 402.8h0M187.0 405.9h0M205.2 402.2h0M221.5 404.9h0M222.5 411.8h0M223.5 402.1h0M221.7 403.9h0M187.3 404.9h0M228.2 410.9h0M205.7 411.9h0M190.7 409.7h0M206.3 419.0h0M205.5 407.5h0M210.6 414.5h0M194.9 412.5h0M212.8 401.7h0M210.0 411.1h0M209.1 403.9h0M205.4 405.8h0M219.5 403.7h0M192.0 404.8h0M213.7 400.9h0M190.6 406.7h0M198.6 415.9h0M218.0 411.1h0M207.0 403.7h0M203.3 418.2h0M226.2 410.6h0M222.7 410.5h0M225.7 417.7h0M218.7 415.7h0M213.4 402.8h0M198.0 407.5h0M213.2 407.8h0M209.1 406.8h0M214.1 411.5h0M218.2 413.2h0M219.6 405.0h0M226.2 402.9h0M203.4 409.9h0M188.7 413.0h0M196.8 404.1h0M197.8 410.6h0M187.8 411.8h0M222.5 405.5h0M216.3 404.7h0M217.9 406.6h0M191.8 402.1h0M198.7 413.5h0M222.9 403.1h0M225.7 409.0h0M198.1 415.9h0M222.5 408.0h0M203.6 413.3h0M204.1 418.0h0" stroke="#708090" stroke-width="1.36" stroke-linecap="round" opacity="0.95" fill="none"/>
<path d="M211.6 427.0h0M200.1 424.3h0M199.1 423.3h0M192.6 419.0h0M204.9 419.5h0M210.9 427.1h0M195.6 424.3h0M202.5 425.4h0M202.4 430.4h0M196.1 426.4h0M194.1 425.6h0M192.2 420.6h0M202.9 428.9h0M202.8 419.4h0M204.8 430.2h0M206.5 425.2h0M198.6 424.7h0M200.4 419.0h0M207.1 425.4h0M193.9 420.4h0M205.9 425.8h0M211.3 432.1h0M194.0 424.0h0M207.5 424.0h0M200.9 425.5h0M199.9 420.9h0M208.3 424.9h0M204.6 420.0h0M197.0 426.6h0M203.5 430.5h0M197.9 427.2h0M196.6 428.0h0M202.6 424.0h0M196.7 424.8h0M204.8 423.4h0M208.9 431.4h0M201.9 424.5h0M203.5 428.6h0M202.0 422.5h0M197.9 421.4h0M194.7 422.4h0M197.7 428.4h0M204.4 427.7h0M203.4 419.3h0M202.1 423.1h0M202.0 428.2h0M200.9 426.8h0M206.2 427.5h0M203.1 420.4h0M197.8 423.2h0M196.4 422.4h0M199.7 420.6h0M197.3 423.9h0M212.2 428.4h0M207.1 422.9h0M209.1 429.5h0M196.6 421.6h0M200.3 425.8h0M202.6 425.0h0M195.2 427.1h0M211.3 431.2h0M203.1 429.6h0M203.7 428.1h0M191.3 419.3h0M211.0 431.3h0M199.1 428.5h0M200.9 420.7h0M211.3 426.5h0M201.3 419.5h0M211.3 428.0h0" stroke="#708090" stroke-width="1.3" stroke-linecap="round" opacity="0.95" fill="none"/>
<path d="M235.2 448.0h0M226.9 429.5h0M221.2 422.3h0M232.8 427.8h0M234.2 424.0h0M207.8 420.8h0M226.2 439.9h0M239.5 428.9h0M235.0 418.3h0M206.5 442.8h0M221.0 424.1h0M224.5 434.0h0M229.3 431.6h0M217.7 437.8h0M223.9 428.4h0M218.2 445.0h0M219.0 434.6h0M208.9 425.3h0M229.9 450.8h0M223.9 428.5h0M226.2 446.9h0M239.7 416.7h0M207.2 432.3h0M206.1 436.5h0M218.0 416.0h0" stroke="#708090" stroke-width="1.2" stroke-linecap="round" opacity="1.0" fill="none"/>
<path d="M235.8 416.1h0M239.4 416.7h0M246.6 416.7h0M244.7 415.0h0M243.0 413.6h0M245.2 417.2h0M246.5 415.3h0M238.2 413.4h0M238.7 417.4h0M239.4 412.9h0M246.9 414.7h0M242.1 415.0h0M239.0 413.3h0M245.9 418.2h0M241.3 413.1h0M244.7 418.1h0M237.1 417.8h0M246.1 417.6h0M236.7 417.0h0M241.3 415.0h0M239.8 417.7h0M241.5 418.4h0M242.4 413.8h0M241.7 414.6h0M244.6 415.0h0M241.3 417.0h0M237.5 416.0h0M241.2 413.6h0M244.0 413.9h0M243.3 418.8h0M242.3 418.5h0M242.3 415.4h0M240.8 418.1h0M245.3 416.2h0M242.3 414.7h0M236.4 416.2h0M235.9 414.7h0M236.7 413.6h0M247.2 415.7h0M241.2 415.6h0M244.2 415.3h0M242.2 418.3h0M243.1 413.6h0M242.1 413.9h0M242.2 416.7h0" stroke="#d86a28" stroke-width="1.1" stroke-linecap="round" opacity="1.0" fill="none"/>
<path d="M251.0 412.0h0M252.1 411.4h0M253.2 410.9h0M254.3 410.4h0M255.4 409.8h0M256.5 409.2h0M257.6 408.7h0M258.7 408.1h0M259.8 407.6h0" stroke="#d86a28" stroke-width="1.1" stroke-linecap="round" opacity="1.0" fill="none"/>
<path d="M240.2 434.4h0M240.1 435.3h0M240.0 436.2h0M239.4 437.1h0M239.4 438.0h0M239.2 438.9h0M239.4 439.8h0M239.5 440.7h0M239.6 441.6h0" stroke="#b0c4de" stroke-width="1.1" stroke-linecap="round" opacity="1.0" fill="none"/>
<path d="M229.0 452.0h0M230.3 451.2h0" stroke="#e03030" stroke-width="1.0" stroke-linecap="round" opacity="1.0" fill="none"/>
<path d="M295.0 466.9C295.3 465.8 296.2 464.1 297.4 462.2C298.6 460.2 300.8 457.1 302.0 455.2C303.2 453.2 303.2 451.5 304.4 450.5C305.6 449.5 307.2 449.1 309.0 449.3C310.8 449.5 312.9 450.7 314.9 451.7C316.8 452.7 318.8 453.8 320.7 455.2C322.6 456.6 324.9 458.2 326.6 459.9C328.4 461.5 330.2 463.8 331.2 465.1C332.2 466.5 332.4 466.7 332.4 468.0C332.4 469.3 332.0 471.8 331.2 472.7C330.4 473.6 329.1 473.5 327.7 473.3C326.3 473.1 324.6 472.2 323.0 471.5C321.4 470.8 319.9 469.7 318.4 469.2C316.8 468.7 315.6 468.5 313.7 468.6C311.8 468.7 309.0 469.6 306.7 469.8C304.4 470.0 301.5 470.0 299.7 469.8C297.9 469.6 296.4 469.1 295.6 468.6C294.8 468.1 294.7 468.0 295.0 466.9 Z" fill="#e03030"/>
<path d="M300.7 465.6h0M326.0 462.4h0M310.9 453.4h0M302.2 456.6h0M325.7 462.1h0M328.6 473.5h0M329.9 469.3h0M317.7 462.1h0M324.5 460.8h0M320.9 456.1h0M301.6 463.1h0M309.2 457.1h0M316.4 452.0h0M296.3 467.7h0M306.2 464.6h0M313.6 460.8h0M308.3 461.0h0M312.6 450.8h0M325.4 463.5h0M311.1 455.3h0M327.8 460.8h0M333.0 468.2h0M306.2 468.8h0M327.4 468.9h0M308.4 459.8h0M303.8 467.0h0M298.7 468.0h0M316.2 453.6h0M330.8 468.4h0M305.3 462.8h0M296.8 462.0h0M300.6 468.3h0M308.3 457.0h0M301.1 457.4h0M312.5 453.4h0M321.7 461.3h0M321.7 463.8h0M328.4 469.3h0M311.1 454.3h0M330.9 467.6h0M312.4 450.4h0M332.3 468.4h0M308.7 450.4h0M331.6 467.5h0M310.1 457.7h0M307.7 468.3h0M317.1 466.8h0M304.4 460.7h0M311.1 459.5h0M303.9 469.0h0M298.5 462.4h0M307.2 451.1h0M319.1 460.2h0M306.7 454.8h0M300.4 469.2h0M319.3 453.8h0M319.4 463.6h0M294.0 468.1h0M308.8 465.4h0M315.0 462.4h0M311.2 465.5h0M317.3 456.9h0M305.8 449.3h0M312.9 457.2h0M303.5 463.4h0M302.9 463.9h0M319.9 459.4h0M323.5 465.9h0M321.5 460.5h0M319.8 454.0h0M313.5 461.5h0M331.4 465.5h0M299.2 463.1h0M310.0 454.0h0M298.6 462.6h0M321.8 460.5h0M301.7 470.7h0M308.0 459.2h0M301.0 456.9h0M309.2 449.1h0M329.7 465.9h0M316.5 460.9h0M301.8 469.6h0M321.9 461.9h0M303.6 468.9h0M312.0 462.2h0M317.2 459.3h0M330.2 471.4h0M325.1 467.5h0M312.1 454.8h0M310.0 449.8h0M304.1 461.7h0M320.4 466.5h0M329.8 466.9h0M313.4 450.0h0M322.3 460.7h0M309.6 455.2h0M314.8 458.7h0M321.5 458.2h0M315.5 466.4h0M305.7 467.3h0M302.8 461.0h0M315.1 458.1h0M314.6 469.0h0M299.4 458.7h0M317.7 464.0h0M298.2 469.3h0M305.3 453.4h0M312.7 469.2h0M327.8 469.3h0M318.1 465.5h0M313.5 451.3h0M314.1 450.3h0M305.7 457.6h0M331.5 473.9h0M298.9 470.5h0M312.0 467.4h0M313.2 455.0h0M310.0 464.1h0M322.7 470.8h0M312.4 452.6h0M311.6 450.3h0M330.9 473.9h0M312.5 467.7h0M305.8 465.5h0M300.2 459.6h0M312.8 449.9h0M308.8 462.9h0M302.5 464.4h0M302.1 470.2h0M325.6 472.9h0M323.6 459.7h0M302.0 453.5h0M315.3 457.2h0M301.9 466.9h0M302.4 455.3h0M318.7 457.8h0M305.6 469.9h0M295.2 465.7h0M321.9 468.5h0M311.9 462.9h0M312.0 464.4h0M317.0 454.7h0M308.7 468.6h0M313.5 467.8h0M321.8 468.9h0M317.4 466.0h0M328.2 464.1h0M308.1 466.2h0M299.6 469.0h0M296.9 462.2h0M324.4 459.6h0M328.5 467.3h0M305.8 462.0h0M314.8 454.1h0M330.0 473.8h0M302.4 457.8h0M310.4 450.3h0M308.4 449.9h0M303.3 467.2h0M310.3 465.4h0M308.0 459.6h0M323.8 465.6h0M331.8 468.1h0M319.0 465.6h0M325.6 470.7h0M300.1 462.9h0M333.2 467.5h0M330.4 469.2h0M308.1 463.5h0M309.2 461.6h0M317.2 462.0h0M309.4 452.9h0M311.5 463.6h0M298.6 467.3h0M313.0 457.6h0M306.8 465.1h0M302.1 464.9h0M311.7 449.3h0M303.9 449.3h0M300.6 463.3h0M304.3 457.7h0M303.5 452.0h0M304.3 450.6h0M307.6 468.6h0M314.3 453.0h0M313.2 461.1h0M303.3 457.9h0M302.1 462.6h0M305.3 463.2h0M306.2 462.0h0M298.0 465.2h0M308.1 464.4h0M309.7 452.5h0M302.3 463.6h0M306.7 467.2h0M316.4 463.8h0M320.3 458.7h0M311.9 460.1h0M311.8 468.3h0M313.8 469.3h0M326.3 470.7h0M303.1 464.9h0M313.9 467.1h0M300.9 456.5h0M314.1 462.1h0M304.6 451.0h0M328.3 466.4h0M327.0 472.8h0M328.4 461.2h0M307.4 465.0h0M299.8 458.3h0M320.6 460.0h0M328.5 470.6h0M310.1 462.9h0M306.8 452.5h0M324.2 463.8h0M326.9 464.8h0M307.3 469.8h0M315.1 462.0h0M306.8 457.6h0M293.8 467.8h0M322.3 458.4h0M297.8 463.6h0M317.0 461.9h0M325.7 458.9h0M313.1 455.8h0M329.4 469.3h0M316.4 467.0h0M318.2 465.1h0M296.7 469.1h0M303.8 465.5h0M318.8 460.7h0M319.3 457.9h0M304.9 469.1h0M313.1 456.9h0M303.4 451.2h0M304.3 449.0h0M315.3 457.0h0M303.0 465.7h0M327.8 460.1h0M307.0 448.7h0M314.2 452.1h0M307.9 450.3h0M332.1 467.1h0M323.0 462.0h0M325.3 460.8h0M307.9 467.6h0M312.2 465.4h0M319.2 466.8h0M310.1 456.4h0M323.7 461.5h0M303.5 463.1h0M303.7 462.1h0M327.8 466.6h0M320.4 458.5h0M305.9 465.3h0M305.2 451.9h0M300.1 463.6h0M313.2 453.3h0" stroke="#e03030" stroke-width="1.3" stroke-linecap="round" opacity="1.0" fill="none"/>
<path d="M304.4 448.9h0M298.4 449.0h0M303.6 450.4h0M298.4 446.3h0M300.0 448.8h0M299.5 450.8h0M301.9 451.8h0M300.0 451.3h0M299.6 451.3h0M297.8 449.5h0M302.2 448.5h0M296.9 447.9h0M293.3 446.3h0M299.3 448.7h0M292.4 445.9h0M301.7 449.9h0M300.8 447.3h0M299.3 447.4h0M296.6 447.2h0M299.7 451.5h0M300.7 448.0h0M299.4 447.9h0M302.6 452.1h0M298.9 446.6h0M297.6 451.3h0M304.2 448.7h0M302.9 452.3h0M297.5 446.7h0M303.6 448.9h0M294.8 445.0h0M294.4 448.4h0M302.8 450.9h0M293.5 445.1h0M299.7 452.1h0M299.3 447.4h0M300.1 446.9h0M301.2 449.0h0M297.8 445.9h0M293.8 445.3h0M300.2 448.9h0" stroke="#b0c4de" stroke-width="1.2" stroke-linecap="round" opacity="1.0" fill="none"/>
<path d="M331.1 475.0h0M330.1 475.8h0M330.3 476.6h0M330.5 477.4h0M330.8 478.2h0M330.2 479.0h0" stroke="#8ed2dc" stroke-width="1.2" stroke-linecap="round" opacity="1.0" fill="none"/>
<path d="M267.0 505.0C267.0 503.7 267.2 500.5 268.0 499.0C268.8 497.5 270.6 496.6 272.0 496.0C273.4 495.4 275.9 494.7 276.4 495.5C276.9 496.3 275.9 499.3 275.0 501.0C274.1 502.7 272.2 504.6 271.0 505.5C269.8 506.4 268.7 506.7 268.0 506.6C267.3 506.5 267.0 506.3 267.0 505.0 Z" fill="#a82828"/>
<path d="M276.4 496.0h0M277.2 495.3h0M277.5 494.6h0M278.0 494.0h0M278.7 493.3h0M279.5 492.6h0M280.1 491.9h0M281.0 491.2h0M281.1 490.6h0M282.0 489.9h0M282.4 489.2h0M283.1 488.5h0M283.7 487.8h0M284.5 487.2h0M285.1 486.5h0M285.9 485.8h0M286.2 485.1h0M287.0 484.4h0M287.7 483.8h0M288.2 483.1h0" stroke="#8ed2dc" stroke-width="1.6" stroke-linecap="round" opacity="1.0" fill="none"/>
<path d="M280.0 492.0h0M284.5 487.5h0M287.5 484.0h0" stroke="#c03030" stroke-width="1.2" stroke-linecap="round" opacity="1.0" fill="none"/>
<path d="M268.0 494.2h0M269.0 494.8h0" stroke="#f070b0" stroke-width="1.6" stroke-linecap="round" opacity="1.0" fill="none"/>
<path d="M208.0 511.5C209.4 510.8 212.2 510.5 214.0 511.0C215.8 511.5 216.9 513.6 218.5 514.5C220.1 515.4 222.2 515.6 223.5 516.5C224.8 517.4 226.2 518.6 226.5 520.0C226.8 521.4 225.9 523.3 225.0 525.0C224.1 526.7 222.3 528.3 221.0 530.0C219.7 531.7 218.5 533.6 217.0 535.0C215.5 536.4 213.7 537.9 212.0 538.5C210.3 539.1 208.1 539.2 206.6 538.7C205.1 538.2 203.8 537.5 203.1 535.5C202.4 533.5 202.3 529.8 202.3 527.0C202.3 524.2 202.5 521.0 203.0 519.0C203.5 517.0 204.7 516.2 205.5 515.0C206.3 513.8 206.6 512.2 208.0 511.5 Z" fill="#4a80b8"/>
<path d="M221.6 517.9h0M206.2 513.9h0M205.7 524.4h0M216.5 517.0h0M224.5 517.3h0M216.9 528.2h0M203.2 530.6h0M212.8 517.4h0M210.6 523.6h0M211.8 519.8h0M202.1 527.0h0M217.1 523.5h0M215.5 525.9h0M223.4 523.3h0M203.1 522.4h0M205.2 513.9h0M217.0 527.5h0M223.3 522.9h0M202.3 533.0h0M213.7 520.3h0M203.2 535.8h0M217.4 531.8h0M217.8 528.7h0M215.8 525.5h0M214.5 523.3h0M218.5 515.5h0M214.5 534.6h0M224.1 521.2h0M214.1 524.2h0M212.2 535.9h0M207.3 525.2h0M213.5 518.4h0M203.5 532.4h0M214.3 525.2h0M219.2 515.1h0M215.2 532.1h0M219.6 523.0h0M213.8 510.8h0M203.4 528.4h0M220.8 515.5h0M210.1 526.0h0M223.2 518.5h0M221.4 515.1h0M205.0 537.7h0M202.3 528.2h0M225.7 517.3h0M213.1 520.0h0M212.6 511.3h0M224.3 523.2h0M205.9 522.5h0M214.6 514.2h0M217.6 531.7h0M203.5 527.6h0M204.2 529.8h0M218.2 520.7h0M206.3 520.8h0M203.9 529.3h0M208.5 519.6h0M205.7 537.3h0M213.3 533.3h0M222.9 525.1h0M207.9 527.3h0M204.7 523.3h0M209.0 517.6h0M215.9 531.3h0M217.8 534.1h0M206.1 516.1h0M203.5 528.3h0M209.8 525.1h0M206.0 535.5h0M207.6 531.2h0M211.7 523.6h0M212.1 526.6h0M208.8 525.5h0M216.3 513.3h0M212.2 535.1h0M211.9 527.7h0M203.4 520.6h0M226.1 523.9h0M208.4 532.9h0M213.0 522.3h0M207.6 517.8h0M204.7 525.1h0M212.4 524.7h0M211.4 527.8h0M209.3 515.0h0M215.2 519.1h0M202.3 526.9h0M213.1 521.4h0M205.8 535.8h0M206.4 534.5h0M220.1 524.2h0M217.5 520.7h0M211.0 530.0h0M224.1 518.8h0M205.7 524.5h0M219.2 516.5h0M209.0 529.8h0M206.5 514.2h0M218.9 528.1h0M209.1 510.6h0M215.8 525.5h0M214.1 518.9h0M216.1 526.9h0M218.3 513.7h0M214.1 534.1h0M204.9 530.5h0M207.3 532.4h0M215.6 525.8h0M222.8 519.0h0M226.8 520.9h0M213.8 513.1h0M215.4 530.7h0M204.7 530.6h0M217.9 528.6h0M212.3 514.0h0M219.6 530.5h0M205.0 536.5h0M203.3 536.9h0M211.6 510.8h0" stroke="#4a80b8" stroke-width="1.2" stroke-linecap="round" opacity="1.0" fill="none"/>
<path d="M226.3 532.4h0M213.5 527.3h0M218.0 522.4h0M222.0 532.2h0M217.6 526.7h0M222.9 524.9h0M225.8 533.6h0M219.9 526.5h0M218.7 530.3h0M220.9 522.9h0M216.1 534.9h0M221.0 529.4h0M219.8 531.3h0M224.9 530.0h0M216.7 536.2h0M213.9 535.0h0M218.5 533.4h0M215.4 536.5h0M220.8 531.1h0M222.5 522.9h0M221.6 530.8h0M214.5 532.3h0M221.5 535.5h0M217.0 531.2h0M219.3 526.0h0M215.3 529.2h0M215.3 525.5h0M220.6 523.0h0M214.1 533.2h0M219.3 536.1h0M226.9 532.4h0M228.3 525.7h0M222.2 535.4h0M225.3 526.1h0M224.8 534.2h0M224.4 526.3h0M213.9 529.5h0M221.7 527.2h0M218.2 525.2h0M225.0 531.0h0M228.7 526.4h0M220.2 522.4h0M214.2 536.5h0M222.7 527.4h0M220.5 528.4h0M217.2 527.4h0M220.4 524.6h0M215.4 536.9h0M217.5 530.4h0M220.6 535.1h0M221.8 527.1h0M223.6 533.7h0M224.2 523.6h0M216.2 528.0h0M215.0 525.3h0M217.1 537.0h0M214.0 529.0h0M227.6 526.0h0M225.1 528.3h0M217.6 526.0h0M215.5 524.4h0M215.6 523.8h0M214.5 532.6h0M226.7 530.5h0M217.7 526.5h0M217.1 531.0h0M226.8 528.5h0M223.0 522.7h0M223.1 527.2h0M227.3 531.4h0M227.1 525.8h0M217.4 525.9h0M219.3 530.8h0M224.5 532.3h0M218.0 534.2h0M228.6 526.5h0M219.0 528.4h0M221.0 528.0h0M214.2 537.4h0M216.9 527.4h0M214.0 530.0h0M222.1 534.1h0M215.8 528.9h0M221.0 529.5h0M226.4 531.9h0M214.3 530.5h0M213.7 525.0h0M214.9 533.5h0M224.9 534.1h0M214.3 528.9h0M229.9 527.0h0M216.0 531.3h0M219.1 530.8h0M223.3 534.1h0M222.1 528.8h0M216.2 525.8h0M226.6 532.9h0M215.5 536.2h0M219.4 528.2h0M226.2 529.8h0M224.6 523.7h0M218.1 530.7h0M224.1 523.9h0M219.9 524.0h0M216.5 536.7h0M228.6 526.7h0M216.0 533.9h0M220.2 526.6h0M214.7 531.8h0M214.3 532.2h0M214.2 531.1h0M223.4 534.6h0M219.9 524.2h0M224.9 530.2h0M217.1 529.8h0M225.9 529.8h0M220.7 527.2h0M217.9 528.0h0M219.1 533.4h0M225.8 526.4h0M223.6 534.2h0M217.5 528.3h0M217.1 530.2h0M221.7 531.6h0M216.5 528.3h0M228.3 525.9h0M214.2 537.0h0M217.6 524.0h0M223.6 526.5h0M223.4 533.7h0M215.9 537.5h0M221.3 524.4h0M224.7 530.3h0M218.0 536.5h0M213.1 526.7h0M223.9 524.5h0M215.4 525.1h0M219.9 529.1h0M221.5 523.3h0M224.4 532.2h0M217.0 526.3h0M217.8 523.8h0M216.1 533.5h0M223.2 533.6h0M214.5 527.5h0M219.4 527.3h0M214.5 526.0h0M224.0 526.3h0M225.6 527.4h0M226.9 531.1h0" stroke="#f08070" stroke-width="1.2" stroke-linecap="round" opacity="0.95" fill="none"/>
<path d="M208.0 511.0h0M208.8 512.5h0M210.4 513.7h0M208.9 513.6h0M208.6 512.6h0M209.9 513.1h0M210.0 513.1h0M208.4 513.8h0M210.1 513.7h0M208.5 511.7h0M208.7 513.7h0M209.3 512.8h0M210.5 511.6h0M209.3 512.1h0M208.6 512.2h0M209.6 510.4h0M209.5 511.6h0M208.2 513.0h0M210.5 513.0h0M210.4 510.8h0" stroke="#708090" stroke-width="1.2" stroke-linecap="round" opacity="1.0" fill="none"/>
<rect x="178.4" y="393.4" width="161.1" height="151.8" fill="none" stroke="#222" stroke-width="0.9"/>
<rect x="381.7" y="378.9916506101477" width="26.4" height="1.9267822736031235" fill="#8ed2dc" stroke="none" stroke-width="0"/>
<rect x="381.7" y="380.9184328837508" width="26.4" height="13.808606294155425" fill="#e03030" stroke="none" stroke-width="0"/>
<rect x="381.7" y="394.72703917790625" width="26.4" height="2.8901734104046" fill="#a82828" stroke="none" stroke-width="0"/>
<rect x="381.7" y="397.61721258831085" width="26.4" height="9.312780989081602" fill="#4a80b8" stroke="none" stroke-width="0"/>
<rect x="381.7" y="406.92999357739245" width="26.4" height="9.955041746949234" fill="#f08070" stroke="none" stroke-width="0"/>
<rect x="381.7" y="416.8850353243417" width="26.4" height="123.63519588953119" fill="#708090" stroke="none" stroke-width="0"/>
<rect x="381.7" y="540.5202312138729" width="26.4" height="5.4592164418753555" fill="#d86a28" stroke="none" stroke-width="0"/>
<rect x="381.7" y="545.9794476557482" width="26.4" height="1.6056518946692222" fill="#b0c4de" stroke="none" stroke-width="0"/>
<rect x="411.3" y="378.9916506101477" width="26" height="4.174694926140035" fill="#8ed2dc" stroke="none" stroke-width="0"/>
<rect x="411.3" y="383.16634553628774" width="26" height="78.03468208092488" fill="#e03030" stroke="none" stroke-width="0"/>
<rect x="411.3" y="461.2010276172126" width="26" height="1.9267822736030666" fill="#f070b0" stroke="none" stroke-width="0"/>
<rect x="411.3" y="463.1278098908157" width="26" height="5.780346820809257" fill="#a82828" stroke="none" stroke-width="0"/>
<rect x="411.3" y="468.90815671162494" width="26" height="47.527296082209375" fill="#4a80b8" stroke="none" stroke-width="0"/>
<rect x="411.3" y="516.4354527938343" width="26" height="5.138086062941511" fill="#f08070" stroke="none" stroke-width="0"/>
<rect x="411.3" y="521.5735388567758" width="26" height="18.625561978163205" fill="#708090" stroke="none" stroke-width="0"/>
<rect x="411.3" y="540.199100834939" width="26" height="2.5690430314707555" fill="#d86a28" stroke="none" stroke-width="0"/>
<rect x="411.3" y="542.7681438664098" width="26" height="5.4592164418753555" fill="#b0c4de" stroke="none" stroke-width="0"/>
<text x="379" y="381.0" font-size="4.5" text-anchor="end" fill="#333">100%</text>
<text x="379" y="423.0" font-size="4.5" text-anchor="end" fill="#333">75%</text>
<text x="379" y="465.0" font-size="4.5" text-anchor="end" fill="#333">50%</text>
<text x="379" y="507.0" font-size="4.5" text-anchor="end" fill="#333">25%</text>
<text x="379" y="549.0" font-size="4.5" text-anchor="end" fill="#333">0%</text>
<text x="363.5" y="463" font-size="11.5" text-anchor="middle" fill="#000" transform="rotate(-90 363.5 463)">Proportion [%]</text>
<circle cx="449.2" cy="382.8" r="6.4" fill="#8ed2dc" stroke="none" stroke-width="0.5"/>
<text x="460.4" y="386.5" font-size="10.5" text-anchor="start" fill="#000">dHPC</text>
<circle cx="449.2" cy="402.1" r="6.4" fill="#e03030" stroke="none" stroke-width="0.5"/>
<text x="460.4" y="405.8" font-size="10.5" text-anchor="start" fill="#000">pEryP</text>
<circle cx="449.2" cy="422.0" r="6.4" fill="#f070b0" stroke="none" stroke-width="0.5"/>
<text x="460.4" y="425.7" font-size="10.5" text-anchor="start" fill="#000">MacP</text>
<circle cx="449.2" cy="441.3" r="6.4" fill="#a82828" stroke="none" stroke-width="0.5"/>
<text x="460.4" y="445.0" font-size="10.5" text-anchor="start" fill="#000">preHSPC</text>
<circle cx="449.2" cy="461.8" r="6.4" fill="#4a80b8" stroke="none" stroke-width="0.5"/>
<text x="460.4" y="465.5" font-size="10.5" text-anchor="start" fill="#000">endo type 1</text>
<circle cx="449.2" cy="482.4" r="6.4" fill="#f08070" stroke="none" stroke-width="0.5"/>
<text x="460.4" y="486.09999999999997" font-size="10.5" text-anchor="start" fill="#000">endo type 2</text>
<circle cx="449.2" cy="502.3" r="6.4" fill="#708090" stroke="none" stroke-width="0.5"/>
<text x="460.4" y="506.0" font-size="10.5" text-anchor="start" fill="#000">VSM-enriched</text>
<circle cx="449.2" cy="521.6" r="6.4" fill="#d86a28" stroke="none" stroke-width="0.5"/>
<text x="460.4" y="525.3000000000001" font-size="10.5" text-anchor="start" fill="#000">EpiSC-like</text>
<circle cx="449.2" cy="542.4" r="6.4" fill="#b0c4de" stroke="none" stroke-width="0.5"/>
<text x="460.4" y="546.1" font-size="10.5" text-anchor="start" fill="#000">undefined</text>
<text x="0.2" y="577.8" font-size="14" text-anchor="start" fill="#000">g</text>
<text x="101.4" y="581.4" font-size="6.7" text-anchor="end" fill="#333">dHPC</text>
<circle cx="111.5" cy="579.0" r="3.55" fill="#6a4aab" stroke="#3a3550" stroke-width="0.45"/>
<circle cx="125.7" cy="579.0" r="0.8" fill="#55507a" stroke="none" stroke-width="0.5"/>
<circle cx="139.9" cy="579.0" r="0.8" fill="#55507a" stroke="none" stroke-width="0.5"/>
<circle cx="154.1" cy="579.0" r="0.8" fill="#55507a" stroke="none" stroke-width="0.5"/>
<circle cx="168.3" cy="579.0" r="1.55" fill="#c8b8e4" stroke="#3a3550" stroke-width="0.45"/>
<circle cx="182.6" cy="579.0" r="1.55" fill="#9a80cc" stroke="#3a3550" stroke-width="0.45"/>
<circle cx="196.8" cy="579.0" r="1.55" fill="#f0ecf8" stroke="#3a3550" stroke-width="0.45"/>
<circle cx="211.0" cy="579.0" r="2.6" fill="#9a80cc" stroke="#3a3550" stroke-width="0.45"/>
<circle cx="225.2" cy="579.0" r="1.55" fill="#f0ecf8" stroke="#3a3550" stroke-width="0.45"/>
<circle cx="239.4" cy="579.0" r="3.55" fill="#6a4aab" stroke="#3a3550" stroke-width="0.45"/>
<circle cx="253.6" cy="579.0" r="3.55" fill="#6a4aab" stroke="#3a3550" stroke-width="0.45"/>
<circle cx="267.8" cy="579.0" r="1.55" fill="#c8b8e4" stroke="#3a3550" stroke-width="0.45"/>
<circle cx="282.0" cy="579.0" r="0.8" fill="#55507a" stroke="none" stroke-width="0.5"/>
<circle cx="296.2" cy="579.0" r="0.8" fill="#55507a" stroke="none" stroke-width="0.5"/>
<circle cx="310.4" cy="579.0" r="0.8" fill="#55507a" stroke="none" stroke-width="0.5"/>
<circle cx="324.6" cy="579.0" r="3.55" fill="#6a4aab" stroke="#3a3550" stroke-width="0.45"/>
<circle cx="338.9" cy="579.0" r="1.55" fill="#9a80cc" stroke="#3a3550" stroke-width="0.45"/>
<circle cx="353.1" cy="579.0" r="0.8" fill="#55507a" stroke="none" stroke-width="0.5"/>
<circle cx="367.3" cy="579.0" r="0.8" fill="#55507a" stroke="none" stroke-width="0.5"/>
<circle cx="381.5" cy="579.0" r="0.8" fill="#55507a" stroke="none" stroke-width="0.5"/>
<circle cx="395.7" cy="579.0" r="0.8" fill="#55507a" stroke="none" stroke-width="0.5"/>
<circle cx="409.9" cy="579.0" r="0.8" fill="#55507a" stroke="none" stroke-width="0.5"/>
<circle cx="424.1" cy="579.0" r="1.55" fill="#c8b8e4" stroke="#3a3550" stroke-width="0.45"/>
<text x="101.4" y="600.4" font-size="6.7" text-anchor="end" fill="#333">pEryP</text>
<circle cx="111.5" cy="598.0" r="0.8" fill="#55507a" stroke="none" stroke-width="0.5"/>
<circle cx="125.7" cy="598.0" r="0.8" fill="#55507a" stroke="none" stroke-width="0.5"/>
<circle cx="139.9" cy="598.0" r="0.8" fill="#55507a" stroke="none" stroke-width="0.5"/>
<circle cx="154.1" cy="598.0" r="0.8" fill="#55507a" stroke="none" stroke-width="0.5"/>
<circle cx="168.3" cy="598.0" r="1.55" fill="#c8b8e4" stroke="#3a3550" stroke-width="0.45"/>
<circle cx="182.6" cy="598.0" r="0.8" fill="#55507a" stroke="none" stroke-width="0.5"/>
<circle cx="196.8" cy="598.0" r="0.8" fill="#55507a" stroke="none" stroke-width="0.5"/>
<circle cx="211.0" cy="598.0" r="2.6" fill="#9a80cc" stroke="#3a3550" stroke-width="0.45"/>
<circle cx="225.2" cy="598.0" r="0.8" fill="#55507a" stroke="none" stroke-width="0.5"/>
<circle cx="239.4" cy="598.0" r="1.55" fill="#c8b8e4" stroke="#3a3550" stroke-width="0.45"/>
<circle cx="253.6" cy="598.0" r="1.55" fill="#c8b8e4" stroke="#3a3550" stroke-width="0.45"/>
<circle cx="267.8" cy="598.0" r="1.55" fill="#c8b8e4" stroke="#3a3550" stroke-width="0.45"/>
<circle cx="282.0" cy="598.0" r="0.8" fill="#55507a" stroke="none" stroke-width="0.5"/>
<circle cx="296.2" cy="598.0" r="0.8" fill="#55507a" stroke="none" stroke-width="0.5"/>
<circle cx="310.4" cy="598.0" r="0.8" fill="#55507a" stroke="none" stroke-width="0.5"/>
<circle cx="324.6" cy="598.0" r="3.55" fill="#2e2378" stroke="#3a3550" stroke-width="0.45"/>
<circle cx="338.9" cy="598.0" r="1.55" fill="#c8b8e4" stroke="#3a3550" stroke-width="0.45"/>
<circle cx="353.1" cy="598.0" r="0.8" fill="#55507a" stroke="none" stroke-width="0.5"/>
<circle cx="367.3" cy="598.0" r="0.8" fill="#55507a" stroke="none" stroke-width="0.5"/>
<circle cx="381.5" cy="598.0" r="0.8" fill="#55507a" stroke="none" stroke-width="0.5"/>
<circle cx="395.7" cy="598.0" r="0.8" fill="#55507a" stroke="none" stroke-width="0.5"/>
<circle cx="409.9" cy="598.0" r="0.8" fill="#55507a" stroke="none" stroke-width="0.5"/>
<circle cx="424.1" cy="598.0" r="0.8" fill="#55507a" stroke="none" stroke-width="0.5"/>
<text x="101.4" y="619.1999999999999" font-size="6.7" text-anchor="end" fill="#333">MacP</text>
<circle cx="111.5" cy="616.8" r="2.6" fill="#9a80cc" stroke="#3a3550" stroke-width="0.45"/>
<circle cx="125.7" cy="616.8" r="3.55" fill="#2e2378" stroke="#3a3550" stroke-width="0.45"/>
<circle cx="139.9" cy="616.8" r="3.55" fill="#6a4aab" stroke="#3a3550" stroke-width="0.45"/>
<circle cx="154.1" cy="616.8" r="1.55" fill="#f0ecf8" stroke="#3a3550" stroke-width="0.45"/>
<circle cx="168.3" cy="616.8" r="2.6" fill="#9a80cc" stroke="#3a3550" stroke-width="0.45"/>
<circle cx="182.6" cy="616.8" r="1.55" fill="#c8b8e4" stroke="#3a3550" stroke-width="0.45"/>
<circle cx="196.8" cy="616.8" r="2.6" fill="#c8b8e4" stroke="#3a3550" stroke-width="0.45"/>
<circle cx="211.0" cy="616.8" r="2.6" fill="#9a80cc" stroke="#3a3550" stroke-width="0.45"/>
<circle cx="225.2" cy="616.8" r="3.55" fill="#6a4aab" stroke="#3a3550" stroke-width="0.45"/>
<circle cx="239.4" cy="616.8" r="2.6" fill="#9a80cc" stroke="#3a3550" stroke-width="0.45"/>
<circle cx="253.6" cy="616.8" r="3.55" fill="#6a4aab" stroke="#3a3550" stroke-width="0.45"/>
<circle cx="267.8" cy="616.8" r="3.55" fill="#6a4aab" stroke="#3a3550" stroke-width="0.45"/>
<circle cx="282.0" cy="616.8" r="3.55" fill="#6a4aab" stroke="#3a3550" stroke-width="0.45"/>
<circle cx="296.2" cy="616.8" r="1.55" fill="#c8b8e4" stroke="#3a3550" stroke-width="0.45"/>
<circle cx="310.4" cy="616.8" r="2.6" fill="#f0ecf8" stroke="#3a3550" stroke-width="0.45"/>
<circle cx="324.6" cy="616.8" r="0.8" fill="#55507a" stroke="none" stroke-width="0.5"/>
<circle cx="338.9" cy="616.8" r="1.55" fill="#c8b8e4" stroke="#3a3550" stroke-width="0.45"/>
<circle cx="353.1" cy="616.8" r="0.8" fill="#55507a" stroke="none" stroke-width="0.5"/>
<circle cx="367.3" cy="616.8" r="3.55" fill="#6a4aab" stroke="#3a3550" stroke-width="0.45"/>
<circle cx="381.5" cy="616.8" r="0.8" fill="#55507a" stroke="none" stroke-width="0.5"/>
<circle cx="395.7" cy="616.8" r="1.55" fill="#c8b8e4" stroke="#3a3550" stroke-width="0.45"/>
<circle cx="409.9" cy="616.8" r="1.55" fill="#c8b8e4" stroke="#3a3550" stroke-width="0.45"/>
<circle cx="424.1" cy="616.8" r="3.55" fill="#6a4aab" stroke="#3a3550" stroke-width="0.45"/>
<text x="101.4" y="638.3" font-size="6.7" text-anchor="end" fill="#333">preHSPC</text>
<circle cx="111.5" cy="635.9" r="3.55" fill="#2e2378" stroke="#3a3550" stroke-width="0.45"/>
<circle cx="125.7" cy="635.9" r="0.8" fill="#55507a" stroke="none" stroke-width="0.5"/>
<circle cx="139.9" cy="635.9" r="0.8" fill="#55507a" stroke="none" stroke-width="0.5"/>
<circle cx="154.1" cy="635.9" r="0.8" fill="#55507a" stroke="none" stroke-width="0.5"/>
<circle cx="168.3" cy="635.9" r="1.55" fill="#c8b8e4" stroke="#3a3550" stroke-width="0.45"/>
<circle cx="182.6" cy="635.9" r="3.55" fill="#9a80cc" stroke="#3a3550" stroke-width="0.45"/>
<circle cx="196.8" cy="635.9" r="2.6" fill="#9a80cc" stroke="#3a3550" stroke-width="0.45"/>
<circle cx="211.0" cy="635.9" r="1.55" fill="#c8b8e4" stroke="#3a3550" stroke-width="0.45"/>
<circle cx="225.2" cy="635.9" r="3.55" fill="#6a4aab" stroke="#3a3550" stroke-width="0.45"/>
<circle cx="239.4" cy="635.9" r="3.55" fill="#6a4aab" stroke="#3a3550" stroke-width="0.45"/>
<circle cx="253.6" cy="635.9" r="3.55" fill="#6a4aab" stroke="#3a3550" stroke-width="0.45"/>
<circle cx="267.8" cy="635.9" r="2.6" fill="#9a80cc" stroke="#3a3550" stroke-width="0.45"/>
<circle cx="282.0" cy="635.9" r="0.8" fill="#55507a" stroke="none" stroke-width="0.5"/>
<circle cx="296.2" cy="635.9" r="0.8" fill="#55507a" stroke="none" stroke-width="0.5"/>
<circle cx="310.4" cy="635.9" r="0.8" fill="#55507a" stroke="none" stroke-width="0.5"/>
<circle cx="324.6" cy="635.9" r="2.6" fill="#9a80cc" stroke="#3a3550" stroke-width="0.45"/>
<circle cx="338.9" cy="635.9" r="1.55" fill="#c8b8e4" stroke="#3a3550" stroke-width="0.45"/>
<circle cx="353.1" cy="635.9" r="0.8" fill="#55507a" stroke="none" stroke-width="0.5"/>
<circle cx="367.3" cy="635.9" r="0.8" fill="#55507a" stroke="none" stroke-width="0.5"/>
<circle cx="381.5" cy="635.9" r="0.8" fill="#55507a" stroke="none" stroke-width="0.5"/>
<circle cx="395.7" cy="635.9" r="0.8" fill="#55507a" stroke="none" stroke-width="0.5"/>
<circle cx="409.9" cy="635.9" r="0.8" fill="#55507a" stroke="none" stroke-width="0.5"/>
<circle cx="424.1" cy="635.9" r="2.6" fill="#9a80cc" stroke="#3a3550" stroke-width="0.45"/>
<text x="101.4" y="657.1" font-size="6.7" text-anchor="end" fill="#333">endo type 1</text>
<circle cx="111.5" cy="654.7" r="1.55" fill="#f0ecf8" stroke="#3a3550" stroke-width="0.45"/>
<circle cx="125.7" cy="654.7" r="0.8" fill="#55507a" stroke="none" stroke-width="0.5"/>
<circle cx="139.9" cy="654.7" r="0.8" fill="#55507a" stroke="none" stroke-width="0.5"/>
<circle cx="154.1" cy="654.7" r="1.55" fill="#c8b8e4" stroke="#3a3550" stroke-width="0.45"/>
<circle cx="168.3" cy="654.7" r="2.6" fill="#c8b8e4" stroke="#3a3550" stroke-width="0.45"/>
<circle cx="182.6" cy="654.7" r="3.55" fill="#2e2378" stroke="#3a3550" stroke-width="0.45"/>
<circle cx="196.8" cy="654.7" r="3.55" fill="#6a4aab" stroke="#3a3550" stroke-width="0.45"/>
<circle cx="211.0" cy="654.7" r="3.55" fill="#6a4aab" stroke="#3a3550" stroke-width="0.45"/>
<circle cx="225.2" cy="654.7" r="3.55" fill="#2e2378" stroke="#3a3550" stroke-width="0.45"/>
<circle cx="239.4" cy="654.7" r="1.55" fill="#f0ecf8" stroke="#3a3550" stroke-width="0.45"/>
<circle cx="253.6" cy="654.7" r="3.55" fill="#6a4aab" stroke="#3a3550" stroke-width="0.45"/>
<circle cx="267.8" cy="654.7" r="3.55" fill="#6a4aab" stroke="#3a3550" stroke-width="0.45"/>
<circle cx="282.0" cy="654.7" r="0.8" fill="#55507a" stroke="none" stroke-width="0.5"/>
<circle cx="296.2" cy="654.7" r="0.8" fill="#55507a" stroke="none" stroke-width="0.5"/>
<circle cx="310.4" cy="654.7" r="0.8" fill="#55507a" stroke="none" stroke-width="0.5"/>
<circle cx="324.6" cy="654.7" r="1.55" fill="#c8b8e4" stroke="#3a3550" stroke-width="0.45"/>
<circle cx="338.9" cy="654.7" r="2.6" fill="#9a80cc" stroke="#3a3550" stroke-width="0.45"/>
<circle cx="353.1" cy="654.7" r="2.6" fill="#c8b8e4" stroke="#3a3550" stroke-width="0.45"/>
<circle cx="367.3" cy="654.7" r="0.8" fill="#55507a" stroke="none" stroke-width="0.5"/>
<circle cx="381.5" cy="654.7" r="0.8" fill="#55507a" stroke="none" stroke-width="0.5"/>
<circle cx="395.7" cy="654.7" r="2.6" fill="#9a80cc" stroke="#3a3550" stroke-width="0.45"/>
<circle cx="409.9" cy="654.7" r="3.55" fill="#6a4aab" stroke="#3a3550" stroke-width="0.45"/>
<circle cx="424.1" cy="654.7" r="3.55" fill="#6a4aab" stroke="#3a3550" stroke-width="0.45"/>
<text x="101.4" y="676.1999999999999" font-size="6.7" text-anchor="end" fill="#333">endo type 2</text>
<circle cx="111.5" cy="673.8" r="3.55" fill="#6a4aab" stroke="#3a3550" stroke-width="0.45"/>
<circle cx="125.7" cy="673.8" r="0.8" fill="#55507a" stroke="none" stroke-width="0.5"/>
<circle cx="139.9" cy="673.8" r="0.8" fill="#55507a" stroke="none" stroke-width="0.5"/>
<circle cx="154.1" cy="673.8" r="1.55" fill="#c8b8e4" stroke="#3a3550" stroke-width="0.45"/>
<circle cx="168.3" cy="673.8" r="2.6" fill="#c8b8e4" stroke="#3a3550" stroke-width="0.45"/>
<circle cx="182.6" cy="673.8" r="3.55" fill="#2e2378" stroke="#3a3550" stroke-width="0.45"/>
<circle cx="196.8" cy="673.8" r="3.55" fill="#2e2378" stroke="#3a3550" stroke-width="0.45"/>
<circle cx="211.0" cy="673.8" r="3.55" fill="#6a4aab" stroke="#3a3550" stroke-width="0.45"/>
<circle cx="225.2" cy="673.8" r="3.55" fill="#2e2378" stroke="#3a3550" stroke-width="0.45"/>
<circle cx="239.4" cy="673.8" r="1.55" fill="#f0ecf8" stroke="#3a3550" stroke-width="0.45"/>
<circle cx="253.6" cy="673.8" r="3.55" fill="#6a4aab" stroke="#3a3550" stroke-width="0.45"/>
<circle cx="267.8" cy="673.8" r="3.55" fill="#6a4aab" stroke="#3a3550" stroke-width="0.45"/>
<circle cx="282.0" cy="673.8" r="0.8" fill="#55507a" stroke="none" stroke-width="0.5"/>
<circle cx="296.2" cy="673.8" r="0.8" fill="#55507a" stroke="none" stroke-width="0.5"/>
<circle cx="310.4" cy="673.8" r="0.8" fill="#55507a" stroke="none" stroke-width="0.5"/>
<circle cx="324.6" cy="673.8" r="1.55" fill="#c8b8e4" stroke="#3a3550" stroke-width="0.45"/>
<circle cx="338.9" cy="673.8" r="1.55" fill="#c8b8e4" stroke="#3a3550" stroke-width="0.45"/>
<circle cx="353.1" cy="673.8" r="3.55" fill="#9a80cc" stroke="#3a3550" stroke-width="0.45"/>
<circle cx="367.3" cy="673.8" r="0.8" fill="#55507a" stroke="none" stroke-width="0.5"/>
<circle cx="381.5" cy="673.8" r="0.8" fill="#55507a" stroke="none" stroke-width="0.5"/>
<circle cx="395.7" cy="673.8" r="1.55" fill="#c8b8e4" stroke="#3a3550" stroke-width="0.45"/>
<circle cx="409.9" cy="673.8" r="2.6" fill="#9a80cc" stroke="#3a3550" stroke-width="0.45"/>
<circle cx="424.1" cy="673.8" r="3.55" fill="#6a4aab" stroke="#3a3550" stroke-width="0.45"/>
<text x="101.4" y="695.0" font-size="6.7" text-anchor="end" fill="#333">VSM-enriched</text>
<circle cx="111.5" cy="692.6" r="1.55" fill="#f0ecf8" stroke="#3a3550" stroke-width="0.45"/>
<circle cx="125.7" cy="692.6" r="0.8" fill="#55507a" stroke="none" stroke-width="0.5"/>
<circle cx="139.9" cy="692.6" r="0.8" fill="#55507a" stroke="none" stroke-width="0.5"/>
<circle cx="154.1" cy="692.6" r="3.55" fill="#9a80cc" stroke="#3a3550" stroke-width="0.45"/>
<circle cx="168.3" cy="692.6" r="3.55" fill="#9a80cc" stroke="#3a3550" stroke-width="0.45"/>
<circle cx="182.6" cy="692.6" r="3.55" fill="#6a4aab" stroke="#3a3550" stroke-width="0.45"/>
<circle cx="196.8" cy="692.6" r="1.55" fill="#f0ecf8" stroke="#3a3550" stroke-width="0.45"/>
<circle cx="211.0" cy="692.6" r="2.6" fill="#9a80cc" stroke="#3a3550" stroke-width="0.45"/>
<circle cx="225.2" cy="692.6" r="1.55" fill="#c8b8e4" stroke="#3a3550" stroke-width="0.45"/>
<circle cx="239.4" cy="692.6" r="0.8" fill="#55507a" stroke="none" stroke-width="0.5"/>
<circle cx="253.6" cy="692.6" r="3.55" fill="#6a4aab" stroke="#3a3550" stroke-width="0.45"/>
<circle cx="267.8" cy="692.6" r="3.55" fill="#6a4aab" stroke="#3a3550" stroke-width="0.45"/>
<circle cx="282.0" cy="692.6" r="0.8" fill="#55507a" stroke="none" stroke-width="0.5"/>
<circle cx="296.2" cy="692.6" r="2.6" fill="#9a80cc" stroke="#3a3550" stroke-width="0.45"/>
<circle cx="310.4" cy="692.6" r="2.6" fill="#c8b8e4" stroke="#3a3550" stroke-width="0.45"/>
<circle cx="324.6" cy="692.6" r="1.55" fill="#c8b8e4" stroke="#3a3550" stroke-width="0.45"/>
<circle cx="338.9" cy="692.6" r="2.6" fill="#9a80cc" stroke="#3a3550" stroke-width="0.45"/>
<circle cx="353.1" cy="692.6" r="1.55" fill="#c8b8e4" stroke="#3a3550" stroke-width="0.45"/>
<circle cx="367.3" cy="692.6" r="1.55" fill="#c8b8e4" stroke="#3a3550" stroke-width="0.45"/>
<circle cx="381.5" cy="692.6" r="1.55" fill="#c8b8e4" stroke="#3a3550" stroke-width="0.45"/>
<circle cx="395.7" cy="692.6" r="1.55" fill="#c8b8e4" stroke="#3a3550" stroke-width="0.45"/>
<circle cx="409.9" cy="692.6" r="1.55" fill="#c8b8e4" stroke="#3a3550" stroke-width="0.45"/>
<circle cx="424.1" cy="692.6" r="0.8" fill="#55507a" stroke="none" stroke-width="0.5"/>
<text x="101.4" y="713.8" font-size="6.7" text-anchor="end" fill="#333">EpiSC-like</text>
<circle cx="111.5" cy="711.4" r="1.55" fill="#f0ecf8" stroke="#3a3550" stroke-width="0.45"/>
<circle cx="125.7" cy="711.4" r="0.8" fill="#55507a" stroke="none" stroke-width="0.5"/>
<circle cx="139.9" cy="711.4" r="0.8" fill="#55507a" stroke="none" stroke-width="0.5"/>
<circle cx="154.1" cy="711.4" r="2.6" fill="#9a80cc" stroke="#3a3550" stroke-width="0.45"/>
<circle cx="168.3" cy="711.4" r="1.55" fill="#c8b8e4" stroke="#3a3550" stroke-width="0.45"/>
<circle cx="182.6" cy="711.4" r="1.55" fill="#c8b8e4" stroke="#3a3550" stroke-width="0.45"/>
<circle cx="196.8" cy="711.4" r="0.8" fill="#55507a" stroke="none" stroke-width="0.5"/>
<circle cx="211.0" cy="711.4" r="1.55" fill="#c8b8e4" stroke="#3a3550" stroke-width="0.45"/>
<circle cx="225.2" cy="711.4" r="0.8" fill="#55507a" stroke="none" stroke-width="0.5"/>
<circle cx="239.4" cy="711.4" r="0.8" fill="#55507a" stroke="none" stroke-width="0.5"/>
<circle cx="253.6" cy="711.4" r="3.55" fill="#6a4aab" stroke="#3a3550" stroke-width="0.45"/>
<circle cx="267.8" cy="711.4" r="1.55" fill="#f0ecf8" stroke="#3a3550" stroke-width="0.45"/>
<circle cx="282.0" cy="711.4" r="0.8" fill="#55507a" stroke="none" stroke-width="0.5"/>
<circle cx="296.2" cy="711.4" r="1.55" fill="#f0ecf8" stroke="#3a3550" stroke-width="0.45"/>
<circle cx="310.4" cy="711.4" r="1.55" fill="#c8b8e4" stroke="#3a3550" stroke-width="0.45"/>
<circle cx="324.6" cy="711.4" r="2.6" fill="#9a80cc" stroke="#3a3550" stroke-width="0.45"/>
<circle cx="338.9" cy="711.4" r="3.55" fill="#9a80cc" stroke="#3a3550" stroke-width="0.45"/>
<circle cx="353.1" cy="711.4" r="0.8" fill="#55507a" stroke="none" stroke-width="0.5"/>
<circle cx="367.3" cy="711.4" r="0.8" fill="#55507a" stroke="none" stroke-width="0.5"/>
<circle cx="381.5" cy="711.4" r="3.55" fill="#6a4aab" stroke="#3a3550" stroke-width="0.45"/>
<circle cx="395.7" cy="711.4" r="0.8" fill="#55507a" stroke="none" stroke-width="0.5"/>
<circle cx="409.9" cy="711.4" r="1.55" fill="#f0ecf8" stroke="#3a3550" stroke-width="0.45"/>
<circle cx="424.1" cy="711.4" r="0.8" fill="#55507a" stroke="none" stroke-width="0.5"/>
<text x="101.4" y="732.6999999999999" font-size="6.7" text-anchor="end" fill="#333">undefined</text>
<circle cx="111.5" cy="730.3" r="0.8" fill="#55507a" stroke="none" stroke-width="0.5"/>
<circle cx="125.7" cy="730.3" r="0.8" fill="#55507a" stroke="none" stroke-width="0.5"/>
<circle cx="139.9" cy="730.3" r="0.8" fill="#55507a" stroke="none" stroke-width="0.5"/>
<circle cx="154.1" cy="730.3" r="1.55" fill="#c8b8e4" stroke="#3a3550" stroke-width="0.45"/>
<circle cx="168.3" cy="730.3" r="1.55" fill="#c8b8e4" stroke="#3a3550" stroke-width="0.45"/>
<circle cx="182.6" cy="730.3" r="1.55" fill="#c8b8e4" stroke="#3a3550" stroke-width="0.45"/>
<circle cx="196.8" cy="730.3" r="0.8" fill="#55507a" stroke="none" stroke-width="0.5"/>
<circle cx="211.0" cy="730.3" r="2.6" fill="#f0ecf8" stroke="#3a3550" stroke-width="0.45"/>
<circle cx="225.2" cy="730.3" r="1.55" fill="#c8b8e4" stroke="#3a3550" stroke-width="0.45"/>
<circle cx="239.4" cy="730.3" r="1.55" fill="#f0ecf8" stroke="#3a3550" stroke-width="0.45"/>
<circle cx="253.6" cy="730.3" r="1.55" fill="#f0ecf8" stroke="#3a3550" stroke-width="0.45"/>
<circle cx="267.8" cy="730.3" r="0.8" fill="#55507a" stroke="none" stroke-width="0.5"/>
<circle cx="282.0" cy="730.3" r="0.8" fill="#55507a" stroke="none" stroke-width="0.5"/>
<circle cx="296.2" cy="730.3" r="0.8" fill="#55507a" stroke="none" stroke-width="0.5"/>
<circle cx="310.4" cy="730.3" r="0.8" fill="#55507a" stroke="none" stroke-width="0.5"/>
<circle cx="324.6" cy="730.3" r="2.6" fill="#9a80cc" stroke="#3a3550" stroke-width="0.45"/>
<circle cx="338.9" cy="730.3" r="1.55" fill="#f0ecf8" stroke="#3a3550" stroke-width="0.45"/>
<circle cx="353.1" cy="730.3" r="0.8" fill="#55507a" stroke="none" stroke-width="0.5"/>
<circle cx="367.3" cy="730.3" r="0.8" fill="#55507a" stroke="none" stroke-width="0.5"/>
<circle cx="381.5" cy="730.3" r="1.55" fill="#f0ecf8" stroke="#3a3550" stroke-width="0.45"/>
<circle cx="395.7" cy="730.3" r="0.8" fill="#55507a" stroke="none" stroke-width="0.5"/>
<circle cx="409.9" cy="730.3" r="0.8" fill="#55507a" stroke="none" stroke-width="0.5"/>
<circle cx="424.1" cy="730.3" r="0.8" fill="#55507a" stroke="none" stroke-width="0.5"/>
<text x="115.0" y="748" font-size="6.6" text-anchor="end" fill="#333" transform="rotate(-43 115.0 748)">CD117</text>
<text x="129.21" y="748" font-size="6.6" text-anchor="end" fill="#333" transform="rotate(-43 129.21 748)">CD11b</text>
<text x="143.42000000000002" y="748" font-size="6.6" text-anchor="end" fill="#333" transform="rotate(-43 143.42000000000002 748)">CD11c</text>
<text x="157.63" y="748" font-size="6.6" text-anchor="end" fill="#333" transform="rotate(-43 157.63 748)">CD14</text>
<text x="171.84" y="748" font-size="6.6" text-anchor="end" fill="#333" transform="rotate(-43 171.84 748)">CD16_32</text>
<text x="186.05" y="748" font-size="6.6" text-anchor="end" fill="#333" transform="rotate(-43 186.05 748)">CD202b</text>
<text x="200.26" y="748" font-size="6.6" text-anchor="end" fill="#333" transform="rotate(-43 200.26 748)">CD309</text>
<text x="214.47" y="748" font-size="6.6" text-anchor="end" fill="#333" transform="rotate(-43 214.47 748)">CD31</text>
<text x="228.68" y="748" font-size="6.6" text-anchor="end" fill="#333" transform="rotate(-43 228.68 748)">CD34</text>
<text x="242.89000000000001" y="748" font-size="6.6" text-anchor="end" fill="#333" transform="rotate(-43 242.89000000000001 748)">CD41</text>
<text x="257.1" y="748" font-size="6.6" text-anchor="end" fill="#333" transform="rotate(-43 257.1 748)">CD43</text>
<text x="271.31" y="748" font-size="6.6" text-anchor="end" fill="#333" transform="rotate(-43 271.31 748)">CD44</text>
<text x="285.52" y="748" font-size="6.6" text-anchor="end" fill="#333" transform="rotate(-43 285.52 748)">CD45</text>
<text x="299.73" y="748" font-size="6.6" text-anchor="end" fill="#333" transform="rotate(-43 299.73 748)">CD47</text>
<text x="313.94" y="748" font-size="6.6" text-anchor="end" fill="#333" transform="rotate(-43 313.94 748)">CD64</text>
<text x="328.15" y="748" font-size="6.6" text-anchor="end" fill="#333" transform="rotate(-43 328.15 748)">CD71</text>
<text x="342.36" y="748" font-size="6.6" text-anchor="end" fill="#333" transform="rotate(-43 342.36 748)">CD9</text>
<text x="356.57000000000005" y="748" font-size="6.6" text-anchor="end" fill="#333" transform="rotate(-43 356.57000000000005 748)">CD93</text>
<text x="370.78000000000003" y="748" font-size="6.6" text-anchor="end" fill="#333" transform="rotate(-43 370.78000000000003 748)">CX3CR1</text>
<text x="384.99" y="748" font-size="6.6" text-anchor="end" fill="#333" transform="rotate(-43 384.99 748)">Epcam</text>
<text x="399.20000000000005" y="748" font-size="6.6" text-anchor="end" fill="#333" transform="rotate(-43 399.20000000000005 748)">Ly6C</text>
<text x="413.41" y="748" font-size="6.6" text-anchor="end" fill="#333" transform="rotate(-43 413.41 748)">Sca1</text>
<text x="427.62" y="748" font-size="6.6" text-anchor="end" fill="#333" transform="rotate(-43 427.62 748)">VE_Cadherin</text>
<text x="440.8" y="605" font-size="7.8" text-anchor="start" fill="#222">Median expression</text>
<defs><linearGradient id="gr" x1="0" y1="0" x2="0" y2="1"><stop offset="0" stop-color="#2a2378"/><stop offset="0.5" stop-color="#8a6cc0"/><stop offset="1" stop-color="#f4f0fa"/></linearGradient></defs>
<rect x="441" y="608.6" width="9.2" height="44" fill="url(#gr)" stroke="none" stroke-width="0"/>
<text x="452.7" y="611.8000000000001" font-size="6.2" text-anchor="start" fill="#222">0.8</text>
<line x1="441" y1="609.6" x2="443" y2="609.6" stroke="#fff" stroke-width="0.6"/>
<line x1="448.2" y1="609.6" x2="450.2" y2="609.6" stroke="#fff" stroke-width="0.6"/>
<text x="452.7" y="623.7" font-size="6.2" text-anchor="start" fill="#222">0.6</text>
<line x1="441" y1="621.5" x2="443" y2="621.5" stroke="#fff" stroke-width="0.6"/>
<line x1="448.2" y1="621.5" x2="450.2" y2="621.5" stroke="#fff" stroke-width="0.6"/>
<text x="452.7" y="635.7" font-size="6.2" text-anchor="start" fill="#222">0.4</text>
<line x1="441" y1="633.5" x2="443" y2="633.5" stroke="#fff" stroke-width="0.6"/>
<line x1="448.2" y1="633.5" x2="450.2" y2="633.5" stroke="#fff" stroke-width="0.6"/>
<text x="452.7" y="647.6" font-size="6.2" text-anchor="start" fill="#222">0.2</text>
<line x1="441" y1="645.4" x2="443" y2="645.4" stroke="#fff" stroke-width="0.6"/>
<line x1="448.2" y1="645.4" x2="450.2" y2="645.4" stroke="#fff" stroke-width="0.6"/>
<text x="440.8" y="671.4" font-size="7.8" text-anchor="start" fill="#222">% of cells expressing</text>
<circle cx="445.5" cy="679.7" r="0.6" fill="#666" stroke="#333" stroke-width="0.6"/>
<text x="452.7" y="681.9000000000001" font-size="6.2" text-anchor="start" fill="#222">0</text>
<circle cx="445.5" cy="688.7" r="2.2" fill="#fff" stroke="#333" stroke-width="0.6"/>
<text x="452.7" y="690.9000000000001" font-size="6.2" text-anchor="start" fill="#222">25</text>
<circle cx="445.5" cy="697.5" r="2.7" fill="#fff" stroke="#333" stroke-width="0.6"/>
<text x="452.7" y="699.7" font-size="6.2" text-anchor="start" fill="#222">50</text>
<circle cx="445.5" cy="706.5" r="3.2" fill="#fff" stroke="#333" stroke-width="0.6"/>
<text x="452.7" y="708.7" font-size="6.2" text-anchor="start" fill="#222">75</text>
<text x="-0.5" y="774.8" font-size="14" text-anchor="start" fill="#000">h</text>
<line x1="25.3" y1="789.4" x2="25.3" y2="946.3" stroke="#444" stroke-width="1"/>
<line x1="25.3" y1="946.3" x2="168" y2="946.3" stroke="#444" stroke-width="1.2"/>
<path d="M151.1 796.2C151.7 795.9 153.2 800.8 154.2 803.4C155.1 805.9 156.3 809.2 156.7 811.6C157.1 814.0 157.1 815.9 156.7 817.7C156.4 819.5 155.5 820.6 154.7 822.3C153.9 824.0 152.8 826.2 151.9 827.9C151.0 829.7 150.4 831.6 149.5 832.8C148.5 834.0 146.5 835.8 146.2 835.3C145.9 834.8 147.1 831.8 147.8 830.0C148.5 828.1 150.1 826.0 150.5 824.3C150.9 822.6 150.4 821.9 150.3 819.7C150.2 817.6 149.8 814.0 149.9 811.6C149.9 809.2 150.3 808.0 150.5 805.4C150.7 802.9 150.5 796.6 151.1 796.2 Z" fill="#e8502a"/>
<path d="M149.7 832.5C149.8 833.2 147.6 837.0 146.8 839.2C146.1 841.3 145.8 843.4 145.2 845.3C144.5 847.2 143.9 849.0 142.9 850.4C141.9 851.8 140.2 852.7 139.0 853.5C137.8 854.2 136.7 855.2 135.8 854.9C134.9 854.6 133.3 852.6 133.7 851.4C134.1 850.3 136.8 849.4 138.0 848.0C139.2 846.7 140.1 845.1 141.1 843.5C142.0 841.8 142.9 839.8 143.7 838.3C144.6 836.9 145.0 835.8 146.0 834.9C147.0 833.9 149.5 831.8 149.7 832.5 Z" fill="#f08a80"/>
<path d="M136.8 854.7C136.3 855.6 133.4 855.9 130.7 856.9C127.9 858.0 123.8 859.9 120.4 861.1C117.0 862.4 113.6 863.4 110.2 864.3C106.8 865.2 105.1 865.8 100.0 866.4C94.9 867.1 85.5 867.9 79.6 868.3C73.6 868.7 67.0 869.0 64.2 868.8C61.4 868.5 60.1 867.3 62.7 866.7C65.3 866.2 73.3 866.1 79.6 865.5C85.8 865.0 94.9 864.2 100.0 863.4C105.1 862.6 106.8 861.8 110.2 860.8C113.6 859.8 117.0 858.6 120.4 857.3C123.8 856.1 128.4 854.3 130.7 853.3C132.9 852.2 132.7 851.0 133.7 851.2C134.7 851.5 137.3 853.7 136.8 854.7 Z" fill="#c41e30"/>
<path d="M122.8 859.3h0M128.8 856.1h0M134.5 855.0h0M128.7 855.5h0M131.8 853.9h0M132.3 853.3h0M128.4 856.1h0M131.8 853.9h0M129.5 856.6h0M122.7 857.8h0M126.5 856.0h0M122.5 859.8h0M131.9 855.0h0M121.6 859.8h0M133.5 853.4h0M135.1 853.8h0M132.0 855.6h0M131.6 854.5h0M129.3 856.7h0M135.1 853.8h0M134.8 854.7h0M130.4 856.6h0M129.2 855.6h0M125.6 858.4h0M127.0 857.4h0M133.0 854.1h0M132.3 853.7h0M127.5 856.8h0M123.7 858.8h0M123.0 858.8h0" stroke="#e05060" stroke-width="0.8" stroke-linecap="round" opacity="0.8" fill="none"/>
<path d="M60.4 865.5C57.0 866.0 51.5 868.3 48.8 870.1C46.0 871.9 44.6 874.0 44.1 876.3C43.6 878.6 44.0 882.0 45.5 883.9C47.1 885.7 49.7 886.7 53.1 887.5C56.6 888.4 62.1 888.6 66.3 889.0C70.4 889.4 75.0 890.4 78.0 890.0C80.9 889.6 83.8 887.9 83.8 886.5C83.8 885.1 80.4 882.6 78.0 881.4C75.5 880.2 70.9 880.8 69.2 879.2C67.5 877.6 67.7 873.9 67.7 871.9C67.7 869.9 70.4 868.0 69.2 866.9C68.0 865.9 63.8 864.9 60.4 865.5 Z" fill="#c9a696"/>
<path d="M52.4 871.9C54.4 870.9 59.6 869.9 61.9 870.1C64.2 870.4 65.4 871.8 66.3 873.4C67.1 874.9 65.9 878.1 67.0 879.2C68.1 880.3 72.4 879.2 72.8 879.9C73.3 880.6 72.2 882.6 69.9 883.3C67.6 883.9 62.0 884.2 59.0 883.9C55.9 883.6 53.1 882.7 51.7 881.4C50.2 880.1 50.1 877.9 50.2 876.3C50.3 874.7 50.5 872.9 52.4 871.9 Z" fill="#ecdcd4"/>
<path d="M65.0 880.0h0M70.3 879.7h0M71.6 879.9h0M58.7 881.0h0M55.8 881.4h0M70.1 880.1h0M60.6 881.1h0M61.0 882.5h0M65.8 877.0h0M61.7 874.5h0M60.7 880.8h0M59.4 876.6h0M61.9 881.6h0M67.7 882.2h0M55.9 877.8h0M57.4 876.1h0M65.9 876.6h0M58.4 872.4h0M62.0 877.1h0M65.1 877.2h0M58.6 879.1h0M64.3 879.8h0M66.0 878.2h0M57.8 871.1h0M52.9 872.0h0M61.1 879.0h0M62.4 879.4h0M58.2 872.7h0M63.5 881.5h0M58.7 872.3h0M65.1 875.6h0M60.1 882.4h0M55.0 881.3h0M71.0 881.6h0M52.0 874.6h0M52.3 874.1h0M60.8 875.8h0M66.3 877.3h0M62.3 881.9h0M65.5 877.6h0M58.9 880.4h0M55.6 875.7h0M56.9 881.6h0M57.8 877.7h0M59.3 871.2h0M59.2 870.8h0M65.8 879.1h0M60.4 876.4h0M62.1 871.6h0M65.6 873.2h0M58.5 875.0h0M66.7 878.3h0M69.3 881.5h0M66.2 873.4h0M52.1 874.7h0M60.5 883.5h0M55.7 879.5h0M60.0 871.3h0M52.8 872.0h0M51.2 878.5h0M55.0 874.2h0M54.1 881.7h0M51.9 875.2h0M64.2 881.4h0M63.6 876.9h0M57.3 879.8h0M66.7 881.3h0M60.3 880.6h0M59.1 872.3h0M58.2 883.1h0M70.3 882.9h0M60.6 879.5h0M66.3 882.7h0M60.5 880.1h0M57.0 880.0h0M50.6 875.7h0M61.1 876.8h0M68.6 879.9h0M62.2 880.3h0M54.9 876.7h0M60.8 874.7h0M60.9 871.8h0M63.1 879.0h0M62.5 880.9h0M60.4 875.2h0M57.9 882.9h0M58.9 872.7h0M65.0 883.4h0M65.7 877.7h0M61.9 875.4h0M61.6 879.9h0M57.7 873.0h0M63.0 879.5h0M54.4 878.0h0M60.8 872.0h0M53.3 880.7h0M63.6 876.1h0M62.2 874.6h0M62.1 872.3h0M56.0 872.4h0M61.9 878.6h0M63.2 874.4h0M64.7 876.1h0M53.3 876.1h0M57.2 881.5h0M66.9 883.2h0M61.1 880.6h0M66.8 879.8h0M56.8 871.3h0M54.4 873.7h0M55.7 876.9h0M65.8 877.2h0M56.2 882.6h0M59.8 880.5h0M61.5 870.8h0M58.5 881.9h0M70.8 882.2h0M51.6 880.8h0M69.3 882.1h0M61.6 872.1h0M50.8 878.1h0M64.5 882.2h0M61.5 880.3h0M56.7 876.8h0M62.5 871.4h0M59.3 880.7h0M53.2 873.4h0M64.1 873.0h0M68.4 880.8h0M71.6 880.3h0M66.6 877.9h0M60.4 870.5h0M71.7 880.7h0M59.7 879.0h0M63.5 873.8h0M52.4 873.8h0M55.9 879.0h0M58.3 874.2h0M59.5 879.4h0M71.2 880.7h0" stroke="#fff" stroke-width="0.9" stroke-linecap="round" opacity="0.95" fill="none"/>
<path d="M64.8 877.0h0M61.3 867.3h0M56.2 886.4h0M64.4 868.4h0M65.6 878.2h0M65.0 871.6h0M53.4 877.3h0M66.2 887.5h0M74.9 881.8h0M54.0 868.8h0M73.8 883.2h0M46.1 874.7h0M52.1 881.5h0M53.9 880.6h0M51.8 884.4h0M49.9 883.6h0M62.9 880.5h0M67.3 880.4h0M78.7 889.3h0M82.4 887.3h0M69.8 879.9h0M48.3 874.6h0M52.3 871.3h0M62.4 874.7h0M47.2 874.2h0M69.8 881.0h0M59.6 880.9h0M60.4 888.3h0M58.7 869.5h0M71.9 887.0h0M59.4 885.2h0M48.7 872.3h0M63.0 867.7h0M53.6 884.3h0M57.1 882.5h0M61.3 874.8h0M64.9 876.8h0M64.7 882.5h0M58.8 869.8h0M56.7 881.8h0M53.5 873.8h0M48.5 875.5h0M59.3 871.8h0M58.0 876.4h0M67.3 868.1h0M55.7 874.1h0M63.7 878.1h0M75.5 882.5h0M68.3 882.5h0M78.4 885.1h0M68.4 867.0h0M59.7 876.1h0M65.3 878.5h0M74.9 886.6h0M50.4 882.8h0M61.5 886.4h0M61.7 870.0h0M72.5 881.9h0M48.6 884.2h0M64.7 866.5h0M48.2 876.3h0M61.0 868.8h0M67.1 871.5h0M54.1 883.8h0M50.1 876.4h0M69.9 880.6h0M63.9 870.4h0M75.0 887.0h0M53.2 874.3h0M47.2 880.2h0M71.1 880.1h0M69.2 884.0h0M74.7 888.9h0M45.6 880.0h0M52.1 885.5h0M76.5 884.3h0M78.1 886.0h0M59.7 871.5h0M67.8 877.3h0M55.0 868.9h0M79.6 888.7h0M47.4 881.3h0M68.6 884.3h0M73.4 880.6h0M70.8 886.8h0M65.7 881.9h0M61.5 871.3h0M63.0 885.7h0M62.8 868.4h0M53.6 883.1h0M62.1 877.0h0M51.8 875.3h0M55.1 870.8h0M53.7 885.7h0M60.0 875.8h0M58.3 869.2h0M53.1 887.1h0M75.4 887.4h0M66.6 872.5h0M58.9 877.5h0M58.1 883.9h0M53.1 878.4h0M47.1 883.3h0M56.6 872.9h0M67.7 871.2h0M56.1 876.3h0M68.5 881.9h0M46.6 874.8h0M60.0 887.3h0M76.7 882.9h0M65.5 882.0h0M49.0 877.8h0M56.3 877.8h0M67.9 869.5h0M73.7 883.9h0M64.7 884.1h0M57.0 867.7h0M66.1 869.8h0M69.3 880.2h0M46.3 879.8h0M62.6 870.7h0M81.6 885.6h0M62.5 885.8h0M52.2 880.7h0M68.8 867.3h0M60.9 879.6h0M80.2 886.2h0M51.1 880.6h0M57.6 878.7h0M59.1 876.7h0M48.4 873.2h0M65.6 875.3h0M64.4 871.8h0M63.3 887.6h0M48.6 877.8h0M67.8 886.2h0M64.4 868.8h0M58.8 879.9h0M61.6 873.6h0M63.7 867.0h0" stroke="#fff" stroke-width="0.7" stroke-linecap="round" opacity="0.9" fill="none"/>
<path d="M66.3 866.5 C66 870 67.5 872 67 875 L68.5 875 C68.5 872 67.8 869 68 866.5 Z" fill="#c41e30"/>
<path d="M80.9 883.9C82.6 883.1 85.5 883.1 89.6 883.3C93.8 883.5 100.8 884.7 105.7 885.0C110.6 885.3 115.8 884.3 118.8 885.0C121.9 885.8 122.2 887.7 123.9 889.4C125.7 891.2 130.2 894.3 129.3 895.5C128.5 896.8 122.3 896.5 118.8 897.0C115.4 897.5 110.8 897.5 108.6 898.5C106.4 899.4 106.4 900.9 105.7 902.6C105.0 904.2 104.6 906.2 104.2 908.4C103.9 910.6 104.1 915.7 103.5 915.7C102.9 915.7 101.9 910.6 100.6 908.4C99.2 906.2 98.3 904.5 95.5 902.6C92.7 900.6 87.0 898.4 83.8 896.7C80.6 895.0 77.2 893.8 76.5 892.3C75.8 890.9 78.7 889.4 79.4 888.0C80.1 886.5 79.2 884.6 80.9 883.9 Z" fill="#f7b98a"/>
<path d="M104.7 893.8h0M104.4 895.4h0M109.6 889.3h0M110.1 892.4h0M92.6 897.9h0M88.3 895.2h0M120.0 894.3h0M100.4 890.9h0M102.5 890.1h0M87.5 888.1h0M95.4 892.9h0M102.7 904.7h0M86.0 895.9h0M95.8 893.1h0M93.4 893.4h0M106.2 890.4h0M86.0 889.1h0M93.8 888.7h0M94.5 896.3h0M109.7 886.0h0M98.9 889.9h0M101.4 907.1h0M97.0 894.5h0M82.7 887.4h0M103.6 890.7h0M118.2 890.3h0M92.7 900.7h0M104.3 895.4h0M117.0 894.3h0M102.0 886.3h0M109.0 889.5h0M102.8 898.4h0M111.9 893.9h0M82.4 889.6h0M106.7 889.2h0M120.1 890.0h0M94.0 896.3h0M90.5 888.5h0M106.7 895.3h0M119.9 893.4h0M82.1 884.6h0M88.1 884.4h0M112.7 885.5h0M120.1 892.4h0M104.8 890.5h0M102.3 911.4h0M109.2 896.4h0M96.6 885.1h0M87.6 885.4h0M106.1 900.3h0M87.0 889.2h0M81.9 894.5h0M115.1 885.3h0M99.9 902.8h0M81.3 886.8h0M100.0 889.8h0M122.7 895.9h0M113.5 886.4h0M87.8 890.2h0M98.4 900.9h0M112.5 888.5h0M110.3 886.9h0M98.6 889.3h0M119.5 892.7h0M112.4 895.7h0M87.5 888.3h0M122.5 895.9h0M117.4 890.8h0M82.3 895.5h0M84.6 896.1h0M128.0 894.5h0M124.8 891.3h0M117.4 885.3h0M90.0 894.6h0M108.0 894.5h0M111.4 886.9h0M81.3 885.3h0M89.0 894.6h0M92.4 888.8h0M85.7 895.4h0M92.4 897.8h0M99.5 894.1h0M126.0 894.4h0M113.3 896.6h0M88.0 884.5h0M111.4 898.0h0M100.8 898.3h0M121.1 889.3h0M95.9 896.0h0M97.7 891.2h0M101.0 902.3h0M97.3 896.2h0M103.8 899.0h0M113.9 892.5h0M95.5 891.6h0M95.8 886.7h0M124.0 891.4h0M119.1 891.7h0M121.8 893.9h0M105.7 899.7h0M88.4 892.9h0M114.9 893.4h0M102.8 901.6h0M102.1 906.7h0M81.1 891.7h0M85.3 893.2h0M89.3 893.4h0M127.2 893.9h0M118.2 894.4h0M93.9 893.9h0M85.9 897.5h0M93.6 900.6h0M92.7 884.2h0M77.8 890.8h0M124.4 893.0h0M124.1 891.1h0M118.4 887.2h0M105.7 890.7h0M101.1 886.3h0M120.5 893.1h0M83.1 892.8h0M109.5 885.7h0M114.4 885.4h0M120.0 892.2h0M114.8 887.0h0M96.4 888.2h0M98.7 888.7h0M101.7 906.1h0M99.0 895.1h0M95.9 884.8h0M99.0 898.8h0M91.3 898.6h0M109.6 898.1h0M85.8 891.9h0M94.6 891.8h0M122.8 889.8h0M126.9 893.5h0M106.1 894.0h0M98.4 887.2h0M106.5 899.4h0M106.0 886.9h0M112.8 892.7h0M104.3 897.4h0M87.0 888.5h0M88.3 893.3h0M99.9 899.8h0M98.0 903.1h0M95.8 891.4h0M86.6 894.0h0M118.6 887.6h0M102.1 905.4h0M89.4 895.2h0M89.9 886.2h0M103.1 886.8h0M93.6 891.8h0M87.1 885.6h0M126.1 892.7h0M114.1 894.3h0M101.1 902.4h0M114.5 893.4h0M83.7 892.5h0M119.2 887.0h0M91.5 889.5h0M85.8 889.3h0M107.4 886.3h0M103.1 886.0h0M109.7 894.3h0M86.6 897.3h0M91.0 889.5h0M106.9 886.0h0M114.9 885.3h0M116.5 888.8h0M102.5 899.5h0M105.5 900.9h0M102.0 909.4h0M109.2 889.9h0M103.5 915.5h0M93.8 885.3h0M91.3 894.3h0M95.6 900.2h0M120.7 892.7h0M95.0 891.6h0M95.2 891.3h0M90.1 886.7h0M109.5 885.8h0M88.1 885.3h0M92.2 894.5h0M114.5 893.8h0M119.1 885.7h0M92.8 896.4h0M127.5 894.8h0M102.1 904.3h0M88.9 885.0h0M90.9 891.3h0M119.1 886.5h0M84.8 890.6h0M94.8 884.3h0M91.6 886.0h0M101.8 902.1h0M85.6 897.4h0M79.6 893.3h0M88.0 897.7h0M91.8 883.7h0M110.3 897.4h0M110.6 888.2h0M110.7 893.7h0M98.2 901.7h0M107.0 888.3h0M97.2 885.7h0M91.7 883.9h0M101.0 887.2h0M114.9 892.7h0M117.4 892.6h0M91.4 891.9h0M82.6 891.3h0M108.4 892.2h0M89.5 892.9h0M111.5 886.5h0M103.0 887.5h0M104.8 892.0h0M103.2 906.2h0M90.6 895.9h0M104.9 886.0h0M95.3 894.6h0M107.6 897.6h0M126.0 892.7h0M98.0 897.8h0M102.6 900.4h0M120.7 888.5h0M125.5 893.4h0M94.3 900.0h0M93.4 895.1h0M96.6 897.1h0M81.4 890.8h0M96.3 897.5h0M91.6 886.9h0M99.5 887.6h0M98.2 886.5h0M87.0 892.5h0M101.2 899.5h0M91.5 895.2h0M84.3 889.3h0M109.4 893.3h0M96.0 885.2h0M126.6 895.5h0M102.6 895.8h0M86.4 885.0h0M104.5 888.8h0M100.9 903.2h0M117.6 894.2h0M121.8 893.1h0M98.1 890.4h0M105.6 889.4h0M106.3 900.4h0M97.7 891.3h0M87.6 894.3h0M92.5 886.4h0M113.0 886.5h0M98.2 886.8h0M120.5 894.2h0M88.0 892.4h0M96.5 892.3h0M101.9 888.1h0M100.0 886.7h0M109.8 896.9h0M104.7 893.9h0M99.7 888.4h0M95.9 888.0h0M99.8 906.6h0M85.9 891.2h0M111.7 892.3h0M88.2 895.1h0M96.5 899.4h0M106.7 897.1h0M104.0 890.7h0M86.9 892.3h0M124.6 893.6h0M101.2 899.6h0M116.7 885.4h0M91.4 896.7h0M84.2 889.7h0M81.5 889.8h0M91.5 890.2h0M96.3 886.6h0M84.6 885.3h0M101.8 901.3h0M113.0 889.5h0M102.3 887.2h0M119.9 895.7h0M117.3 888.8h0M102.7 889.3h0M118.3 889.6h0M84.7 889.9h0M101.0 891.4h0M94.2 883.9h0M90.9 894.8h0M94.4 884.1h0M81.7 894.7h0M112.3 887.1h0M88.3 886.4h0M123.1 895.3h0M100.1 889.1h0M87.2 896.4h0M100.4 904.1h0M102.0 907.2h0M107.9 886.9h0M102.9 907.8h0M115.5 885.2h0M93.4 893.2h0M95.8 894.7h0M84.8 895.3h0M81.5 888.7h0M79.0 891.9h0M114.7 887.8h0M116.0 897.4h0M105.0 886.3h0M118.7 889.7h0M97.0 900.2h0M82.7 892.6h0M120.5 887.3h0M85.1 884.9h0M90.0 897.3h0M89.6 896.9h0M103.1 888.9h0M103.3 909.2h0M96.0 884.8h0M108.2 890.6h0M110.3 893.8h0M82.7 889.6h0M109.5 891.0h0" stroke="#fff" stroke-width="0.7" stroke-linecap="round" opacity="0.9" fill="none"/>
<path d="M70.7 879.9C72.5 878.6 76.3 880.5 78.7 881.4C81.1 882.2 83.7 883.8 85.3 885.0C86.8 886.3 88.4 887.2 88.2 888.7C87.9 890.1 85.7 893.2 83.8 893.8C81.8 894.4 79.2 893.1 76.5 892.3C73.8 891.6 68.7 891.5 67.7 889.4C66.8 887.3 68.8 881.3 70.7 879.9 Z" fill="#f6ddd2"/>
<path d="M76.7 886.6h0M75.7 889.6h0M76.4 889.6h0M78.7 891.4h0M77.7 883.5h0M69.6 890.0h0M80.1 888.4h0M75.7 882.2h0M79.5 885.0h0M71.9 883.0h0M72.1 881.5h0M70.7 881.4h0M85.4 888.3h0M78.2 887.4h0M73.2 881.2h0M77.6 889.7h0M85.8 889.5h0M79.8 887.4h0M76.2 890.5h0M85.7 886.6h0M76.0 891.6h0M79.6 887.2h0M84.2 892.5h0M78.8 887.2h0M83.4 889.1h0M84.9 888.3h0M69.2 885.7h0M79.1 888.2h0M83.7 892.9h0M83.2 890.5h0M72.0 886.6h0M72.8 883.4h0M75.4 889.1h0M79.1 889.1h0M72.3 883.9h0M79.5 883.9h0M78.5 884.9h0M71.1 885.0h0M72.2 887.8h0M81.0 889.2h0M85.4 885.7h0M77.7 892.4h0M82.4 885.1h0M73.4 890.8h0M72.3 884.6h0M78.9 888.3h0M68.8 888.7h0M77.8 886.2h0M79.0 883.9h0M78.2 892.0h0M79.6 887.0h0M72.5 885.0h0M72.4 883.7h0M84.0 889.0h0M84.0 888.6h0M73.0 888.8h0M73.8 885.9h0M75.8 889.9h0M68.9 886.1h0M80.5 883.4h0M77.8 883.6h0M74.0 889.3h0M81.0 884.0h0M83.0 891.4h0M70.3 882.1h0M81.4 890.0h0M84.1 887.1h0M84.0 885.8h0M76.8 882.8h0M81.6 883.8h0M80.2 882.6h0M77.3 885.9h0M69.4 885.5h0M85.9 891.2h0M76.5 887.0h0M74.1 890.7h0M70.1 882.9h0M86.5 886.8h0M69.1 887.4h0M71.0 889.4h0" stroke="#fff" stroke-width="0.8" stroke-linecap="round" opacity="0.9" fill="none"/>
<path d="M83.8 883.9 L91.8 881.4 L92.3 876.3 L93.7 876.3 L94.7 880.9 L97.7 879.2 L98.7 875.1 L100.1 875.7 L101.3 881.4 L107.2 884.7 L118.8 885.6 L108.6 887.4 L98.4 887.4 L88.2 885.3 Z" fill="#f5861f"/>
<path d="M101.9 914.2C102.0 912.8 103.9 913.3 104.8 914.2C105.7 915.2 106.6 918.2 107.4 920.1C108.3 922.0 108.9 924.0 110.1 925.6C111.2 927.2 112.3 928.2 114.5 929.7C116.6 931.2 119.8 933.0 122.9 934.7C126.1 936.3 131.8 938.5 133.4 939.6C135.1 940.8 134.9 941.9 132.8 941.7C130.8 941.4 124.6 939.4 121.2 938.2C117.7 937.0 114.4 935.0 112.1 934.4C109.9 933.8 109.3 933.7 107.7 934.7C106.1 935.6 104.1 938.1 102.5 939.9C100.8 941.8 98.9 945.0 97.8 945.9C96.7 946.8 95.5 946.6 95.8 945.2C96.1 943.8 98.2 940.0 99.6 937.6C100.9 935.2 102.9 933.0 103.6 930.6C104.4 928.2 104.2 925.7 103.9 923.0C103.6 920.3 101.8 915.7 101.9 914.2 Z" fill="#dccbe4"/>
<text x="171.2" y="785" font-size="10.5" text-anchor="start" fill="#111">cells isolated from E6.5-8.5</text>
<circle cx="191.8" cy="800.5" r="4.9" fill="#e8502a" stroke="none" stroke-width="0.5"/>
<text x="200.2" y="804.2" font-size="10.6" text-anchor="start" fill="#111">Erythroid3</text>
<circle cx="191.8" cy="817.1" r="4.9" fill="#f08a80" stroke="none" stroke-width="0.5"/>
<text x="200.2" y="820.8000000000001" font-size="10.6" text-anchor="start" fill="#111">Erythroid2</text>
<circle cx="191.8" cy="834.0" r="4.9" fill="#c41e30" stroke="none" stroke-width="0.5"/>
<text x="200.2" y="837.7" font-size="10.6" text-anchor="start" fill="#111">Erythroid1</text>
<circle cx="191.8" cy="850.9" r="4.9" fill="#c9a696" stroke="none" stroke-width="0.5"/>
<text x="200.2" y="854.6" font-size="10.6" text-anchor="start" fill="#111">Blood progenitors2</text>
<circle cx="191.8" cy="867.8" r="4.9" fill="#f6ddd2" stroke="none" stroke-width="0.5"/>
<text x="200.2" y="871.5" font-size="10.6" text-anchor="start" fill="#111">Blood progenitors1</text>
<circle cx="191.8" cy="884.9" r="4.9" fill="#f5861f" stroke="none" stroke-width="0.5"/>
<text x="200.2" y="888.6" font-size="10.6" text-anchor="start" fill="#111">Endothelium</text>
<circle cx="191.8" cy="904.2" r="4.9" fill="#f7b98a" stroke="none" stroke-width="0.5"/>
<text x="200.2" y="907.9000000000001" font-size="10.6" text-anchor="start" fill="#111">Haemato-endothelial</text>
<circle cx="191.8" cy="930.3" r="4.9" fill="#dccbe4" stroke="none" stroke-width="0.5"/>
<text x="200.2" y="934.0" font-size="10.6" text-anchor="start" fill="#111">Mixed mesoderm</text>
<text x="200.2" y="918" font-size="10.6" text-anchor="start" fill="#111">progenitors</text>
<line x1="344.1" y1="789.4" x2="344.1" y2="946.3" stroke="#444" stroke-width="1"/>
<line x1="344.1" y1="946.3" x2="486" y2="946.3" stroke="#444" stroke-width="1.2"/>
<path d="M467.7 797.6C468.6 798.2 471.6 807.4 472.4 810.9C473.2 814.4 473.2 814.7 472.4 818.5C471.6 822.3 469.7 828.6 467.7 833.7C465.6 838.7 463.2 844.9 460.1 848.8C456.9 852.8 453.8 855.2 448.7 857.4C443.6 859.6 436.7 861.0 429.7 862.1C422.8 863.2 415.5 863.5 406.9 864.0C398.4 864.5 386.1 864.5 378.5 865.0C370.9 865.4 365.2 865.8 361.4 866.9C357.6 868.0 356.8 869.6 355.7 871.6C354.6 873.7 354.4 877.0 354.7 879.2C355.1 881.4 356.3 884.9 357.6 884.9C358.9 884.9 361.7 881.1 362.3 879.2C363.0 877.3 360.9 875.4 361.4 873.5C361.9 871.6 362.3 869.6 365.2 867.8C368.0 866.1 373.1 864.0 378.5 863.1C383.8 862.2 390.2 862.9 397.4 862.5C404.7 862.1 414.8 861.6 422.1 860.6C429.4 859.6 435.7 858.4 441.1 856.4C446.5 854.5 450.9 851.7 454.4 848.8C457.9 846.0 460.0 843.5 462.0 839.3C463.9 835.2 465.4 829.5 466.2 824.2C466.9 818.8 466.5 811.5 466.7 807.1C467.0 802.7 466.7 797.0 467.7 797.6 Z" fill="#d9d9d9"/>
<path d="M355.7 873.5C359.3 872.9 371.2 874.5 376.6 875.4C381.9 876.3 382.9 877.9 388.0 878.8C393.0 879.7 401.2 880.1 406.9 880.7C412.6 881.4 417.4 881.8 422.1 882.6C426.9 883.4 432.2 883.9 435.4 885.5C438.6 887.0 439.8 890.4 441.1 892.1C442.4 893.8 445.3 894.8 443.4 895.5C441.5 896.2 434.5 895.8 429.7 896.3C424.9 896.7 419.9 898.2 414.5 898.2C409.2 898.2 403.5 897.2 397.4 896.3C391.4 895.3 385.1 894.2 378.5 892.5C371.8 890.7 361.5 888.1 357.6 885.8C353.6 883.6 355.1 881.3 354.7 879.2C354.4 877.1 352.1 874.1 355.7 873.5 Z" fill="#d9d9d9"/>
<path d="M378.5 888.1h0M389.7 886.3h0M391.1 891.1h0M391.3 883.5h0M371.1 889.3h0M439.2 894.5h0M368.3 879.9h0M390.8 880.2h0M364.5 876.0h0M366.9 885.0h0M359.5 874.0h0M424.9 892.3h0M369.3 877.2h0M381.4 877.4h0M359.0 880.8h0M422.8 886.6h0M389.6 883.3h0M420.7 886.3h0M358.3 882.4h0M373.9 877.1h0M383.7 890.7h0M408.4 883.1h0M402.9 887.7h0M409.7 887.8h0M373.9 887.4h0M411.0 883.5h0M388.7 883.1h0M413.6 891.3h0M367.5 884.9h0M377.5 888.7h0M378.1 880.9h0M427.6 889.0h0M417.5 886.8h0M423.9 883.6h0M422.9 888.8h0M436.7 895.9h0M371.8 881.8h0M396.1 891.1h0M364.8 881.8h0M378.1 878.1h0M409.7 889.1h0M412.1 882.0h0M387.7 894.0h0M405.8 893.4h0M432.8 893.2h0M387.6 879.8h0M360.2 878.7h0M413.6 895.7h0M435.5 888.8h0M402.1 888.3h0M381.1 879.1h0M398.4 881.3h0M377.9 886.3h0M420.9 892.0h0M420.7 894.4h0M386.1 878.8h0M407.7 892.2h0M398.7 893.4h0M375.6 888.5h0M409.0 893.9h0M361.6 885.8h0M415.0 889.6h0M416.8 886.8h0M387.3 886.4h0M380.1 880.2h0M366.1 887.0h0M432.5 890.4h0M390.2 880.8h0M372.3 876.3h0M357.8 880.7h0M381.4 882.8h0M374.3 886.7h0M422.0 884.9h0M380.8 885.1h0M422.8 893.6h0M395.0 880.5h0M424.7 889.8h0M418.7 892.7h0M420.7 888.9h0M384.4 886.6h0M404.8 890.4h0M390.4 891.7h0M426.7 884.7h0M408.4 883.8h0M421.3 889.1h0M385.5 890.4h0M374.3 889.5h0M381.1 884.8h0M371.8 882.3h0M420.4 894.3h0M393.1 895.2h0M375.6 876.4h0M438.6 891.4h0M405.1 894.3h0M441.5 894.7h0M374.5 879.4h0M414.4 885.1h0M395.1 885.4h0M426.7 894.7h0M360.5 884.7h0M426.4 892.3h0M369.2 884.8h0M379.5 882.6h0M409.5 896.4h0M430.1 893.5h0M408.6 891.7h0M428.7 894.6h0M422.7 893.9h0M398.8 887.8h0M361.6 877.8h0M411.8 888.2h0M413.0 892.5h0M395.7 893.4h0M432.7 890.8h0M377.4 883.4h0M369.3 879.1h0M437.3 895.2h0M383.1 879.0h0M394.0 881.6h0M418.9 888.4h0M418.3 897.2h0M406.9 883.8h0M407.3 895.1h0M419.0 889.0h0M405.3 894.7h0M405.5 884.6h0M400.2 896.4h0M403.6 894.3h0M402.8 895.0h0M413.8 894.8h0M430.4 886.9h0M377.6 891.1h0M367.2 878.1h0M365.1 879.3h0M433.1 888.7h0M377.9 876.6h0M405.6 895.5h0M395.6 895.6h0M438.9 894.7h0M371.7 889.3h0M378.3 882.8h0M387.1 891.9h0M414.5 883.5h0M393.5 890.4h0M357.9 875.6h0M426.7 889.7h0M377.3 889.3h0M423.5 896.3h0M427.0 895.8h0M433.4 890.2h0M398.6 888.9h0M407.6 895.0h0M408.2 886.6h0M410.7 897.4h0M385.7 889.0h0M432.9 890.7h0M411.2 883.0h0M366.8 878.5h0M407.7 886.7h0M415.0 897.6h0M430.7 891.4h0M370.6 878.3h0M416.9 893.1h0M393.3 880.8h0M415.0 887.7h0M411.6 888.2h0M379.3 886.5h0M395.1 888.0h0M385.1 880.7h0M366.7 885.8h0M428.1 886.3h0M380.3 881.7h0M358.9 885.8h0M419.2 884.3h0M406.9 892.3h0M420.7 885.2h0M412.8 892.7h0M394.8 884.3h0M387.7 884.1h0M424.5 883.5h0M399.1 895.8h0M403.2 882.0h0M378.2 881.1h0M428.8 895.6h0M406.5 888.1h0M378.9 887.8h0M392.8 881.6h0M357.7 878.1h0M395.8 881.8h0M368.3 877.4h0M404.8 893.8h0M418.4 896.6h0M430.6 895.4h0M397.0 890.2h0M366.5 886.9h0M425.9 891.1h0M364.5 876.8h0M388.7 879.4h0M369.6 887.7h0M421.1 896.3h0M437.8 889.1h0M414.4 892.9h0M402.7 892.4h0M438.5 892.2h0M414.3 893.8h0M366.1 881.0h0M383.5 891.8h0M406.6 896.8h0M405.9 892.2h0M378.2 892.1h0M374.4 884.4h0M382.6 884.1h0M382.5 877.9h0M393.9 880.2h0M400.7 885.7h0M402.1 891.2h0M420.5 884.0h0M418.4 894.6h0M414.6 895.4h0M380.3 885.7h0M413.8 893.5h0M404.9 887.8h0M419.2 894.8h0M413.2 889.9h0M357.1 878.0h0M394.7 895.2h0M385.2 886.7h0M358.6 881.0h0M379.9 878.0h0M359.6 875.5h0M406.7 882.9h0M427.1 891.3h0M385.8 890.3h0M387.6 891.7h0M386.6 887.6h0M383.9 878.4h0M366.7 876.5h0M391.4 886.9h0M413.3 892.8h0M362.7 876.1h0M356.0 876.5h0M404.3 888.3h0M430.0 892.7h0M420.6 896.9h0M394.0 889.7h0M396.5 894.0h0M375.5 890.0h0M398.8 888.9h0M428.5 894.7h0M373.3 880.2h0M418.7 889.9h0M387.0 880.9h0M392.6 884.3h0M406.0 889.9h0M394.3 894.5h0M397.6 889.0h0M358.8 879.4h0M424.6 886.4h0M392.4 894.9h0M404.6 896.9h0" stroke="#fff" stroke-width="1.0" stroke-linecap="round" opacity="0.95" fill="none"/>
<path d="M357.6 883.0C359.5 883.1 365.5 884.9 369.0 885.8C372.5 886.8 375.3 887.6 378.5 888.5C381.6 889.4 384.8 890.2 388.0 891.0C391.1 891.8 394.3 892.5 397.4 893.2C400.6 894.0 404.4 894.8 406.9 895.5C409.5 896.2 411.2 896.3 412.6 897.4C414.1 898.5 414.8 900.3 415.5 902.0C416.2 903.7 416.6 905.8 416.8 907.7C417.0 909.6 417.1 912.7 416.8 913.4C416.5 914.0 415.4 912.7 414.9 911.5C414.4 910.3 414.3 907.6 413.6 906.2C412.8 904.7 411.8 903.7 410.4 902.7C408.9 901.8 407.2 901.5 405.0 900.6C402.9 899.8 400.3 898.4 397.4 897.4C394.6 896.4 391.1 895.5 388.0 894.6C384.8 893.6 381.6 892.7 378.5 891.7C375.3 890.7 372.5 889.7 369.0 888.7C365.5 887.6 359.5 886.4 357.6 885.5C355.7 884.5 355.7 882.9 357.6 883.0 Z" fill="#df2e5c"/>
<path d="M410.4 896.3C410.8 895.6 414.1 896.8 415.7 898.6C417.2 900.3 418.6 903.9 419.8 906.7C421.0 909.5 423.1 913.7 422.9 915.3C422.7 916.8 419.8 917.1 418.7 916.0C417.6 914.9 417.4 910.9 416.4 908.6C415.5 906.3 414.0 904.4 413.0 902.4C412.0 900.3 409.9 896.9 410.4 896.3 Z" fill="#df2e5c"/>
<path d="M417.0 908.4h0M419.5 913.1h0M415.2 900.2h0M414.4 900.2h0M418.2 906.4h0M418.2 907.4h0M417.9 911.5h0M419.4 908.4h0M418.9 911.9h0M418.3 911.0h0M418.9 913.3h0M417.0 905.4h0M415.6 901.7h0M418.1 909.7h0M417.7 907.9h0M419.1 908.2h0M414.5 903.4h0M417.1 908.9h0M414.9 903.2h0M415.0 902.4h0M420.4 913.9h0M416.8 907.7h0M417.3 907.9h0M416.4 901.3h0M419.0 912.4h0" stroke="#fff" stroke-width="0.9" stroke-linecap="round" opacity="1.0" fill="none"/>
<path d="M418.4 910.4h0M419.7 913.3h0M418.6 910.5h0M417.2 905.6h0M417.6 910.2h0M415.7 905.5h0M419.2 910.4h0M416.0 904.9h0M418.7 908.2h0M417.5 906.9h0M417.1 909.1h0M419.3 909.3h0" stroke="#1a5080" stroke-width="0.9" stroke-linecap="round" opacity="1.0" fill="none"/>
<path d="M403.8 896.6h0M397.5 896.6h0M407.2 898.7h0M398.6 897.1h0M404.2 896.5h0M405.6 896.4h0M407.1 897.1h0M407.4 898.3h0M401.7 898.8h0M402.0 896.6h0M403.5 897.1h0M404.4 897.9h0M398.6 895.0h0M409.2 897.7h0M398.8 897.5h0M402.2 895.3h0M405.5 898.5h0M395.0 896.0h0M408.2 899.9h0M403.2 895.2h0M392.8 895.3h0M404.7 896.1h0M405.2 896.8h0M401.3 896.3h0M408.2 899.8h0M397.3 895.7h0M396.9 896.5h0M400.7 895.8h0M391.1 892.4h0M397.9 895.7h0M408.6 898.3h0M409.2 896.9h0M390.8 893.7h0M394.3 893.7h0M388.6 892.0h0M404.1 898.8h0M395.0 893.6h0M401.0 894.8h0M401.6 895.8h0M399.6 894.8h0" stroke="#f4a0b0" stroke-width="0.8" stroke-linecap="round" opacity="0.8" fill="none"/>
<path d="M418.3 911.5C418.7 910.2 421.1 909.9 422.1 911.5C423.1 913.0 423.4 918.4 424.4 921.0C425.3 923.5 426.3 925.4 427.8 927.0C429.3 928.7 431.5 929.6 433.5 930.8C435.6 932.0 437.9 933.0 440.1 934.2C442.4 935.5 446.2 937.5 447.2 938.4C448.1 939.4 447.4 940.1 445.8 939.9C444.3 939.7 440.6 938.3 437.7 937.3C434.7 936.3 430.6 934.6 428.2 933.9C425.8 933.1 425.0 932.0 423.1 932.7C421.2 933.5 418.8 936.5 416.8 938.4C414.8 940.3 412.3 943.3 411.1 944.1C409.9 944.9 408.9 944.5 409.6 943.0C410.3 941.5 413.6 937.6 415.3 935.0C417.0 932.4 419.1 930.1 419.8 927.4C420.6 924.8 420.1 921.7 419.8 919.1C419.6 916.4 417.9 912.7 418.3 911.5 Z" fill="#9a2ec4"/>
<path d="M411.1 944.1C410.0 945.1 409.0 944.3 409.6 943.0C410.2 941.6 413.4 937.1 414.5 936.1C415.7 935.2 417.0 935.8 416.4 937.1C415.9 938.4 412.3 943.1 411.1 944.1 Z" fill="#3a5ec8"/>
<path d="M439.2 934.2C440.7 934.6 446.1 937.5 447.2 938.4C448.3 939.4 447.3 940.3 445.8 939.9C444.4 939.6 439.4 937.1 438.3 936.1C437.1 935.2 437.7 933.9 439.2 934.2 Z" fill="#3a5ec8"/>
<path d="M398.9 864.1h0M398.5 863.2h0M466.5 829.6h0M428.1 860.3h0M355.7 877.7h0M468.5 807.5h0M467.7 815.3h0M470.1 817.1h0M470.7 816.1h0M450.6 854.2h0M356.2 879.8h0M372.6 865.3h0M358.5 870.3h0M355.2 876.2h0M361.9 876.7h0M435.1 860.0h0M463.2 842.0h0M466.9 815.0h0M436.1 857.9h0M468.4 825.5h0M432.9 859.1h0M398.7 863.3h0M458.2 847.2h0M400.8 863.6h0M450.1 853.9h0M459.5 843.5h0M435.4 860.4h0M447.8 857.0h0M466.5 815.6h0M440.6 859.2h0M440.9 858.3h0M375.1 864.3h0M455.0 849.5h0M363.1 869.9h0M448.3 852.8h0M442.9 857.5h0M470.3 823.9h0M459.8 844.4h0M433.1 860.3h0M404.5 862.4h0M430.2 860.0h0M360.0 880.5h0M433.1 858.5h0M361.1 877.9h0M358.3 870.4h0M357.6 880.6h0M377.7 864.3h0M361.6 868.4h0M467.4 833.3h0M413.9 862.6h0M448.4 855.1h0M390.3 864.5h0M471.1 808.1h0M470.9 811.6h0M471.3 813.4h0M468.3 816.3h0M463.9 836.2h0M359.9 872.5h0M390.2 863.9h0M410.8 862.4h0M365.5 867.2h0M455.6 847.6h0M356.3 878.7h0M357.9 881.3h0M465.9 829.4h0M467.8 832.8h0M446.3 857.8h0M468.3 800.1h0M379.0 864.8h0M412.4 861.6h0M457.9 844.9h0M357.0 875.4h0M399.5 863.8h0M453.2 850.5h0M399.0 863.1h0M467.6 818.1h0M361.4 878.1h0M466.9 807.7h0M455.0 851.8h0M357.3 875.5h0M465.2 837.7h0M471.9 814.8h0M361.8 878.6h0M472.2 811.2h0M436.4 860.2h0M417.9 861.1h0M469.6 821.3h0M359.0 877.2h0M461.2 843.7h0M427.1 861.5h0M358.4 872.2h0M467.3 818.3h0M440.5 858.0h0M470.4 814.4h0M466.8 820.7h0M467.7 821.8h0M361.8 869.5h0M465.6 828.6h0M470.2 813.8h0M462.7 837.8h0M451.4 852.7h0M446.9 857.7h0M470.6 808.7h0M359.3 870.3h0M468.7 809.2h0M455.6 847.8h0M456.4 846.7h0M467.0 824.6h0M359.1 872.7h0M360.4 869.3h0M355.6 874.8h0M429.6 860.7h0M362.2 872.2h0M384.9 863.8h0M429.8 860.5h0M440.7 856.9h0M459.3 844.1h0M462.7 842.3h0M439.9 857.5h0M425.2 862.0h0M436.1 859.3h0M468.5 825.6h0M471.2 814.2h0M467.4 822.9h0M378.8 863.9h0M357.1 882.1h0M468.8 807.7h0M470.9 820.8h0M449.7 852.5h0M408.9 862.8h0M442.1 859.0h0M396.5 863.5h0M366.3 867.2h0M361.8 872.0h0M429.2 861.1h0M358.7 878.5h0M455.2 850.8h0M469.7 810.9h0M471.8 810.3h0M447.6 857.3h0M427.3 860.0h0M470.4 810.7h0M443.2 858.3h0M467.4 832.8h0M467.3 826.2h0M388.3 863.3h0M360.0 878.8h0M466.0 834.9h0M408.0 863.3h0M455.5 849.2h0M455.0 850.5h0M453.1 851.9h0M361.4 874.1h0M430.2 860.8h0M366.0 866.5h0M376.1 864.9h0M471.5 808.9h0M377.7 864.1h0M458.2 849.5h0M462.0 845.0h0M466.7 825.1h0M468.9 803.9h0M442.5 857.4h0M380.7 864.3h0M467.5 830.3h0M465.0 838.3h0M466.7 831.4h0M466.6 834.3h0M467.3 807.8h0M358.6 880.1h0M417.2 861.8h0M461.6 840.5h0M465.5 832.5h0M390.6 864.1h0M454.1 853.1h0M469.7 814.6h0M360.0 881.0h0M431.9 858.9h0M359.7 871.9h0M469.7 820.8h0M469.7 819.6h0M357.5 877.2h0M450.8 851.1h0M391.1 863.0h0M456.7 847.7h0M466.7 821.5h0M357.8 882.0h0M450.3 853.9h0M360.1 868.1h0M470.0 818.3h0M413.7 862.5h0M466.7 832.1h0M357.3 878.9h0M470.5 816.9h0M408.6 863.2h0M434.6 860.1h0M451.5 854.5h0M450.8 855.7h0M469.1 820.9h0M361.0 867.8h0M448.4 855.6h0M456.9 850.5h0M363.5 867.4h0M432.0 861.0h0M400.8 862.5h0M386.2 864.3h0M358.9 876.4h0M361.4 875.7h0M361.7 868.2h0M468.8 808.8h0M463.0 839.2h0M440.0 856.7h0M462.1 843.5h0M471.1 814.6h0M469.0 825.7h0M467.8 830.4h0M464.1 833.6h0M373.2 865.3h0M466.9 812.5h0M359.2 878.7h0M356.5 880.9h0M444.7 855.0h0M402.8 863.0h0M455.3 848.9h0M471.5 814.0h0M460.5 843.7h0M468.1 810.6h0M471.0 821.1h0M453.8 850.5h0M453.6 853.4h0M447.1 857.0h0M405.7 862.2h0M454.9 852.5h0M424.1 860.6h0M448.6 853.6h0M406.6 863.1h0M449.0 854.6h0M467.0 834.2h0M460.2 842.8h0M396.8 863.8h0M467.6 829.7h0M414.1 863.2h0M467.9 816.2h0M362.4 867.3h0M356.7 871.2h0M472.0 810.4h0M456.3 847.7h0M386.9 864.3h0M463.4 841.8h0M384.9 863.6h0M451.3 854.4h0M360.3 872.4h0M465.2 833.6h0M450.4 853.0h0M467.6 806.4h0M388.9 863.8h0M464.9 838.6h0M470.0 815.6h0M357.1 876.7h0M468.2 811.0h0M468.9 818.9h0M391.4 862.9h0M462.8 836.6h0M450.3 854.8h0M465.4 837.1h0M468.1 809.5h0M457.3 847.5h0M395.5 863.5h0M466.4 823.3h0M436.3 857.8h0M453.4 852.0h0M357.5 879.7h0M469.5 820.7h0M468.1 811.8h0M468.6 819.3h0M414.5 861.2h0M468.4 826.7h0M464.4 836.4h0M455.2 852.3h0M355.5 876.3h0M467.8 810.4h0M469.6 818.0h0M363.8 866.7h0M426.7 860.3h0M419.8 861.7h0M391.6 863.7h0M399.2 864.2h0M356.2 880.9h0M465.1 836.2h0M460.1 843.0h0M469.4 825.4h0M469.6 818.3h0M403.3 862.2h0M469.0 825.3h0M432.9 859.1h0M377.2 865.0h0M440.3 859.4h0M373.8 865.2h0M468.4 812.3h0M358.2 882.7h0M364.0 867.6h0M420.8 861.5h0M383.6 863.8h0M450.1 853.1h0M468.5 813.8h0M361.3 873.7h0M452.5 852.1h0M363.6 869.6h0M450.5 852.6h0M418.3 861.2h0M378.7 863.4h0M429.8 860.3h0M355.8 874.9h0M458.3 844.0h0M463.3 841.8h0M457.3 848.4h0M452.8 852.1h0M448.0 854.4h0M438.1 858.1h0M469.5 825.9h0M409.6 863.1h0M456.4 851.0h0M360.4 871.1h0M465.2 831.1h0M456.2 851.2h0M452.8 851.9h0M469.1 807.6h0M378.4 864.1h0M411.6 862.2h0M413.0 861.5h0" stroke="#3fa83a" stroke-width="1.24" stroke-linecap="round" opacity="0.95" fill="none"/>
<path d="M469.6 818.0h0M453.6 853.4h0M384.9 863.6h0M380.7 864.3h0M452.8 852.1h0M399.5 863.8h0M469.0 825.7h0M361.6 868.4h0M467.3 807.8h0M395.5 863.5h0M446.9 857.7h0M467.4 822.9h0M468.9 818.9h0M376.1 864.9h0M361.8 869.5h0" stroke="#e8d030" stroke-width="1.0" stroke-linecap="round" opacity="1.0" fill="none"/>
<path d="M379.5 870.7h0M378.7 871.2h0M381.3 872.6h0M383.6 868.0h0M381.1 870.8h0M379.2 875.3h0M379.6 872.8h0M380.7 876.7h0M382.9 866.6h0M378.8 875.0h0M378.6 870.6h0M382.2 875.3h0M383.9 866.9h0M380.9 873.8h0M376.9 868.9h0M380.2 869.9h0M379.4 876.2h0M380.0 877.1h0M382.5 870.2h0M380.8 870.8h0M381.7 867.1h0M377.7 872.5h0M379.4 866.9h0M382.0 875.5h0M381.5 867.3h0" stroke="#5cb84a" stroke-width="1.1" stroke-linecap="round" opacity="1.0" fill="none"/>
<path d="M404.3 879.6h0M389.0 882.1h0M406.1 881.6h0M393.8 883.2h0M389.1 881.1h0M397.7 883.8h0M388.8 879.7h0M397.2 882.8h0M401.7 882.3h0M383.8 880.9h0M395.2 878.1h0M404.1 883.5h0M386.7 877.6h0M395.5 879.4h0M398.3 878.9h0M390.6 883.2h0M400.3 878.6h0M394.9 883.0h0M391.0 880.1h0M387.1 881.3h0M384.2 882.7h0M386.0 879.8h0M398.5 879.2h0M399.5 883.3h0M383.2 879.0h0M396.3 879.9h0M387.8 882.9h0M394.9 879.2h0M399.7 881.4h0M382.3 881.6h0M390.9 880.2h0M387.1 883.5h0M392.1 878.3h0M390.1 878.0h0M385.2 882.0h0M382.5 879.9h0M395.3 880.2h0M401.7 880.7h0M384.5 877.0h0M405.8 884.2h0M401.5 879.2h0M385.4 880.7h0M390.2 883.7h0M385.7 882.8h0M401.8 881.8h0M383.9 881.1h0M392.1 878.7h0M387.3 881.3h0M404.3 883.2h0M394.2 881.7h0M403.4 882.7h0M380.6 877.8h0M397.2 881.0h0M404.6 880.2h0M384.1 881.4h0M402.4 881.5h0M403.0 883.6h0M401.0 883.3h0M399.7 884.0h0M390.8 883.6h0M385.3 880.9h0M404.0 882.7h0M386.1 882.3h0M387.6 881.1h0M400.0 880.0h0M397.9 883.2h0M388.1 878.3h0M383.7 881.5h0M404.5 881.4h0M403.2 883.2h0" stroke="#e8d030" stroke-width="1.2" stroke-linecap="round" opacity="1.0" fill="none"/>
<path d="M370.5 882.0h0M361.7 879.6h0M366.4 878.4h0M362.1 879.9h0M368.4 880.5h0M365.6 882.0h0M366.7 883.0h0M371.7 878.2h0M371.6 878.2h0M376.7 881.4h0M372.8 880.5h0M369.8 879.7h0M378.4 880.6h0M372.3 880.8h0M370.0 882.0h0M374.4 878.7h0M378.0 882.2h0M366.2 882.5h0M378.0 881.0h0M365.4 882.1h0M368.7 879.0h0M375.2 879.5h0M363.9 877.9h0M367.2 881.4h0M366.4 881.6h0M367.1 877.3h0M364.7 881.3h0M369.4 880.6h0M367.9 878.3h0M362.7 879.9h0" stroke="#6cc04a" stroke-width="1.1" stroke-linecap="round" opacity="1.0" fill="none"/>
<path d="M405.0 876.4C405.0 875.5 405.6 875.0 406.2 875.8C406.7 876.6 407.8 879.8 408.5 881.1C409.2 882.4 410.4 882.9 410.4 883.4C410.3 883.8 408.5 884.2 407.9 883.8C407.3 883.3 407.0 882.0 406.6 880.7C406.1 879.5 405.1 877.2 405.0 876.4 Z" fill="#f57a30"/>
<path d="M412.3 874.5C412.3 873.3 413.1 873.7 413.4 874.5C413.7 875.2 413.6 877.6 414.1 879.2C414.7 880.8 415.9 882.8 416.4 883.9C417.0 885.1 417.9 885.5 417.6 885.8C417.2 886.2 415.3 886.8 414.5 886.0C413.8 885.2 413.4 883.0 413.0 881.1C412.6 879.2 412.2 875.6 412.3 874.5 Z" fill="#f57a30"/>
<path d="M427.7 884.3h0M423.5 883.7h0M431.5 886.1h0M426.7 885.4h0M428.9 883.9h0M426.1 884.5h0M426.6 884.9h0M427.7 884.8h0M431.5 884.2h0M423.2 884.8h0M430.1 886.1h0M431.7 885.7h0M429.5 886.0h0M432.3 885.3h0M431.9 885.7h0M425.0 885.8h0M424.4 883.9h0M430.2 886.3h0M428.3 885.5h0M423.2 884.3h0M427.2 884.0h0M424.6 884.2h0M423.5 884.8h0M424.6 883.6h0M425.4 885.4h0" stroke="#f59050" stroke-width="1.2" stroke-linecap="round" opacity="1.0" fill="none"/>
<path d="M418.3 898.1h0M416.0 897.5h0M407.5 893.7h0M419.2 891.6h0M414.8 890.4h0M420.1 895.0h0M397.7 892.7h0M416.3 894.6h0M428.0 894.8h0M399.1 892.8h0M413.7 893.9h0M393.8 890.4h0M423.1 894.3h0M414.0 891.7h0M403.5 890.1h0M402.2 895.9h0M398.1 889.9h0M418.8 895.5h0M420.0 895.2h0M402.7 892.1h0M424.0 890.6h0M432.0 892.6h0M404.1 893.2h0M409.5 891.0h0M408.2 890.3h0M407.6 893.5h0M425.4 891.5h0M395.7 892.1h0M429.8 892.2h0M400.5 892.2h0M400.9 892.6h0M421.0 891.6h0M420.5 891.1h0M403.6 892.4h0M420.8 893.5h0M399.7 892.6h0M425.8 893.9h0M425.2 892.2h0M417.5 890.6h0M406.4 891.3h0M402.1 894.0h0M414.5 892.7h0M397.9 890.9h0M407.2 894.7h0M431.5 893.5h0M419.4 892.2h0M405.0 892.3h0M431.0 894.3h0M397.4 891.3h0M423.9 893.2h0M419.2 894.3h0M411.7 896.5h0M417.1 890.4h0M414.5 892.2h0M433.8 893.0h0M401.1 891.8h0M400.2 891.1h0M418.5 895.3h0M418.6 897.7h0M411.5 891.8h0M410.4 890.0h0M424.7 891.8h0M416.5 890.9h0M399.9 890.8h0M416.7 890.3h0M425.5 895.5h0M433.7 893.7h0M396.4 890.6h0M416.4 892.1h0M408.5 889.8h0M411.9 890.3h0M401.4 893.3h0M417.7 891.5h0M408.2 891.5h0M399.0 890.2h0M403.8 890.9h0M407.1 890.4h0M393.4 889.7h0M423.2 896.7h0M427.4 894.2h0M414.6 890.3h0M421.5 891.8h0M416.0 893.6h0M418.1 893.0h0M398.1 895.2h0M430.1 894.0h0M404.3 895.3h0M398.8 891.7h0M405.4 892.5h0M408.1 895.6h0" stroke="#df2e5c" stroke-width="1.1" stroke-linecap="round" opacity="1.0" fill="none"/>
<path d="M434.2 889.3h0M423.7 892.4h0M420.4 897.3h0M423.2 892.6h0M407.4 885.6h0M428.9 891.0h0M426.7 891.8h0M417.2 894.4h0M408.6 887.6h0M428.8 888.5h0M409.8 893.3h0M410.2 893.0h0M420.2 892.1h0M411.2 893.4h0M428.9 891.2h0M424.6 897.3h0M427.9 888.4h0M425.3 892.0h0M431.9 893.1h0M414.0 885.7h0M428.8 887.4h0M417.3 899.3h0M424.8 892.9h0M428.3 890.6h0M416.7 890.8h0M433.7 895.6h0M413.3 896.2h0M410.1 891.9h0M412.1 892.2h0M427.4 886.4h0M423.8 890.0h0M433.0 887.2h0M423.4 894.5h0M420.6 892.4h0M420.0 894.9h0M416.0 892.1h0M409.9 889.8h0M431.5 891.9h0M410.8 891.1h0M430.7 893.0h0M413.4 891.4h0M425.3 893.8h0M424.0 893.3h0M435.8 893.0h0M412.7 894.3h0M431.8 895.7h0M418.0 898.5h0M433.2 888.8h0M431.8 895.0h0M422.5 892.2h0M418.8 900.8h0M425.2 898.0h0M421.2 898.3h0M415.4 890.2h0M432.6 890.5h0M419.1 888.9h0M412.8 894.8h0M427.4 888.5h0M419.6 893.7h0M432.6 895.8h0" stroke="#9a2ec4" stroke-width="1.0" stroke-linecap="round" opacity="1.0" fill="none"/>
<path d="M416.4 892.1h0M414.0 895.2h0M417.9 890.4h0M416.1 894.2h0M414.9 895.3h0M418.9 893.0h0M412.9 892.0h0M418.4 888.8h0M416.9 893.1h0M416.8 894.6h0M415.7 889.4h0M415.2 890.5h0M415.1 892.4h0M418.5 893.0h0M418.6 889.3h0M414.8 894.6h0M418.0 889.1h0M414.0 895.2h0M416.8 890.8h0M413.9 893.9h0" stroke="#30c0d8" stroke-width="1.2" stroke-linecap="round" opacity="1.0" fill="none"/>
<path d="M410.1 893.5h0M405.2 892.8h0M420.7 895.6h0M389.7 885.2h0M421.1 884.7h0M423.1 898.1h0M415.6 893.4h0M420.2 893.4h0M420.4 886.1h0M411.4 898.1h0M418.8 890.8h0M414.2 888.4h0M385.5 883.8h0M381.2 882.9h0M418.8 892.6h0M419.7 893.1h0M410.8 888.0h0M412.7 902.0h0M401.6 882.0h0M397.0 888.0h0M387.8 885.0h0M416.2 897.2h0M410.7 885.8h0M419.3 889.5h0M415.4 893.7h0" stroke="#1a5080" stroke-width="1.0" stroke-linecap="round" opacity="1.0" fill="none"/>
<path d="M414.2 888.4h0M418.8 887.0h0M406.3 889.0h0M402.0 887.3h0M389.8 884.0h0M389.8 885.0h0M417.9 887.8h0M410.4 887.3h0M397.6 887.2h0M388.5 886.0h0M429.0 889.5h0M418.2 889.1h0M414.9 885.4h0M409.7 888.7h0M409.3 887.4h0M412.8 889.0h0M411.8 885.0h0M391.5 883.1h0M402.4 889.8h0M388.5 885.8h0M416.9 890.8h0M394.3 882.6h0M415.0 886.7h0M413.4 885.7h0M407.2 883.8h0M400.8 889.5h0M402.7 888.3h0M423.3 891.7h0M406.2 887.3h0M414.8 884.9h0M428.2 886.3h0M411.3 890.5h0M390.9 887.8h0M397.0 886.9h0M396.2 884.8h0M420.1 886.3h0M404.9 889.4h0M394.6 888.0h0M405.3 883.6h0M409.7 889.2h0M418.4 890.8h0M411.6 888.9h0M391.3 881.8h0M425.9 886.9h0M396.8 884.6h0M417.8 888.6h0M425.5 889.2h0M394.6 882.2h0M409.5 886.1h0M421.4 891.6h0M421.0 889.5h0M409.9 888.3h0M418.0 889.8h0M403.4 888.4h0M407.5 883.1h0M413.1 890.0h0M418.2 884.8h0M425.7 888.9h0M429.0 890.3h0M428.1 887.0h0" stroke="#fff" stroke-width="1.0" stroke-linecap="round" opacity="1.0" fill="none"/>
<text x="512.2" y="785.2" font-size="10.4" text-anchor="start" fill="#111">cells isolated from in vitro model</text>
<circle cx="524.4" cy="797.7" r="5" fill="#30c0d8" stroke="none" stroke-width="0.5"/>
<text x="532.6" y="801.4000000000001" font-size="10.6" text-anchor="start" fill="#111">CD41<tspan font-size="6" baseline-shift="3.8">-</tspan>VE-cad<tspan font-size="6" baseline-shift="3.8">-</tspan></text>
<circle cx="524.4" cy="814.4" r="5" fill="#3aa84a" stroke="none" stroke-width="0.5"/>
<text x="532.6" y="818.1" font-size="10.6" text-anchor="start" fill="#111">CD41<tspan font-size="6" baseline-shift="3.8">+</tspan>VE-cad<tspan font-size="6" baseline-shift="3.8">-</tspan>ckit<tspan font-size="6" baseline-shift="3.8">-</tspan></text>
<circle cx="524.4" cy="831.3" r="5" fill="#6cc04a" stroke="none" stroke-width="0.5"/>
<text x="532.6" y="835.0" font-size="10.6" text-anchor="start" fill="#111">CD41<tspan font-size="6" baseline-shift="3.8">+</tspan>VE-cad<tspan font-size="6" baseline-shift="3.8">-</tspan>ckit<tspan font-size="6" baseline-shift="3.8">+</tspan></text>
<circle cx="524.4" cy="848.0" r="5" fill="#e8d030" stroke="none" stroke-width="0.5"/>
<text x="532.6" y="851.7" font-size="10.6" text-anchor="start" fill="#111">CD41<tspan font-size="6" baseline-shift="3.8">+</tspan>VE-cad<tspan font-size="6" baseline-shift="3.8">+</tspan></text>
<circle cx="524.4" cy="864.9" r="5" fill="#f59050" stroke="none" stroke-width="0.5"/>
<text x="532.6" y="868.6" font-size="10.6" text-anchor="start" fill="#111">CD41<tspan font-size="6" baseline-shift="3.8">-</tspan>VE-cad<tspan font-size="6" baseline-shift="3.8">+</tspan></text>
<circle cx="524.4" cy="881.8" r="5" fill="#e0305a" stroke="none" stroke-width="0.5"/>
<text x="532.6" y="885.5" font-size="10.6" text-anchor="start" fill="#111">F_SP HEM</text>
<circle cx="524.4" cy="900.8" r="5" fill="#8e44ad" stroke="none" stroke-width="0.5"/>
<text x="532.6" y="904.5" font-size="10.6" text-anchor="start" fill="#111">DP priMes</text>
<circle cx="524.4" cy="920.4" r="5" fill="#4a70c0" stroke="none" stroke-width="0.5"/>
<text x="532.6" y="924.1" font-size="10.6" text-anchor="start" fill="#111">P_SP</text>
<circle cx="524.4" cy="938.8" r="5" fill="#1a5080" stroke="none" stroke-width="0.5"/>
<text x="532.6" y="942.5" font-size="10.6" text-anchor="start" fill="#111">DN</text>
</svg></body></html>
